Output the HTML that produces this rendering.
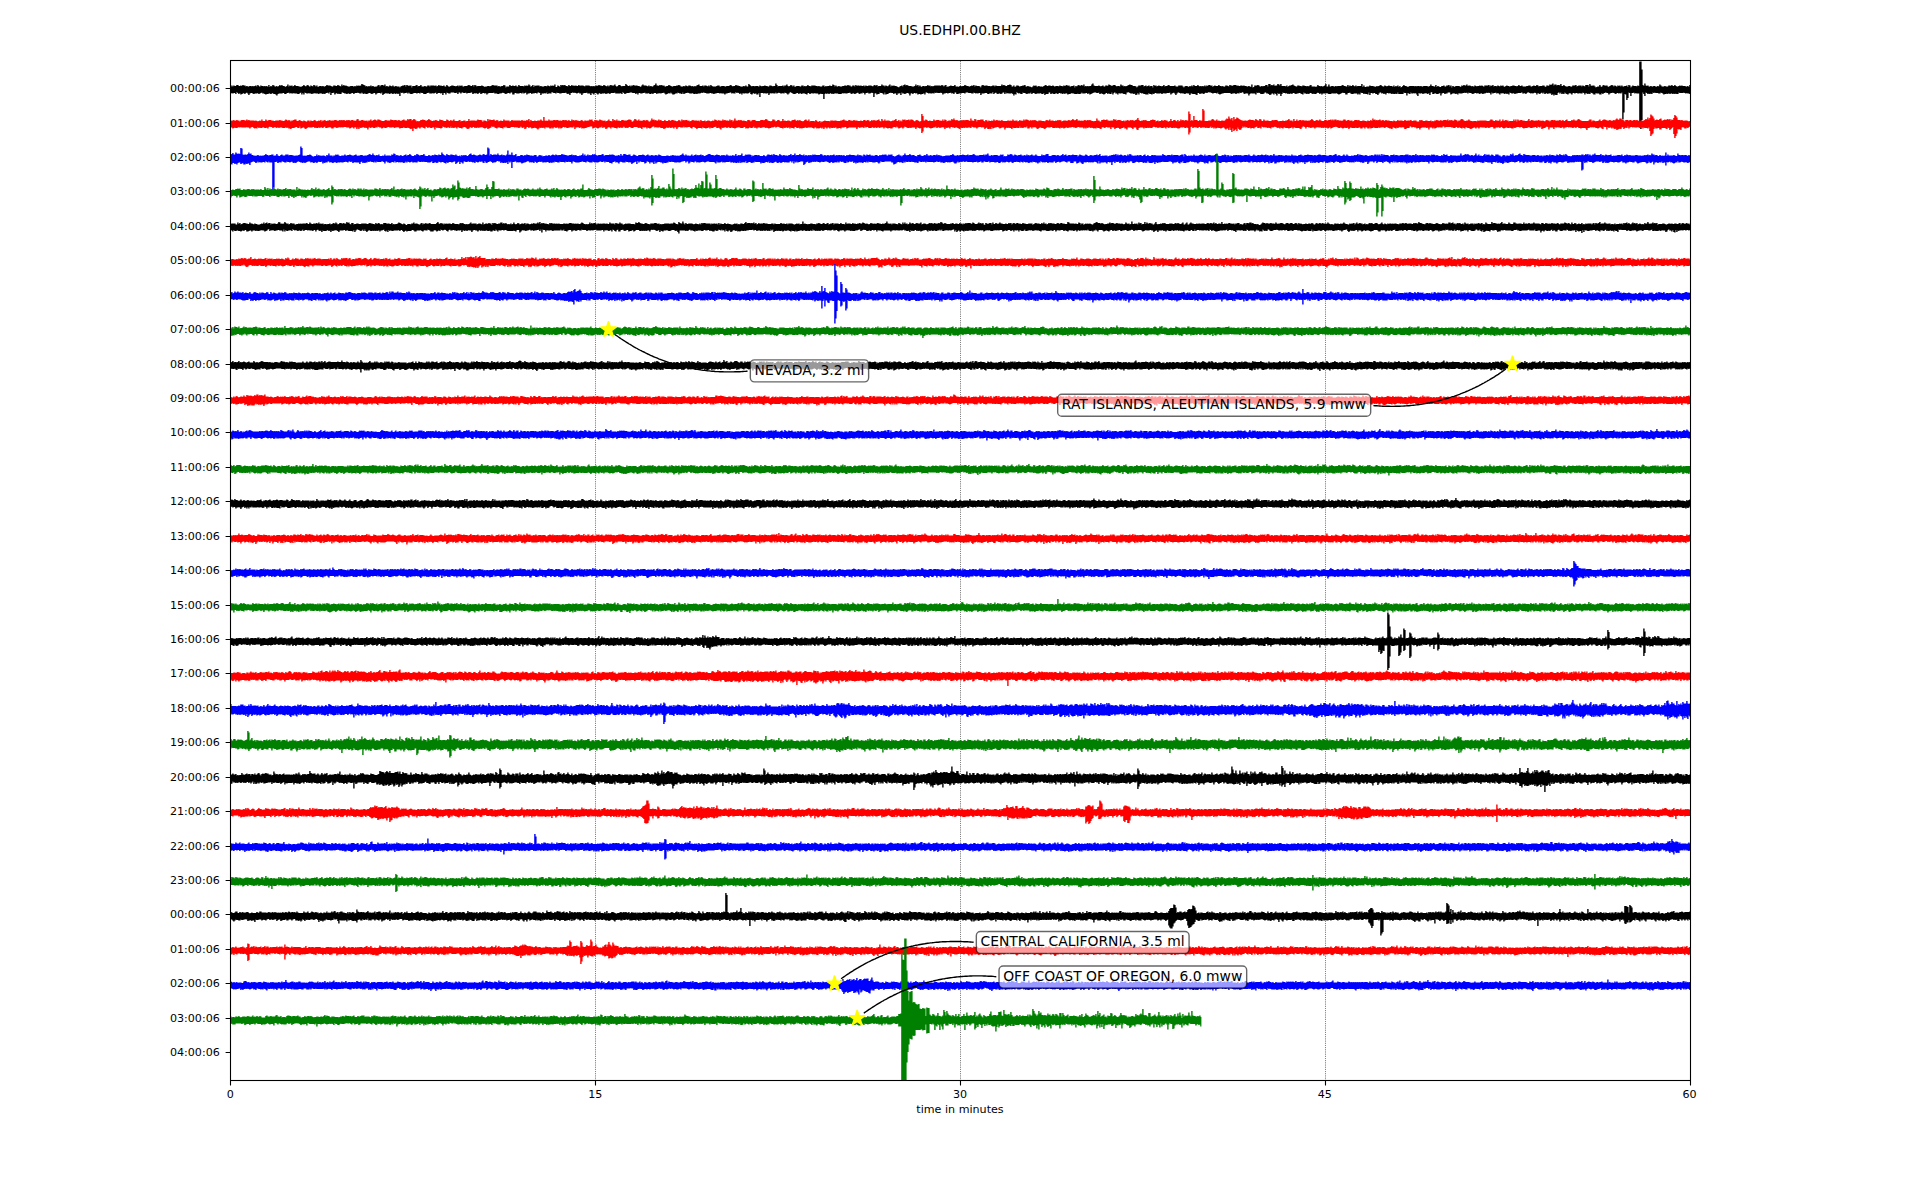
<!DOCTYPE html>
<html><head><meta charset="utf-8"><title>US.EDHPI.00.BHZ</title>
<style>html,body{margin:0;padding:0;background:#fff;width:1920px;height:1200px;overflow:hidden}svg{display:block}</style>
</head><body>
<svg width="1920" height="1200" viewBox="0 0 1920 1200">
<rect width="1920" height="1200" fill="#fff"/>
<line x1="595.5" y1="61" x2="595.5" y2="1080" stroke="#000" stroke-width="0.7" stroke-dasharray="0.7 1.15"/>
<line x1="960.5" y1="61" x2="960.5" y2="1080" stroke="#000" stroke-width="0.7" stroke-dasharray="0.7 1.15"/>
<line x1="1325.5" y1="61" x2="1325.5" y2="1080" stroke="#000" stroke-width="0.7" stroke-dasharray="0.7 1.15"/>
<g transform="scale(0.2 0.5)">
<path fill="#000000" d="M1152 174h4v-3h7v2h3v-2h7v1h8v-2h12v2h8v-1h7v1h3v-2h7v1h10v2h3v-1h7v1h8v-1h12v1h3v-1h7v1h3v-1h5v-1h7v2h3v-3h7v2h5v2h3v-3h7v1h10v1h3v-1h7v1h3v-1h7v2h3v-4h7v4h3v-2h7v1h3v-3h7v1h5v2h8v-1h7v2h3v-2h5v-2h7v2h3v-2h7v2h10v1h5v1h3v-2h5v-3h7v4h3v-2h7v1h3v-1h7v2h3v-1h5v-2h7v2h15v1h10v1h3v-1h5v-1h5v-2h7v2h5v1h3v-2h5v-1h7v2h5v2h3v-3h7v1h5v1h3v-3h7v1h5v2h3v-2h7v3h3v-1h5v-1h12v1h3v-1h7v1h8v-1h5v-2h7v1h15v1h5v1h8v-2h12v1h8v-2h7v1h5v1h5v1h3v-4h7v3h3v-2h7v2h3v-1h7v1h5v1h13v-1h17v2h3v-2h7v1h3v-2h7v1h3v-1h7v1h3v-1h5v-3h7v1h5v1h5v1h5v2h3v-1h7v2h3v-2h7v1h3v-2h7v2h3v-1h7v1h5v1h3v-1h10v-2h5v-1h7v3h3v-2h5v-1h12v2h3v-3h7v4h3v-1h7v1h8v-2h7v1h5v1h3v-2h7v2h8v-1h7v1h15v2h3v-2h5v-1h5v-1h10v-1h7v3h3v-3h7v1h5v1h3v-1h12v4h3v-3h15v-1h5v-1h7v3h3v-1h10v-2h7v3h13v-1h7v1h8v-2h12v2h3v-2h22v1h3v-1h7v2h3v-1h5v-2h7v2h3v-1h7v1h8v-1h7v2h8v-3h7v2h5v2h3v-1h5v-1h5v-1h12v1h10v1h3v-1h5v-1h7v2h3v-2h7v1h3v-1h7v2h8v-1h15v-1h5v-1h7v1h5v1h8v-2h7v3h3v-3h7v1h5v2h3v-1h20v-1h7v1h5v1h5v1h3v-1h10v-1h12v1h3v-1h5v-1h5v-1h7v1h20v2h3v-1h7v1h8v-1h10v-2h7v1h5v4h3v-2h15v-3h7v2h8v-1h7v1h8v-1h7v2h8v-3h7v2h20v1h3v-2h7v1h3v-1h7v1h3v-3h7v2h5v3h3v-2h5v-2h7v4h3v-3h7v1h3v-1h17v2h3v-1h7v1h13v-1h12v1h3v-2h7v1h5v1h3v-2h7v1h3v-1h7v1h3v-3h7v5h8v-3h7v1h5v2h3v-4h7v1h3v-1h7v1h3v-1h7v2h10v1h3v-3h7v2h8v-2h7v2h3v-1h7v1h3v-1h7v1h8v-2h7v2h3v-1h17v1h5v1h3v-2h22v1h5v1h3v-1h7v1h3v-1h7v1h3v-1h5v-1h7v1h3v-2h7v1h10v1h8v-2h7v1h5v1h5v1h3v-2h7v2h3v-2h5v-1h7v1h13v-2h7v3h5v2h3v-2h5v-2h12v2h5v1h3v-1h15v-4h7v2h5v2h8v-1h7v2h3v-2h10v-1h7v2h3v-1h12v1h10v1h5v1h3v-3h5v-2h7v2h15v1h5v1h3v-2h7v2h3v-1h7v1h8v-2h5v-1h5v-3h7v4h10v1h3v-2h7v1h3v-1h7v2h3v-1h7v2h8v-1h10v-2h7v1h5v1h5v1h8v-1h15v-1h10v-1h7v1h5v2h13v-1h7v1h3v-2h7v1h5v1h3v-2h12v1h5v1h3v-1h7v2h3v-2h7v1h3v-2h5v-1h5v-1h7v3h13v-1h7v2h3v-2h12v1h5v1h3v-2h7v2h3v-3h7v2h5v1h18v-1h5v-1h12v2h8v-1h17v1h8v-1h15v-1h5v-1h7v2h5v1h3v-1h10v-2h7v1h10v1h10v2h3v-1h10v-1h7v1h3v-2h7v2h8v-5h7v2h5v2h5v1h3v-1h12v1h3v-1h17v2h3v-3h7v1h5v1h3v-1h10v-1h7v1h10v1h8v-2h12v1h5v1h3v-1h10v-5h7v3h5v3h3v-1h20v-1h7v2h3v-2h10v-2h7v3h5v1h3v-1h5v-2h7v1h5v2h3v-2h7v3h3v-1h5v-1h17v1h8v-2h12v2h3v-1h7v1h3v-1h5v-2h7v2h10v1h3v-2h22v1h10v1h3v-1h7v1h13v-2h12v3h3v-2h7v1h3v-1h10v-1h7v1h8v-3h7v1h5v3h3v-2h7v2h8v-1h7v1h13v-1h10v-1h12v1h3v-2h7v1h10v2h8v-2h12v2h3v-3h7v2h3v-1h12v1h3v-1h7v1h8v-1h7v2h3v-2h7v1h8v-1h17v1h5v1h3v-2h5v-1h7v2h3v-2h7v3h3v-1h15v-3h7v2h10v2h3v-2h7v1h5v1h3v-2h5v-2h7v4h3v-2h7v1h3v-1h7v1h10v1h5v1h5v1h3v-2h5v-1h5v-1h7v2h3v-3h5v-1h7v2h3v-1h7v1h5v1h15v1h13v-1h5v-3h7v3h3v-2h7v3h3v-2h7v2h5v1h3v-2h12v1h3v-1h10v-2h7v2h3v-1h7v2h3v-1h7v1h3v-1h5v-1h32v1h3v-2h7v1h5v2h3v-2h5v-1h7v4h3v-1h10v-1h5v-1h7v1h13v-2h7v3h15v1h3v-2h12v1h3v-1h10v-2h7v1h5v1h10v1h8v-1h5v-1h7v1h3v-2h7v3h3v-2h7v1h15v1h5v2h3v-4h5v-1h7v1h5v1h3v-1h12v1h15v1h3v-1h5v-1h12v2h3v-2h7v1h23v-3h7v2h3v-1h7v1h5v1h8v-2h10v-1h7v1h5v3h8v-2h7v3h3v-1h5v-2h12v1h5v2h3v-2h10v-1h10v-1h7v3h8v-1h7v1h10v1h5v1h3v-2h5v-2h7v1h3v-1h7v2h8v-1h7v1h15v1h3v-2h5v-1h5v-1h7v2h8v-1h12v1h8v-1h7v1h5v2h3v-2h17v1h3v-2h7v1h10v1h3v-2h7v1h3v-1h5v-1h7v2h3v-1h7v2h8v-1h10v-1h7v4h3v-3h7v1h3v-2h5v-1h7v2h3v-1h5v-1h7v2h3v-3h7v4h3v-1h7v1h3v-1h7v1h3v-1h10v-3h5v-2h7v4h5v1h18v-1h7v1h5v1h3v-1h5v-1h7v2h8v-2h12v1h3v-3h7v1h5v1h5v1h3v-1h5v-1h12v2h5v1h3v-1h12v1h3v-4h7v2h10v2h3v-1h7v1h3v-1h5v-1h5v-1h5v-1h7v1h10v2h15v1h5v2h3v-2h5v-2h15v-1h12v3h3v-1h5v-1h7v2h3v-1h5v-1h7v2h3v-1h12v3h3v-5h7v2h3v-1h7v2h3v-1h5v-1h7v1h10v1h3v-1h5v-2h7v3h3v-1h10v-1h5v-1h7v2h23v-1h7v2h13v-2h22v2h5v2h3v-2h5v-1h12v1h5v1h3v-2h7v1h3v-2h7v2h3v-3h7v2h13v-2h7v2h5v1h3v-1h7v1h3v-1h7v1h3v-2h7v2h3v-2h7v1h3v-2h12v2h3v-1h7v3h3v-2h5v-1h7v1h13v-2h7v2h10v1h3v-1h7v2h3v-1h5v-2h12v1h5v1h3v-3h7v1h10v1h3v-2h17v2h3v-1h7v1h8v-1h12v1h3v-1h7v1h10v1h8v-1h7v1h5v1h3v-5h7v6h3v-1h5v-3h15v-1h7v1h5v2h8v-1h7v1h3v-1h10v-2h12v3h3v-5h12v3h3v-1h7v1h3v-2h7v3h3v-1h10v-3h7v1h5v2h3v-3h7v4h20v1h3v-2h7v3h3v-2h5v-1h10v-1h5v-1h7v2h5v1h5v1h8v-2h12v1h10v1h3v-2h12v1h10v1h3v-1h7v1h3v-2h5v-1h7v3h20v1h3v-1h5v-3h7v2h10v1h3v-1h7v2h3v-2h5v-1h5v-3h7v5h8v-4h7v4h8v-1h12v1h8v-1h7v1h3v-1h20v-1h5v-1h7v2h10v1h8v-3h7v3h3v-2h7v1h8v-2h7v2h5v1h3v-2h7v2h3v-1h20v-4h7v6h3v-3h7v3h8v-1h15v-2h7v1h15v1h10v1h3v-2h7v1h3v-1h5v-1h5v-1h7v2h5v1h8v-2h7v1h5v1h3v-1h5v-1h7v1h15v2h3v-3h7v3h3v-2h7v1h3v-2h7v3h3v-2h7v3h3v-1h5v-2h5v-2h7v2h10v1h5v1h3v-1h5v-1h27v1h3v-1h7v1h3v-1h12v1h3v-1h7v1h8v-1h22v1h8v-1h5v-3h7v3h10v1h8v-3h7v4h3v-2h7v1h5v1h8v-2h10v-1h7v2h8v-2h10v-1h7v3h3v-2h7v4h3v-3h7v1h5v1h3v-2h22v1h5v1h3v-3h7v1h3v-2h7v1h8v-2h7v3h3v-1h12v1h5v1h3v-1h7v2h3v-3h7v1h5v1h3v-1h10v-1h7v1h3v-1h7v1h5v2h3v-3h20v-1h7v3h3v-2h7v1h3v-2h7v3h3v-1h12v1h3v-2h7v1h5v1h3v-2h7v1h3v-1h7v2h5v1h3v-2h5v-1h7v1h10v2h3v-2h10v-1h12v1h10v1h3v-1h5v-2h7v2h8v-1h7v2h18v-1h10v-1h12v2h8v-1h5v-1h7v1h8v-2h7v1h5v2h3v-1h15v-1h12v2h5v1h3v-3h12v1h3v-3h7v1h3v-1h5v-2h7v4h3v-2h12v2h3v-1h12v1h3v-3h7v4h8v-2h7v2h5v1h13v-1h12v2h3v-1h5v-2h15v-1h7v3h3v-1h5v-1h17v2h3v-2h7v1h5v1h3v-3h17v3h3v-5h7v3h5v1h3v-1h12v2h5v2h3v-1h5v-1h10v-3h7v3h5v1h3v-3h5v-1h7v2h3v-1h12v2h5v1h3v-2h5v-1h5v-1h7v1h5v2h3v-2h7v1h5v2h3v-3h7v1h3v-1h7v2h3v-2h7v2h8v-1h10v-1h7v3h3v-4h7v1h5v4h3v-2h5v-2h7v1h15v1h3v-2h7v1h3v-49h12v16h5v31h5v2h3v-5h7v4h5v1h3v-1h7v2h8v-1h7v1h8v-1h12v2h3v-1h5v-1h7v1h3v-4h7v2h5v2h13v-1h7v1h13v-2h12v1h3v-2h7v2h8v-2h7v2h5v1h8v-1h5v-1h7v1h3v-1h7v1h15v1h8v-1h7v2h3v-4h6V188h-6v-1h-10v-1h-3v1h-7v-1h-5v-1h-3v1h-22v-1h-3v3h-12v-1h-3v1h-7v-1h-3v1h-7v-1h-8v1h-7v-2h-3v2h-7v-1h-3v1h-10v1h-7v-2h-5v-1h-5v-1h-3v2h-12v-1h-15v-1h-3v1h-7v-1h-3v3h-7v-1h-3v1h-7v-1h-3v1h-7v-2h-5v-1h-3v7h-7v-4h-5v-3h-3v55h-5v18h-7v-6h-5v-65h-15v-1h-3v1h-7v-2h-3v1h-10v6h-7v-6h-5v-1h-3v11h-5v4h-7v-11h-5v-1h-3v37h-5v14h-7v-54h-3v2h-7v-1h-3v1h-7v-1h-8v2h-7v-1h-5v-1h-5v-1h-3v1h-10v1h-5v2h-7v-3h-10v-2h-3v2h-10v2h-7v-2h-3v3h-12v-2h-15v-1h-3v3h-12v-2h-5v-1h-5v-1h-3v3h-7v-1h-3v1h-7v-1h-5v-1h-3v3h-7v-3h-5v-1h-3v2h-12v-1h-3v1h-12v-1h-8v1h-7v-1h-8v3h-7v-2h-5v-1h-3v1h-5v2h-7v-1h-5v-1h-5v-2h-3v3h-7v-1h-3v1h-7v-3h-3v2h-7v-3h-3v2h-5v4h-12v-1h-3v2h-7v-3h-3v2h-7v-3h-10v-1h-3v2h-7v-2h-3v1h-5v1h-7v-3h-3v2h-7v-2h-3v1h-5v2h-7v-1h-5v-1h-3v3h-7v-3h-5v-1h-3v1h-5v1h-7v-1h-3v1h-7v-1h-5v-1h-5v-1h-3v2h-5v2h-7v-2h-3v1h-12v-3h-3v2h-20v1h-10v1h-7v-2h-3v1h-12v-1h-5v-1h-3v4h-7v-2h-3v1h-7v-2h-3v2h-7v-1h-5v-1h-3v1h-7v-1h-3v3h-7v-2h-5v-1h-3v1h-7v-2h-3v1h-10v1h-7v-2h-3v4h-7v-3h-5v-1h-3v1h-7v-1h-3v1h-5v1h-10v1h-7v-1h-5v-1h-3v2h-7v-1h-5v-1h-3v1h-7v-1h-8v1h-5v1h-7v-1h-5v-1h-10v-1h-3v2h-7v-2h-3v1h-7v-1h-3v1h-10v1h-17v-1h-3v3h-7v-2h-3v1h-7v-1h-10v-1h-3v2h-5v1h-7v-4h-13v2h-10v1h-7v-2h-8v1h-5v4h-7v-5h-3v1h-5v1h-12v-1h-5v-1h-3v2h-12v-4h-3v1h-5v5h-7v-4h-3v2h-7v-1h-5v-1h-3v1h-10v1h-7v-2h-3v1h-12v-1h-3v6h-7v-3h-5v-3h-3v1h-7v-1h-3v1h-12v-2h-3v3h-7v-1h-5v-1h-3v5h-7v-5h-10v-1h-3v3h-27v-3h-3v3h-7v-1h-3v1h-12v-1h-3v1h-7v-1h-5v-1h-3v1h-7v-1h-8v3h-7v-2h-3v1h-7v-2h-3v1h-7v-2h-8v2h-5v3h-7v-2h-10v-2h-8v1h-7v-1h-8v4h-7v-5h-3v4h-7v-1h-10v-1h-3v1h-7v-2h-10v-1h-3v4h-7v-2h-3v2h-7v-2h-18v1h-12v-1h-5v-2h-3v1h-10v3h-12v-3h-10v-1h-3v1h-5v1h-5v1h-5v1h-7v-1h-5v-2h-3v1h-22v-1h-3v2h-17v-1h-5v-1h-3v1h-20v2h-7v-3h-3v2h-7v-2h-5v-1h-3v1h-5v2h-12v-1h-3v1h-7v-1h-5v-1h-8v2h-7v-1h-3v1h-7v-1h-10v-2h-3v4h-7v-1h-5v-1h-5v-1h-8v1h-10v1h-7v-1h-5v-1h-8v2h-7v-2h-3v2h-7v-1h-3v1h-7v-2h-3v1h-7v-1h-10v-1h-3v3h-5v4h-7v-5h-3v1h-7v-2h-3v5h-7v-3h-5v-2h-3v3h-7v-2h-8v2h-5v1h-7v-2h-5v-1h-10v-2h-8v2h-5v1h-17v-2h-5v-1h-3v1h-7v-1h-3v4h-7v-2h-20v-1h-3v2h-5v3h-7v-4h-10v-1h-3v2h-7v-1h-5v-3h-3v1h-5v1h-7v-1h-3v2h-7v-1h-3v1h-5v1h-7v-2h-3v1h-7v-1h-3v2h-7v-1h-5v-1h-33v1h-10v1h-5v1h-7v-1h-5v-3h-3v2h-7v-1h-13v1h-7v-1h-5v-1h-10v-1h-3v1h-5v1h-7v-1h-3v1h-5v2h-7v-1h-13v1h-7v-2h-8v4h-7v-1h-5v-1h-15v-1h-8v3h-7v-3h-10v-1h-3v1h-5v1h-7v-1h-10v-1h-3v1h-7v-1h-5v-1h-8v2h-5v3h-7v-3h-5v-2h-3v1h-5v1h-5v2h-7v-4h-3v1h-15v1h-12v-1h-3v1h-5v1h-7v-2h-3v1h-22v-1h-8v2h-7v-1h-3v2h-7v-1h-10v-2h-3v3h-17v-1h-10v-2h-3v1h-7v-1h-5v-1h-3v4h-7v-3h-3v3h-5v1h-7v-3h-3v1h-7v-1h-15v-1h-5v-2h-3v1h-10v4h-7v-1h-10v-1h-5v-1h-3v1h-12v-1h-3v3h-7v-2h-10v-3h-3v2h-5v3h-7v-4h-3v3h-12v-2h-3v2h-7v-2h-8v2h-5v1h-7v-1h-5v-1h-8v1h-7v-3h-3v1h-12v-1h-13v1h-5v1h-5v1h-5v1h-7v-3h-3v2h-7v-2h-8v1h-17v-2h-3v2h-5v1h-12v-1h-3v1h-17v-1h-10v-1h-3v1h-5v1h-10v1h-7v-2h-5v-1h-3v2h-7v-2h-3v2h-7v-1h-10v-1h-8v2h-7v-1h-5v-1h-3v2h-12v-1h-8v1h-7v-3h-8v3h-15v2h-7v-4h-3v2h-12v-2h-3v1h-20v1h-7v-1h-5v-1h-8v2h-7v-3h-3v2h-15v1h-7v-1h-5v-1h-10v-1h-3v3h-12v-2h-3v1h-7v-1h-5v-2h-3v5h-7v-1h-3v3h-7v-3h-5v-2h-3v1h-17v-1h-3v1h-7v-2h-3v3h-7v-3h-8v2h-5v1h-7v-1h-8v1h-7v-1h-5v-2h-3v1h-5v2h-7v-4h-3v3h-12v-1h-3v2h-12v-2h-13v1h-15v3h-7v-4h-8v1h-7v-1h-3v1h-7v-1h-5v-1h-3v2h-12v-1h-15v-1h-13v2h-7v-1h-13v1h-15v1h-12v-3h-8v3h-7v-2h-3v1h-7v-2h-3v1h-10v1h-7v-1h-8v1h-10v2h-7v-3h-5v-1h-3v1h-17v-1h-3v1h-7v-1h-3v2h-7v-1h-3v1h-12v-1h-3v1h-7v-1h-5v-1h-8v4h-7v-3h-3v2h-10v1h-7v-1h-8v1h-7v-3h-3v1h-7v-1h-8v2h-7v-2h-3v1h-5v4h-7v-4h-5v-1h-8v1h-5v1h-7v-1h-10v-2h-3v5h-7v-4h-3v1h-10v3h-7v-3h-5v-1h-3v2h-7v-2h-10v-1h-3v1h-10v2h-10v1h-7v-4h-3v4h-7v-2h-5v-1h-10v-1h-3v3h-10v1h-7v-3h-3v1h-5v7h-7v-8h-5v-1h-3v1h-5v1h-12v-2h-3v1h-10v3h-7v-3h-5v-1h-3v2h-7v-1h-3v2h-7v-1h-5v-2h-3v1h-5v1h-5v1h-7v-1h-5v-1h-3v2h-7v-1h-5v-2h-3v1h-10v1h-12v-1h-3v1h-7v-1h-3v1h-5v1h-17v-1h-15v-1h-3v2h-7v-1h-3v1h-7v-2h-3v1h-5v1h-7v-2h-3v2h-7v-2h-3v2h-5v10h-7v-10h-10v-1h-3v1h-5v1h-7v-2h-15v-1h-3v1h-12v-1h-3v1h-5v1h-7v-2h-8v3h-7v-1h-5v-1h-10v-1h-3v2h-7v-1h-5v-1h-3v2h-7v-2h-8v1h-5v1h-12v-1h-5v-1h-5v-2h-3v1h-5v2h-5v2h-7v-2h-5v-1h-5v-1h-3v2h-7v-1h-3v1h-12v-1h-5v-1h-3v1h-5v1h-7v-2h-3v2h-12v-1h-3v1h-7v-1h-3v1h-5v3h-7v-4h-3v1h-12v-1h-3v1h-7v-1h-13v8h-7v-8h-3v3h-12v-3h-3v2h-7v-2h-3v1h-5v2h-7v-1h-5v-4h-3v2h-5v1h-12v-1h-3v1h-12v-1h-3v3h-7v-3h-3v2h-7v-2h-5v-1h-3v1h-7v-2h-3v3h-12v-1h-3v1h-7v-2h-8v1h-10v1h-10v2h-7v-2h-15v-1h-3v1h-7v-1h-13v1h-10v1h-7v-1h-10v-1h-8v1h-17v-1h-10v-2h-3v2h-7v-1h-3v1h-5v1h-15v1h-7v-1h-3v1h-12v-2h-3v1h-17v-1h-5v-1h-3v1h-10v1h-5v1h-7v-3h-3v3h-7v-1h-10v-1h-5v-1h-3v2h-7v-1h-3v2h-5v1h-12v-2h-5v-2h-3v2h-7v-1h-3v1h-5v1h-5v1h-7v-2h-5v-2h-3v1h-10v1h-7v-1h-3v1h-7v-1h-3v2h-7v-2h-13v2h-7v-2h-3v2h-12v-2h-3v1h-17v-2h-3v1h-10v1h-12v-1h-8v3h-7v-3h-3v2h-7v-2h-15v-1h-13v1h-15v1h-5v1h-7v-2h-5v-2h-3v4h-7v-2h-3v1h-27v-2h-3v1h-20v2h-7v-2h-3v1h-10v1h-7v-2h-3v1h-15v1h-7v-2h-3v1h-5v2h-7v-2h-5v-1h-8v3h-7v-2h-5v-1h-3v4h-7v-3h-15v-2h-3v1h-15v1h-5v3h-7v-3h-10v-2h-3v1h-5v1h-7v-1h-5v-1h-3v1h-7v-2h-3v2h-10v4h-7v-3h-3v1h-7v-1h-5v-2h-3v1h-20v1h-12v-1h-10v-1h-3v2h-7v-1h-10v-1h-5v-1h-3v3h-12v-1h-3v2h-7v-3h-3v2h-7v-1h-3v1h-15v3h-7v-4h-5v-1h-8v2h-7v-1h-8v1h-7v-1h-3v2h-7v-2h-8v1h-10v2h-7v-4h-3v1h-5v1h-7v-2h-3v2h-7v-1h-8v1h-17v-1h-8v3h-12v-4h-8v2h-7v-1h-8v1h-5v1h-7v-1h-5v-1h-5v-1h-3v1h-5v1h-7v-1h-3v2h-12v-1h-15v-2h-3v1h-25v1h-5v2h-7v-3h-3v1h-7v-1h-8v1h-5v1h-7v-3h-3v1h-5v2h-7v-2h-3v1h-7v-1h-3v1h-5v1h-7v-3h-8v1h-15v1h-7v-2h-3v1h-12v-1h-8v2h-7v-2h-8v3h-7v-3h-3v1h-12v-1h-18v2h-12v-1h-5v-1h-3v4h-7v-3h-8v4h-7v-4h-3v1h-7v-1h-13v2h-7v-3h-3v1h-5v1h-7v-1h-3v1h-17v-2h-3v1h-10v2h-17v-2h-10v-1h-3v2h-7v-1h-8v1h-7v-1h-13v1h-5v1h-12v-1h-5v-2h-3v2h-7v-2h-3v1h-10v1h-7v-2h-3v1h-7v-1h-3v7h-7v-5h-3v1h-7v-2h-3v2h-7v-1h-8v1h-7v-1h-5v-1h-3v2h-7v-1h-15v-1h-3v1h-5v1h-5v2h-7v-5h-3v2h-7v-1h-13v1h-5v2h-7v-3h-8v1h-5v1h-7v-1h-5v-1h-8v1h-5v1h-12v-2h-3v2h-7v-1h-5v-2h-3v2h-12v-1h-5v-1h-3v1h-15v2h-7v-2h-8v1h-5v1h-7v-1h-8v1h-7v-1h-10v-1h-5v-1h-8v3h-12v-1h-3v1h-7v-2h-3v1h-5v2h-7v-4h-3v1h-10v4h-7v-6h-3v3h-7v-2h-3v1h-10v2h-7v-1h-3v1h-7v-1h-10v-1h-3v2h-7v-1h-15v-1h-3v1h-10v1h-7v-1h-10v-1h-3v1h-12v-1h-5v-1h-3v4h-7v-3h-3v3h-7v-4h-3v1h-5v2h-12v-1h-15v-1h-3v1h-12v-1h-3v1h-7v-2h-3v1h-10v2h-12v-2h-8v1h-20v1h-5v3h-7v-2h-5v-1h-10v-2h-3v1h-5v1h-7v-1h-8v1h-10v1h-7v-1h-5v-1h-10v-2h-3v1h-5v1h-5v1h-7v-2h-3v1h-15v1h-7v-1h-5v-1h-8v1h-5v3h-7v-3h-5v-2h-3v1h-5v2h-7v-2h-3v1h-5v1h-5v1h-7v-3h-3v2h-7v-2h-5v-2h-3v4h-7v-2h-8v1h-7v-1h-3v1h-6Z"/>
<path fill="#ff0000" d="M1152 242h4v-1h10v-1h7v2h3v-1h5v-1h7v1h10v2h3v-2h5v-1h17v1h8v-2h7v2h3v-1h7v1h25v1h3v-1h7v1h5v1h3v-1h5v-1h7v1h3v-3h7v3h13v-3h7v2h5v1h3v-2h17v2h3v-1h7v1h8v-1h20v-1h7v1h10v1h8v-1h5v-2h7v1h5v2h3v-2h7v1h5v2h3v-2h10v-1h5v-1h12v3h8v-1h5v-1h7v2h10v1h3v-2h7v1h5v1h8v-2h12v2h3v-2h7v1h8v-1h5v-1h7v2h5v1h3v-1h5v-1h7v1h3v-2h7v3h3v-2h10v-1h7v2h8v-1h10v-1h7v2h3v-1h15v-1h12v1h5v1h3v-1h5v-1h7v1h3v-1h7v1h3v-1h7v1h5v1h3v-2h7v1h3v-1h7v1h8v-1h12v2h3v-1h7v1h3v-3h5v-1h7v3h5v1h3v-1h5v-1h12v2h3v-1h7v1h3v-1h7v2h3v-2h10v-2h7v3h3v-1h5v-1h5v-1h7v1h5v2h3v-3h12v1h5v1h5v1h13v-1h5v-1h7v1h18v-2h7v1h10v1h3v-1h12v1h8v-1h7v1h5v1h3v-1h5v-1h5v-1h7v2h13v-3h7v2h3v-2h12v3h3v-1h5v-2h7v1h5v2h5v2h3v-1h7v1h3v-1h5v-2h10v-1h7v1h10v2h3v-1h5v-1h5v-2h7v2h5v1h5v1h8v-1h10v-1h7v1h5v1h8v-3h7v1h10v1h5v1h13v-3h7v1h5v2h8v-2h7v2h3v-1h5v-2h7v3h18v-1h5v-1h7v3h3v-1h10v-1h12v2h3v-1h10v-4h7v4h3v-1h27v1h3v-1h5v-2h7v1h15v1h5v3h3v-3h12v1h5v1h3v-5h7v3h3v-2h7v1h13v-1h7v2h5v1h3v-2h7v1h5v2h3v-1h5v-1h7v1h8v-3h7v2h25v2h3v-1h5v-2h7v1h40v1h3v-2h7v1h5v1h3v-1h7v1h3v-2h7v1h3v-3h7v5h3v-3h7v2h13v-1h7v1h8v-1h15v-2h7v2h5v1h3v-8h7v7h5v1h3v-1h7v1h3v-3h7v2h18v-1h12v1h3v-1h12v2h3v-1h12v1h3v-2h12v1h3v-1h7v1h5v1h3v-2h7v2h8v-3h7v2h3v-1h7v2h3v-2h7v1h10v1h8v-1h5v-1h7v2h5v1h3v-2h12v1h3v-1h10v-2h7v1h3v-1h7v3h5v2h3v-4h7v2h3v-2h7v2h3v-1h5v-2h7v1h5v1h10v1h3v-1h7v2h3v-1h5v-1h5v-2h7v3h10v1h3v-5h7v3h3v-1h7v2h3v-3h7v3h3v-1h7v1h8v-2h12v1h18v-1h5v-1h12v1h5v3h8v-2h5v-3h7v1h5v2h8v-2h7v3h3v-1h7v1h3v-1h5v-1h7v1h8v-1h7v1h5v2h8v-2h5v-4h7v3h3v-1h7v2h3v-1h7v2h3v-1h5v-2h7v2h3v-1h7v2h13v-2h7v2h13v-2h7v1h5v1h3v-2h12v1h10v1h5v1h3v-1h5v-2h7v1h5v2h3v-4h7v2h3v-1h7v1h3v-1h12v2h3v-1h7v2h3v-1h5v-1h5v-1h7v1h20v1h3v-1h7v2h3v-3h7v2h13v-1h7v2h3v-1h5v-1h12v1h5v1h3v-1h5v-1h7v1h3v-3h7v1h5v1h5v1h3v-2h7v2h3v-1h7v1h3v-3h7v2h3v-1h7v1h15v1h3v-3h7v2h3v-1h7v3h3v-2h5v-4h7v4h13v-1h7v1h3v-1h7v1h5v1h3v-1h7v1h10v1h3v-3h12v1h5v2h3v-2h5v-1h17v2h23v-2h17v1h3v-1h5v-2h7v1h5v2h5v1h10v1h3v-1h5v-3h12v2h5v2h3v-1h5v-2h12v2h5v1h3v-1h5v-4h7v4h3v-1h7v1h8v-1h12v1h5v1h3v-2h5v-1h10v-1h7v2h5v1h3v-2h7v2h3v-2h7v2h10v1h3v-1h5v-2h5v-1h7v2h5v1h3v-3h7v4h3v-1h22v1h3v-3h7v2h5v2h3v-1h5v-1h7v3h3v-2h10v-1h5v-1h7v1h20v1h3v-2h17v1h3v-1h12v1h18v-1h10v-1h5v-1h7v2h10v1h8v-2h12v2h3v-1h7v1h3v-2h7v1h15v1h13v-1h7v1h8v-2h12v2h3v-1h5v-1h7v1h5v2h3v-1h5v-2h7v2h3v-2h7v1h13v-1h5v-1h7v3h5v1h3v-5h7v3h5v1h3v-3h7v3h3v-1h17v1h5v1h3v-1h5v-1h10v-1h5v-2h7v4h8v-2h7v3h3v-2h7v2h3v-4h7v1h3v-1h7v2h3v-1h10v-1h7v2h3v-2h12v1h5v2h5v1h3v-2h5v-1h7v1h5v1h5v2h3v-2h5v-14h7v4h5v9h8v-2h7v1h5v2h8v-1h7v1h13v-3h7v2h8v-1h17v2h3v-1h7v1h3v-3h7v3h3v-3h7v1h5v3h3v-1h5v-1h15v-3h7v2h3v-3h7v3h5v1h3v-1h7v1h5v1h3v-1h7v1h3v-2h7v1h3v-1h7v1h3v-1h17v1h5v1h3v-5h7v4h10v1h3v-4h7v1h5v4h3v-3h15v-1h17v3h5v1h3v-3h7v1h5v2h3v-2h7v1h8v-1h7v1h3v-3h7v2h8v-1h7v1h15v1h3v-2h7v2h23v-1h12v1h3v-1h7v1h3v-3h7v2h5v1h3v-1h12v2h3v-1h5v-2h7v2h3v-1h7v1h3v-3h7v2h3v-2h12v1h5v1h5v1h3v-2h7v2h3v-2h7v1h3v-1h7v1h5v1h5v1h3v-2h17v1h15v1h3v-2h5v-1h7v1h8v-2h7v3h3v-1h12v1h8v-1h7v1h3v-2h7v1h3v-1h7v1h5v2h3v-1h5v-1h17v1h3v-1h5v-1h7v1h8v-1h5v-2h7v2h5v1h3v-1h5v-2h7v3h15v1h3v-1h7v1h3v-1h5v-1h7v1h8v-1h7v1h3v-1h7v1h5v1h10v1h3v-1h10v-5h7v4h10v2h8v-3h10v-1h7v1h8v-1h7v2h10v1h3v-1h15v-3h7v2h3v-1h7v3h3v-2h17v1h5v1h8v-1h7v2h3v-2h10v-1h7v2h3v-1h5v-1h7v1h3v-1h7v2h3v-1h5v-1h5v-1h5v-3h7v4h5v2h8v-1h10v-1h7v1h3v-1h7v2h18v-2h10v-1h7v1h10v3h3v-1h5v-1h7v2h3v-1h10v-2h7v2h3v-1h5v-1h7v1h10v2h8v-1h5v-4h7v4h8v-2h12v2h5v1h3v-3h7v3h3v-1h5v-3h7v2h3v-1h7v1h8v-1h7v1h8v-18h7v5h5v14h3v-2h7v2h3v-10h7v8h15v2h8v-2h7v2h3v-1h5v-23h7v3h5v21h18v-1h15v-2h5v-1h7v2h5v2h3v-1h5v-2h7v3h3v-1h7v1h8v-1h12v1h3v-1h5v-2h5v-2h7v1h3v-5h7v4h5v2h3v-3h7v5h3v-7h7v5h3v-1h5v-3h7v1h5v2h5v1h5v1h5v1h10v1h3v-1h12v1h3v-1h5v-1h5v-1h7v1h15v1h8v-3h7v2h5v1h8v-3h7v1h5v3h8v-3h7v2h5v1h3v-1h12v1h13v-1h5v-1h7v1h3v-1h17v2h5v1h3v-1h15v-1h7v1h8v-1h10v-1h5v-2h7v3h15v2h3v-5h7v4h8v-3h7v3h3v-1h5v-1h12v2h3v-2h7v1h20v1h3v-1h10v-1h5v-2h7v2h5v2h8v-1h5v-1h7v1h8v-2h7v2h5v1h13v-2h12v1h8v-1h10v-1h7v2h3v-2h7v2h3v-2h12v2h3v-1h7v1h15v1h3v-1h5v-2h12v2h5v1h3v-2h12v2h3v-1h12v2h3v-1h5v-2h17v1h3v-1h7v2h13v-1h12v1h10v1h3v-2h7v1h8v-2h7v2h3v-5h7v3h3v-1h7v2h3v-1h7v1h3v-1h5v-1h7v2h8v-1h7v1h5v1h3v-2h7v1h15v1h15v1h3v-2h7v1h5v1h3v-1h5v-2h7v2h3v-1h17v1h8v-2h7v1h5v1h3v-1h15v-1h7v2h8v-1h17v2h13v-3h7v1h3v-1h7v2h13v-1h12v1h13v-1h7v2h3v-1h7v1h3v-2h10v-1h7v1h10v1h3v-2h7v2h3v-1h5v-1h17v1h3v-2h7v3h3v-2h7v1h3v-1h7v2h3v-1h5v-2h7v1h5v1h5v2h3v-2h10v-2h5v-1h7v1h5v2h5v1h8v-1h10v-2h7v2h5v1h10v1h3v-1h17v1h3v-2h7v1h3v-1h37v1h13v-1h5v-2h12v2h5v1h8v-2h7v2h3v-1h7v1h3v-3h7v4h3v-1h5v-3h7v3h3v-1h5v-1h7v1h10v2h3v-1h20v-3h7v3h3v-3h7v4h3v-4h7v2h8v-1h12v2h3v-1h7v1h13v-1h5v-3h7v4h3v-1h5v-1h7v1h10v1h3v-1h15v-1h7v2h3v-1h7v1h3v-1h7v1h5v1h3v-2h5v-1h7v1h10v2h3v-2h5v-1h12v1h3v-1h7v2h3v-1h15v-1h7v1h5v1h3v-2h7v2h8v-2h5v-1h7v3h18v-2h7v1h3v-2h7v2h13v-2h5v-1h7v2h5v1h5v1h33v-1h5v-2h12v4h3v-2h12v1h5v1h3v-1h10v-1h5v-2h7v3h8v-2h5v-1h12v1h5v1h13v-1h7v1h5v1h3v-1h5v-1h7v1h3v-2h5v-2h7v2h5v1h3v-3h12v2h5v1h5v1h5v2h3v-3h17v2h3v-2h12v2h3v-1h5v-1h12v1h3v-1h7v1h5v1h5v1h3v-2h12v1h3v-1h5v-1h5v-2h7v1h3v-4h7v4h3v-3h5v-7h7v2h5v2h5v4h5v4h3v-1h5v-1h7v1h8v-2h5v-1h7v4h8v-1h5v-1h7v1h3v-1h5v-1h7v2h3v-2h7v3h3v-2h7v1h3v-4h5v-6h7v2h5v3h5v5h15v1h3v-1h7v1h5v1h3v-1h17v1h5v1h3v-1h6V253h-4v1h-5v2h-7v-1h-3v2h-12v-2h-5v-1h-3v1h-5v5h-7v-2h-3v1h-7v-1h-3v9h-5v5h-5v4h-7v-8h-5v-14h-3v2h-5v2h-5v2h-7v-4h-5v-1h-3v3h-7v-1h-5v-1h-18v3h-12v-3h-8v1h-12v-2h-3v3h-5v9h-5v2h-5v3h-7v-10h-5v-7h-3v2h-7v-1h-15v-1h-3v2h-7v-3h-3v1h-5v1h-7v-1h-5v-1h-3v1h-17v-1h-3v1h-7v-1h-8v1h-5v2h-7v-4h-3v3h-7v-1h-3v1h-5v2h-7v-4h-3v1h-5v3h-7v-1h-3v1h-5v1h-5v1h-7v-3h-3v1h-7v-1h-5v-2h-3v2h-7v-2h-8v1h-7v-2h-3v5h-7v-5h-10v-1h-3v5h-7v-1h-5v-2h-5v-1h-3v2h-5v1h-7v-1h-10v-2h-3v1h-7v-1h-3v1h-7v-1h-3v1h-5v1h-10v4h-7v-3h-5v-1h-18v1h-7v-1h-10v-2h-8v2h-7v-2h-3v1h-5v1h-7v-1h-10v-1h-3v1h-7v-1h-8v1h-10v2h-7v-3h-3v1h-5v1h-7v-1h-10v-1h-3v1h-12v-1h-3v4h-7v-3h-18v4h-7v-5h-5v-1h-3v1h-5v2h-10v1h-5v1h-7v-5h-3v2h-7v-1h-5v-1h-3v3h-7v-2h-8v1h-10v1h-12v-1h-5v-1h-3v1h-5v1h-15v1h-7v-1h-5v-2h-8v1h-7v-1h-13v1h-5v1h-7v-1h-3v2h-12v-1h-5v-1h-3v1h-12v-1h-8v1h-5v1h-7v-1h-5v-2h-8v2h-7v-2h-3v1h-15v2h-12v-3h-13v1h-5v1h-7v-1h-8v1h-7v-1h-20v-1h-3v1h-5v2h-7v-2h-8v2h-7v-2h-8v1h-5v1h-5v1h-7v-1h-5v-1h-10v-1h-5v-1h-3v3h-7v-1h-5v-1h-3v2h-7v-1h-5v-1h-8v1h-7v-2h-8v2h-12v-1h-10v-1h-28v1h-7v-2h-8v2h-12v-1h-3v1h-7v-1h-3v1h-5v1h-5v1h-7v-2h-3v2h-7v-2h-13v4h-7v-4h-3v1h-7v-1h-23v1h-5v3h-7v-3h-8v1h-7v-2h-10v-1h-8v1h-7v-2h-8v3h-15v2h-12v-3h-5v-1h-3v1h-12v-1h-3v1h-5v1h-7v-1h-3v2h-7v-1h-5v-1h-8v3h-7v-1h-10v-1h-5v-1h-5v-1h-8v2h-7v-1h-5v-1h-3v1h-7v-1h-3v2h-7v-2h-3v2h-22v-2h-3v2h-10v1h-7v-2h-3v2h-12v-2h-5v-1h-3v3h-7v-2h-8v2h-12v-2h-8v1h-12v-1h-3v1h-22v-2h-3v2h-5v2h-7v-3h-3v1h-12v-1h-3v1h-5v1h-7v-1h-5v-2h-3v2h-12v-1h-5v-1h-5v-1h-3v1h-10v1h-5v1h-5v1h-7v-3h-3v2h-5v1h-7v-2h-3v1h-7v-2h-3v2h-7v-1h-3v1h-7v-1h-15v-1h-3v1h-10v2h-7v-2h-13v1h-7v-1h-10v-1h-8v3h-7v-3h-5v-1h-8v2h-5v3h-7v-1h-5v-1h-20v-1h-8v2h-7v-3h-3v2h-10v1h-7v-1h-15v-1h-8v2h-7v-1h-5v-1h-3v2h-7v-2h-3v1h-7v-1h-5v-1h-5v-1h-3v1h-5v1h-7v-1h-3v3h-7v-1h-5v-1h-3v1h-7v-1h-10v-1h-3v1h-7v-1h-5v-1h-3v4h-7v-2h-3v1h-12v-3h-3v1h-5v1h-5v2h-7v-1h-8v1h-7v-2h-3v1h-12v-2h-3v1h-7v-2h-3v2h-7v-2h-3v3h-5v3h-5v1h-7v-2h-5v-3h-3v7h-7v-4h-3v2h-5v2h-7v-5h-3v7h-7v-4h-5v-5h-3v5h-7v-3h-8v2h-7v-2h-5v-2h-8v1h-5v1h-7v-1h-10v-1h-3v1h-5v1h-7v-2h-3v2h-7v-3h-3v2h-7v-3h-3v2h-5v1h-12v-1h-3v1h-7v-1h-18v1h-7v-2h-8v2h-7v-1h-10v-1h-3v1h-5v1h-7v-3h-3v1h-5v11h-5v4h-7v-13h-5v-2h-3v2h-12v-2h-3v1h-12v-1h-3v2h-5v1h-12v-1h-5v-1h-3v1h-7v-1h-3v1h-12v-1h-5v-1h-3v2h-7v-1h-5v-1h-3v3h-7v-2h-8v1h-12v-1h-13v1h-7v-2h-3v1h-7v-1h-5v-1h-3v1h-5v2h-12v-1h-3v1h-7v-1h-3v1h-12v-1h-3v2h-7v-2h-18v1h-5v4h-7v-1h-5v-4h-13v3h-7v-2h-5v-1h-18v4h-7v-2h-10v-3h-3v2h-10v1h-5v1h-7v-2h-5v-1h-3v1h-10v2h-7v-3h-10v-1h-3v4h-7v-3h-15v-1h-8v2h-7v-1h-5v-1h-3v1h-5v3h-7v-1h-5v-1h-10v-1h-3v2h-7v-1h-3v1h-7v-1h-5v-1h-3v1h-7v-1h-5v-1h-3v2h-7v-1h-3v2h-7v-2h-3v2h-7v-2h-20v-1h-8v1h-5v1h-7v-1h-10v-1h-8v1h-15v1h-7v-1h-8v1h-5v1h-7v-2h-3v1h-7v-1h-3v2h-7v-1h-5v-1h-3v1h-7v-1h-3v1h-17v-2h-8v1h-12v-1h-3v1h-5v1h-5v2h-7v-1h-5v-1h-10v-1h-8v1h-5v2h-7v-1h-5v-2h-5v-1h-3v1h-7v-1h-3v3h-7v-3h-3v1h-5v2h-12v-4h-3v2h-7v-1h-3v1h-5v1h-7v-1h-3v1h-7v-3h-3v3h-12v-1h-3v1h-17v-1h-3v3h-7v-2h-10v-1h-3v1h-7v-1h-3v1h-5v3h-7v-4h-13v1h-5v1h-7v-2h-5v-1h-8v1h-10v1h-5v1h-7v-3h-3v4h-7v-1h-3v1h-12v-3h-3v1h-5v2h-7v-3h-5v-1h-3v1h-7v-1h-13v1h-5v2h-7v-2h-15v-1h-5v-1h-3v3h-7v-1h-13v1h-7v-2h-3v2h-7v-1h-3v1h-12v-1h-3v3h-7v-1h-5v-1h-5v-1h-5v-1h-3v2h-7v-1h-10v-1h-8v3h-7v-2h-8v1h-7v-1h-3v3h-7v-3h-5v-1h-3v1h-10v1h-7v-2h-3v1h-5v1h-7v-3h-3v2h-7v-1h-3v2h-10v1h-7v-1h-5v-1h-5v-1h-3v2h-7v-2h-3v1h-10v8h-5v3h-7v-10h-3v1h-7v-1h-5v-1h-8v3h-7v-3h-18v1h-7v-1h-3v1h-12v-1h-5v-1h-5v-1h-3v2h-5v2h-7v-2h-8v1h-5v1h-7v-2h-5v-2h-3v2h-7v-1h-8v1h-5v2h-12v-1h-8v1h-7v-1h-5v-1h-8v2h-7v-3h-3v1h-7v-1h-3v2h-7v-1h-5v-1h-3v2h-7v-1h-8v1h-7v-2h-3v1h-5v1h-17v-2h-8v1h-7v-2h-3v3h-7v-2h-3v1h-7v-1h-3v2h-7v-2h-3v1h-5v3h-7v-3h-38v1h-5v1h-7v-3h-8v1h-15v2h-7v-1h-8v1h-12v-3h-3v2h-7v-1h-3v1h-12v-1h-3v2h-7v-2h-8v2h-7v-2h-8v3h-7v-3h-3v2h-7v-2h-3v1h-5v1h-7v-1h-3v1h-7v-2h-8v2h-7v-1h-5v-1h-23v1h-7v-1h-8v1h-10v1h-7v-1h-3v1h-7v-2h-3v1h-12v-2h-8v3h-7v-1h-10v-1h-3v2h-7v-3h-3v2h-7v-1h-8v1h-7v-1h-3v2h-7v-1h-10v-1h-5v-1h-5v-1h-3v1h-5v1h-7v-2h-3v1h-5v1h-7v-1h-3v2h-10v1h-7v-1h-5v-1h-3v1h-7v-1h-5v-1h-3v1h-10v1h-7v-1h-13v2h-7v-2h-3v1h-7v-3h-3v2h-5v1h-12v-2h-3v2h-5v1h-7v-1h-3v1h-7v-3h-8v2h-17v-1h-5v-1h-3v1h-10v1h-5v1h-7v-1h-10v-2h-3v2h-12v-2h-3v1h-5v1h-7v-2h-3v1h-10v1h-7v-1h-3v4h-7v-2h-5v-2h-3v1h-12v-3h-3v1h-10v2h-12v-1h-3v2h-7v-3h-3v2h-10v1h-7v-1h-10v-2h-3v3h-7v-1h-18v2h-7v-2h-5v-1h-5v-1h-8v3h-7v-1h-5v-2h-13v1h-7v-1h-3v1h-7v-2h-3v2h-17v-1h-8v1h-5v3h-7v-3h-5v-1h-3v3h-7v-2h-8v1h-7v-1h-8v1h-7v-2h-3v2h-5v1h-5v1h-7v-2h-15v-2h-3v1h-17v-1h-3v1h-7v-2h-8v1h-5v2h-5v1h-7v-1h-5v-1h-3v2h-7v-3h-3v1h-12v-1h-3v4h-7v-2h-5v-1h-3v1h-7v-1h-5v-1h-18v2h-12v-1h-5v-1h-8v2h-7v-1h-3v1h-7v-1h-5v-2h-3v2h-5v1h-7v-2h-3v2h-7v-1h-8v2h-7v-1h-10v-1h-10v-1h-3v3h-7v-2h-5v-1h-3v1h-5v2h-5v1h-7v-3h-5v-1h-3v2h-7v-3h-3v2h-7v-1h-3v2h-5v1h-7v-1h-5v-2h-3v1h-5v1h-5v1h-7v-4h-13v1h-10v1h-5v1h-10v1h-7v-1h-3v1h-7v-3h-3v2h-7v-1h-5v-1h-3v1h-10v3h-7v-5h-3v2h-12v-1h-3v1h-10v1h-12v-2h-3v1h-7v-1h-8v2h-5v1h-7v-2h-3v2h-7v-2h-8v1h-7v-2h-3v1h-5v2h-7v-2h-3v2h-12v-2h-15v-1h-3v3h-7v-2h-3v1h-7v-1h-3v1h-7v-1h-3v2h-5v2h-7v-2h-5v-1h-5v-1h-3v1h-10v1h-7v-2h-5v-1h-3v2h-7v-2h-8v3h-5v1h-7v-4h-3v2h-7v-1h-5v-2h-3v2h-5v1h-7v-1h-10v-1h-3v1h-7v-1h-18v2h-17v-1h-5v-2h-3v2h-7v-1h-3v3h-7v-1h-10v-1h-13v2h-7v-1h-5v-1h-5v-2h-3v1h-7v-2h-3v3h-5v1h-5v1h-5v1h-7v-3h-3v1h-5v1h-7v-1h-5v-1h-5v-1h-3v1h-7v-1h-3v2h-7v-2h-3v2h-7v-1h-3v1h-7v-2h-8v2h-7v-2h-3v1h-5v2h-5v1h-7v-1h-5v-2h-5v-1h-8v1h-5v2h-7v-1h-10v-1h-5v-1h-3v3h-7v-2h-8v1h-7v-1h-3v1h-7v-3h-3v3h-7v-1h-5v-1h-3v2h-7v-1h-10v-1h-5v-1h-3v3h-5v1h-7v-1h-10v-1h-3v1h-7v-2h-3v5h-7v-4h-5v-1h-3v2h-12v-1h-5v-1h-3v2h-7v-2h-5v-1h-3v4h-7v-1h-5v-1h-5v-1h-3v1h-5v2h-7v-2h-8v2h-5v1h-7v-1h-5v-1h-3v6h-7v-5h-3v1h-7v-1h-5v-1h-5v-1h-3v1h-17v-2h-3v2h-15v1h-7v-2h-5v-1h-3v1h-7v-1h-3v2h-7v-1h-5v-1h-3v1h-17v-1h-8v1h-5v1h-12v-2h-3v2h-5v1h-7v-2h-10v-1h-5v-1h-3v2h-7v-1h-3v2h-12v-1h-5v-1h-3v2h-7v-1h-8v4h-7v-3h-5v-1h-3v1h-7v-2h-3v1h-10v1h-7v-1h-3v3h-7v-3h-3v3h-7v-3h-5v-1h-3v3h-7v-2h-5v-1h-3v2h-5v1h-7v-2h-15v-1h-13v1h-7v-1h-3v1h-7v-1h-3v1h-10v1h-7v-1h-5v-1h-3v1h-5v2h-12v-2h-5v-1h-3v1h-10v1h-12v-3h-3v1h-5v2h-7v-1h-5v-1h-3v2h-7v-2h-3v2h-12v-1h-3v1h-7v-2h-8v1h-17v-1h-3v1h-5v1h-5v2h-7v-1h-5v-2h-8v1h-5v1h-7v-4h-3v3h-12v-2h-8v1h-5v1h-15v2h-7v-1h-10v-2h-3v1h-7v-2h-3v2h-17v-1h-13v1h-7v-2h-3v2h-7v-1h-5v-1h-3v1h-5v1h-7v-2h-10v-1h-3v1h-5v3h-7v-2h-3v1h-12v-1h-5v-1h-3v2h-12v-1h-3v1h-7v-2h-3v3h-7v-1h-3v1h-7v-1h-5v-2h-8v1h-5v2h-7v-2h-10v-1h-3v1h-27v-1h-3v1h-7v-1h-3v1h-5v1h-12v-1h-3v1h-5v1h-7v-2h-9Z"/>
<path fill="#0000ff" d="M1152 309h4v-1h5v-2h7v3h8v-4h7v2h5v1h3v-1h7v1h3v-12h7v1h5v12h5v1h3v-1h12v1h3v-2h5v-3h7v3h3v-1h7v3h10v2h3v-1h7v1h3v-1h5v-1h7v1h5v1h3v-1h7v1h3v-1h10v-1h5v-2h7v2h10v2h3v-2h10v-1h12v3h3v-1h10v-3h7v3h5v1h8v-2h5v-1h7v2h13v-2h17v2h3v-1h17v1h10v1h3v-1h15v-1h5v-1h5v-16h7v3h5v15h5v1h3v-1h7v1h3v-1h5v-1h10v-1h7v1h5v2h5v1h8v-1h10v-3h7v3h3v-2h7v2h3v-1h7v1h3v-1h12v1h5v1h3v-3h7v1h3v-4h7v4h15v2h3v-2h10v-2h7v1h3v-1h7v2h5v1h8v-1h15v-2h7v2h8v-1h10v-1h7v1h5v1h13v-1h5v-1h7v2h5v1h3v-1h10v-1h12v1h5v1h3v-1h15v-1h5v-1h5v-1h7v2h8v-3h7v3h5v1h8v-1h7v1h3v-2h7v3h13v-1h7v1h3v-3h7v3h3v-1h22v1h3v-3h7v1h3v-3h7v1h5v3h3v-1h7v1h10v1h3v-2h7v2h8v-1h5v-1h5v-1h7v3h3v-2h10v-2h7v2h5v2h13v-2h7v1h3v-3h7v1h5v1h5v2h3v-2h15v-2h7v3h5v1h13v-2h7v1h5v1h3v-1h5v-1h7v1h3v-2h7v1h10v1h3v-2h7v1h8v-5h7v3h5v2h5v1h8v-3h7v2h10v1h3v-2h12v1h10v1h3v-2h7v2h5v1h8v-1h7v2h3v-3h7v2h3v-2h7v1h3v-1h7v2h8v-2h5v-2h5v-1h7v3h8v-1h7v1h5v1h13v-1h5v-1h7v1h5v1h3v-2h5v-1h7v2h8v-1h5v-14h7v2h5v14h3v-3h7v2h8v-1h17v1h3v-3h7v3h5v1h3v-1h5v-1h7v2h3v-1h7v1h8v-2h5v-8h7v9h3v-1h7v1h3v-5h7v5h5v1h3v-1h5v-2h7v5h3v-1h15v-2h12v1h5v1h3v-2h7v1h3v-2h7v1h10v1h15v1h3v-1h5v-1h12v3h8v-2h5v-1h7v1h10v2h3v-1h10v-1h12v1h3v-2h7v1h5v1h3v-2h5v-1h7v1h5v1h3v-2h7v1h5v1h3v-1h15v-2h7v1h10v1h10v1h13v-1h10v-1h7v2h3v-1h7v1h3v-1h7v2h13v-1h10v-1h5v-3h7v4h3v-2h7v3h3v-1h5v-2h7v2h3v-1h7v1h3v-1h5v-2h7v2h3v-2h7v2h5v1h8v-1h15v-1h5v-1h7v3h8v-1h20v-1h7v1h3v-1h12v1h5v1h5v1h3v-1h10v-1h7v2h3v-4h7v3h8v-3h12v1h5v1h8v-1h12v3h8v-1h5v-2h7v1h5v1h5v1h8v-2h20v-1h7v1h5v1h5v1h3v-2h5v-1h7v2h13v-1h7v1h13v-1h7v1h8v-2h7v1h5v1h5v1h23v-1h12v1h8v-1h10v-1h7v1h15v1h3v-1h7v1h3v-1h5v-1h5v-1h5v-2h7v3h5v2h3v-3h7v2h15v1h3v-1h5v-2h7v3h3v-1h5v-1h5v-1h7v2h3v-1h7v1h3v-1h5v-1h7v2h3v-1h7v2h8v-1h5v-1h5v-1h5v-1h12v2h15v1h8v-1h5v-1h7v1h10v1h5v1h3v-2h7v1h3v-1h7v1h8v-2h7v2h10v1h3v-1h7v1h3v-2h7v2h3v-1h5v-3h7v4h3v-1h5v-1h7v1h3v-1h5v-3h7v5h8v-1h5v-2h7v1h3v-1h17v1h5v3h3v-2h7v1h3v-2h17v1h3v-1h7v2h18v-2h7v2h5v1h3v-2h5v-2h12v1h8v-1h7v2h3v-3h7v2h15v2h3v-1h5v-3h7v2h5v1h8v-1h7v1h15v1h3v-2h10v-2h7v3h3v-1h10v-3h7v4h3v-1h15v-2h7v2h10v1h3v-2h7v3h3v-2h7v1h8v-1h7v1h3v-1h7v1h3v-2h7v1h3v-1h7v1h23v-2h7v1h5v2h8v-1h7v1h8v-1h7v1h8v-1h7v1h3v-1h5v-1h7v2h8v-1h7v1h3v-1h12v1h3v-1h7v2h3v-2h7v2h8v-2h7v1h3v-1h5v-1h7v1h20v1h13v-2h7v2h3v-1h7v1h10v2h3v-4h7v1h5v2h3v-3h7v1h8v-1h7v2h15v1h3v-1h5v-1h12v2h8v-2h7v1h3v-1h5v-1h7v1h3v-1h12v2h8v-2h7v1h3v-1h12v3h10v2h3v-2h5v-1h5v-1h5v-1h7v2h10v2h3v-2h5v-1h5v-3h7v3h5v1h3v-1h10v-2h7v2h5v1h3v-1h12v2h10v1h3v-3h10v-1h7v2h5v1h8v-1h5v-1h7v1h3v-3h7v3h13v-1h7v2h3v-1h5v-1h12v1h3v-2h7v2h3v-1h7v1h10v1h5v1h3v-1h10v-1h25v-1h10v-2h7v2h5v2h3v-1h10v-1h7v2h3v-2h15v-1h7v1h10v1h3v-1h5v-1h7v2h3v-1h15v-1h5v-1h7v2h5v1h18v-1h20v-1h7v2h3v-2h10v-2h7v4h5v1h3v-1h5v-1h7v2h3v-2h22v1h5v1h3v-1h5v-2h7v1h3v-1h7v4h3v-1h7v1h3v-1h5v-3h7v1h3v-1h5v-1h7v1h5v2h8v-2h7v1h5v1h8v-1h10v-1h7v2h13v-1h7v2h3v-3h7v2h3v-1h7v2h3v-2h5v-1h7v2h13v-2h7v2h5v1h18v-3h7v2h3v-1h7v1h3v-2h5v-1h12v4h13v-1h5v-1h17v1h8v-1h7v1h5v1h3v-1h5v-1h5v-2h7v3h3v-1h5v-1h7v3h3v-1h5v-1h12v1h3v-1h5v-1h7v1h20v3h3v-2h5v-2h7v1h5v1h10v1h3v-1h5v-2h7v1h5v2h8v-1h5v-1h7v1h13v-1h10v-1h7v2h3v-1h5v-2h7v4h8v-1h7v1h3v-1h17v2h3v-1h5v-1h10v-1h10v-1h7v1h3v-2h7v3h3v-2h7v2h3v-1h5v-1h7v1h5v2h3v-1h5v-1h7v1h5v1h3v-3h7v2h3v-3h7v1h5v2h10v1h3v-1h15v-1h7v2h3v-2h12v2h8v-2h5v-1h7v3h8v-2h7v2h13v-2h12v1h3v-1h7v1h33v-3h7v2h10v2h3v-1h5v-1h17v1h3v-2h7v2h3v-1h27v2h3v-1h5v-1h5v-1h12v4h3v-5h7v2h5v2h8v-1h7v1h3v-1h12v1h3v-3h7v2h5v1h3v-1h7v1h3v-1h5v-1h5v-1h7v1h5v1h5v1h3v-3h7v3h3v-1h10v-1h12v1h18v-1h5v-2h12v3h5v1h13v-1h5v-1h7v1h3v-2h7v1h5v3h3v-3h7v1h5v2h3v-2h7v1h8v-2h7v1h3v-1h12v1h3v-1h7v1h3v-1h7v2h3v-1h10v-1h17v1h3v-2h7v2h5v1h8v-1h5v-2h7v2h10v1h3v-2h12v1h3v-1h5v-1h7v1h5v1h3v-1h5v-1h7v2h3v-1h7v2h3v-1h5v-1h7v1h8v-3h7v3h18v-1h12v1h3v-1h7v2h3v-1h7v1h3v-2h7v1h20v1h3v-3h7v2h20v1h8v-2h10v-1h7v2h10v1h3v-2h15v-1h7v1h20v1h8v-1h7v1h8v-1h5v-1h12v1h5v1h3v-1h17v1h10v1h3v-1h5v-1h12v1h8v-1h5v-1h5v-1h7v3h5v1h3v-2h7v1h5v1h8v-1h5v-2h7v2h5v1h3v-3h7v2h5v1h13v-1h7v1h3v-1h5v-1h7v1h3v-1h5v-2h7v3h3v-2h7v1h10v1h13v-1h7v1h5v1h8v-1h10v-1h7v1h8v-2h12v2h3v-2h7v2h3v-2h7v3h3v-4h7v3h3v-2h7v1h20v2h5v1h3v-3h15v-1h7v2h3v-1h12v1h13v-1h17v1h3v-1h5v-1h17v2h3v-1h7v1h8v-1h12v1h3v-3h7v3h3v-1h7v2h3v-2h12v1h3v-1h7v1h13v-1h7v1h3v-1h7v1h8v-2h7v1h3v-1h7v1h5v2h3v-2h7v1h5v1h13v-2h7v2h3v-4h7v2h8v-1h7v3h13v-2h7v1h25v1h3v-1h15v-4h7v4h8v-1h5v-1h5v-1h7v2h3v-2h7v2h5v1h8v-1h7v1h5v1h3v-2h5v-3h7v4h8v-2h7v3h3v-1h7v1h8v-2h5v-2h7v3h3v-2h7v1h3v-1h7v2h8v-2h7v1h5v2h8v-3h17v2h10v2h8v-2h5v-1h7v1h5v2h3v-2h12v1h3v-1h5v-3h7v2h3v-3h7v4h5v1h3v-2h7v1h3v-1h5v-2h5v-1h7v3h10v2h3v-4h7v1h5v1h20v1h13v-1h17v2h3v-1h5v-1h7v1h5v1h3v-1h12v2h3v-2h15v-1h7v1h8v-2h7v2h3v-1h12v1h10v1h3v-3h7v1h5v1h3v-3h7v2h10v1h3v-2h7v2h3v-3h7v2h5v2h15v1h3v-1h5v-2h7v1h3v-1h7v1h3v-1h12v1h3v-1h7v1h3v-2h12v2h3v-1h5v-2h7v2h3v-2h7v3h3v-2h7v2h8v-2h10v-2h7v3h23v-2h7v3h3v-1h7v1h8v-2h7v1h5v1h3v-1h10v-1h7v3h8v-1h7v1h3v-1h10v-1h17v1h3v-2h7v3h8v-2h7v1h3v-2h7v1h5v1h3v-1h7v1h23v-1h12v1h20v1h3v-1h10v-1h7v1h3v-1h5v-1h7v2h3v-1h7v1h3v-4h7v2h10v2h3v-1h12v2h8v-2h7v1h5v1h3v-1h7v1h3v-1h5v-6h7v7h3v-3h7v2h23v-1h7v1h5v1h8v-5h7v3h10v1h3v-1h12v1h3v-1h12v1h5v1h3v-2h7v1h4V324h-4v1h-5v1h-7v-1h-5v-1h-3v1h-12v-1h-5v-1h-3v1h-5v1h-12v-3h-3v3h-7v-1h-3v2h-5v1h-7v-1h-5v-2h-3v1h-7v-2h-3v1h-5v1h-7v-1h-3v7h-7v-6h-8v1h-7v-3h-3v2h-7v-1h-3v1h-5v1h-7v-2h-3v1h-10v4h-7v-6h-3v1h-5v2h-7v-1h-5v-2h-3v3h-5v1h-7v-2h-5v-1h-18v1h-10v1h-5v1h-7v-2h-5v-2h-8v2h-12v-1h-10v-1h-3v1h-5v1h-10v2h-7v-2h-15v-3h-3v1h-5v1h-5v1h-12v-1h-13v1h-7v-1h-10v-1h-3v1h-5v1h-5v1h-7v-1h-3v1h-7v-3h-3v2h-5v1h-7v-3h-8v1h-7v-1h-18v1h-5v1h-5v1h-7v-2h-15v-1h-5v-1h-3v3h-7v-1h-3v2h-7v-3h-3v16h-5v2h-7v-17h-5v-1h-3v1h-7v-1h-3v1h-7v-1h-3v1h-5v1h-7v-1h-3v1h-7v-1h-3v1h-10v1h-7v-3h-13v1h-5v1h-12v-1h-13v1h-5v2h-7v-2h-15v-2h-3v1h-5v3h-7v-2h-3v1h-7v-3h-3v1h-5v2h-12v-3h-8v2h-17v-2h-3v1h-17v-1h-3v1h-12v-1h-3v2h-7v-1h-5v-1h-3v2h-12v-2h-3v1h-5v2h-7v-1h-5v-2h-3v1h-5v1h-7v-3h-8v2h-10v1h-7v-1h-10v-1h-3v1h-10v1h-5v1h-7v-1h-10v-2h-3v3h-5v2h-7v-2h-10v-1h-8v1h-7v-3h-3v2h-7v-1h-13v4h-7v-3h-20v-1h-10v-1h-3v2h-5v1h-7v-1h-10v-1h-15v-1h-3v2h-7v-1h-3v2h-7v-2h-5v-1h-13v1h-7v-3h-3v2h-5v1h-12v-1h-3v1h-7v-1h-8v1h-15v1h-7v-1h-5v-2h-3v2h-10v2h-7v-1h-8v1h-7v-3h-8v2h-7v-1h-3v1h-22v-1h-5v-1h-3v1h-12v-1h-3v1h-10v1h-7v-1h-5v-1h-8v4h-7v-3h-10v-1h-3v1h-17v-1h-3v1h-10v1h-7v-1h-8v1h-12v-2h-3v1h-5v2h-7v-1h-5v-1h-3v2h-7v-2h-3v3h-7v-2h-10v-2h-3v2h-7v-1h-3v1h-7v-1h-8v1h-12v-2h-3v2h-7v-3h-3v3h-7v-1h-8v3h-7v-2h-5v-1h-5v-1h-5v-1h-3v2h-7v-1h-3v3h-7v-2h-15v-1h-3v1h-5v2h-7v-4h-3v1h-5v2h-7v-2h-18v2h-5v3h-7v-5h-3v1h-7v-1h-3v2h-5v1h-7v-2h-3v1h-7v-1h-5v-1h-3v1h-7v-2h-3v2h-7v-1h-3v2h-7v-1h-3v1h-7v-1h-3v1h-7v-1h-10v-1h-8v1h-15v1h-10v1h-7v-2h-10v-1h-8v1h-5v2h-7v-2h-10v-1h-3v2h-7v-1h-3v2h-7v-1h-3v1h-7v-3h-8v2h-7v-1h-13v2h-7v-1h-5v-1h-3v1h-5v1h-7v-2h-3v2h-7v-3h-3v3h-7v-3h-8v1h-5v1h-7v-1h-3v4h-7v-4h-3v1h-7v-1h-8v1h-7v-2h-3v4h-7v-2h-13v3h-7v-2h-5v-3h-3v2h-7v-1h-3v1h-7v-2h-3v2h-7v-1h-3v2h-7v-3h-8v1h-7v-1h-3v1h-5v1h-7v-1h-3v1h-5v2h-12v-4h-3v1h-5v2h-12v-3h-3v4h-7v-3h-13v2h-7v-2h-5v-1h-3v1h-10v1h-7v-1h-8v1h-7v-1h-13v1h-7v-2h-8v2h-12v-1h-5v-1h-3v1h-12v-1h-3v1h-10v1h-7v-1h-5v-1h-8v2h-7v-1h-3v1h-5v1h-7v-1h-5v-2h-3v1h-20v1h-12v-1h-18v2h-12v-2h-8v1h-12v-2h-8v1h-5v1h-12v-3h-3v1h-5v4h-7v-1h-5v-1h-3v2h-7v-2h-5v-1h-10v-1h-3v1h-5v1h-5v2h-7v-2h-5v-1h-3v1h-7v-1h-5v-1h-3v1h-7v-2h-3v1h-5v1h-5v1h-7v-1h-3v2h-17v-4h-3v3h-7v-1h-3v3h-7v-1h-5v-3h-3v1h-5v1h-15v2h-7v-3h-5v-1h-13v1h-27v-1h-3v1h-10v1h-7v-1h-3v2h-7v-1h-5v-1h-3v4h-7v-4h-3v1h-5v1h-17v-1h-5v-3h-3v3h-5v1h-7v-2h-3v2h-7v-1h-5v-1h-13v1h-7v-1h-5v-1h-3v1h-5v1h-5v1h-12v-3h-5v-1h-3v1h-5v2h-7v-2h-3v1h-5v2h-7v-1h-5v-1h-3v2h-7v-3h-3v2h-5v1h-7v-3h-3v1h-12v-1h-3v3h-7v-3h-3v1h-5v6h-7v-6h-3v1h-7v-1h-8v3h-7v-2h-5v-1h-3v1h-20v2h-7v-5h-3v5h-7v-2h-5v-1h-5v-1h-3v1h-5v1h-7v-1h-3v1h-7v-1h-3v1h-7v-1h-8v1h-7v-1h-3v1h-5v3h-7v-1h-5v-2h-5v-2h-3v2h-5v1h-5v1h-7v-4h-13v3h-17v-3h-13v2h-7v-1h-5v-1h-5v-1h-3v1h-10v1h-5v1h-7v-2h-3v1h-10v2h-7v-3h-8v2h-17v-1h-3v1h-5v1h-7v-2h-8v1h-7v-1h-3v1h-7v-1h-5v-2h-3v3h-10v2h-7v-2h-10v-1h-10v-1h-3v2h-7v-1h-3v1h-5v1h-7v-1h-5v-1h-3v1h-7v-1h-5v-1h-3v2h-7v-1h-5v-1h-3v2h-7v-1h-10v-1h-3v1h-15v2h-7v-1h-5v-2h-3v1h-5v1h-7v-1h-5v-1h-3v1h-5v1h-7v-1h-3v1h-7v-2h-3v1h-5v2h-12v-2h-8v1h-12v-1h-18v1h-7v-3h-3v2h-17v-1h-8v2h-12v-3h-3v2h-10v1h-7v-2h-3v1h-15v1h-7v-1h-25v-1h-8v1h-7v-1h-8v1h-7v-1h-3v1h-5v1h-7v-2h-3v2h-5v2h-12v-2h-5v-2h-3v1h-10v1h-7v-1h-3v1h-7v-1h-8v1h-5v1h-7v-1h-15v-2h-3v1h-12v-2h-3v2h-10v1h-7v-1h-30v-1h-3v2h-7v-2h-3v1h-7v-1h-3v1h-12v-1h-8v3h-7v-1h-15v-1h-10v-1h-3v1h-12v-1h-3v1h-12v-1h-3v2h-7v-2h-3v3h-7v-1h-5v-1h-3v1h-7v-1h-8v1h-5v2h-5v1h-5v1h-7v-4h-10v-2h-33v1h-17v-2h-3v3h-5v2h-7v-2h-5v-1h-8v1h-17v-1h-15v-1h-3v2h-7v-2h-3v2h-7v-1h-8v2h-7v-1h-15v-1h-3v2h-7v-1h-3v2h-7v-3h-3v2h-7v-3h-8v1h-7v-2h-3v2h-5v1h-7v-2h-3v3h-12v-1h-5v-2h-3v1h-7v-1h-8v2h-7v-2h-3v2h-7v-1h-3v1h-10v1h-7v-2h-8v2h-7v-1h-5v-1h-5v-1h-13v1h-12v-1h-3v1h-5v1h-7v-1h-10v-2h-3v2h-7v-1h-3v1h-7v-1h-3v1h-5v1h-10v1h-7v-3h-3v1h-5v1h-5v3h-5v2h-7v-7h-10v-1h-3v2h-10v1h-7v-2h-3v2h-7v-2h-3v4h-7v-5h-3v3h-7v-3h-3v1h-5v2h-17v-1h-3v1h-7v-1h-8v1h-5v1h-7v-2h-3v1h-5v1h-7v-1h-5v-2h-3v1h-5v1h-5v1h-12v-2h-3v2h-7v-3h-3v2h-7v-1h-8v1h-5v1h-12v-1h-3v2h-7v-3h-25v-1h-3v2h-10v1h-7v-1h-5v-1h-8v1h-5v1h-7v-4h-3v3h-7v-1h-3v1h-7v-1h-3v2h-7v-3h-3v3h-7v-2h-3v2h-12v-2h-3v2h-7v-2h-3v1h-12v-2h-3v1h-20v1h-7v-1h-3v1h-7v-2h-3v1h-5v1h-17v-2h-3v4h-7v-2h-5v-1h-25v-1h-13v1h-5v1h-7v-1h-5v-1h-3v1h-10v1h-12v-1h-3v1h-7v-2h-8v2h-7v-1h-10v-1h-3v2h-5v2h-7v-4h-8v2h-7v-3h-8v1h-10v1h-5v1h-12v-1h-3v1h-17v-1h-10v-1h-3v1h-12v-1h-3v2h-10v1h-12v-1h-3v2h-7v-2h-10v-1h-13v1h-5v2h-7v-4h-3v5h-7v-3h-10v-1h-3v3h-7v-3h-5v-1h-8v3h-5v1h-7v-3h-15v-1h-8v2h-7v-3h-3v6h-7v-5h-3v1h-5v1h-5v1h-5v2h-7v-3h-5v-1h-3v1h-7v-1h-10v-1h-3v2h-17v-1h-5v-1h-3v1h-5v3h-7v-2h-5v-1h-3v1h-7v-3h-3v2h-10v3h-7v-1h-10v-2h-15v-1h-3v2h-7v-3h-3v2h-12v-1h-8v1h-5v1h-12v-1h-3v1h-7v-1h-5v-1h-3v2h-17v-1h-5v-1h-8v2h-7v-1h-10v-1h-8v1h-10v1h-22v-1h-5v-1h-8v4h-7v-3h-10v-1h-3v1h-12v-1h-3v2h-7v-1h-20v-1h-3v2h-12v-1h-10v-1h-3v2h-7v-1h-3v2h-7v-2h-3v2h-7v-1h-5v-1h-8v1h-7v-1h-3v1h-12v-2h-3v1h-7v-1h-3v1h-10v2h-7v-2h-5v-1h-3v3h-7v-2h-3v1h-7v-1h-3v1h-7v-2h-5v-1h-3v1h-5v1h-5v1h-10v1h-5v1h-7v-2h-5v-1h-3v1h-7v-1h-3v1h-7v-2h-8v1h-10v12h-7v-13h-3v2h-7v-2h-3v5h-7v-4h-3v2h-7v-1h-3v1h-12v-2h-3v2h-7v-3h-10v-1h-8v2h-5v1h-7v-1h-3v2h-7v-2h-5v-1h-5v-1h-3v2h-10v2h-7v-1h-5v-3h-3v4h-7v-1h-5v-3h-3v2h-7v-2h-3v2h-5v1h-7v-1h-5v-1h-3v3h-7v-2h-3v1h-7v-1h-5v-1h-3v1h-7v-1h-8v1h-12v-1h-8v4h-7v-2h-5v-1h-3v4h-7v-5h-3v1h-5v2h-5v2h-7v-5h-8v1h-5v1h-7v-1h-13v2h-7v-2h-3v3h-7v-1h-5v-1h-5v-1h-8v1h-7v-1h-5v-1h-3v2h-5v1h-7v-1h-5v-1h-3v2h-12v-4h-3v2h-5v1h-17v-1h-15v-1h-3v1h-7v-1h-3v1h-12v-1h-8v2h-12v-1h-3v1h-12v-2h-3v1h-5v1h-7v-1h-5v-1h-3v2h-7v-2h-3v2h-5v1h-7v-1h-5v-1h-3v1h-7v-1h-3v1h-7v-1h-8v1h-7v-3h-3v3h-7v-1h-8v1h-5v1h-7v-1h-10v-2h-8v4h-7v-3h-5v-1h-5v-1h-3v2h-22v-1h-3v2h-7v-2h-3v2h-7v-1h-10v-1h-8v1h-7v-1h-3v2h-10v1h-7v-1h-3v1h-7v-3h-3v1h-5v4h-7v-3h-20v-1h-3v1h-5v1h-7v-3h-3v1h-7v-1h-8v2h-7v-1h-5v-1h-3v1h-10v1h-12v-1h-3v1h-12v-1h-3v2h-7v-1h-5v-1h-3v1h-5v1h-7v-1h-5v-1h-3v1h-7v-2h-8v2h-7v-1h-3v2h-7v-1h-3v2h-7v-4h-3v1h-12v-1h-3v1h-5v2h-7v-2h-3v1h-5v1h-7v-1h-5v-1h-3v1h-7v-2h-13v1h-5v1h-5v1h-7v-2h-3v2h-7v-1h-10v-1h-5v-1h-8v1h-5v2h-7v-1h-3v1h-7v-1h-5v-2h-3v1h-5v1h-7v-1h-10v-1h-3v2h-12v-1h-5v-1h-8v2h-7v-1h-3v1h-5v1h-7v-3h-3v1h-10v50h-5v5h-7v-54h-15v-2h-3v2h-7v-1h-5v-2h-3v3h-7v-1h-8v1h-12v-1h-3v1h-7v-2h-3v2h-5v1h-7v-2h-5v-1h-8v1h-5v1h-5v5h-7v-3h-8v1h-7v-1h-3v2h-12v-3h-3v1h-5v1h-7v-3h-8v1h-5v3h-7v-2h-3v1h-7v-2h-8v3h-7v-1h-4Z"/>
<path fill="#008000" d="M1152 380h9v-1h7v1h8v-2h10v-1h7v1h3v-1h7v3h13v-2h7v2h3v-1h10v-1h12v1h5v1h3v-2h7v1h3v-1h7v2h3v-1h22v1h3v-2h7v2h13v-6h7v3h5v3h3v-4h7v4h3v-3h7v2h3v-1h10v-4h7v4h5v1h8v-2h7v2h3v-1h7v1h13v-1h10v-2h7v4h3v-2h7v1h3v-1h12v2h3v-1h17v2h3v-7h7v6h3v-3h7v1h5v1h15v1h3v-1h7v1h8v-1h7v1h8v-1h5v-3h7v3h3v-1h7v1h3v-4h7v5h3v-2h5v-1h7v2h10v1h3v-1h5v-1h7v2h8v-1h5v-1h5v-2h7v4h8v-9h7v3h5v5h3v-1h7v1h5v1h3v-1h5v-1h7v1h3v-1h12v1h8v-1h7v2h13v-2h5v-1h7v1h5v2h3v-3h7v2h3v-1h7v1h5v1h3v-3h12v2h3v-2h7v2h5v1h3v-3h7v3h3v-2h7v1h10v1h3v-1h22v1h3v-3h12v1h5v1h8v-3h7v3h8v-1h7v1h3v-1h12v1h3v-1h7v1h8v-1h5v-2h7v3h3v-6h7v7h3v-1h10v-1h7v1h8v-1h5v-1h7v2h3v-1h12v2h3v-1h20v-1h7v1h5v1h3v-2h5v-1h7v2h5v1h5v1h3v-3h5v-5h7v2h5v4h3v-2h7v2h3v-3h7v4h3v-2h5v-2h7v4h8v-1h7v2h8v-2h5v-1h7v1h8v-1h10v-3h7v1h5v3h3v-2h5v-1h5v-1h7v2h5v1h3v-2h7v1h5v2h3v-2h5v-1h5v-7h7v4h3v-2h7v9h3v-2h5v-17h7v4h5v10h5v1h5v2h3v-2h7v2h3v-1h7v1h3v-3h7v4h3v-3h5v-2h7v4h15v1h8v-7h7v6h5v2h3v-1h10v-1h12v1h5v1h3v-1h5v-3h5v-7h7v5h5v5h3v-1h7v1h3v-5h5v-12h7v1h5v15h18v-1h7v2h15v1h3v-2h7v1h5v1h3v-1h10v-2h7v4h3v-3h7v2h3v-2h7v1h10v2h3v-4h12v2h15v2h3v-1h5v-2h5v-1h7v1h8v-1h7v1h5v2h3v-1h10v-2h7v2h18v-2h7v2h3v-4h7v3h5v1h10v1h3v-2h10v-1h7v2h5v1h3v-1h10v-2h7v2h3v-3h7v4h3v-1h5v-3h7v2h5v2h3v-1h7v1h3v-1h7v1h3v-1h5v-1h7v2h8v-2h12v1h5v1h8v-2h5v-1h7v2h5v1h8v-2h7v1h8v-2h10v-8h7v11h18v-1h5v-3h7v2h5v1h10v1h8v-2h20v-1h12v1h5v1h3v-2h7v1h5v1h10v2h3v-2h7v1h8v-1h12v1h3v-1h7v2h3v-1h10v-2h7v1h5v1h8v-2h7v1h5v1h3v-1h5v-1h7v1h8v-1h12v1h3v-1h7v3h3v-3h7v1h3v-1h7v2h3v-3h5v-2h5v-2h7v4h5v1h3v-2h7v1h5v3h3v-1h5v-1h7v2h3v-3h7v2h3v-5h5v-24h7v7h5v21h3v-1h12v1h3v-2h5v-4h7v6h3v-1h10v-2h12v3h5v1h3v-2h7v2h3v-11h7v5h5v4h5v2h3v-42h7v11h5v30h5v1h3v-1h10v-2h7v1h5v2h3v-4h7v3h3v-1h10v-1h7v3h3v-1h7v1h8v-1h5v-1h7v1h8v-2h5v-6h7v5h5v1h3v-9h7v10h3v-7h5v-8h7v1h5v14h3v-1h5v-33h7v6h5v28h8v-12h7v4h5v8h13v-1h5v-26h7v8h5v20h3v-1h5v-1h12v2h15v2h3v-1h5v-2h7v2h13v-1h7v1h10v1h3v-2h5v-3h7v4h5v1h3v-1h5v-2h7v1h5v2h5v1h3v-4h12v3h3v-1h5v-1h17v1h5v1h3v-19h7v2h5v16h3v-2h7v2h3v-1h7v1h8v-1h7v2h3v-14h7v11h5v1h3v-1h7v2h8v-2h5v-1h7v2h8v-1h7v2h5v1h3v-1h7v1h3v-1h15v-1h7v2h3v-1h5v-4h7v3h5v1h3v-1h12v1h3v-3h7v2h10v1h15v1h10v1h3v-11h7v7h5v2h3v-1h7v1h5v1h3v-1h15v-3h7v2h18v-3h7v5h3v-1h5v-1h7v2h3v-2h7v1h5v1h3v-2h7v1h13v-1h7v1h3v-2h5v-2h7v4h8v-2h7v2h10v1h3v-3h7v1h5v2h8v-2h12v2h3v-1h5v-1h7v1h3v-2h7v1h10v1h3v-1h7v3h3v-1h5v-5h7v6h3v-3h5v-2h7v3h8v-3h7v3h5v1h5v1h3v-1h5v-3h7v2h3v-1h7v1h5v1h3v-2h5v-1h7v1h8v-2h7v2h18v-1h7v1h10v2h3v-1h10v-3h7v3h13v-1h7v3h3v-5h7v5h3v-3h7v2h3v-2h7v1h25v1h3v-1h5v-1h7v2h3v-2h5v-2h7v3h10v1h3v-2h12v1h5v2h3v-2h7v1h3v-2h12v2h3v-3h7v2h3v-1h7v1h3v-5h7v3h5v2h13v-3h7v3h3v-1h5v-3h7v5h3v-2h5v-1h7v2h3v-1h5v-1h7v1h5v1h3v-1h12v1h8v-2h7v3h3v-2h7v2h3v-1h5v-8h7v7h10v1h8v-1h7v1h8v-2h7v2h5v1h3v-1h7v1h13v-1h7v2h3v-1h5v-1h15v-1h7v2h3v-1h10v-1h10v-3h7v2h10v1h3v-1h7v2h5v1h3v-3h7v1h10v1h8v-1h7v3h3v-1h5v-1h10v-2h7v2h5v1h8v-1h5v-1h7v3h3v-1h10v-1h5v-4h7v4h5v1h3v-1h10v-2h7v1h8v-1h7v3h3v-1h5v-2h7v2h3v-1h7v1h13v-1h7v1h8v-1h17v1h5v1h5v1h3v-2h7v1h8v-1h12v1h3v-1h7v1h8v-3h7v1h10v2h3v-1h20v-2h7v1h5v2h3v-5h7v1h5v1h5v3h15v1h3v-2h5v-1h12v1h3v-2h7v1h5v1h5v1h3v-1h5v-3h7v3h8v-1h12v1h3v-1h10v-1h12v4h3v-3h7v1h5v1h3v-1h10v-1h7v1h3v-1h12v2h3v-2h7v1h3v-2h7v2h3v-1h7v1h8v-1h7v2h3v-1h5v-27h7v8h5v18h5v1h13v-6h7v5h5v2h3v-1h7v1h8v-1h10v-1h7v1h5v1h13v-2h7v1h8v-1h5v-1h7v1h10v1h8v-4h7v3h3v-2h12v4h3v-3h7v1h8v-1h7v1h3v-4h7v5h3v-2h5v-1h7v1h5v3h8v-3h7v2h5v1h3v-1h10v-5h7v5h3v-1h7v1h8v-2h5v-1h7v3h3v-1h12v1h3v-1h5v-2h12v2h10v1h3v-2h7v3h3v-1h5v-3h7v1h5v2h8v-1h7v1h5v2h3v-2h17v1h3v-2h7v1h3v-1h7v1h3v-1h22v1h3v-2h7v2h3v-3h7v3h3v-1h7v1h5v1h3v-1h12v1h3v-1h5v-2h12v2h3v-41h7v4h5v33h5v3h8v-1h7v2h8v-2h10v-1h7v4h3v-3h7v2h3v-2h7v1h5v1h3v-1h7v2h3v-73h7v17h5v55h8v-2h5v-12h7v3h5v11h5v1h5v1h3v-2h15v-1h7v1h3v-1h5v-32h7v2h5v29h3v-2h7v3h5v2h3v-2h7v2h3v-1h12v1h3v-1h5v-2h17v1h5v1h5v1h3v-3h7v1h8v-5h7v6h10v1h8v-6h7v5h3v-2h7v1h5v1h3v-1h10v-1h5v-1h7v2h3v-4h7v6h3v-3h12v2h3v-1h12v2h18v-3h12v1h3v-1h5v-1h7v2h5v2h3v-1h5v-5h7v4h5v2h3v-1h7v1h3v-2h12v1h3v-2h15v-1h7v1h5v3h3v-2h5v-5h7v6h3v-6h7v7h13v-6h7v2h3v-2h5v-4h7v9h5v2h3v-3h7v2h3v-1h7v2h3v-1h10v-2h7v1h3v-2h7v3h3v-2h7v1h10v2h3v-2h5v-1h7v1h5v1h8v-3h7v1h10v1h3v-7h7v5h5v1h10v1h3v-4h7v2h3v-15h7v4h5v10h5v2h3v-2h5v-13h7v3h5v11h10v1h8v-2h7v2h3v-1h7v1h8v-5h7v5h3v-1h7v2h3v-1h5v-2h7v2h3v-3h7v2h5v1h3v-2h7v2h3v-3h7v1h10v2h3v-12h7v4h5v10h3v-2h5v-4h5v-5h7v4h5v3h3v-1h7v2h3v-1h7v2h8v-3h7v1h5v1h3v-2h12v3h3v-2h22v1h5v1h5v1h5v1h3v-1h5v-1h5v-1h7v4h3v-4h7v1h5v1h13v-5h7v4h3v-2h7v3h8v-1h7v3h3v-3h7v2h3v-1h10v-1h7v2h8v-2h15v-1h17v2h5v1h13v-2h5v-1h7v4h3v-2h7v1h3v-3h12v2h3v-1h7v1h5v1h3v-2h7v1h3v-1h7v2h13v-2h12v2h3v-2h7v1h3v-1h7v1h3v-3h7v3h23v-1h7v2h3v-1h12v2h3v-1h5v-2h5v-1h7v1h3v-1h7v3h13v-3h7v3h3v-3h7v3h10v1h3v-3h10v-1h7v3h3v-3h7v1h5v2h3v-1h5v-1h7v1h3v-3h7v3h5v1h8v-1h7v1h3v-5h7v3h10v1h13v-2h7v1h5v1h5v1h3v-2h7v1h3v-2h7v2h3v-2h7v2h3v-1h12v1h5v1h3v-1h5v-4h7v3h10v2h3v-2h12v1h13v-3h7v1h10v2h5v1h3v-1h17v1h3v-1h5v-1h17v2h3v-2h7v1h3v-3h7v2h5v2h3v-1h5v-5h7v6h3v-3h7v2h8v-4h7v4h25v1h5v2h3v-2h15v-3h7v4h3v-3h7v2h3v-1h27v1h3v-1h7v1h13v-1h5v-2h7v1h3v-1h12v3h3v-2h12v1h3v-1h7v2h3v-3h17v2h20v1h3v-4h7v3h3v-1h7v1h5v2h3v-1h10v-2h7v1h13v-1h7v1h3v-1h7v1h3v-1h10v-2h7v4h3v-1h7v1h3v-2h7v1h3v-1h12v2h3v-1h20v-1h5v-2h7v3h5v1h3v-1h20v-1h7v2h3v-4h7v1h5v1h10v2h13v-1h7v1h3v-1h7v1h3v-1h5v-1h7v1h15v1h3v-2h12v1h5v1h3v-2h7v2h8v-3h7v2h3v-1h17v1h5v1h8v-2h22v2h8v-2h15v-3h7v3h5v1h5v1h3v-1h5v-1h7v2h8v-3h6V391h-4v2h-7v-1h-3v1h-10v1h-7v-1h-5v-1h-8v1h-7v-2h-3v1h-10v1h-7v-1h-5v-1h-3v1h-20v1h-12v-1h-18v1h-7v-1h-5v-1h-8v4h-5v2h-7v-3h-3v6h-7v-8h-3v2h-7v-2h-5v-1h-3v1h-10v1h-12v-1h-3v2h-7v-2h-3v1h-7v-1h-3v2h-7v-3h-3v4h-7v-2h-10v-1h-3v2h-7v-3h-3v2h-7v-1h-10v-1h-3v2h-7v-1h-5v-1h-3v2h-7v-1h-15v-1h-13v3h-7v-1h-5v-2h-3v3h-7v-1h-5v-2h-3v2h-7v-1h-3v1h-12v-1h-3v1h-7v-2h-3v2h-10v2h-7v-3h-3v3h-7v-3h-3v2h-7v-2h-3v1h-7v-1h-3v1h-7v-1h-3v1h-12v-1h-3v1h-7v-1h-3v1h-12v-1h-18v1h-7v-2h-3v1h-10v1h-5v3h-7v-2h-5v-2h-8v1h-5v1h-7v-1h-5v-2h-3v1h-12v-2h-3v2h-5v2h-15v5h-7v-6h-3v3h-7v-1h-5v-2h-5v-1h-8v2h-7v-3h-3v1h-12v-1h-3v3h-7v-2h-13v2h-7v-1h-5v-2h-3v7h-7v-5h-10v-1h-5v-1h-3v3h-7v-2h-3v2h-12v-2h-5v-1h-8v3h-7v-1h-3v1h-7v-2h-8v2h-7v-3h-3v1h-17v-2h-3v1h-5v2h-7v-2h-8v4h-7v-1h-5v-3h-3v3h-7v-2h-3v1h-7v-1h-3v2h-7v-2h-3v1h-7v-1h-5v-1h-3v2h-10v2h-5v1h-7v-5h-3v2h-7v-1h-3v1h-7v-1h-18v2h-7v-2h-3v1h-5v2h-7v-4h-8v2h-7v-1h-3v2h-7v-1h-3v1h-7v-1h-3v1h-7v-1h-3v3h-7v-1h-5v-4h-3v1h-5v2h-7v-3h-3v2h-7v-2h-8v2h-7v-1h-13v2h-7v-2h-3v1h-7v-1h-3v2h-7v-2h-10v-1h-3v5h-7v-3h-5v-1h-5v-1h-3v3h-7v-1h-10v-1h-3v2h-7v-1h-5v-1h-10v-1h-3v2h-5v1h-7v-2h-5v-1h-8v3h-7v-1h-5v-1h-3v1h-7v-1h-3v1h-10v1h-7v-2h-3v1h-7v-1h-10v-1h-3v1h-10v1h-10v1h-7v-2h-3v1h-22v-1h-3v1h-5v1h-7v-2h-3v1h-7v-2h-3v1h-15v1h-7v-2h-3v1h-5v5h-7v-3h-5v-4h-3v2h-5v1h-7v-1h-3v1h-5v1h-15v2h-7v-3h-3v1h-5v10h-7v-11h-3v2h-7v-1h-10v-1h-13v2h-7v-1h-5v-1h-3v29h-5v11h-7v-38h-3v1h-10v29h-5v8h-7v-37h-5v-2h-3v1h-12v-1h-15v-2h-3v2h-7v-1h-8v1h-5v13h-7v-10h-5v-3h-3v2h-12v-2h-5v-1h-5v-1h-8v2h-5v1h-15v5h-5v2h-7v-5h-3v2h-7v-5h-3v11h-5v4h-7v-15h-5v-1h-3v2h-7v-3h-3v3h-12v-3h-5v-1h-13v2h-5v2h-7v-1h-5v-1h-5v-1h-3v2h-5v1h-7v-3h-8v1h-7v-1h-10v-2h-8v2h-5v4h-7v-1h-10v-4h-8v1h-5v3h-7v-3h-3v2h-7v-1h-3v1h-7v-2h-3v1h-10v1h-7v-1h-5v-1h-15v-1h-3v1h-12v-2h-3v3h-7v-1h-3v1h-5v3h-7v-4h-3v2h-7v-1h-10v-1h-3v1h-5v3h-7v-2h-5v-4h-8v1h-10v1h-5v1h-5v1h-7v-2h-18v2h-7v-2h-5v-1h-3v1h-7v-1h-3v2h-10v1h-12v-2h-5v-1h-3v1h-5v6h-7v-5h-15v-1h-3v2h-7v-2h-18v1h-12v-1h-5v-1h-3v13h-7v-14h-3v1h-5v1h-5v1h-12v-1h-3v1h-7v-1h-3v1h-7v-1h-5v-1h-8v14h-5v1h-7v-13h-3v1h-12v-1h-5v-1h-8v2h-7v-1h-10v-1h-5v-1h-8v4h-7v-4h-3v4h-7v-2h-5v-2h-18v1h-5v2h-7v-1h-5v-1h-3v2h-7v-3h-3v1h-7v-1h-3v1h-5v13h-5v1h-7v-13h-15v-1h-3v2h-5v3h-7v-5h-8v1h-5v1h-7v-1h-10v-1h-5v-1h-8v1h-5v1h-7v-1h-3v1h-5v1h-7v-3h-8v2h-12v-2h-3v3h-12v-2h-3v1h-10v3h-7v-3h-8v4h-7v-5h-23v3h-7v-1h-3v4h-7v-5h-5v-1h-10v-2h-3v2h-7v-1h-3v1h-17v-1h-8v2h-5v1h-7v-2h-3v1h-12v-2h-3v13h-5v2h-7v-7h-5v-5h-5v-2h-3v1h-7v-2h-3v1h-5v4h-7v-3h-3v2h-7v-4h-5v-1h-3v2h-5v2h-7v-1h-3v1h-7v-3h-5v-1h-3v1h-5v1h-5v3h-7v-3h-3v1h-7v-1h-8v2h-7v-2h-5v-1h-8v2h-17v-1h-5v-1h-3v1h-15v1h-7v-1h-13v1h-12v-1h-3v1h-10v8h-5v5h-7v-12h-5v-4h-3v2h-5v1h-5v2h-7v-2h-5v-1h-5v-1h-5v-1h-3v3h-7v-1h-8v4h-7v-3h-5v-1h-3v2h-7v-1h-13v1h-7v-1h-5v-1h-5v-2h-3v4h-7v-1h-5v-1h-3v1h-17v-2h-3v1h-20v1h-7v-1h-8v1h-10v1h-12v-1h-5v-1h-3v1h-7v-1h-3v4h-7v-3h-3v2h-7v-4h-3v1h-7v-1h-3v2h-7v-2h-8v3h-5v1h-7v-2h-5v-1h-3v1h-5v1h-7v-1h-5v-1h-3v1h-17v-1h-3v1h-5v1h-7v-1h-3v3h-7v-2h-5v-2h-5v-1h-5v-1h-3v2h-7v-1h-3v1h-7v-1h-3v1h-5v1h-7v-1h-5v-1h-3v1h-20v1h-5v1h-7v-1h-15v-2h-3v2h-17v-1h-3v1h-12v-1h-3v4h-5v1h-7v-5h-5v-1h-8v3h-5v3h-7v-4h-3v6h-7v-5h-5v-3h-3v3h-7v-2h-3v2h-7v-1h-5v-1h-5v-1h-3v1h-12v-1h-3v1h-10v3h-7v-2h-3v2h-7v-2h-23v1h-5v2h-7v-2h-15v-2h-18v2h-7v-3h-3v3h-7v-2h-3v6h-7v-6h-10v-1h-3v1h-5v1h-5v2h-7v-3h-5v-1h-3v2h-7v-1h-3v2h-7v-3h-3v2h-12v-1h-8v1h-7v-2h-3v3h-7v-3h-8v1h-10v3h-7v-3h-3v1h-7v-2h-3v1h-5v1h-7v-1h-3v1h-7v-2h-3v3h-10v1h-7v-3h-3v1h-7v-1h-3v1h-7v-1h-3v1h-7v-3h-3v2h-12v-2h-3v2h-15v14h-5v5h-7v-19h-13v2h-7v-2h-3v1h-7v-1h-3v2h-7v-2h-3v2h-7v-1h-5v-2h-3v1h-5v1h-7v-2h-3v2h-12v-1h-8v3h-7v-2h-10v-2h-8v1h-5v1h-17v-2h-3v1h-10v3h-7v-2h-5v-2h-3v2h-7v-2h-3v2h-7v-2h-3v4h-12v-2h-5v-1h-5v-1h-3v2h-7v-1h-8v2h-12v-1h-10v-1h-3v1h-7v-1h-3v4h-7v-4h-8v2h-5v1h-7v-2h-10v-1h-3v1h-5v1h-5v1h-7v-3h-8v1h-12v-1h-10v-1h-3v2h-7v-1h-5v-1h-3v2h-7v-2h-3v1h-20v1h-5v1h-5v5h-7v-7h-8v4h-7v-3h-3v4h-7v-5h-5v-1h-8v1h-15v1h-5v1h-7v-2h-8v1h-7v-1h-13v4h-7v-4h-8v3h-7v-3h-3v1h-7v-1h-3v1h-7v-2h-3v1h-5v1h-12v-1h-5v-1h-3v2h-7v-1h-13v1h-12v-1h-13v9h-7v-8h-10v-1h-8v1h-7v-2h-3v1h-7v-1h-8v7h-7v-6h-8v1h-5v1h-7v-1h-10v-1h-18v10h-5v2h-7v-11h-5v-3h-3v2h-7v-1h-3v1h-5v1h-7v-2h-8v1h-5v2h-5v1h-7v-3h-3v1h-12v-1h-5v-1h-3v3h-7v-1h-5v-1h-3v2h-7v-1h-13v1h-7v-3h-18v3h-7v-3h-3v1h-5v1h-5v1h-7v-1h-5v-1h-3v2h-5v2h-7v-3h-3v2h-7v-1h-5v-1h-23v1h-7v-1h-3v1h-7v-1h-3v2h-7v-2h-5v-1h-3v1h-12v-1h-5v-1h-3v5h-7v-1h-3v1h-7v-3h-8v2h-10v1h-7v-1h-3v1h-7v-3h-3v1h-5v10h-5v2h-7v-14h-8v1h-5v4h-7v-3h-3v4h-7v-6h-3v1h-7v-1h-3v3h-7v-1h-5v-2h-3v2h-12v-1h-3v1h-5v1h-7v-2h-3v2h-7v-3h-3v1h-7v-1h-3v3h-5v1h-7v-1h-8v1h-7v-2h-8v12h-5v5h-7v-17h-3v3h-7v-2h-10v-1h-3v1h-7v-1h-3v3h-7v-4h-10v-1h-8v1h-5v1h-7v-1h-5v-1h-3v1h-5v1h-7v-1h-5v-1h-3v2h-7v-4h-3v2h-7v-1h-3v2h-17v-2h-3v2h-7v-1h-3v1h-12v-1h-3v3h-7v-2h-8v1h-7v-1h-3v2h-7v-1h-3v1h-7v-2h-3v1h-7v-1h-5v-1h-3v1h-10v2h-7v-4h-3v2h-5v4h-7v-6h-8v1h-12v-2h-3v5h-7v-1h-3v2h-7v-3h-5v-1h-3v5h-7v-5h-3v1h-12v-1h-3v2h-5v1h-7v-2h-3v1h-7v-2h-3v2h-5v1h-7v-3h-5v-1h-3v3h-7v-1h-5v-1h-3v1h-5v1h-5v3h-7v-5h-8v1h-7v-1h-3v3h-7v-1h-5v-2h-8v2h-5v6h-7v-7h-3v1h-12v-1h-8v2h-7v-2h-3v1h-7v-2h-3v3h-7v-2h-5v-1h-10v-1h-3v1h-5v3h-7v-3h-18v2h-7v-1h-5v-2h-3v1h-5v1h-7v-1h-3v1h-7v-1h-13v1h-7v-1h-5v-1h-5v-1h-3v4h-7v-2h-5v-1h-3v5h-7v-1h-5v-4h-3v1h-5v9h-7v-10h-3v2h-22v-1h-8v1h-10v1h-7v-3h-3v3h-7v-1h-5v-1h-3v2h-7v-1h-5v-1h-3v2h-5v2h-7v-3h-5v-1h-13v1h-10v2h-7v-3h-3v6h-7v-6h-13v6h-7v-6h-8v1h-5v2h-7v-2h-10v-1h-3v2h-12v-2h-3v1h-7v-1h-23v3h-5v1h-12v-1h-13v1h-7v-1h-5v-2h-13v5h-5v3h-7v-7h-8v1h-10v4h-7v-5h-8v2h-5v3h-7v-6h-5v-1h-3v3h-7v-3h-3v1h-5v1h-5v1h-7v-2h-10v-2h-8v1h-10v1h-5v3h-7v-4h-3v11h-7v-10h-15v-2h-3v1h-5v2h-7v-1h-5v-1h-5v-1h-3v2h-5v20h-5v5h-7v-23h-5v-1h-5v-1h-10v-1h-3v4h-7v-5h-3v2h-12v-1h-3v1h-15v6h-7v-7h-3v3h-7v-2h-3v1h-7v-2h-8v3h-7v-3h-3v2h-7v-1h-10v-1h-10v-1h-3v2h-5v1h-7v-1h-5v-3h-3v3h-7v-1h-3v1h-7v-2h-8v1h-7v-1h-3v4h-7v-3h-8v1h-7v-1h-5v-1h-8v1h-5v1h-7v-1h-3v2h-5v7h-7v-9h-8v1h-10v1h-7v-1h-10v-1h-3v1h-12v-1h-10v-1h-8v2h-7v-3h-3v6h-7v-4h-3v1h-7v-1h-8v2h-7v-1h-5v-1h-3v1h-7v-1h-3v1h-12v-2h-3v2h-7v-1h-3v1h-7v-1h-10v-2h-3v15h-5v4h-7v-16h-10v-1h-3v1h-5v2h-7v-2h-3v3h-7v-5h-3v2h-17v-1h-3v2h-7v-2h-3v1h-7v-1h-3v2h-5v1h-7v-4h-8v1h-7v-1h-8v1h-5v1h-5v3h-7v-2h-3v1h-7v-3h-3v3h-7v-3h-5v-1h-3v1h-15v2h-7v-1h-3v3h-7v-3h-3v1h-7v-2h-5v-1h-3v5h-7v-4h-13v1h-12v-2h-3v2h-7v-1h-8v2h-12v-1h-5v-2h-3v1h-12v-1h-3v1h-7v-1h-3v3h-7v-2h-20v-2h-3v3h-5v1h-7v-2h-23v1h-17v-2h-3v2h-7v-1h-20v-1h-3v2h-5v1h-12v-2h-3v1h-10v1h-5v1h-7v-4h-8v4h-7v-3h-10v-2h-3v2h-10v3h-6Z"/>
<path fill="#000000" d="M1152 448h4v-1h22v2h8v-4h7v3h3v-2h7v3h3v-1h5v-1h5v-1h12v1h10v1h8v-3h7v2h10v1h5v1h3v-2h7v1h10v2h3v-1h10v-1h5v-1h7v1h3v-3h7v3h3v-2h5v-1h7v3h3v-2h12v3h3v-2h7v1h3v-1h12v1h8v-1h5v-3h7v1h5v3h3v-1h7v1h3v-1h5v-3h7v2h5v2h3v-1h7v2h3v-1h5v-2h7v1h15v2h8v-1h10v-1h7v1h3v-1h7v1h3v-1h20v-1h7v2h8v-3h7v2h5v1h8v-1h15v-1h7v2h3v-3h7v3h3v-1h7v1h3v-1h7v2h3v-1h12v1h3v-1h10v-1h7v2h3v-1h5v-1h5v-1h7v2h3v-3h7v2h5v2h3v-1h5v-2h12v1h8v-1h7v2h3v-1h5v-3h7v2h3v-1h7v3h5v1h3v-3h12v3h3v-1h10v-1h12v1h13v-1h27v1h8v-1h5v-1h7v1h10v1h10v1h3v-3h7v2h3v-1h5v-1h7v2h5v1h3v-1h7v1h3v-3h17v2h3v-1h12v1h8v-2h7v3h3v-1h7v1h3v-1h10v-1h5v-2h7v1h5v1h5v1h5v1h3v-2h7v1h5v2h8v-2h17v1h3v-2h10v-2h7v3h3v-1h12v1h5v1h8v-2h5v-1h7v3h3v-2h7v1h3v-2h7v2h3v-1h10v-1h7v2h28v-2h5v-2h7v3h5v1h3v-2h7v1h10v2h3v-2h7v1h3v-1h7v1h3v-1h12v1h8v-2h7v1h5v1h20v1h3v-2h5v-1h7v1h3v-1h7v2h10v1h3v-1h7v1h3v-1h5v-1h5v-2h7v3h3v-1h22v2h3v-1h5v-1h12v1h5v1h3v-4h7v4h3v-1h5v-1h12v1h3v-2h7v1h10v3h3v-4h7v1h3v-1h7v1h5v1h8v-1h10v-2h12v3h3v-2h7v2h3v-2h7v2h5v1h3v-1h7v1h3v-2h7v2h3v-1h5v-3h7v3h5v1h3v-1h5v-2h7v1h5v2h3v-1h5v-1h12v1h3v-2h7v3h3v-2h12v1h5v1h3v-1h5v-1h7v1h3v-2h7v2h3v-1h10v-2h7v2h3v-3h7v4h3v-2h7v1h3v-1h7v2h3v-1h7v1h10v1h3v-3h7v1h3v-1h7v2h3v-1h12v1h3v-1h7v1h3v-1h7v1h18v-1h12v1h3v-1h7v1h3v-1h5v-1h12v1h15v1h3v-1h7v1h3v-1h7v1h8v-1h5v-2h7v1h5v2h10v1h3v-1h7v1h3v-1h5v-3h7v3h3v-2h7v2h3v-2h12v1h5v2h3v-2h12v1h3v-1h7v1h3v-1h17v1h3v-1h7v1h8v-3h7v2h20v2h3v-3h7v1h10v1h3v-3h7v2h10v2h8v-1h5v-1h7v1h3v-1h17v1h20v1h3v-4h7v1h8v-2h7v2h5v1h10v1h8v-1h5v-1h7v1h5v1h10v1h3v-2h20v-1h12v1h5v1h3v-1h7v2h3v-1h7v1h3v-1h10v-1h27v1h3v-1h15v-2h7v1h5v2h10v1h3v-5h7v2h5v1h8v-4h7v4h5v2h3v-3h7v2h8v-1h22v1h5v1h3v-1h5v-1h7v1h10v1h3v-2h7v2h3v-3h7v1h3v-1h12v1h25v2h3v-2h7v1h3v-1h12v1h3v-1h7v2h3v-3h7v3h3v-2h7v1h13v-2h7v2h8v-1h7v1h10v1h13v-1h5v-1h7v1h3v-1h7v2h3v-1h7v1h3v-2h12v1h8v-2h5v-2h7v3h3v-1h17v1h3v-1h7v1h3v-2h7v3h3v-2h7v3h3v-1h5v-2h7v2h3v-1h15v-1h7v1h15v1h18v-1h12v2h3v-2h7v1h23v-2h7v1h5v1h3v-1h7v1h8v-1h7v2h3v-2h22v1h5v1h8v-1h5v-1h7v1h3v-1h7v2h3v-1h10v-5h7v5h3v-1h7v1h10v1h3v-1h10v-1h12v1h15v1h3v-2h10v-1h7v1h5v1h8v-1h5v-1h7v2h8v-1h5v-1h7v3h3v-1h5v-1h10v-1h7v3h3v-2h22v1h8v-2h7v2h15v1h3v-4h7v3h3v-1h17v1h8v-2h7v2h3v-1h7v1h8v-1h10v-1h7v2h3v-1h5v-2h7v1h5v1h5v1h3v-1h7v1h5v1h3v-1h5v-2h7v1h10v1h3v-1h7v1h3v-1h5v-1h7v1h10v1h8v-1h7v1h3v-1h5v-1h5v-3h7v4h10v1h3v-1h7v2h3v-2h17v1h10v1h3v-3h7v1h5v1h5v1h3v-4h7v3h3v-3h7v3h3v-1h7v2h3v-1h5v-3h7v2h8v-1h7v2h8v-1h5v-1h7v1h13v-2h7v4h3v-1h5v-1h12v1h5v1h3v-1h5v-1h5v-1h7v1h3v-1h7v2h3v-1h5v-1h7v2h3v-1h10v-1h7v1h3v-3h7v1h5v2h5v1h3v-2h7v1h5v1h18v-1h10v-1h7v2h8v-1h12v1h8v-2h7v2h3v-1h7v2h3v-2h7v1h3v-2h7v1h3v-1h17v1h5v1h3v-3h7v1h5v2h13v-1h5v-2h7v2h3v-1h7v2h3v-2h7v3h5v1h3v-4h7v1h5v1h3v-1h5v-1h12v3h3v-4h7v3h8v-2h7v1h5v1h3v-1h5v-2h7v2h10v1h13v-1h7v1h8v-2h7v1h3v-1h7v3h3v-2h5v-1h7v1h5v1h3v-2h12v2h3v-1h7v1h8v-2h7v1h10v1h13v-1h22v3h3v-2h5v-1h5v-1h7v1h15v1h8v-2h7v2h3v-3h7v3h3v-1h7v2h3v-1h5v-2h7v1h3v-1h7v1h15v1h8v-1h5v-1h7v1h5v1h3v-2h12v2h3v-1h7v1h13v-4h7v1h5v2h25v1h3v-1h7v1h8v-3h7v1h5v3h3v-2h12v3h3v-2h5v-1h7v1h3v-1h7v1h3v-1h7v1h5v1h8v-2h5v-1h5v-1h5v-1h7v2h15v2h3v-2h7v1h5v1h5v1h3v-1h10v-1h10v-2h7v2h3v-1h12v1h5v1h3v-1h5v-1h7v1h15v1h3v-1h7v1h5v1h3v-1h5v-3h7v2h5v1h3v-1h7v2h3v-1h5v-5h7v5h8v-1h7v1h3v-1h7v2h3v-4h7v2h3v-1h7v3h3v-1h10v-4h7v4h3v-3h7v2h8v-1h7v1h10v2h8v-2h5v-3h7v4h5v1h3v-1h10v-1h7v1h3v-2h7v1h3v-1h7v2h18v-1h17v1h8v-1h5v-1h7v2h3v-2h7v1h5v1h8v-1h5v-2h7v4h8v-2h5v-2h7v4h8v-2h5v-2h7v2h10v1h13v-1h7v1h3v-1h12v1h3v-1h17v1h8v-1h5v-1h7v1h8v-1h7v1h8v-2h7v3h3v-2h7v2h8v-1h12v1h3v-4h7v4h8v-1h7v1h3v-1h7v1h3v-2h12v2h3v-1h7v1h3v-1h7v2h3v-2h10v-1h12v3h3v-1h7v1h8v-2h5v-1h7v3h3v-3h12v1h3v-2h12v2h3v-1h7v2h15v1h3v-1h7v2h8v-1h5v-2h5v-2h7v1h10v2h3v-2h7v1h13v-1h7v1h15v1h3v-3h7v2h5v1h3v-1h10v-1h12v1h5v1h5v1h3v-2h5v-1h12v2h3v-1h5v-1h12v2h8v-1h5v-1h7v1h5v2h3v-3h7v2h3v-1h7v1h5v1h3v-1h10v-1h7v1h8v-1h12v1h3v-2h7v1h5v2h8v-2h5v-1h7v2h3v-1h5v-1h7v1h8v-1h7v2h3v-1h12v1h3v-3h7v2h5v1h5v1h3v-1h7v1h8v-2h12v1h3v-1h7v1h8v-1h7v1h3v-1h5v-2h7v2h5v1h10v1h8v-2h7v1h3v-1h10v-1h7v3h3v-2h5v-2h7v3h3v-1h5v-1h7v1h10v2h3v-1h5v-1h7v2h3v-1h7v1h3v-2h5v-1h7v1h3v-1h7v2h8v-1h5v-1h12v2h5v1h3v-1h5v-1h5v-2h7v3h5v1h3v-2h7v1h5v1h3v-2h7v1h3v-1h12v1h3v-1h7v1h3v-1h12v1h10v1h3v-2h15v-1h7v1h8v-1h7v1h5v1h3v-1h17v1h8v-2h7v1h3v-1h7v1h8v-3h7v2h10v1h5v1h10v1h3v-2h5v-1h12v2h3v-2h7v1h10v1h13v-1h5v-1h7v1h5v1h10v1h3v-1h5v-2h7v1h10v1h3v-1h7v1h3v-3h12v2h3v-1h5v-1h7v3h3v-1h7v2h3v-2h5v-1h7v1h3v-1h7v2h8v-1h7v2h3v-4h7v2h5v1h3v-1h7v2h3v-1h5v-1h17v2h3v-2h7v1h3v-1h10v-1h7v2h3v-1h5v-1h7v3h3v-1h7v1h3v-4h7v2h5v1h18v-4h7v3h3v-1h12v1h10v1h3v-1h7v1h3v-2h5v-2h7v4h3v-1h12v1h13v-3h7v2h5v1h13v-3h12v2h10v1h3v-1h17v1h8v-3h7v3h3v-1h12v1h3v-2h7v1h5v1h3v-1h10v-2h7v2h25v1h5v1h3v-3h12v2h8v-2h7v1h10v1h3v-1h7v1h3v-2h7v1h15v1h3v-1h5v-1h7v2h5v1h3v-2h20v-2h7v1h5v1h8v-1h7v2h5v1h3v-4h7v3h8v-2h7v1h5v2h3v-1h5v-1h7v1h8v-2h7v3h3v-1h7v1h3v-2h7v1h3v-1h22v2h3v-2h5v-1h7v3h3v-3h7v1h8v-1h5v-2h7v4h3v-1h15v-2h7v2h10v1h3v-1h12v2h3v-1h12v1h3v-2h7v2h3v-1h15v-1h7v1h3v-1h7v2h3v-3h7v1h3v-1h5v-1h7v3h3v-2h7v2h5v1h3v-2h5v-2h7v2h3v-1h7v2h3v-2h7v3h3v-1h5v-1h7v1h5v1h3v-1h7v1h3v-3h7v2h3v-1h5v-3h7v3h5v1h3v-1h10v-2h7v2h3v-1h7v1h3v-1h7v4h3v-2h20v-1h12v1h5v1h8v-1h5v-1h12v1h3v-1h7v1h8v-1h12v1h8v-1h5v-1h7v3h3v-2h5v-1h7v1h5v1h3v-1h5v-1h7v2h3v-1h7v2h4V460h-4v1h-7v-1h-8v1h-7v-1h-8v1h-7v-1h-3v1h-7v-1h-3v2h-7v-1h-3v3h-7v-4h-3v5h-7v-1h-5v-4h-3v3h-7v-2h-10v-3h-3v2h-5v3h-5v1h-7v-3h-15v-1h-3v2h-7v-1h-8v1h-17v-1h-3v1h-12v-3h-3v1h-5v1h-12v-1h-23v2h-7v-1h-5v-1h-3v1h-10v1h-5v1h-7v-2h-5v-1h-3v1h-15v1h-12v-2h-3v1h-5v1h-7v-2h-25v-1h-3v1h-7v-1h-3v5h-7v-2h-10v-2h-3v3h-7v-2h-3v1h-7v-1h-8v1h-7v-1h-3v1h-7v-3h-3v1h-5v2h-7v-1h-10v-1h-3v3h-7v-1h-5v-1h-5v-1h-3v2h-7v-2h-13v1h-15v1h-12v-1h-10v-1h-3v4h-7v-4h-3v6h-7v-4h-8v1h-7v-1h-5v-2h-3v4h-7v-4h-3v1h-15v1h-7v-1h-3v1h-7v-2h-5v-1h-3v2h-12v-1h-3v1h-5v1h-12v-1h-5v-2h-3v1h-5v3h-12v-2h-5v-1h-3v2h-7v-3h-3v1h-5v2h-7v-1h-3v1h-12v-2h-3v1h-5v2h-7v-2h-3v1h-5v3h-7v-4h-13v1h-12v-3h-3v2h-27v-2h-3v1h-5v1h-30v1h-12v-1h-10v-2h-3v1h-15v2h-12v-1h-30v-1h-8v1h-7v-1h-3v1h-5v2h-7v-1h-3v2h-7v-3h-5v-1h-8v1h-12v-1h-8v3h-7v-1h-10v-1h-3v1h-5v1h-5v1h-7v-4h-3v3h-7v-1h-5v-3h-3v2h-12v-2h-8v2h-5v1h-17v-1h-5v-1h-8v3h-7v-3h-3v1h-7v-1h-3v1h-5v1h-10v1h-7v-3h-3v1h-7v-1h-8v2h-7v-3h-3v2h-5v1h-7v-2h-3v1h-17v-2h-3v1h-7v-1h-3v2h-7v-1h-3v1h-10v1h-7v-1h-3v2h-7v-2h-10v-1h-3v1h-5v1h-5v1h-7v-2h-5v-1h-8v2h-7v-1h-15v-1h-3v2h-12v-2h-3v1h-12v-1h-3v2h-5v1h-7v-3h-3v2h-12v-1h-10v-1h-18v2h-7v-2h-13v2h-7v-2h-3v1h-15v1h-17v-3h-3v1h-10v2h-7v-1h-8v1h-7v-2h-3v2h-5v1h-7v-2h-5v-1h-3v1h-7v-1h-3v1h-5v2h-12v-2h-5v-1h-18v2h-10v1h-7v-1h-5v-1h-10v-1h-3v2h-7v-1h-5v-1h-3v2h-5v1h-7v-2h-10v-1h-3v3h-7v-3h-8v1h-5v1h-7v-1h-3v1h-7v-2h-3v2h-5v2h-7v-2h-5v-3h-8v1h-10v1h-5v2h-7v-2h-10v-1h-8v1h-15v1h-12v-2h-3v1h-7v-1h-3v1h-12v-1h-3v2h-12v-2h-8v1h-5v1h-7v-1h-13v1h-17v-1h-3v2h-7v-4h-3v3h-17v-1h-8v1h-12v-1h-3v1h-5v1h-7v-1h-5v-1h-15v-1h-18v2h-7v-1h-13v1h-12v-2h-8v1h-7v-1h-8v1h-7v-1h-3v1h-12v-1h-5v-1h-3v1h-15v1h-5v1h-12v-1h-5v-2h-8v3h-7v-1h-3v1h-7v-1h-5v-2h-3v4h-7v-1h-3v1h-7v-2h-10v-2h-3v2h-5v2h-7v-2h-23v1h-7v-2h-5v-1h-3v3h-7v-1h-3v1h-7v-1h-5v-1h-3v1h-12v-1h-3v1h-7v-1h-3v4h-7v-2h-10v-2h-3v1h-7v-1h-13v2h-7v-3h-3v1h-5v1h-7v-1h-3v1h-20v1h-10v1h-12v-1h-5v-1h-5v-1h-3v2h-7v-2h-5v-1h-3v3h-7v-2h-3v1h-12v-1h-3v1h-17v-1h-3v1h-7v-1h-13v2h-7v-3h-3v3h-12v-2h-8v2h-12v-2h-3v1h-15v2h-7v-1h-5v-1h-3v1h-7v-2h-3v2h-7v-2h-3v1h-12v-1h-3v2h-7v-1h-5v-1h-3v2h-17v-2h-3v1h-5v2h-7v-2h-3v1h-7v-2h-3v1h-20v3h-7v-3h-8v1h-5v2h-7v-3h-10v-1h-8v1h-17v-1h-3v1h-5v1h-5v1h-7v-2h-5v-1h-18v1h-7v-1h-3v1h-5v1h-7v-2h-5v-1h-3v1h-5v1h-10v1h-7v-1h-5v-1h-8v1h-7v-1h-3v2h-12v-2h-8v1h-10v1h-7v-1h-8v1h-7v-2h-8v1h-5v2h-7v-1h-5v-1h-8v1h-5v1h-7v-2h-5v-1h-18v3h-7v-2h-5v-2h-3v2h-10v2h-7v-2h-3v1h-12v-1h-5v-2h-3v2h-7v-1h-3v1h-7v-1h-3v1h-12v-1h-3v2h-7v-2h-3v1h-5v2h-7v-3h-3v1h-5v1h-7v-1h-15v-1h-3v1h-5v2h-7v-1h-5v-1h-8v1h-7v-2h-13v1h-12v-1h-3v1h-5v2h-7v-3h-8v2h-7v-1h-13v1h-17v-1h-5v-1h-3v1h-7v-1h-3v1h-5v2h-7v-1h-5v-1h-15v-1h-3v1h-10v1h-7v-2h-3v1h-7v-1h-3v1h-10v1h-12v-3h-3v2h-5v1h-12v-1h-5v-1h-3v3h-7v-3h-3v1h-12v-1h-3v3h-7v-3h-3v1h-5v1h-7v-2h-13v2h-7v-1h-8v1h-5v1h-7v-3h-13v1h-7v-1h-3v1h-7v-1h-3v1h-7v-1h-3v2h-17v-2h-3v1h-7v-1h-3v1h-7v-1h-3v2h-5v1h-7v-3h-3v1h-7v-1h-3v1h-12v-1h-8v1h-5v1h-7v-1h-3v1h-7v-1h-18v1h-7v-1h-3v1h-7v-1h-3v2h-7v-1h-5v-2h-3v2h-5v1h-7v-3h-3v2h-5v2h-7v-4h-3v3h-7v-4h-8v1h-5v1h-7v-1h-3v1h-12v-1h-3v1h-7v-1h-3v2h-12v-3h-3v2h-7v-2h-3v2h-7v-1h-3v2h-12v-1h-8v1h-7v-1h-8v1h-7v-2h-3v3h-7v-2h-5v-1h-8v1h-10v1h-5v1h-7v-2h-3v1h-7v-1h-3v1h-7v-2h-8v2h-7v-1h-3v1h-7v-2h-3v4h-7v-3h-3v1h-12v-1h-10v-2h-3v1h-5v1h-7v-1h-3v1h-17v-1h-3v1h-12v-1h-3v1h-10v2h-7v-2h-33v2h-7v-1h-5v-1h-15v-1h-3v3h-7v-3h-8v1h-7v-1h-8v2h-7v-1h-8v1h-12v-2h-10v-1h-3v1h-5v1h-5v1h-7v-3h-8v1h-5v1h-7v-1h-3v2h-17v-1h-3v1h-7v-1h-10v-1h-3v1h-10v2h-7v-2h-5v-1h-3v1h-15v2h-7v-1h-5v-2h-8v1h-12v-2h-3v1h-5v1h-12v-1h-3v1h-7v-1h-13v1h-5v1h-7v-2h-3v1h-5v1h-7v-1h-3v1h-7v-1h-3v1h-7v-1h-10v-2h-3v3h-7v-2h-3v2h-12v-1h-3v1h-12v-1h-5v-1h-3v2h-7v-1h-13v1h-10v1h-7v-2h-3v2h-7v-1h-10v-1h-3v2h-7v-1h-5v-1h-13v1h-7v-2h-3v2h-5v1h-7v-2h-3v1h-12v-1h-3v1h-7v-1h-3v1h-10v2h-7v-5h-3v2h-7v-2h-3v3h-7v-1h-3v1h-7v-1h-8v1h-7v-2h-3v2h-7v-1h-3v1h-7v-1h-13v1h-7v-2h-8v1h-7v-2h-3v1h-20v1h-7v-1h-3v2h-7v-1h-3v1h-12v-1h-3v1h-5v1h-7v-1h-3v1h-7v-2h-3v1h-7v-1h-5v-1h-3v1h-5v2h-5v1h-7v-3h-8v2h-7v-1h-5v-3h-3v4h-7v-3h-3v1h-7v-2h-3v2h-7v-1h-5v-1h-3v2h-5v1h-7v-1h-8v2h-12v-1h-5v-1h-3v1h-7v-2h-8v1h-12v-1h-8v2h-12v-1h-18v1h-7v-1h-3v2h-7v-1h-5v-1h-15v-2h-3v1h-5v2h-7v-1h-3v1h-7v-1h-28v6h-7v-3h-5v-3h-3v1h-7v-1h-5v-1h-13v1h-5v1h-12v-1h-5v-1h-3v1h-15v2h-7v-1h-5v-1h-3v3h-7v-4h-3v1h-5v1h-7v-1h-5v-1h-5v-1h-3v1h-7v-1h-3v1h-5v3h-7v-2h-5v-1h-3v2h-7v-1h-3v1h-7v-1h-3v1h-7v-1h-3v1h-12v-2h-18v2h-5v1h-7v-3h-3v1h-5v1h-10v1h-7v-3h-8v1h-5v1h-7v-1h-5v-2h-3v1h-10v3h-12v-4h-3v1h-5v3h-7v-1h-5v-2h-5v-1h-3v4h-7v-3h-3v1h-5v1h-7v-1h-5v-1h-3v1h-7v-1h-3v3h-7v-3h-8v1h-27v-2h-3v1h-10v1h-7v-1h-3v1h-12v-1h-3v1h-5v1h-7v-2h-20v-1h-3v2h-12v-1h-8v1h-5v1h-7v-2h-3v1h-10v2h-7v-3h-13v1h-5v2h-7v-1h-10v-3h-3v2h-12v-2h-3v2h-35v1h-7v-1h-5v-1h-3v1h-17v-1h-3v3h-7v-3h-10v-1h-3v6h-7v-6h-3v3h-7v-3h-3v1h-10v1h-7v-1h-3v2h-7v-2h-3v1h-12v-2h-3v1h-5v1h-10v1h-7v-1h-10v-1h-3v1h-5v2h-5v2h-7v-5h-13v3h-7v-1h-5v-1h-3v1h-32v-1h-5v-1h-8v1h-7v-1h-8v1h-12v-1h-3v3h-7v-2h-5v-2h-3v3h-7v-1h-8v2h-12v-2h-3v1h-12v-1h-8v1h-7v-1h-3v1h-7v-2h-3v2h-7v-2h-3v1h-5v2h-7v-2h-10v-1h-8v1h-5v3h-7v-3h-10v-1h-3v1h-5v1h-7v-2h-3v2h-7v-1h-8v3h-7v-4h-3v1h-12v-1h-3v2h-7v-1h-10v-1h-8v1h-12v-2h-3v1h-5v3h-7v-1h-5v-2h-5v-1h-3v1h-5v1h-7v-1h-5v-1h-3v3h-7v-2h-3v2h-5v1h-7v-2h-5v-1h-3v1h-5v2h-17v-2h-5v-1h-5v-1h-3v2h-12v-1h-3v1h-5v2h-7v-1h-5v-2h-3v1h-20v2h-12v-2h-5v-1h-8v2h-20v1h-7v-2h-3v1h-5v2h-7v-2h-5v-2h-8v2h-7v-2h-3v1h-25v1h-12v-2h-3v2h-7v-2h-3v4h-7v-3h-3v2h-7v-1h-5v-3h-3v1h-5v1h-10v2h-7v-3h-3v2h-7v-1h-3v1h-7v-1h-3v1h-7v-1h-3v1h-12v-1h-5v-1h-3v2h-5v2h-7v-2h-5v-3h-3v3h-7v-3h-3v2h-5v1h-7v-1h-5v-1h-5v-1h-8v2h-5v3h-7v-4h-3v3h-7v-1h-20v-1h-5v-1h-3v2h-7v-2h-8v1h-20v3h-7v-2h-5v-1h-5v-1h-3v1h-10v1h-7v-1h-3v3h-7v-3h-3v1h-7v-2h-3v1h-5v1h-17v-1h-3v3h-7v-3h-3v1h-7v-1h-5v-2h-3v1h-5v3h-7v-3h-8v2h-7v-1h-15v-1h-3v1h-7v-1h-13v2h-7v-3h-3v2h-5v1h-7v-1h-8v1h-7v-1h-5v-1h-3v1h-7v-1h-5v-2h-3v4h-7v-2h-3v1h-7v-1h-3v2h-12v-2h-3v3h-7v-4h-3v4h-7v-2h-15v-1h-8v1h-10v1h-7v-1h-5v-1h-3v1h-7v-1h-3v2h-7v-4h-3v1h-5v2h-5v1h-5v1h-7v-2h-10v-1h-3v1h-10v1h-12v-1h-3v1h-7v-1h-13v2h-7v-2h-8v1h-5v1h-12v-3h-8v2h-7v-2h-3v2h-5v1h-7v-1h-10v-1h-8v1h-12v-2h-3v3h-7v-2h-5v-1h-4Z"/>
<path fill="#ff0000" d="M1152 520h4v-2h12v1h13v-1h7v1h3v-2h7v1h3v-1h5v-1h7v1h8v-1h7v1h5v2h3v-1h5v-1h10v-3h7v5h3v-1h10v-1h7v1h5v1h3v-1h5v-1h7v1h3v-1h7v1h13v-1h5v-1h7v4h3v-3h7v1h3v-1h7v1h3v-1h7v2h3v-1h15v-1h7v1h3v-1h7v1h8v-1h7v1h5v1h8v-3h7v2h3v-3h7v2h5v3h8v-1h5v-2h7v2h3v-1h5v-2h7v2h3v-1h7v2h8v-2h12v1h5v1h3v-1h5v-2h7v2h3v-2h7v2h3v-1h12v2h3v-2h10v-1h7v2h8v-1h17v1h5v1h3v-1h30v-1h7v2h3v-3h7v3h8v-2h12v2h3v-3h7v2h5v1h13v-3h7v2h3v-2h7v1h3v-1h12v3h3v-2h5v-1h7v3h5v1h3v-2h12v1h3v-2h15v-1h12v1h5v2h3v-1h5v-1h5v-1h12v2h5v1h8v-1h5v-2h7v3h8v-2h5v-1h7v1h10v1h3v-1h7v2h3v-1h15v-1h7v2h3v-3h7v1h5v2h3v-1h5v-1h7v3h3v-1h15v-2h7v1h8v-1h5v-1h7v1h5v2h3v-1h25v-1h10v-1h12v3h3v-2h7v2h3v-2h12v1h3v-1h7v1h3v-1h12v1h5v1h8v-2h7v1h3v-1h7v3h13v-2h5v-1h7v2h8v-1h12v1h3v-2h7v1h8v-1h7v1h10v1h3v-1h10v-2h5v-1h7v4h3v-1h10v-1h7v1h10v1h3v-2h7v3h3v-1h10v-1h7v1h3v-1h5v-4h7v4h3v-2h7v1h3v-3h7v5h3v-5h7v1h3v-1h5v-1h7v1h5v2h3v-2h7v3h3v-5h7v5h3v-2h5v-1h5v-2h7v4h25v3h3v-1h22v1h3v-2h12v1h8v-2h7v1h5v1h3v-1h7v1h3v-1h10v-1h7v2h3v-1h7v1h15v2h3v-2h10v-1h7v1h3v-1h7v1h15v1h3v-2h27v2h3v-1h10v-2h7v1h18v-2h7v1h5v1h5v1h3v-3h7v4h13v-2h7v1h3v-1h10v-1h7v2h13v-1h12v1h8v-2h7v1h8v-1h7v1h8v-1h7v3h3v-1h7v1h3v-1h7v1h3v-2h7v1h3v-1h7v1h3v-2h7v2h10v1h8v-2h10v-1h7v2h3v-1h12v1h3v-1h12v2h3v-3h7v2h3v-1h12v1h8v-1h17v3h8v-2h7v1h5v1h5v1h3v-4h5v-1h7v3h3v-1h5v-1h12v1h5v1h3v-3h7v1h5v1h5v1h3v-1h7v1h5v1h3v-4h7v2h5v1h3v-3h7v1h5v2h13v-2h7v1h5v1h3v-2h12v1h8v-2h7v2h3v-1h12v1h3v-2h7v1h5v1h5v1h3v-1h10v-1h7v1h3v-1h7v1h13v-2h7v2h3v-3h7v1h5v2h3v-1h12v1h3v-1h5v-1h7v1h5v1h5v1h3v-2h22v1h15v1h3v-1h5v-1h27v2h3v-2h7v1h5v1h13v-2h10v-1h7v1h5v1h3v-1h12v2h3v-1h7v1h3v-1h7v1h8v-1h30v-2h7v3h13v-2h7v2h3v-2h7v1h8v-1h7v1h8v-2h5v-1h7v2h5v2h3v-2h7v1h3v-1h7v1h3v-3h7v4h3v-1h7v2h3v-3h7v2h10v1h3v-3h5v-1h7v1h5v2h5v1h3v-2h10v-2h17v1h3v-1h12v2h5v1h3v-1h7v1h3v-1h5v-1h22v1h5v1h3v-2h7v1h8v-1h7v2h3v-2h10v-1h7v2h5v1h3v-1h17v1h3v-2h5v-1h7v3h8v-1h5v-1h22v2h3v-2h7v2h3v-2h7v2h3v-1h5v-1h7v1h5v1h3v-1h5v-2h7v2h3v-1h7v2h3v-2h12v2h8v-2h12v3h3v-2h12v1h3v-2h12v1h3v-1h7v1h8v-2h7v3h3v-1h15v-1h7v1h20v1h8v-1h5v-1h7v2h8v-1h5v-2h7v2h5v2h3v-3h7v2h3v-1h5v-1h7v1h3v-1h7v2h3v-2h22v2h8v-2h12v1h3v-1h7v1h5v1h8v-1h10v-2h7v1h5v2h3v-2h12v1h3v-1h17v1h13v-1h7v1h3v-1h7v1h3v-1h5v-1h7v2h10v1h3v-4h7v3h5v1h3v-1h5v-1h7v2h3v-2h5v-1h25v-1h7v2h5v1h5v2h8v-2h7v1h8v-2h12v2h3v-1h5v-3h7v2h5v2h3v-1h5v-1h5v-1h7v2h3v-3h7v2h5v1h10v1h13v-2h5v-1h7v2h3v-1h7v1h3v-1h7v2h8v-1h10v-1h7v2h3v-3h7v1h8v-1h7v3h18v-1h5v-1h7v1h3v-1h15v-1h12v2h10v1h8v-2h5v-1h7v2h3v-2h7v3h3v-3h7v2h18v-1h5v-1h7v1h5v1h3v-1h7v1h8v-1h7v1h3v-1h7v1h8v-1h7v1h13v-1h5v-1h7v2h8v-1h7v2h5v1h3v-2h10v-2h7v2h5v1h3v-1h7v1h8v-1h12v1h3v-2h7v1h5v2h3v-2h7v1h3v-1h5v-1h12v2h8v-1h10v-1h7v1h13v-1h7v1h23v-1h7v1h3v-1h10v-1h7v2h8v-1h7v1h3v-1h7v2h3v-2h7v1h43v-1h7v1h5v1h3v-2h7v2h3v-1h5v-1h32v2h3v-2h7v1h10v1h3v-1h7v1h8v-1h7v1h3v-2h12v3h3v-2h10v-1h7v1h3v-1h5v-1h7v2h10v1h3v-1h7v2h3v-2h25v-2h7v2h20v1h18v-2h7v1h3v-1h7v1h8v-3h7v4h5v1h3v-1h5v-2h12v1h10v1h3v-1h5v-1h17v1h10v2h3v-2h5v-1h17v1h13v-1h12v3h3v-3h7v2h8v-2h7v3h3v-3h5v-1h7v2h13v-1h5v-1h7v2h5v1h3v-3h12v1h20v1h3v-1h7v1h5v1h3v-2h5v-1h7v1h10v2h3v-1h7v2h8v-2h15v-2h7v3h3v-1h5v-2h17v2h5v1h3v-4h7v3h3v-1h7v2h3v-1h7v1h5v1h3v-1h5v-5h7v3h5v3h3v-3h7v1h3v-1h7v2h3v-2h10v-1h7v2h8v-1h7v2h5v1h3v-2h12v1h3v-1h7v2h3v-1h5v-2h5v-2h7v3h8v-1h7v2h8v-1h5v-2h7v2h3v-1h7v1h8v-2h7v2h3v-1h5v-1h12v1h10v1h5v2h3v-2h5v-1h7v1h8v-2h7v2h5v1h3v-1h10v-2h7v2h8v-2h7v2h5v1h3v-1h5v-1h7v1h5v1h3v-1h17v1h3v-2h12v1h18v-2h12v3h3v-2h7v2h3v-2h5v-2h7v4h3v-1h5v-1h7v2h3v-1h12v1h3v-1h7v1h3v-2h12v1h8v-2h7v3h3v-3h7v1h15v1h3v-1h12v2h3v-2h7v2h13v-1h10v-1h7v1h3v-1h7v2h3v-2h7v1h15v1h3v-1h5v-3h7v3h5v1h3v-1h10v-1h10v-1h7v1h5v2h13v-4h7v3h5v1h3v-1h5v-1h7v2h3v-1h5v-1h7v1h3v-2h7v2h3v-1h12v2h3v-1h25v-1h7v2h8v-1h7v1h3v-1h10v-1h7v2h3v-2h7v1h13v-1h7v2h5v1h3v-1h5v-1h5v-1h7v1h3v-2h7v1h5v3h8v-1h10v-2h7v2h3v-3h7v1h3v-2h7v3h5v1h3v-3h7v2h35v1h3v-2h7v2h3v-2h7v1h8v-1h12v1h3v-1h7v2h3v-4h7v4h3v-4h7v1h5v2h5v2h3v-2h10v-1h12v2h3v-2h5v-2h7v1h5v1h10v1h3v-1h7v1h3v-1h7v1h13v-2h12v3h3v-3h7v2h5v1h3v-3h7v2h3v-1h7v1h20v1h5v1h3v-2h10v-1h5v-1h7v1h3v-1h7v1h5v2h3v-2h7v2h3v-1h10v-1h7v1h8v-2h7v1h5v1h3v-1h10v-1h12v1h15v1h8v-1h7v1h18v-1h5v-2h12v2h5v1h8v-1h7v1h10v1h18v-3h7v1h15v1h3v-1h12v2h3v-2h7v1h3v-1h5v-1h5v-1h7v3h3v-4h7v6h3v-2h12v1h8v-2h7v1h10v1h3v-2h5v-2h7v1h3v-2h7v4h3v-2h7v2h8v-1h7v1h5v1h3v-3h7v2h10v1h3v-1h12v1h3v-1h5v-2h7v1h10v1h3v-1h5v-1h7v1h5v1h13v-1h12v2h3v-2h5v-1h7v2h3v-1h7v2h3v-1h5v-2h5v-1h7v4h3v-1h5v-2h7v3h3v-1h5v-1h17v1h5v1h10v1h3v-3h12v1h3v-1h17v1h3v-2h7v1h5v2h3v-1h22v1h3v-2h7v1h3v-1h7v1h3v-1h7v1h15v1h3v-2h7v2h5v1h3v-3h7v2h13v-1h5v-1h7v2h3v-1h7v1h3v-1h10v-2h7v1h5v2h3v-1h5v-1h5v-2h7v2h8v-1h7v1h8v-1h7v2h18v-1h15v-1h7v1h15v1h10v1h3v-1h7v1h5v1h8v-4h7v1h10v2h8v-1h20v-1h7v1h5v1h3v-1h7v1h3v-3h7v2h3v-2h7v2h5v1h3v-1h10v-1h5v-2h7v2h10v3h3v-2h7v1h3v-1h10v-1h7v1h3v-1h7v2h3v-4h7v2h5v1h3v-1h15v-1h7v2h10v1h8v-1h5v-2h17v1h5v3h3v-3h7v1h5v1h10v1h3v-3h7v2h5v2h3v-3h15v-1h7v2h3v-1h10v-1h5v-2h7v3h3v-1h5v-2h7v1h5v3h3v-1h7v2h3v-3h12v1h13v-1h7v2h3v-2h12v3h3v-3h7v2h8v-1h5v-1h12v1h3v-1h7v1h10v1h8v-3h7v3h3v-1h5v-1h7v1h3v-2h12v2h3v-1h17v2h4V531h-4v1h-17v-1h-3v1h-5v1h-7v-3h-3v1h-7v-1h-3v2h-12v-2h-3v3h-7v-2h-13v1h-7v-2h-8v1h-10v1h-7v-1h-5v-1h-3v1h-5v1h-17v-1h-5v-1h-3v1h-12v-2h-3v2h-5v1h-7v-1h-3v1h-12v-1h-8v1h-7v-1h-13v2h-7v-2h-18v1h-7v-2h-3v1h-5v1h-17v-1h-3v2h-7v-1h-5v-2h-8v1h-22v-1h-3v2h-7v-2h-3v2h-7v-1h-33v1h-15v1h-7v-2h-18v1h-7v-1h-8v2h-7v-3h-3v2h-12v-2h-3v2h-5v1h-7v-3h-3v2h-5v1h-7v-2h-3v2h-12v-1h-5v-2h-8v2h-10v1h-7v-1h-10v-1h-3v1h-32v-2h-3v2h-7v-2h-8v2h-7v-1h-8v2h-7v-2h-3v3h-7v-3h-8v3h-7v-3h-10v-1h-3v3h-7v-3h-3v2h-7v-1h-8v1h-7v-1h-8v2h-7v-1h-25v-1h-3v1h-25v1h-7v-1h-5v-1h-8v3h-7v-4h-13v2h-5v1h-7v-1h-3v1h-12v-2h-3v1h-12v-1h-3v1h-7v-1h-3v2h-12v-3h-3v3h-7v-1h-5v-2h-3v1h-10v3h-7v-1h-5v-1h-5v-1h-10v-1h-3v1h-5v1h-7v-1h-3v2h-7v-2h-5v-2h-3v1h-5v2h-7v-1h-10v-1h-3v1h-5v3h-7v-3h-10v-1h-5v-1h-3v2h-17v-1h-3v1h-7v-1h-3v2h-7v-2h-3v2h-10v3h-7v-4h-8v2h-7v-1h-5v-1h-13v1h-5v2h-7v-3h-3v1h-12v-1h-15v-1h-3v1h-5v2h-12v-1h-5v-3h-3v4h-12v-1h-13v1h-7v-1h-5v-2h-3v2h-5v1h-7v-2h-3v3h-7v-1h-5v-2h-18v1h-7v-1h-3v1h-5v2h-7v-1h-5v-2h-3v1h-10v1h-7v-2h-5v-1h-3v2h-7v-3h-3v1h-5v1h-5v1h-7v-1h-8v1h-5v1h-7v-2h-5v-2h-3v3h-17v-2h-3v3h-7v-3h-3v2h-12v-1h-15v-1h-3v1h-15v1h-7v-2h-3v1h-5v1h-5v1h-7v-2h-5v-1h-3v3h-7v-2h-13v1h-12v-2h-8v4h-7v-4h-3v1h-7v-2h-3v3h-12v-1h-5v-1h-3v3h-7v-2h-5v-1h-8v2h-17v-1h-3v2h-7v-1h-10v-1h-5v-2h-8v2h-7v-1h-3v3h-7v-3h-8v2h-12v-1h-15v-1h-3v2h-7v-1h-5v-1h-13v1h-5v1h-7v-2h-8v2h-7v-1h-3v1h-7v-1h-8v1h-7v-2h-3v1h-5v2h-7v-2h-3v1h-7v-1h-10v-1h-10v-1h-3v1h-5v1h-5v1h-5v3h-7v-2h-5v-1h-15v-3h-3v3h-7v-1h-3v2h-7v-1h-5v-1h-18v1h-10v1h-7v-1h-5v-2h-3v1h-5v1h-7v-1h-8v1h-5v1h-12v-3h-3v1h-7v-1h-3v4h-7v-3h-3v1h-7v-1h-8v1h-7v-1h-3v2h-7v-1h-5v-3h-3v2h-10v1h-7v-1h-3v1h-7v-1h-3v3h-7v-1h-3v2h-7v-3h-8v1h-7v-2h-8v2h-7v-1h-5v-1h-3v2h-7v-2h-8v1h-7v-2h-3v2h-7v-1h-3v1h-7v-1h-5v-1h-8v1h-10v2h-7v-1h-5v-3h-3v3h-7v-1h-3v1h-12v-2h-3v3h-7v-2h-3v1h-5v1h-7v-2h-8v2h-7v-1h-5v-2h-3v1h-10v1h-12v-2h-3v2h-7v-1h-18v2h-7v-1h-5v-1h-5v-1h-3v2h-7v-3h-3v1h-5v4h-7v-3h-3v1h-7v-3h-3v2h-10v2h-7v-1h-5v-1h-3v1h-7v-2h-3v1h-5v1h-7v-1h-5v-1h-8v3h-7v-1h-5v-2h-3v1h-7v-1h-3v1h-5v1h-7v-1h-13v1h-7v-1h-3v1h-7v-1h-8v1h-12v-2h-8v1h-7v-1h-3v1h-20v3h-7v-1h-5v-2h-5v-1h-3v2h-12v-2h-8v1h-5v2h-7v-1h-3v1h-7v-1h-15v-1h-15v-1h-3v2h-5v1h-7v-4h-3v1h-5v2h-7v-1h-3v2h-7v-2h-5v-1h-3v1h-12v-1h-3v2h-12v-2h-3v1h-15v2h-7v-2h-8v2h-7v-1h-13v1h-7v-3h-5v-1h-3v5h-7v-1h-5v-1h-8v2h-7v-2h-10v-1h-3v1h-12v-1h-3v2h-7v-2h-5v-1h-5v-1h-5v-1h-3v2h-7v-1h-3v1h-5v2h-5v1h-7v-1h-5v-2h-8v1h-5v2h-7v-2h-18v2h-7v-1h-3v2h-7v-3h-23v1h-12v-1h-3v1h-7v-1h-8v2h-7v-1h-8v1h-7v-1h-10v-1h-8v1h-12v-2h-3v2h-7v-1h-3v2h-7v-2h-8v2h-7v-3h-3v2h-7v-1h-3v1h-7v-1h-3v2h-7v-1h-15v-1h-13v2h-7v-3h-8v1h-10v2h-7v-1h-3v1h-10v1h-7v-3h-5v-1h-3v1h-10v3h-7v-3h-8v3h-7v-1h-5v-1h-5v-1h-18v1h-22v-1h-3v1h-5v2h-7v-2h-5v-1h-5v-1h-3v2h-7v-2h-13v1h-5v1h-7v-2h-8v1h-5v1h-5v2h-7v-3h-8v2h-12v-1h-3v1h-7v-1h-10v-2h-3v1h-5v1h-7v-1h-3v1h-7v-1h-13v1h-12v-1h-18v1h-7v-1h-5v-1h-3v1h-5v1h-7v-2h-3v2h-7v-2h-3v2h-12v-1h-13v1h-7v-1h-3v1h-17v-1h-3v1h-7v-1h-3v1h-12v-1h-5v-1h-3v7h-7v-6h-3v1h-7v-1h-3v2h-5v1h-7v-3h-5v-1h-3v2h-5v1h-7v-2h-3v1h-7v-1h-18v2h-7v-2h-3v1h-10v1h-7v-1h-8v2h-7v-3h-8v1h-12v-1h-10v-2h-3v1h-5v2h-7v-2h-3v1h-7v-1h-8v1h-5v2h-7v-1h-5v-1h-3v1h-7v-1h-8v2h-7v-1h-10v-1h-5v-1h-3v5h-7v-3h-10v-1h-15v-1h-3v1h-30v1h-7v-1h-35v-1h-3v4h-7v-1h-5v-3h-3v4h-7v-3h-5v-1h-3v1h-5v2h-5v1h-7v-3h-10v-2h-3v1h-10v1h-5v1h-7v-1h-5v-1h-3v5h-7v-2h-3v1h-5v1h-7v-4h-5v-1h-8v1h-17v-1h-3v1h-5v2h-7v-1h-5v-1h-5v-1h-3v2h-7v-2h-3v1h-5v2h-7v-2h-15v-1h-8v2h-7v-1h-3v2h-12v-1h-5v-1h-8v3h-7v-3h-15v-1h-3v4h-7v-3h-8v1h-10v3h-7v-4h-3v2h-7v-1h-5v-1h-5v-1h-8v2h-7v-1h-10v-1h-3v1h-5v1h-12v-1h-8v2h-7v-3h-3v1h-5v1h-7v-2h-3v1h-7v-1h-3v1h-5v1h-5v1h-5v1h-7v-3h-13v2h-7v-2h-5v-1h-3v2h-7v-1h-3v1h-22v-2h-3v2h-12v-2h-3v2h-15v1h-7v-1h-3v2h-7v-2h-5v-1h-3v1h-7v-1h-3v1h-5v2h-7v-1h-5v-2h-3v1h-7v-1h-8v2h-7v-2h-13v1h-7v-1h-3v1h-12v-1h-13v2h-7v-3h-3v1h-5v2h-7v-2h-3v1h-5v1h-7v-2h-8v2h-7v-2h-3v1h-7v-1h-3v1h-5v2h-7v-4h-3v2h-5v1h-7v-1h-3v3h-7v-3h-15v-2h-3v1h-7v-1h-8v1h-5v1h-17v-1h-3v1h-7v-1h-8v2h-7v-3h-3v1h-5v1h-7v-1h-3v2h-5v1h-7v-3h-3v1h-5v1h-17v-1h-5v-1h-3v1h-10v2h-7v-3h-3v2h-7v-3h-3v2h-7v-1h-3v1h-7v-1h-3v1h-7v-1h-3v2h-7v-3h-3v3h-12v-1h-5v-1h-3v1h-12v-2h-3v2h-7v-1h-3v1h-12v-2h-8v3h-7v-1h-5v-1h-3v1h-5v1h-7v-3h-3v2h-7v-1h-3v1h-7v-1h-5v-1h-3v1h-7v-1h-8v1h-10v1h-7v-1h-3v2h-7v-1h-8v2h-5v1h-7v-4h-3v2h-7v-1h-5v-2h-3v1h-7v-1h-3v2h-12v-1h-3v1h-7v-2h-3v2h-12v-1h-3v1h-12v-1h-3v1h-5v1h-7v-1h-5v-1h-8v1h-7v-1h-3v1h-7v-1h-10v-1h-8v2h-7v-1h-3v2h-12v-1h-10v-2h-3v2h-7v-1h-3v1h-5v1h-7v-3h-3v1h-20v1h-7v-1h-3v1h-5v1h-7v-2h-8v1h-10v1h-7v-1h-15v-1h-5v-1h-3v2h-7v-2h-8v2h-17v-1h-3v1h-12v-1h-5v-1h-3v2h-12v-1h-3v2h-5v1h-7v-3h-8v2h-7v-1h-5v-1h-3v1h-10v2h-7v-2h-5v-1h-3v2h-7v-2h-8v1h-7v-2h-8v2h-12v-1h-3v1h-5v1h-7v-2h-8v1h-7v-2h-3v1h-10v2h-7v-1h-5v-1h-3v1h-7v-2h-3v2h-5v1h-5v1h-7v-4h-3v3h-7v-2h-5v-1h-10v-1h-3v1h-5v1h-10v1h-5v1h-7v-2h-5v-1h-3v2h-10v2h-7v-3h-3v1h-7v-2h-3v1h-10v1h-5v1h-12v-3h-3v3h-7v-1h-5v-2h-3v2h-5v2h-7v-2h-3v2h-7v-3h-18v3h-7v-2h-15v-1h-5v-1h-3v3h-7v-2h-3v1h-5v1h-7v-2h-5v-1h-8v3h-12v-2h-3v3h-7v-4h-3v1h-5v2h-7v-1h-5v-1h-5v-1h-8v2h-7v-2h-3v1h-7v-1h-8v2h-27v-1h-8v3h-7v-3h-3v3h-7v-3h-3v2h-10v2h-7v-5h-3v1h-5v2h-5v3h-7v-3h-3v3h-7v-2h-3v1h-7v-1h-10v-2h-3v2h-7v-1h-3v1h-7v-3h-5v-1h-8v1h-7v-1h-8v2h-5v1h-12v-2h-8v1h-22v-1h-3v2h-7v-1h-5v-1h-15v-1h-3v2h-12v-1h-3v1h-5v1h-7v-4h-3v3h-17v-1h-3v1h-5v1h-7v-1h-5v-2h-8v2h-10v1h-5v1h-7v-2h-5v-1h-3v1h-22v-1h-8v2h-12v-2h-10v-1h-3v3h-7v-2h-3v1h-7v-1h-8v1h-7v-1h-3v1h-12v-1h-8v1h-7v-2h-8v1h-5v1h-12v-1h-8v1h-5v1h-12v-1h-10v-2h-3v3h-12v-2h-3v1h-5v1h-7v-2h-3v1h-7v-1h-3v1h-7v-1h-10v-1h-3v1h-5v1h-7v-1h-13v2h-7v-3h-3v2h-10v1h-7v-4h-3v2h-7v-1h-8v1h-12v-1h-8v1h-15v1h-15v1h-7v-1h-5v-1h-3v2h-7v-2h-3v2h-7v-1h-10v-2h-8v2h-7v-1h-8v1h-7v-2h-3v3h-7v-1h-5v-2h-3v1h-5v1h-5v2h-7v-3h-5v-1h-3v1h-10v1h-12v-1h-5v-1h-3v2h-12v-1h-25v-1h-3v1h-10v2h-7v-2h-10v-1h-3v3h-12v-1h-8v2h-7v-1h-5v-1h-5v-1h-3v1h-7v-1h-3v1h-17v-1h-8v3h-7v-3h-8v1h-12v-1h-10v-1h-8v2h-10v1h-7v-1h-5v-1h-8v1h-7v-1h-8v2h-7v-1h-15v-2h-3v2h-7v-1h-10v-1h-3v2h-5v2h-7v-3h-3v1h-22v-2h-3v1h-5v1h-12v-1h-3v1h-7v-1h-3v1h-7v-1h-5v-1h-8v1h-5v2h-5v1h-7v-1h-5v-2h-5v-2h-3v2h-7v-1h-3v2h-12v-1h-3v1h-7v-1h-3v1h-7v-1h-8v1h-7v-1h-3v1h-6Z"/>
<path fill="#0000ff" d="M1152 586h4v-2h7v3h3v-1h5v-3h7v2h8v-2h7v2h15v1h3v-2h7v3h3v-1h5v-1h7v1h10v1h3v-3h7v3h5v1h3v-1h5v-2h5v-1h7v1h5v1h10v2h3v-3h7v2h3v-2h12v1h5v1h3v-1h5v-2h7v1h5v3h8v-4h7v3h8v-2h7v1h5v1h13v-2h12v2h3v-2h7v1h8v-2h7v1h5v2h13v-1h7v1h3v-1h7v1h3v-2h7v1h15v1h3v-2h7v1h5v1h8v-1h7v1h3v-1h7v1h3v-1h5v-1h7v1h5v1h5v1h3v-2h12v1h3v-1h22v2h3v-2h7v2h8v-1h10v-1h7v1h3v-1h5v-1h7v2h8v-2h7v2h8v-1h5v-1h7v3h3v-1h10v-2h7v1h10v1h3v-1h7v1h8v-2h12v1h3v-2h12v1h5v1h10v1h3v-1h7v2h3v-1h5v-1h17v1h3v-2h7v1h3v-1h12v1h5v1h8v-2h22v1h5v1h3v-2h12v2h3v-1h10v-1h7v2h8v-2h7v1h8v-1h5v-1h7v1h5v3h3v-5h7v3h3v-3h12v2h5v1h3v-1h10v-2h7v3h3v-1h12v1h20v1h3v-3h7v2h3v-3h7v2h5v2h3v-1h7v1h3v-1h7v1h8v-1h12v1h3v-1h22v1h3v-1h7v1h20v1h3v-2h12v1h3v-1h5v-2h7v3h8v-2h12v2h3v-1h5v-1h7v1h15v1h15v1h3v-2h7v1h8v-3h7v2h3v-2h7v3h3v-2h7v1h5v1h8v-1h7v1h3v-1h5v-2h7v3h3v-1h5v-2h7v4h3v-3h7v3h3v-4h7v1h5v1h3v-1h7v2h3v-1h15v-1h7v1h8v-1h5v-3h7v2h5v1h15v1h5v1h3v-1h5v-2h7v1h3v-1h7v1h5v1h18v-1h5v-1h7v2h5v1h3v-3h7v1h10v2h8v-3h7v1h5v1h20v1h5v1h3v-2h5v-1h7v1h8v-1h17v1h5v1h3v-2h7v1h8v-1h7v1h8v-1h5v-1h7v3h3v-1h5v-3h7v4h3v-3h7v1h5v1h5v1h3v-1h5v-1h12v1h5v1h3v-1h22v1h3v-1h12v1h3v-3h7v3h5v1h8v-2h5v-1h7v1h5v1h5v1h3v-1h5v-1h12v1h3v-1h5v-2h5v-1h7v1h3v-1h5v-1h7v3h3v-5h5v-2h7v6h3v-1h5v-1h5v-1h5v-2h7v3h5v4h5v1h8v-1h10v-1h7v2h3v-1h7v1h3v-3h7v1h10v2h3v-3h7v2h3v-1h7v1h13v-2h7v1h5v1h3v-3h7v2h8v-2h7v3h8v-1h7v2h8v-1h5v-1h7v1h3v-1h7v2h3v-1h7v1h3v-2h7v2h8v-1h7v1h3v-2h7v2h8v-3h7v2h5v1h13v-2h12v1h3v-2h7v3h8v-1h5v-1h12v2h13v-1h5v-1h12v2h3v-2h7v2h3v-2h7v1h5v1h13v-2h7v1h5v2h3v-3h7v2h3v-2h12v2h5v1h3v-1h15v-1h20v-1h7v1h10v2h3v-1h5v-1h7v1h3v-2h17v1h5v1h3v-1h15v-1h5v-1h7v2h5v1h5v1h3v-1h5v-3h7v1h5v1h15v2h8v-2h7v1h3v-2h7v2h3v-2h7v2h3v-2h22v1h8v-2h12v4h3v-4h7v2h8v-1h7v1h3v-1h7v1h3v-1h10v-1h7v1h10v1h15v1h3v-1h5v-1h7v1h5v1h3v-2h7v1h10v2h3v-1h12v1h3v-1h15v-2h7v2h3v-1h5v-1h5v-1h7v4h3v-3h7v2h3v-2h7v1h3v-1h7v1h3v-5h7v6h3v-1h10v-2h7v2h13v-2h5v-1h7v4h3v-2h12v3h3v-3h7v2h3v-1h5v-1h5v-1h7v3h8v-1h5v-1h7v1h10v1h3v-1h7v1h3v-2h7v1h3v-1h7v1h8v-1h7v2h3v-2h7v3h3v-2h10v-2h7v3h3v-1h5v-2h7v2h3v-2h7v1h5v1h3v-1h7v1h3v-3h7v3h5v1h3v-2h7v2h3v-2h10v-2h7v1h3v-2h7v1h5v1h5v2h3v-1h5v-3h7v3h3v-13h7v11h3v-1h5v-6h7v8h5v1h5v1h5v1h3v-4h7v2h3v-3h7v2h3v-1h5v-55h7v13h5v10h5v33h5v2h5v1h3v-23h7v4h5v17h10v1h3v-10h7v3h5v6h10v1h5v1h5v1h3v-1h5v-1h7v1h3v-1h12v3h3v-2h7v1h3v-3h5v-2h7v2h5v1h3v-1h7v1h15v2h3v-2h5v-2h7v2h3v-1h7v2h8v-1h12v1h3v-3h12v3h3v-1h7v1h8v-1h7v1h3v-2h7v1h3v-1h7v2h3v-2h12v2h3v-1h5v-1h7v1h5v1h3v-3h7v3h3v-1h7v1h5v2h3v-3h17v1h3v-1h7v1h3v-1h7v1h3v-1h5v-1h7v1h3v-1h7v1h10v1h8v-1h5v-1h12v2h3v-2h5v-1h7v1h5v2h3v-1h5v-1h12v1h3v-2h7v2h3v-1h5v-1h7v3h3v-2h7v1h15v3h3v-2h5v-2h12v3h3v-1h15v-2h12v1h5v3h3v-3h10v-1h12v1h23v-2h7v1h5v1h5v2h3v-1h10v-1h5v-2h7v3h3v-6h7v6h3v-2h7v1h20v1h5v1h3v-1h10v-2h12v3h3v-1h10v-1h5v-1h7v1h18v-1h7v1h10v1h3v-1h10v-1h7v1h5v2h3v-2h5v-1h7v1h10v1h3v-1h5v-1h7v1h10v1h3v-1h7v1h3v-1h10v-1h5v-1h7v3h3v-1h7v1h3v-1h12v1h3v-2h7v1h5v1h3v-1h7v1h3v-2h10v-2h7v2h3v-2h7v4h13v-1h12v1h3v-2h12v1h5v2h3v-2h10v-1h7v3h3v-3h7v1h18v-1h7v2h3v-1h10v-4h7v3h5v1h10v1h3v-1h12v1h3v-1h7v1h8v-2h7v1h3v-1h7v1h3v-1h7v1h5v1h3v-1h7v1h3v-2h7v1h5v1h8v-2h7v2h3v-2h7v2h3v-1h5v-1h7v2h3v-1h5v-1h17v1h5v1h3v-1h15v-1h7v1h10v2h3v-1h5v-2h7v1h5v1h5v1h3v-1h5v-1h12v1h3v-1h10v-1h7v2h8v-1h5v-1h7v2h3v-1h5v-2h7v1h13v-1h7v1h5v1h8v-1h12v2h18v-2h12v2h3v-1h7v1h13v-2h12v1h5v1h3v-1h5v-1h7v1h8v-1h7v1h10v1h8v-1h7v2h3v-2h7v2h8v-2h10v-2h7v2h10v1h5v1h3v-3h12v1h3v-1h5v-1h7v2h3v-1h7v1h3v-1h7v2h8v-1h12v1h3v-1h20v-1h10v-1h7v2h5v3h3v-3h5v-1h7v2h3v-2h7v2h8v-1h10v-1h7v1h5v1h8v-1h7v1h3v-1h12v1h3v-2h7v1h5v2h3v-1h5v-1h12v1h3v-2h7v1h10v1h8v-1h5v-1h7v1h3v-1h7v2h3v-3h7v3h3v-1h5v-2h7v2h3v-1h7v1h5v1h5v1h3v-1h5v-1h12v1h13v-2h5v-1h7v3h3v-2h12v1h20v1h3v-2h7v2h8v-1h7v1h3v-1h7v1h8v-1h15v-2h12v2h8v-1h7v1h5v1h8v-1h7v1h13v-2h7v1h15v1h3v-1h7v1h8v-1h10v-2h12v3h3v-1h10v-1h7v2h3v-2h7v1h3v-1h5v-1h7v2h8v-1h5v-1h7v2h3v-1h7v1h5v1h3v-2h5v-2h7v2h5v2h8v-9h7v8h10v1h3v-2h5v-1h7v1h5v3h3v-1h5v-2h7v1h5v1h3v-2h12v1h8v-1h7v1h10v1h8v-3h17v3h3v-1h10v-1h5v-2h7v2h10v2h3v-1h5v-1h7v2h3v-3h7v1h5v3h3v-1h5v-2h7v2h3v-1h5v-1h12v1h10v1h8v-1h17v1h3v-1h12v1h3v-1h7v1h3v-1h25v-1h7v2h3v-1h7v1h3v-1h12v1h3v-2h10v-1h7v2h5v1h3v-1h30v-1h12v2h25v1h3v-1h5v-4h7v3h3v-1h12v3h3v-4h7v4h3v-2h27v1h3v-2h7v1h3v-1h7v2h3v-2h5v-1h7v1h5v1h10v1h3v-3h7v2h5v1h3v-3h7v1h5v1h3v-1h7v1h3v-1h7v3h3v-1h10v-1h12v1h3v-1h7v2h3v-3h7v3h3v-3h5v-1h7v2h5v1h3v-2h12v1h3v-1h7v1h8v-1h7v1h18v-3h7v2h5v1h3v-1h7v2h3v-1h5v-1h7v1h5v1h13v-2h7v2h3v-2h7v2h3v-2h12v2h3v-1h5v-1h12v2h3v-2h7v1h8v-1h7v2h13v-2h12v2h3v-1h5v-1h7v1h5v1h3v-3h7v2h8v-1h7v1h3v-1h7v1h35v1h3v-1h7v1h3v-1h5v-1h7v2h3v-1h7v1h3v-2h7v3h8v-2h12v1h8v-2h5v-3h7v2h5v1h3v-1h7v2h8v-2h7v4h3v-2h12v1h8v-1h22v1h13v-1h10v-2h7v2h3v-1h22v2h5v1h3v-2h5v-1h20v-2h7v4h3v-1h5v-1h7v2h3v-3h7v1h5v1h5v2h3v-1h15v-2h7v3h3v-2h17v1h8v-2h7v1h5v1h10v1h3v-1h5v-2h7v1h5v1h3v-2h7v2h8v-1h15v-1h7v2h8v-1h12v1h8v-4h7v3h5v1h8v-2h7v3h3v-2h7v1h3v-2h17v1h5v1h5v1h3v-3h7v2h3v-2h7v1h10v1h8v-1h5v-1h5v-1h7v1h3v-1h7v1h3v-2h5v-1h7v3h3v-3h7v4h3v-1h7v2h3v-1h5v-1h7v1h10v1h3v-1h5v-1h7v1h5v1h10v1h3v-1h10v-1h7v2h8v-2h5v-1h7v1h5v1h3v-2h7v2h5v1h3v-1h7v1h3v-1h10v-2h7v1h3v-1h7v2h5v1h8v-2h5v-1h7v2h3v-3h7v1h10v1h8v-2h7v3h8v-1h12v1h3v-1h10v-1h7v1h5v1h8v-2h5v-1h7v2h3v-1h7v1h5v1h8v-1h10v-1h5v-1h12v2h3v-1h7v1h4V598h-4v1h-5v1h-7v-1h-10v-1h-3v1h-5v3h-7v-2h-10v-1h-23v1h-7v-1h-10v-1h-3v1h-5v1h-5v1h-5v1h-7v-2h-5v-1h-3v1h-7v-1h-3v1h-7v-1h-5v-1h-3v1h-5v1h-7v-2h-3v3h-7v-1h-8v1h-5v2h-7v-2h-5v-2h-13v3h-7v-2h-5v-1h-3v1h-5v2h-7v-2h-8v3h-7v-2h-15v-2h-8v2h-7v-1h-3v1h-7v-2h-3v7h-7v-8h-3v3h-7v-2h-8v2h-7v-2h-3v2h-10v1h-7v-2h-10v-1h-10v-1h-3v2h-7v-1h-13v2h-7v-3h-3v3h-7v-2h-3v2h-7v-1h-5v-1h-3v2h-7v-2h-8v3h-7v-1h-5v-1h-5v-1h-8v1h-15v1h-12v-1h-3v1h-7v-2h-8v2h-5v1h-7v-4h-3v2h-7v-1h-23v1h-17v-1h-8v1h-7v-1h-3v4h-7v-3h-3v3h-7v-3h-5v-1h-8v1h-5v2h-7v-2h-3v2h-7v-1h-3v1h-7v-3h-3v1h-15v1h-7v-2h-3v1h-5v2h-7v-4h-8v2h-12v-2h-8v1h-7v-1h-8v3h-12v-2h-8v3h-7v-3h-3v1h-7v-1h-10v-1h-3v4h-7v-3h-3v1h-5v1h-7v-2h-10v-1h-3v3h-7v-2h-3v1h-7v-1h-5v-1h-3v4h-7v-1h-5v-2h-3v1h-12v-1h-3v2h-7v-2h-3v2h-7v-1h-8v1h-7v-2h-3v2h-12v-3h-3v2h-7v-2h-3v2h-7v-1h-8v1h-17v-1h-3v1h-7v-1h-8v1h-7v-2h-8v1h-5v1h-7v-2h-3v2h-5v1h-7v-1h-5v-1h-3v1h-7v-1h-8v1h-7v-1h-8v1h-5v1h-5v1h-7v-2h-25v-2h-3v1h-10v1h-5v2h-7v-3h-3v2h-7v-3h-3v2h-7v-2h-3v1h-10v1h-7v-1h-13v1h-10v2h-7v-3h-8v2h-7v-1h-3v1h-12v-2h-3v3h-7v-1h-5v-1h-8v3h-7v-3h-3v2h-7v-3h-3v1h-17v-1h-3v2h-12v-1h-10v-1h-13v3h-7v-2h-5v-1h-3v1h-7v-1h-8v2h-12v-1h-5v-1h-5v-1h-3v4h-7v-3h-3v2h-7v-1h-3v1h-5v1h-7v-5h-3v4h-7v-2h-3v1h-7v-1h-8v1h-7v-1h-5v-1h-3v3h-7v-2h-8v1h-7v-2h-3v2h-22v-1h-8v2h-27v-2h-3v1h-10v2h-7v-3h-3v1h-5v1h-12v-1h-5v-1h-3v1h-7v-1h-8v1h-5v1h-7v-1h-5v-1h-3v1h-7v-1h-3v1h-7v-1h-8v1h-7v-1h-15v-1h-3v2h-7v-3h-3v2h-5v1h-7v-1h-3v2h-7v-1h-10v-1h-8v1h-7v-1h-8v2h-7v-1h-5v-1h-5v-1h-3v1h-5v1h-5v1h-7v-1h-10v-1h-5v-1h-3v1h-5v1h-7v-1h-8v1h-12v-1h-5v-1h-8v2h-12v-1h-3v3h-7v-1h-5v-3h-3v1h-5v1h-7v-1h-3v1h-7v-1h-8v3h-7v-3h-3v2h-7v-3h-3v1h-5v1h-7v-1h-3v10h-7v-9h-5v-1h-3v1h-7v-1h-8v2h-7v-1h-5v-2h-10v-1h-3v2h-5v3h-7v-4h-5v-1h-3v2h-5v2h-12v-2h-13v2h-7v-1h-8v1h-12v-1h-3v2h-7v-2h-8v1h-7v-2h-8v1h-7v-1h-3v2h-7v-2h-3v1h-5v1h-7v-1h-3v1h-7v-1h-3v1h-7v-1h-5v-3h-3v2h-12v-1h-3v3h-22v-2h-5v-1h-3v1h-5v2h-5v1h-7v-1h-5v-3h-3v5h-7v-4h-8v1h-12v-1h-15v-1h-3v4h-7v-3h-3v3h-7v-2h-18v1h-12v-2h-5v-1h-3v1h-10v4h-7v-4h-28v1h-17v-1h-3v1h-12v-1h-3v1h-10v1h-7v-1h-3v1h-5v1h-7v-2h-10v-1h-8v3h-7v-2h-8v1h-7v-3h-3v2h-22v-1h-3v1h-17v-1h-3v1h-7v-2h-5v-1h-3v3h-10v1h-10v2h-7v-3h-3v1h-7v-1h-8v1h-7v-1h-15v-2h-3v1h-12v-1h-3v2h-5v1h-7v-2h-10v-1h-3v1h-5v2h-7v-1h-3v1h-7v-2h-3v1h-5v1h-12v-2h-13v1h-5v2h-7v-4h-3v3h-7v-1h-5v-2h-8v3h-7v-2h-3v1h-10v1h-12v-2h-3v2h-7v-1h-5v-1h-3v1h-5v1h-5v4h-7v-6h-8v3h-7v-3h-3v2h-7v-4h-3v2h-5v2h-12v-2h-8v2h-7v-1h-5v-1h-3v2h-7v-1h-10v-1h-5v-1h-3v2h-17v-1h-3v1h-5v1h-7v-1h-10v-1h-3v2h-12v-1h-5v-1h-3v2h-7v-1h-3v1h-5v4h-7v-5h-5v-1h-3v2h-7v-1h-3v1h-7v-1h-10v-1h-13v3h-7v-2h-3v1h-7v-2h-23v3h-12v-2h-5v-2h-5v-1h-3v3h-7v-2h-8v2h-7v-1h-3v1h-7v-1h-3v1h-20v3h-7v-2h-5v-2h-3v1h-5v1h-7v-1h-5v-1h-13v1h-12v-1h-3v1h-12v-2h-3v1h-5v1h-12v-1h-8v3h-7v-3h-3v3h-7v-1h-10v-3h-3v2h-12v-1h-3v2h-7v-1h-5v-1h-3v2h-7v-1h-5v-1h-18v1h-7v-1h-3v1h-7v-1h-3v1h-12v-1h-3v1h-10v2h-7v-2h-3v3h-7v-4h-3v1h-7v-2h-8v1h-7v-1h-8v1h-5v1h-5v2h-7v-1h-5v-4h-3v1h-5v2h-7v-1h-3v1h-7v-1h-5v-1h-3v1h-10v1h-7v-1h-13v2h-7v-1h-8v1h-7v-1h-3v1h-12v-1h-3v2h-7v-2h-5v-1h-5v-1h-3v2h-12v-1h-3v1h-15v1h-17v-1h-5v-2h-3v2h-7v-2h-3v1h-7v-1h-8v1h-10v1h-10v1h-7v-1h-10v-3h-3v2h-10v1h-12v-1h-8v4h-7v-3h-3v3h-7v-3h-18v1h-7v-2h-8v2h-7v-2h-3v1h-7v-1h-3v1h-22v-1h-3v2h-12v-1h-3v1h-5v1h-7v-1h-3v1h-12v-2h-5v-1h-3v1h-15v2h-12v-3h-3v2h-12v-1h-5v-2h-8v2h-7v-1h-13v2h-7v-2h-8v1h-5v1h-7v-1h-5v-1h-3v1h-7v-1h-13v2h-7v-2h-5v-1h-8v3h-7v-2h-13v1h-5v1h-7v-2h-3v2h-7v-1h-3v1h-12v-2h-5v-1h-3v1h-10v1h-12v-3h-3v3h-7v-1h-10v-1h-3v2h-5v1h-10v1h-7v-3h-3v3h-7v-1h-3v1h-7v-2h-8v2h-17v-2h-3v17h-5v4h-7v-19h-3v2h-7v-2h-3v9h-5v2h-7v-11h-5v-2h-3v1h-5v21h-5v15h-5v10h-7v-45h-10v-1h-13v5h-7v-1h-5v-4h-8v12h-7v-14h-3v3h-5v15h-7v-16h-13v1h-7v-2h-3v1h-5v2h-7v-4h-3v2h-7v-1h-10v-1h-3v1h-7v-1h-3v1h-7v-1h-3v1h-12v-1h-10v-2h-3v3h-5v2h-7v-2h-5v-1h-3v2h-7v-1h-10v-1h-3v2h-12v-1h-5v-2h-3v2h-5v1h-7v-3h-3v2h-7v-1h-3v1h-12v-1h-3v2h-7v-2h-8v1h-7v-1h-3v1h-12v-1h-3v1h-10v1h-7v-1h-8v1h-7v-1h-5v-2h-3v1h-5v1h-7v-1h-3v1h-10v1h-7v-1h-5v-1h-3v1h-7v-1h-8v2h-7v-1h-5v-2h-3v4h-7v-2h-13v1h-7v-2h-3v1h-7v-1h-8v1h-5v1h-7v-2h-3v1h-17v-1h-3v1h-12v-2h-3v2h-5v2h-7v-2h-10v-1h-20v-1h-3v2h-7v-2h-8v1h-7v-2h-3v3h-7v-1h-3v3h-7v-2h-10v-2h-3v2h-12v-2h-3v3h-7v-1h-5v-1h-3v2h-7v-1h-3v1h-7v-1h-3v1h-7v-2h-8v1h-17v-1h-8v1h-5v2h-7v-1h-10v-1h-10v-2h-3v1h-5v1h-7v-1h-3v1h-7v-1h-10v-1h-3v4h-7v-1h-10v-2h-3v1h-5v1h-7v-2h-10v-1h-3v1h-10v1h-5v1h-7v-1h-3v1h-7v-1h-8v2h-7v-1h-5v-2h-8v2h-7v-2h-3v1h-27v-1h-5v-1h-3v3h-5v1h-7v-4h-8v2h-20v1h-7v-3h-3v2h-7v-1h-3v1h-7v-2h-3v1h-10v2h-5v2h-7v-3h-5v-1h-5v-1h-3v2h-20v2h-7v-2h-3v3h-7v-5h-3v3h-7v-2h-3v1h-5v1h-7v-2h-3v3h-7v-3h-3v1h-5v1h-7v-1h-8v2h-7v-4h-3v2h-7v-2h-3v1h-15v1h-12v-2h-8v2h-7v-2h-3v2h-17v-1h-5v-1h-8v3h-12v-3h-3v3h-7v-1h-23v3h-7v-3h-3v4h-7v-2h-3v1h-7v-2h-5v-1h-3v9h-7v-5h-5v-1h-10v-1h-3v2h-7v-3h-3v1h-7v-1h-3v1h-7v-1h-10v-1h-3v1h-7v-2h-3v1h-5v1h-12v-1h-10v-1h-10v-1h-3v1h-5v1h-12v-1h-5v-1h-3v3h-7v-1h-3v1h-7v-2h-8v1h-15v1h-7v-2h-3v1h-7v-1h-25v-1h-3v2h-7v-1h-3v1h-12v-1h-5v-1h-5v-1h-3v3h-7v-1h-3v1h-7v-1h-5v-1h-8v1h-10v1h-7v-1h-15v-1h-3v1h-10v2h-7v-2h-5v-1h-3v1h-5v2h-7v-1h-5v-1h-3v3h-7v-2h-8v1h-7v-1h-10v-1h-5v-1h-3v1h-7v-1h-3v1h-7v-1h-3v1h-12v-2h-3v1h-5v1h-12v-1h-8v4h-12v-2h-13v1h-7v-1h-5v-1h-13v1h-5v1h-7v-1h-5v-1h-15v-1h-3v3h-7v-2h-3v1h-15v1h-7v-1h-5v-1h-5v-1h-8v1h-5v1h-7v-1h-3v1h-7v-1h-18v1h-10v1h-12v-2h-3v2h-7v-1h-5v-1h-8v2h-7v-2h-5v-1h-3v1h-5v1h-7v-1h-3v2h-7v-1h-3v2h-7v-1h-8v1h-7v-2h-10v-1h-23v1h-5v2h-7v-2h-5v-1h-3v3h-7v-3h-3v2h-7v-1h-5v-2h-3v2h-7v-1h-3v1h-5v1h-5v1h-7v-2h-5v-1h-5v-1h-3v2h-5v1h-7v-2h-15v-1h-3v2h-7v-1h-5v-1h-3v2h-7v-2h-3v2h-17v-1h-3v1h-7v-1h-3v1h-12v-1h-3v1h-7v-1h-8v1h-12v-2h-3v2h-5v1h-12v-2h-3v1h-7v-1h-18v1h-7v-1h-5v-1h-3v1h-7v-1h-3v2h-10v1h-7v-2h-3v2h-12v-2h-3v1h-12v-2h-13v2h-10v2h-7v-1h-10v-1h-8v1h-7v-1h-3v1h-7v-3h-3v1h-5v1h-10v1h-7v-1h-5v-1h-8v1h-5v1h-7v-1h-3v3h-7v-2h-5v-2h-3v1h-5v1h-7v-1h-3v1h-7v-2h-3v2h-7v-2h-5v-1h-3v3h-7v-1h-10v-1h-3v3h-7v-1h-5v-1h-3v1h-7v-2h-10v-1h-3v1h-5v1h-5v1h-7v-2h-3v1h-7v-1h-3v2h-7v-1h-5v-1h-3v1h-7v-3h-3v4h-17v-1h-5v-1h-3v2h-7v-1h-15v-1h-3v2h-12v-2h-3v3h-7v-3h-8v1h-5v1h-7v-1h-3v2h-7v-3h-8v1h-5v1h-12v-1h-3v1h-7v-3h-3v1h-5v1h-7v-1h-10v-1h-3v2h-10v1h-7v-1h-8v2h-7v-2h-8v2h-7v-2h-3v2h-7v-4h-5v-1h-3v3h-15v1h-17v-1h-5v-1h-10v-1h-3v1h-5v1h-7v-1h-5v-1h-3v2h-7v-1h-5v-1h-3v1h-6Z"/>
<path fill="#008000" d="M1152 655h6v2h3v-3h7v3h3v-4h7v1h10v2h3v-3h7v4h3v-1h10v-1h5v-2h7v2h3v-1h7v1h5v1h3v-1h17v1h3v-1h5v-1h10v-1h7v1h5v3h3v-2h12v1h13v-1h5v-1h7v3h8v-1h12v1h3v-2h12v1h8v-1h7v1h3v-2h7v2h8v-1h7v1h3v-1h12v2h3v-5h7v4h18v-1h5v-1h7v1h10v2h3v-1h5v-1h7v1h3v-1h5v-1h7v2h3v-2h7v1h3v-3h7v3h13v-1h12v1h3v-2h7v1h5v2h3v-1h7v1h3v-1h20v-1h7v3h3v-4h7v2h8v-1h7v2h5v1h3v-1h5v-1h12v1h5v1h3v-2h7v1h3v-2h7v1h10v1h5v1h3v-1h10v-1h7v1h8v-1h12v1h3v-2h27v2h8v-1h5v-2h7v4h3v-2h5v-1h7v1h3v-1h7v1h5v1h8v-2h7v2h3v-1h5v-2h7v2h3v-2h7v2h10v1h3v-1h12v1h5v1h5v1h3v-1h5v-1h5v-1h5v-1h12v1h10v2h3v-2h7v1h5v1h3v-2h5v-1h7v3h3v-3h7v2h23v-1h7v1h3v-1h7v1h5v1h3v-2h17v1h3v-1h7v1h3v-3h7v2h3v-1h7v1h5v1h3v-1h7v2h3v-2h5v-1h5v-1h7v2h5v1h3v-1h12v1h3v-1h5v-1h17v1h5v1h3v-1h12v1h3v-1h12v1h8v-1h12v1h3v-1h12v1h8v-1h7v1h3v-1h5v-1h7v3h3v-4h7v2h5v1h5v1h3v-1h5v-2h7v2h13v-1h5v-1h7v2h8v-3h7v1h5v1h5v1h3v-1h5v-1h12v2h3v-2h7v1h5v1h3v-1h15v-1h7v1h5v1h10v1h3v-3h17v1h10v1h23v-1h12v1h3v-4h7v4h5v1h3v-1h5v-2h7v1h15v1h3v-1h7v2h3v-3h12v1h5v1h8v-2h7v1h8v-2h7v2h13v-1h5v-1h7v2h8v-1h7v1h5v1h3v-2h7v2h15v1h13v-6h7v6h3v-2h7v1h3v-1h7v2h3v-2h7v1h8v-1h7v1h13v-1h5v-1h7v1h10v1h3v-2h7v1h5v1h13v-1h12v1h3v-2h7v1h10v1h3v-1h10v-1h5v-1h7v2h5v2h8v-2h7v1h3v-1h7v1h5v1h8v-1h17v2h3v-2h12v1h3v-2h22v1h3v-1h17v1h3v-1h5v-2h7v3h10v1h3v-1h5v-1h7v1h13v-1h7v1h5v1h8v-3h7v1h8v-3h7v5h8v-2h5v-1h7v1h10v1h5v1h3v-3h7v2h3v-2h7v2h3v-1h7v2h8v-1h5v-2h5v-1h7v1h5v1h5v1h3v-2h7v1h10v2h3v-1h15v-3h7v3h5v1h3v-3h17v2h3v-1h5v-1h7v3h3v-1h5v-1h12v2h3v-1h7v1h3v-1h5v-1h5v-1h10v-2h7v2h5v1h15v1h8v-2h7v3h3v-2h7v1h13v-2h7v1h10v1h8v-1h27v2h3v-4h7v3h10v1h3v-1h7v1h3v-1h5v-1h7v1h5v1h3v-3h7v1h15v1h8v-4h7v3h5v1h5v1h3v-1h5v-2h7v2h3v-2h7v2h3v-1h7v2h8v-3h7v4h3v-2h5v-1h7v2h8v-1h5v-1h12v2h3v-2h7v1h3v-1h7v1h8v-1h7v3h8v-1h5v-2h7v1h10v1h3v-3h7v1h5v1h5v1h3v-4h7v2h5v1h18v-1h7v1h8v-1h5v-1h7v1h10v2h3v-2h5v-2h7v1h10v1h5v1h18v-2h12v2h18v-1h10v-3h7v2h5v1h8v-1h7v1h15v1h15v1h13v-2h27v1h23v-1h7v1h8v-1h7v3h3v-4h7v2h3v-2h7v1h3v-3h7v3h8v-1h7v1h5v1h5v1h3v-2h12v1h3v-1h12v1h5v1h8v-1h15v-1h7v2h3v-1h15v-1h10v-1h7v2h3v-1h5v-3h7v1h5v2h5v1h5v1h3v-2h7v1h3v-1h5v-1h12v1h15v2h3v-4h7v2h13v-1h7v1h8v-1h7v1h3v-1h7v2h5v1h3v-1h5v-1h12v1h3v-1h12v2h3v-2h12v1h5v1h3v-1h5v-2h7v1h5v3h3v-3h12v2h8v-1h5v-1h7v2h3v-1h5v-2h7v2h3v-3h7v3h3v-1h12v1h8v-1h17v1h3v-3h7v4h3v-1h5v-1h10v-1h12v1h5v1h3v-2h7v1h5v2h3v-1h5v-1h10v-2h7v2h3v-2h7v3h8v-1h5v-1h7v2h8v-1h17v2h8v-1h5v-1h22v2h5v1h3v-2h5v-1h17v1h5v1h3v-1h5v-2h7v2h15v1h3v-2h12v1h3v-1h7v3h3v-3h27v1h5v1h3v-1h10v-1h10v-1h5v-1h7v3h5v1h3v-3h7v3h8v-2h10v-1h7v2h3v-1h7v2h3v-2h7v1h3v-1h5v-2h7v1h5v3h3v-2h7v1h3v-1h7v2h3v-1h5v-2h7v1h5v3h3v-3h5v-1h12v3h8v-1h15v-1h7v1h3v-1h12v1h8v-4h7v3h5v1h3v-2h5v-1h7v2h5v1h13v-1h17v2h3v-1h12v1h3v-2h15v-2h7v3h3v-1h10v-1h7v1h10v2h3v-1h10v-1h5v-1h7v1h3v-3h7v4h5v1h3v-2h12v2h3v-2h7v1h13v-1h7v1h23v-2h10v-1h7v1h5v3h3v-1h7v1h10v1h3v-2h7v1h3v-2h7v2h8v-1h15v-1h7v1h5v1h3v-2h5v-1h7v3h3v-1h5v-2h7v2h10v1h3v-3h7v2h3v-2h7v1h8v-1h7v1h5v1h3v-2h7v2h5v1h3v-1h10v-3h7v2h10v1h8v-1h7v1h15v1h3v-1h5v-1h27v1h3v-2h7v2h10v1h3v-3h7v3h5v1h3v-3h7v1h5v1h8v-1h5v-2h12v2h3v-2h7v2h3v-1h5v-4h7v3h5v3h3v-2h5v-1h7v1h3v-1h7v1h5v1h3v-1h12v1h5v1h3v-2h7v1h18v-1h12v1h3v-1h7v2h3v-2h7v2h3v-1h10v-1h7v1h8v-1h17v2h3v-1h12v1h3v-3h5v-1h7v1h5v2h5v1h3v-1h5v-3h7v1h3v-2h7v5h3v-2h17v1h5v2h3v-1h5v-1h5v-1h7v1h18v-3h7v1h5v1h10v1h5v1h3v-2h22v1h8v-3h12v3h3v-1h10v-1h12v1h10v1h3v-1h17v1h8v-1h7v1h5v1h3v-2h7v1h3v-2h7v2h3v-1h7v1h3v-1h22v1h3v-1h5v-1h12v1h10v1h3v-1h15v-1h15v-1h7v3h3v-1h12v1h3v-1h7v1h13v-1h12v2h3v-1h5v-1h7v2h3v-2h10v-1h12v3h3v-3h7v3h3v-1h7v1h3v-3h7v1h5v1h3v-1h17v1h3v-1h5v-1h7v2h13v-2h7v2h13v-1h12v2h3v-1h25v-1h12v1h5v1h8v-2h7v1h3v-2h7v2h3v-2h7v2h3v-1h7v2h3v-2h12v1h13v-1h12v1h3v-2h7v2h13v-1h7v1h18v-1h7v2h3v-2h5v-1h7v1h5v1h5v1h3v-2h5v-1h7v2h10v1h3v-2h5v-1h7v3h3v-1h5v-1h10v-1h5v-2h7v2h10v1h10v2h3v-1h15v-2h7v1h10v2h3v-3h7v1h15v1h3v-1h22v2h8v-2h12v2h3v-2h7v1h13v-1h7v1h3v-1h7v1h8v-1h12v3h3v-3h7v1h3v-2h7v1h5v1h3v-3h7v3h18v-1h5v-2h12v3h5v1h8v-1h5v-1h12v1h3v-1h5v-1h7v1h5v1h13v-2h7v2h3v-1h7v2h8v-1h12v2h3v-2h5v-1h7v1h5v1h3v-1h5v-1h7v1h3v-1h7v1h8v-2h5v-1h7v3h3v-2h7v3h3v-2h20v-2h12v4h3v-1h5v-1h7v1h3v-1h10v-1h7v1h3v-1h7v2h5v1h3v-2h7v2h8v-3h7v2h3v-2h12v1h5v1h13v-1h7v1h13v-1h7v1h8v-1h7v1h3v-1h17v1h5v1h3v-2h7v1h3v-2h7v3h3v-1h10v-3h7v1h5v1h5v2h3v-1h5v-2h7v2h8v-1h5v-1h7v1h5v2h3v-3h7v2h3v-2h7v1h10v1h5v1h13v-2h5v-2h7v1h5v1h5v1h15v1h3v-3h5v-1h7v1h5v1h10v1h3v-2h7v1h5v2h5v1h3v-1h5v-1h5v-1h5v-1h7v1h10v1h3v-1h12v2h3v-1h7v1h3v-2h7v3h3v-5h7v3h5v1h3v-1h15v-1h7v2h3v-1h12v1h8v-2h5v-1h7v1h5v2h3v-1h5v-2h12v2h5v1h8v-1h17v1h3v-1h7v1h3v-2h7v2h8v-1h5v-2h7v1h8v-1h7v1h3v-2h7v3h10v1h3v-1h30v-1h5v-1h7v1h10v1h3v-1h5v-1h12v2h3v-2h12v1h10v2h3v-1h7v1h3v-2h7v1h3v-2h7v2h3v-1h7v1h10v1h3v-2h7v1h13v-1h12v2h5v1h3v-3h7v2h3v-2h7v2h3v-1h12v1h3v-1h15v-4h7v3h15v1h15v2h3v-3h12v1h3v-2h7v1h3v-1h7v1h10v1h3v-2h12v2h10v1h8v-2h7v1h3v-1h5v-1h7v2h3v-2h7v3h3v-1h10v-1h5v-2h7v2h8v-1h7v2h3v-2h7v1h3v-1h12v1h5v2h3v-2h7v1h5v2h3v-6h7v4h3v-1h7v2h3v-1h10v-1h7v1h3v-1h17v1h23v-1h12v1h8v-2h7v2h5v1h3v-1h7v1h3v-1h7v1h3v-1h7v1h3v-2h7v1h5v1h3v-1h5v-1h10v-4h7v4h3v-1h7v2h9V669h-4v2h-7v-2h-5v-1h-3v1h-7v-1h-3v1h-7v-1h-3v2h-7v-1h-15v-1h-8v3h-7v-2h-3v1h-5v2h-7v-2h-5v-1h-3v1h-7v-2h-3v2h-12v-1h-8v2h-7v-2h-5v-1h-3v1h-12v-2h-3v2h-5v1h-7v-1h-8v3h-7v-3h-3v2h-7v-1h-15v-1h-3v2h-7v-2h-3v1h-7v-3h-3v2h-5v1h-7v-1h-3v1h-7v-1h-5v-1h-3v2h-12v-1h-3v1h-7v-1h-15v-1h-18v1h-10v1h-7v-1h-3v1h-7v-1h-15v-1h-13v1h-5v3h-7v-1h-5v-1h-13v1h-7v-2h-15v-1h-5v-1h-3v2h-5v2h-7v-2h-3v2h-7v-1h-10v-1h-8v1h-7v-1h-8v3h-7v-2h-5v-2h-3v2h-12v-1h-5v-1h-3v1h-10v1h-12v-2h-3v1h-15v1h-5v1h-12v-3h-3v1h-7v-1h-3v1h-7v-1h-13v3h-7v-3h-3v1h-7v-1h-8v1h-12v-1h-3v1h-7v-1h-3v2h-17v-2h-3v1h-10v1h-7v-1h-5v-2h-3v2h-7v-1h-8v2h-7v-1h-3v3h-7v-3h-8v1h-7v-1h-3v1h-7v-1h-3v4h-7v-3h-5v-2h-5v-1h-3v2h-5v1h-7v-1h-5v-2h-3v2h-12v-1h-3v1h-5v2h-7v-1h-10v-1h-5v-1h-3v3h-7v-1h-5v-1h-3v1h-7v-1h-5v-1h-3v3h-7v-3h-3v1h-5v1h-22v-1h-5v-2h-3v2h-5v2h-7v-1h-5v-1h-3v2h-7v-1h-5v-1h-3v2h-7v-2h-3v3h-7v-1h-5v-1h-5v-1h-3v2h-7v-2h-3v1h-7v-1h-8v1h-12v-3h-3v1h-5v1h-5v1h-7v-1h-3v4h-7v-5h-3v3h-7v-3h-3v1h-5v1h-7v-1h-23v1h-10v2h-7v-3h-15v-1h-3v2h-5v1h-7v-2h-3v2h-7v-3h-3v2h-7v-1h-8v1h-7v-1h-5v-1h-3v1h-5v2h-7v-2h-5v-1h-8v3h-12v-2h-5v-1h-3v1h-10v1h-7v-2h-5v-1h-3v2h-5v1h-7v-3h-3v3h-7v-2h-3v2h-7v-1h-8v2h-7v-4h-3v2h-5v1h-7v-2h-5v-1h-3v1h-5v1h-27v-2h-3v1h-5v1h-12v-1h-3v1h-5v2h-12v-1h-10v-2h-3v2h-27v-1h-10v-1h-3v2h-22v-1h-5v-1h-8v2h-5v1h-12v-2h-3v1h-7v-1h-3v1h-7v-1h-10v-1h-8v2h-7v-1h-8v1h-7v-2h-3v1h-5v1h-17v-1h-5v-1h-3v1h-5v2h-7v-1h-3v1h-7v-2h-15v-1h-3v1h-7v-1h-3v2h-7v-2h-15v-1h-3v1h-5v1h-5v2h-5v1h-7v-3h-10v-1h-3v1h-15v2h-7v-1h-5v-1h-8v1h-7v-2h-3v2h-12v-1h-8v1h-7v-1h-3v1h-7v-1h-8v1h-7v-2h-3v2h-7v-1h-5v-1h-3v1h-7v-1h-13v2h-12v-1h-10v-1h-3v1h-5v1h-17v-2h-3v2h-12v-2h-3v1h-5v1h-12v-1h-3v3h-7v-2h-20v-2h-3v1h-5v3h-7v-1h-5v-2h-10v-1h-3v1h-10v1h-12v-1h-10v-1h-3v2h-7v-1h-3v2h-7v-2h-3v3h-7v-2h-5v-1h-8v1h-5v1h-7v-1h-10v-1h-5v-1h-3v2h-12v-1h-3v1h-7v-2h-3v1h-10v1h-7v-2h-3v1h-5v1h-7v-1h-5v-1h-3v1h-5v1h-7v-2h-8v2h-17v-1h-5v-1h-3v1h-5v1h-7v-3h-3v2h-7v-1h-5v-1h-3v2h-5v1h-7v-1h-30v-1h-3v1h-7v-1h-8v1h-32v-2h-3v2h-5v1h-12v-2h-3v1h-10v2h-7v-1h-5v-3h-3v5h-7v-4h-3v1h-5v1h-7v-1h-5v-1h-3v1h-5v1h-17v-3h-3v2h-10v1h-7v-2h-8v2h-7v-1h-8v1h-12v-1h-3v2h-7v-3h-3v1h-7v-1h-3v2h-7v-1h-5v-1h-8v1h-5v3h-7v-2h-3v1h-7v-1h-5v-3h-3v2h-5v1h-7v-1h-8v1h-12v-1h-3v1h-22v-1h-10v-1h-15v-1h-3v2h-10v2h-7v-1h-5v-1h-15v-1h-3v1h-17v-1h-3v2h-5v1h-12v-1h-5v-2h-13v2h-7v-2h-3v1h-5v1h-7v-2h-3v1h-10v1h-7v-1h-3v2h-7v-2h-20v-1h-8v2h-7v-2h-5v-1h-8v2h-12v-1h-3v2h-7v-2h-23v1h-7v-2h-3v2h-7v-1h-3v3h-7v-1h-5v-1h-3v1h-7v-2h-3v1h-12v-1h-3v1h-17v-1h-3v1h-7v-1h-13v2h-7v-1h-8v1h-7v-2h-3v1h-10v3h-7v-1h-5v-2h-5v-1h-3v4h-7v-3h-10v-1h-8v2h-5v1h-7v-2h-8v1h-7v-2h-3v2h-7v-1h-3v3h-7v-3h-3v1h-15v1h-7v-1h-5v-1h-3v1h-7v-2h-8v1h-5v2h-7v-3h-3v2h-5v1h-7v-2h-13v2h-7v-1h-5v-1h-5v-2h-3v2h-7v-1h-13v1h-5v2h-7v-1h-5v-1h-15v-1h-3v1h-10v1h-12v-1h-10v-1h-3v1h-5v2h-7v-3h-5v-1h-5v-1h-3v1h-5v3h-7v-2h-3v1h-20v1h-12v-1h-5v-1h-15v-1h-3v3h-7v-1h-10v-1h-3v1h-7v-1h-8v2h-7v-1h-15v-2h-3v2h-5v1h-7v-1h-10v-1h-3v1h-5v1h-7v-1h-3v1h-7v-1h-8v1h-7v-1h-8v3h-7v-4h-3v2h-7v-1h-3v1h-7v-1h-5v-2h-3v1h-5v1h-12v-1h-3v1h-5v1h-7v-2h-13v1h-7v-1h-3v1h-5v1h-7v-1h-13v1h-5v2h-7v-2h-3v1h-17v-1h-5v-3h-3v4h-5v1h-7v-3h-3v1h-7v-1h-5v-1h-3v1h-5v1h-7v-1h-8v2h-7v-2h-3v1h-7v-1h-38v1h-7v-1h-8v1h-7v-1h-3v2h-5v1h-5v4h-7v-6h-3v1h-7v-2h-5v-1h-3v2h-22v-1h-5v-1h-3v3h-12v-1h-10v-2h-5v-1h-3v2h-12v-1h-5v-1h-3v4h-7v-1h-5v-2h-3v4h-7v-3h-10v-1h-10v-1h-3v2h-5v1h-7v-1h-5v-1h-3v2h-12v-1h-10v-1h-8v1h-7v-1h-3v1h-10v2h-7v-2h-15v-1h-3v1h-12v-1h-23v2h-17v-1h-3v2h-7v-3h-5v-1h-3v1h-10v2h-12v-1h-3v2h-7v-1h-5v-2h-3v3h-7v-3h-3v1h-7v-2h-3v2h-12v-1h-3v1h-5v1h-7v-2h-5v-1h-3v1h-5v2h-7v-1h-10v-1h-3v1h-5v3h-7v-4h-3v1h-5v1h-7v-1h-3v1h-12v-2h-8v1h-12v-1h-13v1h-5v2h-7v-3h-3v1h-7v-1h-3v1h-5v1h-5v2h-7v-4h-3v1h-7v-1h-3v1h-5v1h-7v-1h-5v-1h-3v3h-5v2h-7v-3h-10v-1h-15v-1h-3v2h-12v-1h-3v1h-17v-1h-18v1h-10v1h-7v-2h-3v1h-7v-1h-5v-1h-18v2h-5v2h-7v-2h-3v1h-7v-1h-5v-1h-8v1h-7v-1h-25v-1h-8v1h-32v-1h-3v2h-12v-1h-5v-1h-8v2h-17v-1h-3v2h-7v-2h-5v-1h-5v-1h-3v2h-5v1h-7v-2h-3v1h-5v1h-5v2h-7v-4h-13v1h-7v-1h-8v3h-7v-1h-5v-1h-3v1h-15v1h-7v-1h-5v-2h-18v2h-7v-2h-3v1h-7v-1h-3v1h-5v1h-7v-1h-3v2h-7v-2h-3v1h-7v-1h-5v-1h-3v1h-7v-1h-3v1h-12v-1h-5v-1h-3v1h-5v2h-7v-1h-10v-1h-8v2h-7v-1h-5v-1h-3v2h-5v1h-7v-1h-5v-1h-8v1h-5v1h-7v-3h-3v2h-7v-1h-3v1h-7v-3h-3v3h-7v-1h-3v1h-7v-2h-3v1h-5v1h-7v-1h-3v2h-7v-1h-5v-2h-18v1h-10v2h-7v-2h-5v-1h-8v2h-17v-2h-10v-1h-8v3h-5v1h-12v-1h-5v-1h-3v3h-7v-2h-5v-1h-8v2h-7v-4h-3v2h-12v-1h-3v1h-5v1h-12v-2h-3v4h-7v-1h-10v-1h-5v-1h-5v-1h-3v2h-7v-2h-3v2h-7v-2h-8v1h-7v-2h-3v2h-10v1h-5v1h-7v-2h-5v-1h-13v2h-17v-3h-3v1h-7v-1h-3v4h-7v-2h-15v-1h-3v2h-12v-1h-8v1h-7v-1h-3v1h-7v-1h-13v1h-5v1h-17v-2h-3v2h-7v-1h-10v-2h-3v1h-7v-1h-8v1h-15v1h-5v1h-7v-1h-5v-1h-8v2h-7v-1h-3v1h-7v-1h-5v-1h-5v-1h-5v-1h-3v1h-5v2h-7v-1h-5v-3h-3v1h-5v3h-7v-2h-8v1h-10v1h-17v-2h-3v1h-5v1h-7v-2h-3v2h-7v-1h-10v-1h-3v1h-5v1h-12v-1h-15v-1h-3v1h-5v1h-7v-2h-8v1h-10v1h-7v-1h-3v2h-7v-2h-3v2h-7v-2h-3v1h-12v-2h-3v1h-7v-1h-8v2h-12v-1h-10v-2h-3v1h-5v1h-27v-1h-3v2h-12v-1h-5v-1h-8v2h-7v-1h-3v1h-7v-2h-3v1h-7v-1h-8v1h-5v1h-7v-1h-3v1h-7v-2h-3v1h-5v3h-7v-4h-3v2h-7v-2h-8v1h-7v-1h-3v1h-7v-1h-10v-1h-3v5h-7v-4h-13v1h-17v-1h-3v1h-5v2h-7v-1h-10v-1h-15v-1h-10v-1h-3v1h-5v1h-17v-1h-3v2h-5v1h-7v-3h-8v2h-7v-1h-5v-1h-3v2h-7v-1h-3v1h-7v-1h-3v1h-5v1h-7v-1h-3v1h-7v-1h-5v-2h-3v2h-12v-2h-3v1h-5v1h-7v-2h-8v3h-7v-3h-8v3h-7v-2h-10v-1h-8v1h-10v1h-7v-1h-3v2h-7v-2h-10v-1h-3v1h-10v1h-7v-2h-3v1h-7v-1h-3v2h-7v-1h-15v-1h-13v1h-5v1h-12v-1h-10v-1h-3v1h-7v-1h-3v1h-12v-1h-8v3h-7v-1h-10v-1h-3v1h-7v-1h-5v-1h-3v1h-5v1h-5v2h-7v-4h-3v2h-5v1h-7v-3h-3v1h-10v1h-12v-3h-3v1h-5v2h-7v-1h-3v3h-7v-3h-3v2h-7v-3h-3v1h-5v1h-7v-2h-3v1h-12v-1h-3v1h-7v-2h-3v4h-12v-2h-8v2h-7v-1h-15v-1h-10v-1h-3v1h-25v2h-7v-3h-3v3h-7v-1h-5v-1h-10v-1h-3v1h-10v1h-12v-1h-5v-1h-8v5h-7v-3h-5v-1h-5v-2h-8v2h-7v-1h-3v1h-5v1h-7v-2h-8v1h-5v2h-7v-2h-15v-1h-15v-1h-3v2h-7v-2h-3v1h-5v2h-7v-1h-10v-1h-3v1h-5v2h-7v-3h-13v1h-5v1h-7v-2h-3v1h-7v-2h-3v2h-22v-2h-3v4h-7v-2h-5v-1h-3v2h-17v-1h-3v1h-7v-1h-8v1h-17v-1h-18v1h-12v-1h-5v-1h-3v1h-5v2h-7v-1h-10v-1h-5v-1h-13v3h-7v-3h-8v3h-7v-1h-5v-2h-13v1h-7v-1h-3v3h-7v-2h-5v-2h-3v2h-10v2h-7v-2h-3v1h-7v-2h-13v2h-7v-1h-3v2h-7v-1h-3v2h-7v-2h-4Z"/>
<path fill="#000000" d="M1152 725h4v-1h5v-2h7v3h3v-1h12v1h3v-1h5v-2h7v3h3v-1h7v1h3v-1h5v-1h7v1h5v1h8v-1h5v-1h7v2h18v-3h7v2h5v2h3v-2h7v1h8v-1h5v-1h5v-1h7v1h5v1h25v1h3v-1h7v1h15v1h3v-2h17v1h13v-2h5v-1h7v2h3v-1h7v1h5v1h3v-1h7v1h8v-2h7v1h3v-1h7v1h15v1h5v1h3v-1h25v-2h7v2h5v1h3v-1h5v-2h7v2h8v-2h12v1h5v1h3v-1h5v-1h7v2h3v-1h7v1h3v-2h12v2h3v-3h7v3h3v-1h5v-2h7v3h8v-1h5v-1h12v1h33v-1h7v1h13v-3h7v3h15v1h3v-2h7v1h5v1h5v1h3v-2h7v1h8v-1h7v1h13v-2h7v2h8v-5h7v3h5v2h5v1h3v-1h7v1h3v-1h7v1h3v-2h5v-2h7v3h18v-2h7v2h3v-2h7v2h10v1h3v-2h7v1h10v1h3v-3h7v2h3v-2h7v1h3v-1h7v2h8v-2h7v1h5v3h3v-2h12v1h3v-1h5v-1h7v1h35v2h3v-1h5v-1h15v-1h5v-1h7v3h8v-3h7v3h8v-3h7v1h5v1h3v-1h7v2h3v-1h7v1h3v-1h5v-2h7v2h3v-2h7v2h8v-2h12v1h5v1h3v-1h5v-1h7v3h8v-1h5v-1h5v-1h7v2h3v-2h7v1h5v1h8v-1h10v-2h7v2h10v2h3v-2h7v2h3v-2h17v1h5v1h3v-1h5v-2h7v2h8v-2h7v1h5v1h15v2h3v-2h5v-2h7v2h3v-2h7v1h8v-2h7v2h15v1h3v-2h7v1h15v1h3v-1h12v1h5v1h3v-1h5v-3h7v3h3v-1h12v2h3v-2h5v-1h7v3h3v-1h5v-1h5v-1h7v2h3v-1h7v1h8v-1h15v-2h7v3h3v-1h12v1h13v-1h10v-2h5v-1h7v1h5v3h3v-1h7v1h3v-3h7v2h10v1h13v-1h7v1h3v-2h7v1h10v1h5v1h8v-1h20v-1h7v1h5v1h3v-2h7v1h13v-1h7v1h8v-1h7v1h3v-1h7v1h18v-2h5v-1h7v2h8v-1h7v2h13v-2h5v-1h7v1h5v2h8v-2h7v2h3v-1h7v1h5v1h8v-1h7v2h3v-2h5v-1h7v2h3v-2h5v-1h12v2h3v-1h7v1h3v-1h5v-2h7v2h3v-1h7v1h15v1h13v-1h5v-1h5v-1h7v3h3v-1h7v2h3v-1h10v-3h7v3h3v-2h7v2h3v-1h12v1h3v-1h7v1h3v-1h7v2h3v-2h5v-1h7v1h3v-3h7v3h5v1h3v-1h12v1h3v-1h12v1h25v1h3v-1h12v1h3v-1h5v-1h7v1h5v1h13v-3h7v1h20v2h5v1h3v-1h5v-2h7v1h3v-2h7v2h3v-3h7v1h5v1h5v2h8v-1h15v-2h7v2h8v-1h12v1h3v-1h7v1h5v1h3v-2h7v1h8v-1h12v2h8v-3h7v1h5v1h3v-1h7v1h3v-2h7v1h5v1h3v-3h7v2h5v1h3v-2h7v1h10v1h5v1h3v-1h5v-3h7v3h3v-1h7v1h5v1h3v-1h22v1h8v-2h5v-1h12v1h10v1h8v-2h7v2h8v-1h5v-1h7v3h3v-1h5v-1h5v-4h7v3h5v1h3v-2h7v4h3v-1h10v-2h7v1h5v2h3v-2h5v-2h17v2h5v1h8v-2h12v2h5v1h3v-3h7v2h3v-1h5v-1h7v1h3v-1h7v2h5v1h3v-3h7v1h10v2h8v-1h10v-2h7v1h3v-1h7v2h3v-2h7v2h8v-2h7v2h3v-1h7v1h3v-1h7v1h3v-1h7v3h3v-1h10v-2h5v-1h12v2h3v-2h7v2h13v-1h10v-1h7v2h3v-1h22v2h8v-2h17v1h3v-2h7v1h28v-2h7v3h8v-1h12v1h3v-1h5v-2h7v2h5v1h3v-2h7v3h8v-2h5v-1h7v2h3v-1h7v1h10v1h3v-1h5v-2h7v1h5v1h5v1h8v-1h5v-1h7v2h3v-1h12v1h3v-1h12v1h3v-1h5v-1h20v-1h17v2h5v1h8v-1h10v-1h7v1h18v-3h7v2h10v1h3v-1h12v2h8v-1h5v-1h10v-1h7v1h5v1h3v-1h10v-1h7v1h5v3h3v-2h7v1h3v-2h7v1h3v-1h12v1h3v-2h17v1h5v1h3v-2h7v3h3v-2h7v1h3v-2h12v1h5v1h3v-1h5v-1h12v1h5v2h13v-2h7v2h8v-1h10v-1h10v-1h5v-1h7v3h3v-1h5v-1h7v2h3v-1h7v1h10v1h8v-2h7v1h13v-2h5v-1h7v4h3v-1h7v1h3v-1h7v1h8v-2h15v-1h7v1h3v-1h7v1h3v-2h7v4h3v-1h10v-1h12v2h3v-2h12v1h3v-1h5v-1h7v2h15v1h3v-2h12v1h25v1h3v-2h5v-1h7v2h8v-1h5v-1h7v2h3v-3h7v4h3v-3h5v-1h7v1h5v2h3v-1h10v-1h7v1h15v1h5v1h8v-3h7v1h5v1h3v-2h7v1h5v2h3v-1h7v1h3v-1h12v1h3v-2h10v-1h7v2h8v-3h7v3h18v-1h7v1h3v-2h7v1h3v-1h7v2h3v-2h7v2h3v-1h10v-1h7v1h10v1h3v-1h7v1h3v-1h15v-1h12v1h10v2h3v-3h7v1h3v-1h7v1h5v2h3v-3h7v2h10v1h3v-4h7v4h3v-1h7v1h3v-1h10v-1h10v-1h5v-1h7v2h8v-1h7v1h30v1h15v1h3v-1h7v3h3v-4h5v-1h7v1h5v1h5v1h8v-1h7v1h3v-3h7v2h3v-1h5v-1h7v1h5v1h3v-3h7v3h23v-2h7v1h10v2h8v-2h7v2h3v-1h5v-2h12v2h3v-1h5v-2h7v3h5v2h3v-2h10v-1h12v1h3v-1h22v1h3v-1h7v1h8v-1h7v2h3v-1h5v-2h7v1h15v2h3v-1h5v-1h7v1h3v-1h7v1h5v1h3v-2h7v1h23v-2h5v-2h7v4h8v-1h7v1h8v-1h20v-1h7v1h10v2h3v-2h5v-1h7v3h3v-3h7v1h5v2h3v-1h5v-1h10v-1h7v1h5v2h8v-1h12v2h3v-1h5v-2h7v1h8v-1h7v1h8v-1h12v2h3v-1h5v-1h12v1h10v1h3v-2h7v1h8v-1h10v-1h7v2h3v-1h17v1h13v-3h7v1h5v2h5v1h3v-2h7v2h3v-1h5v-1h5v-2h7v1h5v1h5v1h5v1h3v-1h5v-2h12v2h3v-3h7v2h5v2h3v-1h5v-1h7v2h8v-1h17v1h3v-1h5v-1h5v-1h7v1h10v1h8v-1h7v1h5v1h8v-2h5v-1h7v1h5v1h8v-1h12v1h3v-2h7v2h3v-1h5v-1h12v1h5v1h15v1h3v-1h5v-3h7v2h3v-1h7v1h23v-2h7v2h10v1h10v1h3v-1h7v2h3v-4h7v2h18v-1h7v1h18v-1h5v-2h7v2h5v1h3v-1h5v-1h7v1h5v1h3v-2h7v2h3v-1h5v-2h7v4h3v-2h17v1h18v-1h5v-1h7v1h3v-1h17v1h10v2h13v-2h7v2h3v-1h7v1h3v-2h7v1h3v-3h7v3h10v2h3v-2h5v-1h10v-1h7v2h10v1h3v-4h7v2h5v2h8v-1h10v-1h10v-2h7v2h10v1h5v1h3v-2h7v1h3v-2h7v1h5v2h3v-1h10v-1h12v2h3v-4h7v4h3v-1h7v1h13v-1h10v-1h7v1h3v-2h7v1h10v2h3v-2h10v-1h7v1h3v-1h7v1h20v1h3v-3h12v2h5v1h3v-1h7v1h3v-2h12v1h5v1h8v-1h12v1h8v-2h7v3h3v-2h7v1h13v-2h7v1h13v-2h7v2h5v1h3v-1h7v1h3v-1h17v2h3v-4h7v2h5v1h8v-1h10v-1h7v1h3v-1h7v1h5v1h5v1h8v-1h5v-1h5v-1h7v1h5v1h5v2h3v-3h5v-2h7v3h15v1h3v-1h7v1h8v-2h12v1h18v-1h5v-1h5v-2h7v4h8v-2h7v1h5v2h3v-2h7v1h3v-1h5v-1h7v1h30v1h5v1h3v-1h7v1h3v-2h5v-1h7v1h10v1h8v-1h7v2h5v1h3v-3h12v2h5v1h3v-2h5v-1h12v1h5v1h3v-2h7v2h3v-1h12v1h3v-1h7v1h3v-1h5v-1h7v2h8v-2h12v1h3v-2h7v1h3v-1h7v1h5v2h3v-3h5v-1h7v3h3v-1h7v2h3v-2h7v2h3v-1h10v-1h7v2h3v-1h5v-2h7v2h18v-1h12v2h3v-1h5v-1h7v1h5v1h3v-4h7v3h3v-1h7v3h3v-1h5v-1h7v1h3v-2h5v-1h7v1h3v-1h7v3h3v-1h10v-1h5v-2h7v3h8v-2h5v-1h7v3h5v1h3v-2h7v1h3v-1h12v1h3v-1h7v1h8v-1h17v1h3v-1h7v1h3v-2h7v1h3v-1h7v1h10v1h3v-2h7v1h15v1h10v1h3v-1h7v2h3v-2h5v-1h7v1h5v1h3v-3h5v-1h7v3h3v-1h20v-1h7v2h23v-1h7v1h5v1h13v-2h12v1h3v-1h7v2h3v-1h5v-4h7v3h5v1h3v-2h7v1h10v1h3v-2h12v1h8v-2h7v2h5v1h33v-1h10v-1h7v1h5v1h5v1h8v-1h7v1h3v-2h12v1h3v-1h12v1h3v-1h12v1h3v-1h7v3h3v-2h10v-2h22v1h5v1h18v-1h7v2h3v-1h5v-1h7v1h10v1h3v-3h7v3h3v-1h5v-1h7v1h3v-2h7v2h5v1h3v-1h5v-1h10v-1h7v2h8v-2h7v1h5v1h23v-1h7v1h3v-1h7v1h8v-1h7v1h3v-1h6V737h-4v1h-7v-1h-3v2h-7v-1h-5v-1h-8v1h-5v1h-7v-2h-3v2h-7v-1h-3v1h-7v-1h-3v1h-7v-2h-5v-1h-3v1h-10v2h-7v-2h-8v2h-7v-2h-3v1h-5v1h-7v-1h-3v1h-7v-2h-3v3h-7v-2h-15v-1h-8v2h-7v-2h-8v1h-5v1h-7v-1h-8v1h-7v-1h-3v2h-7v-2h-8v1h-7v-2h-13v1h-25v2h-5v1h-7v-2h-8v2h-7v-4h-3v3h-7v-2h-8v1h-7v-2h-3v1h-5v3h-12v-2h-3v2h-7v-2h-5v-1h-3v1h-7v-2h-3v1h-5v1h-7v-3h-3v3h-7v-2h-3v1h-7v-1h-3v2h-7v-2h-3v3h-7v-3h-3v1h-17v-1h-3v1h-10v2h-7v-1h-3v1h-7v-1h-5v-1h-5v-1h-3v1h-5v1h-5v2h-7v-3h-3v1h-7v-1h-3v1h-7v-1h-3v1h-12v-1h-3v1h-7v-2h-3v1h-15v1h-7v-2h-5v-1h-3v2h-7v-1h-3v1h-7v-1h-3v1h-17v-2h-3v1h-5v1h-10v1h-17v-1h-10v-1h-8v3h-7v-2h-3v1h-5v1h-7v-2h-8v1h-12v-1h-3v1h-7v-2h-5v-1h-3v1h-5v1h-7v-1h-3v1h-7v-1h-3v1h-12v-1h-8v1h-5v2h-7v-1h-10v-1h-3v3h-7v-5h-3v2h-7v-1h-3v2h-7v-1h-10v-1h-3v2h-7v-3h-3v1h-5v2h-17v-1h-3v1h-7v-2h-3v2h-12v-1h-5v-1h-13v1h-5v2h-7v-2h-3v3h-7v-1h-5v-1h-5v-1h-10v-2h-3v1h-5v3h-7v-1h-5v-2h-3v3h-5v1h-7v-4h-3v1h-10v1h-7v-1h-3v1h-12v-1h-3v1h-12v-2h-3v1h-7v-1h-3v2h-7v-1h-3v2h-7v-1h-5v-1h-3v1h-7v-2h-8v2h-7v-1h-10v-1h-3v1h-15v1h-7v-2h-3v1h-12v-1h-5v-1h-3v1h-5v1h-27v-1h-3v2h-7v-1h-15v-1h-18v1h-7v-1h-8v1h-5v1h-7v-1h-3v1h-5v1h-7v-1h-5v-1h-8v1h-7v-2h-8v1h-17v-1h-8v2h-15v2h-7v-3h-3v1h-7v-1h-3v2h-7v-2h-5v-1h-3v1h-5v1h-10v1h-7v-1h-5v-1h-8v2h-12v-1h-10v-2h-15v-1h-3v3h-7v-1h-8v2h-7v-1h-5v-1h-15v-1h-8v2h-7v-1h-10v-1h-3v1h-5v1h-7v-2h-8v1h-7v-2h-3v2h-10v1h-5v1h-7v-2h-15v-1h-8v1h-5v1h-7v-2h-3v1h-15v1h-12v-1h-8v1h-10v2h-7v-1h-5v-3h-3v2h-5v1h-7v-1h-5v-1h-18v2h-7v-1h-10v-1h-3v2h-7v-2h-13v1h-7v-1h-18v1h-7v-1h-8v3h-7v-2h-5v-1h-3v1h-7v-2h-3v1h-5v2h-7v-1h-5v-1h-5v-1h-3v5h-7v-3h-10v-2h-5v-1h-3v2h-7v-1h-3v1h-5v2h-12v-1h-5v-1h-3v2h-7v-2h-3v1h-7v-1h-5v-1h-3v2h-7v-3h-3v3h-7v-3h-3v3h-7v-1h-8v1h-7v-1h-5v-1h-3v1h-7v-1h-8v2h-7v-1h-3v1h-7v-2h-3v2h-7v-2h-3v1h-5v1h-7v-2h-3v1h-5v1h-22v-1h-8v1h-7v-2h-3v2h-7v-1h-3v1h-7v-2h-8v1h-5v1h-7v-1h-3v2h-12v-1h-5v-2h-13v2h-7v-2h-8v3h-7v-3h-3v2h-5v2h-7v-1h-10v-3h-8v1h-7v-1h-3v1h-17v-1h-3v1h-12v-1h-3v1h-7v-1h-3v3h-7v-2h-3v3h-7v-2h-10v-1h-5v-1h-3v1h-5v1h-7v-1h-5v-1h-13v3h-7v-1h-5v-1h-3v1h-10v2h-7v-3h-18v1h-7v-1h-5v-2h-3v2h-7v-1h-8v4h-7v-3h-3v1h-12v-2h-8v1h-5v2h-7v-2h-5v-1h-3v1h-5v1h-7v-3h-3v2h-5v1h-12v-1h-10v-1h-3v2h-10v1h-7v-2h-25v-1h-3v1h-7v-1h-13v1h-10v1h-7v-1h-5v-1h-3v2h-12v-1h-8v1h-7v-1h-3v1h-22v-1h-5v-1h-3v1h-7v-1h-3v2h-7v-1h-5v-1h-5v-1h-3v2h-15v2h-7v-2h-5v-1h-3v1h-20v1h-17v-2h-3v1h-10v1h-7v-1h-8v1h-12v-1h-3v1h-17v-1h-13v3h-7v-3h-3v1h-12v-1h-5v-1h-5v-1h-3v2h-5v2h-7v-3h-3v1h-10v2h-7v-2h-5v-2h-3v3h-7v-3h-3v1h-5v3h-7v-3h-3v2h-17v-1h-13v1h-7v-2h-3v1h-5v1h-7v-1h-3v1h-10v1h-7v-2h-3v1h-27v-1h-5v-1h-10v-1h-3v3h-7v-3h-3v1h-10v3h-7v-1h-5v-1h-30v-2h-3v2h-5v1h-10v2h-7v-3h-8v2h-7v-3h-3v1h-5v1h-7v-1h-5v-1h-8v1h-12v-1h-3v1h-17v-1h-8v1h-7v-1h-3v3h-5v1h-7v-3h-8v1h-12v-2h-3v2h-7v-1h-15v-1h-3v1h-12v-1h-3v1h-7v-2h-3v2h-15v1h-7v-1h-3v1h-7v-2h-13v1h-5v3h-7v-3h-3v1h-7v-1h-5v-1h-8v2h-10v1h-7v-3h-3v2h-5v1h-5v1h-7v-3h-5v-1h-3v1h-10v1h-10v1h-7v-1h-10v-2h-3v1h-10v1h-7v-1h-20v-1h-3v4h-7v-1h-5v-2h-8v1h-12v-3h-8v2h-12v-2h-3v3h-12v-3h-3v3h-5v1h-7v-2h-10v-1h-5v-1h-3v1h-5v1h-17v-1h-3v1h-5v2h-7v-3h-3v1h-5v1h-5v1h-7v-2h-3v2h-7v-3h-3v1h-12v-1h-3v2h-5v1h-7v-2h-3v1h-10v1h-5v1h-7v-3h-3v1h-12v-3h-3v2h-7v-2h-3v1h-5v3h-7v-2h-3v1h-12v-1h-3v2h-7v-2h-5v-1h-3v1h-7v-2h-3v2h-7v-1h-3v1h-10v1h-12v-2h-3v1h-5v2h-12v-2h-15v-1h-3v1h-7v-1h-3v2h-5v1h-7v-2h-10v-1h-8v1h-12v-1h-3v1h-5v1h-7v-2h-3v1h-5v1h-5v1h-5v1h-7v-4h-3v2h-7v-1h-3v1h-5v1h-7v-1h-5v-2h-13v1h-12v-1h-3v3h-7v-3h-3v3h-12v-2h-8v1h-7v-1h-15v-1h-3v1h-7v-1h-3v2h-7v-1h-5v-1h-3v1h-7v-1h-3v1h-5v2h-7v-1h-5v-2h-8v1h-12v-1h-3v1h-10v1h-7v-1h-8v1h-7v-2h-10v-1h-8v1h-10v3h-7v-2h-10v-1h-3v2h-10v1h-12v-2h-3v1h-7v-1h-10v-1h-3v1h-5v2h-7v-3h-3v1h-10v1h-7v-1h-5v-1h-3v3h-7v-2h-3v1h-7v-2h-3v1h-5v2h-7v-2h-5v-1h-8v1h-5v1h-17v-2h-3v3h-7v-2h-5v-2h-3v4h-7v-1h-5v-2h-3v2h-7v-1h-5v-1h-8v1h-10v1h-5v1h-7v-1h-10v-2h-3v1h-7v-1h-3v1h-7v-1h-8v1h-12v-1h-8v2h-7v-1h-10v-1h-8v1h-5v1h-5v1h-7v-2h-5v-1h-3v1h-5v1h-7v-1h-5v-2h-3v1h-10v1h-5v1h-7v-4h-3v3h-7v-1h-3v2h-7v-1h-13v1h-12v-1h-5v-1h-3v4h-7v-4h-8v1h-5v1h-7v-1h-5v-1h-13v2h-7v-1h-5v-1h-13v2h-7v-1h-3v2h-7v-3h-8v1h-20v2h-7v-2h-3v1h-7v-1h-5v-1h-8v1h-7v-1h-3v1h-5v2h-7v-2h-8v1h-7v-1h-8v1h-12v-1h-3v2h-7v-3h-3v1h-5v1h-5v1h-12v-2h-3v2h-7v-3h-3v1h-20v1h-7v-1h-5v-1h-3v3h-7v-1h-5v-1h-10v-1h-3v2h-7v-1h-3v1h-12v-2h-8v1h-5v2h-7v-1h-3v1h-7v-2h-13v1h-12v-1h-13v1h-12v-1h-30v-1h-8v3h-7v-2h-3v2h-7v-1h-10v-2h-3v3h-7v-2h-3v1h-7v-1h-5v-1h-3v2h-5v1h-7v-2h-3v1h-7v-1h-5v-1h-3v2h-7v-2h-5v-1h-3v3h-7v-1h-8v1h-7v-1h-3v1h-10v2h-7v-2h-10v-1h-3v2h-7v-1h-10v-2h-5v-1h-3v1h-5v1h-5v1h-7v-2h-3v2h-7v-1h-5v-1h-8v1h-12v-1h-3v1h-7v-1h-3v1h-5v1h-17v-2h-8v2h-7v-1h-20v-1h-3v2h-7v-1h-8v1h-7v-1h-5v-1h-8v2h-7v-2h-3v3h-7v-2h-5v-1h-8v2h-7v-1h-10v-1h-13v2h-7v-1h-3v1h-20v1h-12v-2h-8v1h-12v-1h-15v-1h-8v1h-5v1h-7v-2h-8v1h-7v-1h-3v2h-12v-1h-13v1h-7v-1h-3v2h-7v-1h-3v1h-7v-2h-28v2h-7v-1h-10v-1h-10v-1h-3v2h-5v3h-7v-2h-5v-2h-8v2h-7v-2h-13v1h-7v-2h-3v2h-7v-1h-10v-1h-8v1h-5v1h-7v-2h-8v2h-7v-1h-15v-2h-8v3h-7v-1h-5v-1h-3v1h-17v-1h-5v-1h-3v2h-10v1h-12v-1h-18v3h-7v-3h-8v1h-7v-1h-3v2h-7v-1h-5v-1h-5v-2h-3v2h-15v3h-7v-3h-5v-1h-3v1h-5v1h-7v-2h-3v1h-5v1h-7v-3h-3v1h-5v2h-7v-1h-18v1h-5v2h-12v-2h-5v-1h-3v1h-7v-2h-8v1h-5v2h-7v-1h-5v-1h-5v-1h-8v5h-7v-4h-13v1h-7v-1h-8v1h-12v-1h-3v1h-10v1h-7v-3h-13v1h-5v1h-12v-2h-3v1h-7v-1h-3v1h-5v2h-7v-3h-3v2h-7v-2h-3v1h-10v1h-7v-1h-10v-1h-3v1h-5v1h-7v-2h-8v3h-7v-1h-5v-1h-3v1h-5v2h-7v-3h-15v-1h-8v1h-5v1h-5v1h-12v-2h-13v1h-5v1h-7v-3h-3v1h-20v3h-7v-1h-5v-2h-10v-1h-3v1h-7v-1h-8v2h-5v1h-12v-2h-15v-1h-18v2h-7v-1h-8v2h-7v-1h-5v-2h-3v2h-5v2h-7v-2h-3v2h-7v-2h-3v2h-7v-2h-5v-1h-8v7h-7v-6h-5v-1h-8v1h-12v-1h-13v2h-7v-1h-10v-1h-5v-1h-3v1h-5v1h-7v-2h-3v1h-5v1h-7v-1h-20v-3h-3v3h-5v1h-7v-2h-8v1h-15v1h-7v-3h-3v2h-17v-1h-5v-1h-3v3h-12v-1h-3v1h-7v-1h-3v2h-22v-2h-3v1h-7v-1h-5v-1h-3v2h-7v-1h-3v1h-12v-1h-3v1h-7v-2h-8v1h-10v1h-7v-1h-8v2h-7v-2h-15v-1h-3v1h-5v1h-7v-2h-3v1h-7v-1h-3v1h-7v-1h-3v2h-7v-1h-15v-1h-28v1h-10v1h-7v-1h-5v-1h-3v1h-5v1h-7v-1h-3v2h-7v-2h-5v-1h-8v1h-7v-1h-5v-1h-3v3h-7v-1h-3v1h-7v-1h-3v2h-7v-1h-5v-1h-10v-1h-8v1h-12v-2h-3v2h-5v1h-7v-2h-8v3h-7v-2h-10v-1h-3v1h-7v-1h-3v3h-7v-1h-5v-2h-3v1h-12v-1h-3v1h-6Z"/>
<path fill="#ff0000" d="M1152 794h6v1h8v-2h7v2h3v-2h5v-1h7v2h5v1h3v-1h5v-1h12v1h3v-3h7v2h5v1h3v-4h7v1h10v1h3v-1h7v1h5v1h3v-1h5v-2h7v2h3v-3h12v3h3v-2h7v1h3v-1h7v2h3v-1h5v-2h7v4h15v1h8v-1h7v1h5v1h8v-1h10v-1h5v-1h7v2h8v-1h7v1h3v-1h7v1h3v-2h7v2h18v-1h10v-1h7v1h5v1h5v1h3v-2h7v1h3v-1h5v-1h7v3h5v1h3v-1h5v-2h7v1h8v-1h5v-2h7v3h3v-2h17v2h3v-1h7v1h5v1h3v-1h7v2h3v-1h10v-1h7v1h3v-3h7v2h3v-1h7v1h5v1h3v-2h10v-2h7v3h15v1h3v-1h5v-1h7v1h5v1h3v-1h12v1h3v-3h7v2h3v-2h7v2h13v-2h7v3h3v-2h17v1h13v-1h7v1h5v1h8v-1h15v-1h7v1h5v1h18v-1h22v1h13v-2h5v-1h7v2h5v1h3v-1h5v-1h7v2h3v-2h7v1h15v1h3v-1h5v-1h17v1h15v1h3v-1h7v1h3v-1h5v-1h7v1h13v-1h7v1h5v1h3v-2h7v1h3v-1h5v-1h7v1h15v1h5v1h3v-2h5v-1h7v2h5v1h3v-1h7v1h8v-1h5v-2h7v1h5v1h3v-1h17v2h8v-1h7v1h3v-1h12v1h3v-3h7v1h5v2h3v-1h22v1h8v-2h12v1h5v2h3v-1h5v-2h7v1h10v2h3v-2h7v1h3v-2h7v1h8v-3h7v3h13v-1h15v-2h7v4h3v-2h7v1h3v-1h7v1h8v-1h7v1h3v-1h5v-2h7v5h3v-2h5v-1h7v1h8v-1h7v1h13v-1h12v1h13v-3h7v2h5v1h5v1h8v-1h12v1h8v-1h5v-2h7v2h3v-2h7v2h3v-2h7v2h3v-1h12v1h13v-2h7v2h3v-2h12v1h20v2h8v-3h12v1h10v1h10v1h3v-1h7v1h8v-3h7v2h5v1h3v-3h12v2h13v-2h12v3h3v-1h7v1h3v-1h17v1h3v-1h25v-2h7v1h5v1h3v-2h7v3h8v-1h10v-1h7v1h8v-1h7v1h8v-1h7v1h23v-3h7v2h10v1h3v-1h7v1h5v1h3v-2h7v1h3v-2h5v-1h7v2h5v1h8v-1h7v1h3v-1h25v-1h7v2h8v-2h12v2h3v-1h22v2h8v-1h22v1h3v-2h5v-1h7v3h3v-2h12v2h3v-2h10v-2h7v2h5v1h3v-1h12v1h3v-2h12v3h3v-1h7v1h3v-1h10v-2h7v2h3v-1h5v-1h7v1h3v-1h7v1h5v1h3v-1h12v1h3v-1h7v1h8v-2h7v3h3v-2h7v1h3v-1h7v2h5v1h3v-2h15v-1h7v1h3v-1h5v-1h7v1h5v2h3v-2h17v1h10v2h3v-3h27v1h10v1h3v-2h7v1h23v-1h10v-1h7v1h5v2h8v-1h5v-1h12v1h5v1h3v-2h12v1h5v2h3v-3h5v-1h7v3h13v-1h7v2h3v-4h7v1h5v1h3v-1h7v2h3v-1h7v1h3v-1h25v-3h12v2h3v-1h10v-1h7v1h10v1h10v1h13v-1h12v1h5v1h3v-2h5v-1h7v2h3v-1h7v1h15v1h3v-1h5v-1h25v-1h7v2h20v1h3v-1h5v-1h7v1h5v2h3v-3h10v-1h7v1h15v1h3v-2h5v-1h7v3h3v-1h7v1h3v-1h7v4h3v-1h5v-2h5v-1h7v2h3v-1h5v-1h7v2h3v-1h7v1h3v-2h7v1h3v-1h7v1h23v-1h7v1h20v1h18v-1h7v1h8v-1h10v-2h7v2h18v-1h12v2h3v-1h27v1h3v-1h22v1h8v-2h7v1h5v2h3v-2h10v-1h12v2h3v-1h25v-1h7v1h5v1h3v-2h7v1h5v1h3v-3h5v-1h7v4h3v-3h7v2h3v-1h5v-1h7v3h23v-2h12v1h8v-2h7v2h5v1h3v-1h5v-1h10v-2h7v2h5v1h5v1h3v-1h12v1h3v-3h12v3h3v-2h5v-1h7v1h5v2h3v-2h27v1h8v-1h5v-1h7v3h3v-1h5v-1h7v1h5v1h3v-1h5v-1h7v1h10v1h3v-3h7v1h10v1h5v1h3v-1h10v-1h7v1h5v1h8v-2h12v3h3v-2h7v1h3v-1h10v-1h15v-1h7v1h5v1h8v-2h7v1h3v-1h7v1h3v-1h7v3h3v-1h5v-1h7v1h10v1h8v-4h7v3h8v-1h7v1h8v-2h7v1h13v-1h7v1h3v-1h7v2h5v1h3v-1h7v2h3v-2h5v-2h7v2h3v-1h5v-4h7v1h5v2h5v2h3v-1h7v1h8v-1h12v1h8v-1h12v2h8v-3h7v3h8v-1h10v-1h7v1h3v-1h7v1h5v1h3v-1h5v-3h7v2h8v-2h7v3h8v-1h7v1h8v-1h7v2h3v-3h7v3h5v2h3v-4h7v1h3v-2h12v3h3v-3h7v3h3v-1h10v-1h17v2h3v-1h5v-1h12v1h8v-1h7v2h3v-2h7v2h8v-2h5v-1h7v4h3v-2h17v1h3v-3h12v2h5v1h8v-2h7v1h8v-1h5v-1h7v1h10v1h3v-1h12v1h8v-1h5v-1h7v1h5v1h3v-1h17v1h5v1h3v-3h7v1h5v1h5v1h18v-2h20v-1h7v2h3v-1h12v3h3v-3h12v2h3v-4h7v1h5v2h13v-1h5v-2h7v3h8v-2h7v1h5v1h3v-1h7v1h8v-1h7v1h3v-1h7v2h8v-1h10v-1h7v2h3v-1h10v-2h7v2h3v-1h7v1h8v-1h5v-1h7v2h5v1h3v-2h12v1h8v-1h12v2h3v-2h7v1h23v-2h7v1h5v1h3v-1h5v-1h12v1h5v1h3v-2h12v1h15v1h10v1h3v-2h12v2h8v-1h15v-1h7v2h3v-1h7v1h8v-1h5v-1h7v1h3v-1h5v-1h7v2h8v-2h7v1h5v2h3v-2h12v2h3v-1h5v-1h5v-1h7v1h5v2h3v-2h7v3h3v-2h7v1h3v-4h7v2h5v1h13v-1h12v1h20v1h3v-1h5v-1h5v-1h7v2h3v-1h7v1h3v-1h10v-2h7v3h8v-1h7v2h3v-4h7v2h3v-1h7v2h10v1h3v-1h7v1h3v-2h7v2h3v-1h5v-1h12v1h3v-2h7v1h3v-1h5v-2h7v5h3v-1h7v1h3v-1h7v1h3v-2h7v3h3v-2h5v-1h5v-2h7v2h5v1h3v-1h7v2h3v-1h10v-1h7v1h3v-3h7v2h5v1h3v-1h7v1h3v-1h7v1h3v-1h7v2h3v-3h7v1h10v1h8v-2h17v2h5v1h3v-1h15v-1h12v1h15v1h3v-1h5v-2h12v3h3v-2h7v1h3v-1h17v2h8v-2h7v1h3v-1h7v1h5v1h3v-2h5v-2h7v3h3v-1h12v2h3v-1h7v2h3v-3h7v1h13v-2h7v2h3v-1h7v1h3v-2h7v3h3v-1h5v-1h7v1h5v1h8v-1h15v-1h5v-3h7v2h5v2h3v-2h7v3h8v-1h7v1h13v-1h5v-1h7v1h10v1h3v-2h12v1h13v-1h7v2h3v-1h5v-1h7v1h3v-2h7v2h5v1h3v-1h5v-1h5v-1h7v1h15v2h18v-1h5v-1h12v1h5v1h3v-2h7v1h10v1h3v-2h7v1h5v1h5v1h3v-3h12v1h5v1h3v-4h7v1h5v1h10v2h3v-2h7v1h5v1h3v-1h5v-3h7v2h5v2h3v-3h7v1h5v1h3v-1h12v3h3v-2h7v1h18v-3h7v3h3v-1h12v1h3v-2h7v1h5v1h3v-1h10v-1h5v-1h7v1h10v1h8v-2h7v2h8v-1h7v1h3v-1h12v1h3v-1h7v1h5v1h8v-1h12v1h8v-2h7v1h3v-3h7v2h5v1h3v-1h7v1h15v1h5v1h3v-2h5v-1h7v2h3v-4h7v3h3v-1h7v2h3v-2h17v2h3v-1h7v1h8v-1h7v1h8v-1h7v1h3v-1h5v-1h5v-1h7v3h8v-2h7v1h13v-1h7v1h15v2h3v-2h5v-2h7v2h3v-2h7v1h5v2h3v-2h7v1h20v1h3v-1h5v-2h7v1h10v1h5v1h3v-3h12v2h3v-1h12v1h8v-1h7v1h3v-1h7v1h5v1h3v-1h17v1h3v-1h5v-1h7v1h3v-1h7v1h3v-1h7v1h5v1h8v-1h12v2h3v-2h10v-1h7v1h8v-1h7v1h3v-1h7v2h8v-3h10v-2h7v5h3v-1h20v-1h7v1h5v1h3v-2h7v2h3v-2h7v2h3v-1h12v1h3v-2h5v-1h7v1h5v2h3v-1h7v1h3v-2h7v2h3v-2h7v2h5v1h3v-2h5v-2h7v2h3v-2h7v3h3v-2h10v-1h7v2h3v-1h7v2h3v-2h7v1h13v-3h7v2h15v2h3v-3h5v-1h7v3h10v1h8v-4h7v1h5v1h5v1h8v-1h10v-1h7v2h5v2h3v-2h15v-1h5v-1h7v1h8v-1h7v1h5v2h3v-4h12v4h3v-2h7v1h3v-2h7v2h3v-1h10v-1h7v2h5v1h3v-1h20v-1h10v-1h7v1h3v-2h7v3h18v-1h20v-1h7v2h10v1h3v-1h20v-1h5v-2h7v3h5v1h3v-2h7v2h3v-1h5v-1h7v1h3v-1h7v2h3v-1h10v-1h17v1h3v-1h5v-1h7v2h3v-2h7v1h3v-1h7v3h3v-2h7v1h23v-1h12v1h3v-1h12v1h5v1h3v-1h5v-1h17v1h5v1h3v-3h7v2h3v-1h7v1h20v2h3v-3h7v1h3v-1h7v2h3v-2h5v-1h7v3h3v-1h5v-2h7v1h5v1h5v1h3v-3h7v2h3v-1h5v-1h10v-1h7v2h4V808h-9v1h-7v-2h-15v-1h-3v1h-5v3h-7v-3h-8v1h-7v-1h-8v2h-7v-1h-5v-2h-3v2h-37v-1h-8v1h-7v-1h-5v-1h-3v1h-15v1h-7v-1h-3v1h-17v-2h-3v1h-5v1h-12v-1h-3v1h-12v-1h-3v1h-7v-1h-3v2h-7v-3h-8v3h-7v-2h-8v1h-12v-1h-5v-1h-3v1h-5v1h-12v-1h-3v1h-15v1h-7v-1h-5v-2h-3v1h-5v2h-7v-2h-5v-1h-8v1h-5v3h-7v-1h-10v-3h-3v1h-5v1h-7v-2h-3v1h-5v2h-12v-1h-5v-2h-3v4h-7v-4h-3v1h-7v-1h-3v4h-7v-1h-5v-2h-10v-1h-23v2h-7v-1h-10v-1h-3v1h-10v1h-7v-2h-3v1h-5v2h-7v-1h-20v-1h-8v1h-12v-1h-10v-1h-5v-1h-3v1h-5v2h-7v-1h-3v2h-7v-1h-5v-1h-5v-1h-3v2h-5v1h-7v-2h-3v2h-10v1h-7v-1h-3v1h-7v-3h-5v-1h-3v1h-5v1h-12v-2h-3v2h-7v-2h-3v2h-5v3h-7v-4h-5v-1h-3v3h-7v-1h-10v-1h-5v-1h-3v3h-12v-1h-3v1h-12v-2h-8v1h-12v-1h-3v2h-7v-1h-3v1h-7v-3h-8v1h-5v1h-12v-2h-3v2h-7v-2h-3v3h-7v-2h-10v-1h-3v1h-12v-1h-8v1h-5v3h-7v-3h-8v2h-7v-1h-15v-2h-8v3h-7v-1h-15v-1h-5v-2h-3v1h-5v1h-5v1h-7v-2h-3v2h-7v-1h-8v1h-12v-1h-3v1h-12v-1h-23v2h-7v-3h-3v1h-7v-1h-3v1h-7v-1h-3v2h-5v1h-7v-2h-5v-1h-3v1h-10v1h-15v1h-7v-2h-10v-1h-3v1h-12v-1h-3v2h-7v-1h-8v2h-7v-2h-5v-1h-3v1h-5v1h-5v1h-7v-1h-5v-1h-3v1h-12v-1h-5v-1h-3v2h-27v-1h-8v1h-7v-1h-3v1h-7v-1h-10v-1h-3v1h-10v1h-7v-1h-15v-1h-3v4h-7v-2h-15v-2h-8v1h-10v1h-7v-1h-8v1h-5v1h-7v-1h-10v-1h-3v1h-7v-2h-3v2h-7v-1h-10v-1h-3v1h-5v1h-5v1h-7v-1h-5v-1h-3v2h-7v-1h-15v-1h-3v1h-5v1h-5v1h-12v-1h-5v-2h-8v2h-12v-3h-3v2h-7v-1h-3v1h-7v-1h-8v2h-12v-2h-5v-1h-3v4h-7v-2h-10v-1h-3v1h-7v-2h-8v3h-7v-1h-5v-1h-3v1h-12v-1h-5v-1h-3v1h-5v3h-7v-4h-3v1h-5v1h-5v2h-12v-1h-5v-1h-5v-2h-3v4h-7v-3h-8v1h-7v-2h-3v2h-7v-1h-3v1h-7v-1h-8v1h-17v-1h-3v3h-7v-1h-20v-1h-10v-2h-3v1h-10v1h-22v-1h-8v1h-7v-2h-8v3h-7v-1h-5v-1h-3v4h-7v-1h-5v-1h-15v-3h-3v2h-7v-2h-3v2h-7v-2h-3v1h-10v1h-15v1h-7v-1h-10v-1h-3v1h-7v-1h-5v-1h-3v2h-7v-1h-10v-1h-3v3h-7v-2h-3v2h-7v-2h-3v1h-7v-1h-20v-1h-8v2h-10v1h-7v-2h-8v1h-7v-2h-3v1h-17v-2h-3v1h-15v3h-7v-2h-3v3h-7v-4h-3v2h-12v-1h-10v-1h-3v1h-10v1h-12v-1h-5v-1h-3v1h-5v2h-7v-2h-5v-1h-13v4h-7v-3h-20v-1h-3v2h-7v-2h-3v1h-7v-1h-8v2h-12v-1h-3v1h-5v2h-7v-2h-18v1h-7v-1h-5v-1h-3v2h-7v-2h-10v-1h-3v2h-7v-1h-5v-2h-3v1h-5v1h-5v1h-7v-2h-3v1h-5v5h-7v-4h-3v1h-7v-2h-8v1h-5v1h-7v-1h-5v-2h-3v1h-12v-2h-3v2h-5v1h-12v-3h-3v2h-5v2h-7v-2h-18v3h-7v-2h-25v-2h-3v2h-7v-1h-15v-1h-3v1h-10v1h-5v1h-7v-1h-10v-1h-3v1h-12v-2h-3v5h-7v-3h-3v2h-7v-2h-5v-1h-5v-1h-3v1h-7v-1h-3v1h-5v1h-7v-1h-13v1h-7v-2h-3v3h-7v-1h-5v-1h-13v1h-5v2h-7v-3h-5v-1h-3v1h-12v-1h-3v1h-5v1h-5v1h-7v-2h-3v1h-7v-1h-3v1h-7v-2h-8v1h-10v1h-5v2h-7v-2h-5v-1h-3v1h-5v2h-7v-3h-3v1h-7v-1h-8v1h-12v-1h-13v1h-12v-2h-8v1h-7v-1h-3v1h-10v1h-5v1h-12v-2h-3v1h-7v-2h-3v1h-15v1h-12v-2h-8v1h-7v-1h-8v2h-5v1h-7v-1h-3v1h-7v-2h-5v-1h-3v1h-5v2h-7v-2h-15v-1h-3v4h-7v-2h-10v-1h-3v1h-7v-1h-5v-1h-3v1h-5v3h-7v-3h-5v-1h-13v2h-12v-1h-10v-2h-3v1h-10v2h-12v-1h-3v1h-12v-1h-5v-1h-3v1h-10v1h-7v-1h-13v1h-7v-1h-3v1h-10v1h-12v-2h-8v1h-7v-1h-3v2h-7v-2h-20v-1h-3v1h-12v-1h-3v2h-17v-1h-3v1h-7v-1h-10v-1h-3v3h-7v-2h-15v-2h-3v1h-5v1h-5v2h-7v-1h-15v-1h-3v1h-12v-1h-3v1h-7v-1h-20v-1h-3v2h-5v1h-7v-1h-10v-2h-8v2h-7v-1h-5v-2h-3v2h-5v2h-7v-1h-3v1h-7v-1h-5v-1h-23v3h-7v-3h-5v-1h-3v1h-5v2h-7v-2h-5v-1h-3v2h-12v-2h-3v3h-7v-3h-23v1h-5v1h-5v1h-7v-1h-5v-1h-15v-2h-3v2h-17v-1h-3v2h-12v-2h-3v1h-5v3h-7v-1h-5v-2h-3v1h-10v1h-7v-2h-5v-1h-3v2h-12v-1h-5v-1h-8v2h-7v-2h-3v3h-7v-3h-3v1h-5v3h-7v-2h-10v-2h-3v1h-20v1h-5v1h-7v-1h-3v1h-7v-1h-20v-1h-10v-1h-3v1h-7v-1h-3v3h-7v-2h-3v2h-7v-3h-3v3h-7v-3h-3v3h-7v-1h-5v-1h-5v-1h-3v2h-7v-1h-3v4h-7v-3h-5v-1h-28v1h-22v-1h-5v-1h-3v1h-5v2h-7v-1h-5v-1h-10v-1h-3v1h-12v-1h-8v3h-7v-1h-3v1h-7v-2h-8v2h-7v-1h-5v-3h-3v1h-5v2h-17v-1h-15v-1h-3v1h-10v2h-7v-1h-5v-2h-3v2h-12v-1h-13v2h-7v-3h-3v2h-7v-1h-10v-1h-3v1h-7v-1h-3v1h-5v2h-5v1h-7v-3h-23v3h-7v-2h-3v3h-7v-3h-15v-2h-3v1h-15v2h-7v-2h-3v2h-7v-1h-5v-1h-3v1h-7v-3h-3v2h-10v1h-7v-2h-3v3h-7v-1h-5v-1h-8v1h-12v-2h-3v2h-7v-1h-13v1h-5v2h-7v-1h-5v-1h-3v1h-7v-2h-5v-1h-3v2h-32v-1h-3v1h-10v2h-7v-2h-5v-1h-5v-1h-8v1h-10v3h-7v-1h-5v-1h-5v-1h-3v1h-7v-2h-3v1h-5v1h-7v-1h-3v1h-7v-3h-3v3h-7v-1h-8v2h-7v-2h-10v-1h-8v1h-7v-2h-3v2h-10v2h-7v-3h-8v1h-5v3h-7v-1h-5v-3h-3v2h-12v-1h-3v1h-7v-1h-5v-1h-3v3h-7v-1h-5v-1h-3v2h-7v-2h-5v-1h-3v2h-7v-2h-13v1h-7v-1h-3v2h-7v-2h-3v3h-12v-2h-3v2h-7v-2h-5v-1h-3v1h-5v1h-7v-1h-5v-1h-8v2h-12v-2h-3v1h-12v-1h-3v1h-5v1h-12v-2h-3v1h-5v1h-5v1h-7v-1h-5v-1h-15v-1h-3v1h-15v1h-12v-1h-3v1h-7v-1h-3v2h-7v-2h-3v1h-17v-1h-3v1h-7v-2h-3v2h-7v-1h-3v1h-27v-1h-3v1h-12v-1h-8v2h-7v-2h-3v1h-5v1h-7v-3h-3v3h-7v-1h-5v-1h-13v1h-12v-1h-3v1h-7v-1h-13v1h-22v-1h-20v-1h-8v1h-5v2h-12v-1h-5v-1h-30v-1h-5v-1h-3v1h-7v-1h-3v3h-7v-2h-3v1h-5v1h-5v1h-7v-3h-3v1h-12v-2h-3v2h-5v3h-7v-3h-8v1h-12v-1h-8v1h-7v-3h-3v3h-12v-2h-3v1h-5v1h-7v-1h-5v-1h-3v1h-5v1h-12v-1h-5v-1h-3v1h-10v1h-7v-1h-3v3h-7v-2h-3v1h-7v-2h-20v-1h-8v2h-7v-2h-8v1h-5v2h-7v-1h-5v-3h-3v1h-5v2h-7v-1h-3v3h-7v-3h-3v2h-7v-1h-3v1h-7v-1h-5v-2h-8v1h-7v-1h-3v1h-5v1h-7v-1h-8v3h-7v-2h-5v-2h-13v2h-12v-2h-3v2h-7v-2h-3v2h-7v-2h-3v2h-12v-1h-3v1h-10v1h-7v-3h-3v1h-5v2h-7v-1h-15v-1h-5v-1h-5v-1h-3v1h-5v1h-5v3h-7v-3h-5v-1h-3v3h-7v-2h-3v2h-7v-1h-5v-1h-8v1h-5v1h-7v-2h-8v1h-7v-1h-3v1h-5v1h-7v-3h-3v1h-15v1h-7v-1h-3v1h-12v-1h-8v1h-7v-1h-5v-1h-3v1h-5v1h-7v-2h-3v1h-5v2h-7v-2h-5v-1h-3v3h-12v-2h-3v2h-7v-2h-3v1h-20v1h-7v-3h-13v2h-7v-1h-3v2h-7v-2h-10v-1h-3v1h-15v1h-7v-2h-3v3h-7v-3h-3v2h-7v-1h-18v1h-12v-1h-5v-1h-3v2h-5v2h-7v-3h-5v-1h-3v1h-5v2h-7v-1h-13v3h-7v-5h-3v2h-7v-1h-5v-1h-3v2h-12v-1h-3v1h-17v-1h-13v1h-5v1h-17v-1h-3v2h-7v-2h-15v-2h-10v-1h-3v5h-7v-3h-5v-1h-3v1h-12v-1h-8v1h-17v-1h-3v2h-7v-1h-5v-1h-3v1h-7v-1h-3v2h-7v-1h-13v1h-7v-1h-13v1h-22v-1h-15v-1h-3v1h-7v-1h-3v4h-7v-2h-5v-1h-18v2h-7v-3h-3v2h-7v-2h-3v2h-5v1h-12v-1h-3v1h-7v-2h-15v-1h-3v1h-5v1h-5v2h-7v-2h-5v-1h-33v2h-12v-1h-10v-1h-8v1h-7v-2h-3v2h-5v1h-7v-2h-3v1h-7v-1h-13v2h-7v-1h-5v-2h-3v1h-5v1h-7v-1h-3v1h-10v1h-7v-2h-3v1h-7v-1h-8v1h-7v-1h-13v2h-7v-2h-5v-2h-3v2h-5v1h-17v-2h-3v3h-7v-1h-3v1h-7v-1h-5v-1h-8v1h-5v1h-7v-1h-5v-1h-5v-1h-13v2h-17v-1h-8v1h-5v1h-7v-2h-3v1h-7v-1h-13v1h-5v1h-7v-3h-3v1h-37v-1h-3v2h-12v-1h-8v1h-5v1h-7v-2h-3v2h-5v3h-7v-3h-5v-1h-3v2h-7v-2h-3v2h-7v-2h-3v1h-7v-2h-3v2h-5v2h-17v-2h-3v2h-7v-1h-3v2h-7v-3h-5v-1h-3v2h-7v-4h-3v1h-10v1h-7v-2h-3v2h-10v1h-12v-2h-3v1h-7v-1h-8v1h-6Z"/>
<path fill="#0000ff" d="M1152 864h4v-1h5v-2h7v1h5v1h3v-1h7v1h3v-3h7v3h5v1h3v-2h7v1h5v2h3v-2h7v1h3v-2h5v-1h7v2h3v-2h5v-1h7v1h5v1h5v1h33v-1h7v1h3v-1h12v1h3v-1h5v-1h12v1h5v1h3v-1h5v-2h7v2h10v1h3v-1h7v1h3v-1h7v1h3v-1h7v2h3v-4h7v1h5v1h5v1h18v-2h5v-1h7v3h3v-2h7v2h3v-4h7v4h5v2h8v-2h5v-3h7v2h5v2h3v-2h7v1h3v-1h7v1h3v-2h7v2h3v-2h7v2h3v-2h7v1h10v1h5v1h8v-2h7v2h5v1h3v-1h5v-1h5v-1h5v-2h7v4h3v-1h5v-1h5v-1h7v3h3v-1h12v1h3v-1h10v-1h7v1h10v2h3v-2h5v-1h7v1h3v-1h10v-1h7v3h3v-1h10v-1h22v1h5v1h3v-3h7v1h5v2h3v-1h5v-1h7v1h5v1h8v-1h5v-2h7v1h3v-1h7v1h3v-1h7v2h13v-1h7v1h13v-1h7v2h3v-1h7v1h3v-1h7v1h18v-2h5v-2h7v1h5v1h10v1h3v-1h7v1h10v1h3v-1h5v-2h7v3h8v-1h5v-2h7v3h3v-1h10v-1h7v1h15v1h3v-1h5v-1h7v1h13v-2h7v1h3v-1h7v2h5v1h3v-1h20v-2h22v2h3v-1h7v2h8v-2h7v1h3v-1h7v1h3v-1h7v1h3v-1h7v1h8v-2h7v2h5v1h3v-2h7v1h5v1h3v-1h7v1h8v-1h7v1h3v-3h7v3h3v-2h7v2h3v-2h10v-1h7v1h8v-1h12v1h3v-1h5v-1h7v3h5v1h8v-2h15v-2h7v2h3v-2h7v3h5v1h3v-2h7v1h13v-3h7v1h5v2h3v-1h7v1h3v-1h12v1h3v-1h7v1h8v-1h7v3h3v-1h5v-2h7v2h3v-2h12v1h5v1h3v-1h10v-3h7v2h5v1h3v-2h7v2h5v1h3v-3h7v2h5v1h3v-1h10v-1h5v-2h7v2h5v1h8v-3h7v3h8v-2h12v4h3v-1h5v-3h7v1h5v2h3v-2h12v1h8v-1h7v1h8v-1h22v1h3v-1h7v2h3v-1h10v-1h7v1h3v-2h7v1h5v1h3v-2h12v2h3v-2h7v1h5v1h3v-1h17v1h8v-1h5v-1h5v-1h7v4h3v-1h5v-2h7v1h3v-1h7v1h10v1h3v-1h5v-2h7v2h3v-1h7v1h5v1h3v-2h12v2h8v-2h7v3h3v-1h5v-1h5v-1h7v1h10v1h3v-3h7v1h5v2h5v1h3v-3h7v1h5v1h5v1h3v-1h7v1h3v-3h7v2h18v-1h7v1h23v-5h7v2h5v2h13v-2h7v3h25v1h3v-2h7v1h3v-2h7v1h3v-1h7v1h3v-1h7v1h15v2h3v-1h7v1h3v-1h5v-1h5v-1h7v2h3v-1h7v1h10v1h3v-2h7v2h3v-5h7v3h10v1h3v-1h5v-3h7v4h13v-2h7v1h5v2h3v-1h5v-1h12v1h13v-1h7v2h3v-1h5v-1h7v1h8v-1h5v-1h7v2h5v1h3v-1h5v-1h7v1h8v-2h7v1h5v3h3v-3h7v1h5v1h3v-1h5v-2h7v2h3v-1h7v1h3v-1h7v1h3v-2h12v2h3v-1h10v-1h5v-1h7v1h5v2h3v-3h7v3h5v2h3v-2h15v-1h12v1h20v1h3v-1h5v-1h12v1h3v-1h10v-1h7v3h3v-2h5v-1h7v2h8v-1h22v1h10v1h3v-1h5v-1h7v1h3v-1h7v3h3v-2h7v1h13v-1h22v1h3v-1h5v-1h17v1h8v-1h12v1h5v1h3v-2h5v-1h7v2h8v-2h7v2h8v-2h12v1h3v-1h7v2h3v-1h12v1h5v1h3v-2h7v1h3v-2h7v1h3v-1h12v2h3v-2h7v1h3v-2h7v3h15v1h3v-2h5v-1h7v2h5v1h3v-4h7v2h5v1h8v-2h7v1h8v-1h7v2h5v1h3v-1h12v2h3v-3h7v1h8v-1h7v1h15v2h8v-3h12v1h8v-1h10v-1h7v1h5v1h8v-3h7v3h3v-1h7v2h3v-2h7v1h3v-3h7v3h3v-1h12v2h3v-1h7v1h8v-1h7v1h10v1h3v-2h7v1h3v-1h5v-1h12v1h15v1h5v1h3v-2h17v2h3v-2h5v-1h7v1h3v-1h7v2h3v-1h7v1h3v-1h5v-1h5v-1h12v1h13v-1h7v2h5v1h3v-2h7v1h8v-1h7v1h8v-3h7v2h5v1h5v1h8v-1h5v-1h7v1h5v1h3v-1h5v-1h7v1h3v-1h5v-1h12v3h3v-4h12v5h3v-4h7v3h13v-1h5v-1h12v1h8v-1h5v-3h7v4h10v1h3v-2h12v1h10v1h3v-2h12v1h3v-3h7v1h5v2h8v-1h7v1h13v-1h7v1h3v-1h7v1h18v-1h7v2h3v-2h17v2h3v-5h7v5h3v-1h20v-1h7v1h3v-1h7v1h5v1h3v-2h7v1h3v-1h5v-1h7v1h10v2h3v-2h12v2h3v-1h10v-1h7v1h5v1h8v-2h12v1h3v-1h12v1h10v1h3v-1h12v1h3v-1h7v1h3v-1h5v-1h12v1h3v-2h7v2h3v-1h7v1h13v-3h7v1h5v1h5v1h3v-1h12v2h3v-1h12v1h3v-3h7v1h10v1h5v1h3v-1h5v-1h7v1h8v-1h5v-1h7v2h8v-1h5v-3h7v3h5v2h3v-3h12v3h8v-2h17v1h10v1h8v-2h12v1h3v-2h7v2h3v-1h10v-2h12v2h5v1h10v2h3v-1h5v-1h5v-1h7v1h3v-1h7v1h5v1h3v-1h7v1h3v-2h7v1h13v-1h12v1h8v-1h12v1h3v-1h12v1h3v-2h10v-1h7v1h5v1h3v-1h7v2h3v-1h7v1h3v-1h7v1h10v1h3v-2h5v-1h7v4h3v-2h5v-1h7v2h3v-2h7v1h3v-3h7v3h3v-1h15v-1h12v2h8v-1h12v1h10v1h3v-1h5v-1h7v1h3v-1h5v-1h12v1h13v-1h7v3h3v-3h7v2h8v-1h5v-2h7v4h3v-3h7v2h8v-1h7v1h3v-1h12v1h5v1h3v-1h5v-1h17v1h8v-1h5v-1h12v1h3v-1h7v1h3v-2h7v3h10v1h3v-2h12v1h18v-2h7v1h5v3h3v-3h22v3h3v-2h5v-1h12v1h5v1h3v-1h15v-1h5v-1h7v1h5v1h5v1h3v-2h12v1h3v-1h7v1h5v1h3v-3h7v2h8v-1h7v1h5v1h23v-1h10v-1h12v2h3v-2h7v1h5v1h3v-1h10v-2h12v2h3v-3h7v1h5v1h5v1h3v-1h7v2h3v-2h10v-1h7v1h10v2h3v-1h5v-2h7v1h5v2h3v-1h10v-3h7v2h5v1h3v-1h7v1h3v-2h7v2h13v-1h7v1h5v1h3v-1h10v-1h7v2h3v-1h5v-1h7v2h3v-1h20v-1h7v1h5v1h3v-2h12v1h3v-2h12v1h3v-1h7v1h5v1h3v-1h5v-1h7v2h5v1h5v1h3v-2h5v-3h7v3h8v-2h7v1h3v-1h7v2h8v-1h7v2h3v-2h7v2h3v-1h10v-1h12v2h3v-1h5v-1h7v1h13v-1h7v2h3v-2h7v1h10v1h8v-3h12v1h5v2h3v-2h7v1h10v1h3v-1h7v1h3v-1h5v-2h7v2h3v-2h7v3h3v-1h15v-1h10v-1h7v1h10v2h8v-1h5v-1h7v1h8v-1h7v3h3v-3h7v1h18v-1h5v-1h7v1h5v1h3v-1h7v1h10v1h3v-3h12v2h3v-1h5v-2h7v2h5v1h3v-2h5v-1h7v3h3v-1h12v1h5v1h8v-2h7v2h3v-2h7v1h3v-2h12v1h8v-1h7v2h5v2h3v-3h7v1h8v-1h5v-1h7v1h5v1h5v1h3v-2h7v2h3v-1h7v1h3v-1h10v-1h5v-3h7v4h5v1h3v-1h7v1h3v-2h7v2h3v-1h5v-2h7v1h8v-1h7v3h8v-1h5v-2h5v-3h7v5h3v-1h12v1h5v1h3v-1h5v-2h7v2h3v-2h7v2h8v-2h7v1h5v1h20v1h3v-3h5v-2h7v2h5v2h3v-1h7v1h13v-1h7v1h3v-1h5v-1h7v2h3v-1h7v1h15v1h3v-1h7v1h3v-1h15v-1h10v-1h7v3h3v-3h7v3h3v-1h5v-1h7v1h3v-1h7v1h3v-1h7v1h10v1h3v-2h17v1h8v-1h7v1h5v1h3v-2h7v1h3v-1h17v1h3v-2h7v1h8v-1h7v1h20v1h3v-1h7v1h3v-1h7v1h3v-1h7v1h13v-1h10v-1h7v3h8v-1h5v-1h7v2h3v-1h5v-3h7v1h5v2h5v1h3v-1h12v1h3v-2h7v1h3v-1h7v1h5v1h3v-2h7v2h3v-3h7v1h5v1h8v-1h7v2h3v-1h5v-1h7v2h3v-5h7v3h18v-1h7v1h5v1h13v-2h12v1h3v-1h7v2h5v1h3v-1h5v-2h7v1h10v1h3v-2h10v-1h7v3h3v-1h7v1h3v-1h7v1h8v-3h7v3h10v1h3v-1h5v-1h7v1h3v-1h7v1h3v-1h5v-1h7v3h3v-1h7v1h5v1h3v-3h7v1h3v-3h7v3h10v1h8v-2h20v-3h7v4h13v-2h7v1h15v1h5v1h3v-2h17v1h13v-1h7v1h5v1h8v-2h7v2h3v-2h7v2h3v-1h5v-2h7v2h3v-1h7v2h3v-1h5v-1h7v1h5v1h5v1h3v-1h5v-2h7v2h3v-1h7v1h3v-1h10v-1h5v-2h7v3h8v-3h7v2h5v1h3v-1h7v2h3v-2h17v1h3v-1h20v-2h7v3h20v1h3v-1h7v2h3v-2h5v-1h7v1h3v-1h7v2h8v-1h25v-1h7v2h8v-2h7v1h5v1h3v-2h10v-1h7v2h3v-2h7v1h5v1h8v-1h7v1h5v1h8v-4h7v2h5v1h13v-1h5v-4h7v4h5v1h13v-1h7v1h3v-1h7v2h3v-1h5v-2h17v1h5v2h3v-2h17v1h8v-3h7v3h8v-1h7v1h8v-1h5v-2h7v1h5v1h3v-3h7v2h5v2h5v1h4V877h-11v-1h-5v-1h-3v1h-25v1h-7v-2h-8v3h-7v-2h-5v-1h-3v2h-12v-2h-3v3h-7v-1h-5v-2h-8v3h-7v-3h-5v-1h-3v1h-5v2h-5v1h-7v-1h-5v-2h-3v1h-17v-1h-8v2h-5v2h-7v-1h-5v-1h-5v-1h-3v2h-12v-2h-3v3h-7v-3h-3v1h-10v1h-7v-1h-5v-3h-3v1h-10v1h-7v-1h-3v1h-10v1h-7v-1h-3v1h-12v-1h-5v-1h-3v1h-10v1h-7v-1h-8v1h-12v-2h-3v1h-5v1h-7v-2h-3v2h-7v-1h-5v-1h-3v1h-5v1h-7v-1h-5v-1h-3v1h-10v1h-10v2h-7v-2h-5v-1h-8v1h-12v-1h-5v-1h-3v2h-7v-1h-3v1h-7v-2h-3v3h-12v-1h-5v-1h-3v3h-7v-4h-3v2h-15v1h-7v-1h-10v-2h-3v3h-7v-3h-3v4h-7v-3h-13v1h-17v-1h-3v1h-7v-1h-8v1h-7v-1h-13v2h-5v1h-7v-4h-3v1h-7v-1h-3v1h-10v1h-7v-1h-5v-1h-8v2h-7v-1h-3v1h-12v-1h-3v1h-7v-1h-10v-1h-3v3h-7v-1h-5v-1h-3v3h-7v-1h-5v-2h-3v1h-12v-1h-8v1h-7v-2h-3v4h-7v-2h-5v-1h-15v-1h-3v1h-10v1h-7v-1h-5v-1h-3v1h-7v-1h-3v2h-12v-2h-8v4h-7v-2h-5v-2h-3v1h-7v-1h-3v1h-25v1h-7v-1h-3v1h-7v-1h-5v-1h-8v2h-12v-1h-8v1h-7v-1h-10v-1h-8v1h-17v-1h-3v1h-10v1h-17v-1h-3v1h-7v-1h-10v-1h-3v1h-7v-1h-3v1h-15v1h-5v1h-7v-1h-10v-1h-3v1h-5v2h-7v-2h-5v-2h-3v1h-7v-1h-3v1h-7v-1h-3v1h-12v-1h-5v-1h-8v2h-10v2h-7v-2h-3v2h-7v-1h-5v-1h-8v2h-7v-1h-5v-2h-3v2h-12v-2h-3v1h-10v1h-7v-1h-8v1h-7v-1h-15v-1h-3v1h-7v-1h-3v1h-10v3h-7v-5h-8v1h-5v1h-7v-1h-3v1h-5v1h-7v-1h-5v-2h-3v3h-17v-2h-5v-1h-3v3h-7v-1h-13v1h-5v2h-7v-3h-3v2h-7v-1h-8v1h-7v-1h-3v1h-7v-2h-3v1h-7v-1h-3v1h-12v-1h-3v2h-7v-1h-5v-1h-5v-1h-3v1h-12v-1h-3v1h-12v-2h-3v1h-10v1h-5v2h-5v1h-7v-3h-3v1h-7v-2h-13v1h-7v-1h-3v2h-5v1h-7v-3h-3v2h-5v1h-12v-2h-3v2h-7v-2h-3v2h-10v1h-7v-1h-5v-1h-10v-1h-3v1h-7v-2h-3v2h-22v-1h-13v1h-7v-2h-13v1h-5v1h-12v-1h-3v2h-7v-2h-5v-1h-3v1h-17v-1h-8v1h-22v-1h-3v2h-7v-2h-8v1h-5v1h-7v-1h-5v-1h-3v2h-17v-1h-3v1h-7v-1h-8v1h-12v-1h-18v1h-12v-1h-5v-1h-3v1h-5v1h-7v-1h-13v1h-7v-1h-3v1h-12v-1h-8v1h-7v-2h-3v2h-7v-2h-3v1h-5v1h-5v1h-7v-2h-5v-1h-10v-1h-3v2h-5v2h-7v-2h-13v1h-12v-1h-10v-1h-8v2h-7v-1h-5v-1h-3v1h-5v1h-12v-1h-3v2h-12v-1h-5v-1h-5v-1h-3v1h-10v1h-7v-1h-5v-1h-5v-1h-3v4h-7v-3h-3v1h-10v2h-7v-2h-5v-1h-3v3h-7v-2h-5v-1h-3v3h-7v-1h-5v-2h-3v1h-10v1h-12v-1h-10v-1h-3v1h-10v1h-12v-1h-5v-1h-8v1h-15v1h-15v1h-7v-3h-8v1h-5v1h-5v1h-7v-3h-3v1h-17v-1h-8v2h-5v1h-7v-2h-5v-1h-8v2h-7v-1h-3v2h-12v-3h-8v2h-7v-2h-3v2h-7v-1h-5v-1h-3v2h-7v-1h-3v1h-7v-1h-3v2h-7v-3h-3v4h-7v-2h-3v1h-7v-1h-5v-1h-3v1h-5v1h-7v-3h-13v1h-10v1h-7v-1h-3v1h-7v-1h-10v-2h-3v3h-7v-1h-3v1h-12v-1h-15v-1h-3v1h-5v1h-7v-1h-18v1h-7v-1h-3v2h-7v-2h-3v1h-12v-2h-3v1h-7v-1h-3v1h-5v1h-12v-1h-5v-1h-3v1h-12v-1h-8v2h-7v-1h-8v1h-17v-1h-5v-1h-13v2h-7v-1h-5v-1h-3v2h-12v-2h-3v2h-5v1h-7v-1h-3v1h-7v-2h-3v1h-7v-1h-8v1h-5v1h-12v-1h-3v1h-7v-2h-15v-1h-3v6h-7v-5h-5v-1h-3v1h-7v-1h-3v2h-7v-1h-5v-1h-8v1h-7v-1h-3v1h-12v-1h-3v1h-17v-1h-3v1h-20v1h-7v-2h-3v1h-5v1h-7v-1h-3v1h-12v-1h-13v3h-7v-4h-10v-1h-3v1h-20v2h-5v1h-7v-3h-3v2h-5v2h-7v-3h-5v-1h-8v1h-12v-1h-3v1h-5v1h-12v-1h-8v1h-12v-1h-3v2h-5v2h-7v-5h-5v-1h-3v5h-7v-1h-5v-2h-15v-2h-3v1h-5v5h-7v-5h-3v2h-7v-1h-5v-1h-3v1h-5v1h-10v4h-7v-4h-5v-2h-3v1h-17v-1h-3v1h-7v-1h-3v2h-12v-3h-3v1h-10v3h-7v-3h-3v1h-5v1h-12v-1h-3v1h-5v3h-7v-2h-5v-1h-15v-1h-3v1h-5v1h-7v-1h-10v-1h-8v5h-7v-6h-3v1h-10v1h-7v-1h-3v1h-12v-4h-3v2h-10v1h-12v-1h-3v2h-7v-1h-3v1h-7v-1h-5v-1h-3v1h-5v1h-7v-1h-3v1h-10v1h-12v-3h-3v2h-5v1h-7v-1h-5v-1h-3v1h-12v-2h-3v1h-5v2h-7v-3h-8v1h-5v2h-7v-1h-3v1h-12v-2h-3v3h-7v-2h-5v-2h-8v1h-15v2h-7v-2h-8v1h-7v-1h-5v-1h-3v1h-5v1h-15v1h-7v-1h-5v-2h-18v2h-7v-1h-8v2h-7v-1h-5v-2h-3v1h-10v1h-7v-1h-5v-1h-3v2h-7v-1h-3v1h-10v1h-7v-1h-5v-2h-3v2h-12v-2h-3v1h-7v-1h-13v2h-7v-2h-3v1h-5v1h-5v1h-7v-2h-18v2h-7v-1h-5v-1h-20v-1h-3v3h-7v-1h-5v-2h-3v2h-7v-1h-3v1h-12v-2h-3v2h-12v-1h-8v1h-7v-2h-3v2h-7v-1h-3v1h-12v-2h-3v1h-5v1h-7v-2h-3v1h-7v-1h-3v2h-17v-1h-8v1h-20v2h-7v-1h-10v-1h-3v1h-7v-1h-5v-1h-5v-1h-8v2h-17v-1h-3v3h-7v-1h-5v-2h-3v2h-7v-1h-3v1h-12v-1h-10v-2h-8v1h-5v1h-10v1h-7v-1h-5v-1h-3v3h-7v-3h-5v-2h-3v2h-7v-1h-3v1h-5v1h-5v2h-7v-3h-8v1h-12v-2h-8v1h-5v1h-5v1h-7v-2h-8v1h-12v-1h-3v1h-12v-1h-5v-2h-3v3h-7v-1h-8v2h-7v-2h-15v-2h-3v4h-7v-2h-3v1h-7v-2h-3v1h-12v-1h-3v1h-5v3h-7v-2h-5v-1h-13v2h-7v-3h-3v2h-7v-2h-8v1h-12v-1h-3v3h-7v-2h-23v1h-7v-1h-8v1h-17v-1h-8v1h-7v-1h-10v-1h-13v1h-5v1h-7v-1h-3v1h-7v-2h-3v4h-7v-2h-3v1h-7v-1h-15v-1h-5v-1h-3v1h-15v1h-7v-1h-8v1h-5v1h-7v-3h-8v2h-7v-2h-3v1h-5v1h-7v-1h-5v-1h-3v1h-20v1h-22v-1h-5v-1h-3v1h-5v1h-7v-1h-13v1h-12v-1h-3v1h-7v-3h-3v2h-15v1h-12v-2h-3v1h-10v1h-12v-1h-13v4h-7v-4h-5v-1h-3v1h-5v2h-7v-2h-5v-1h-3v1h-5v1h-7v-1h-3v1h-17v-2h-3v2h-7v-1h-5v-1h-3v1h-20v1h-5v1h-7v-2h-3v1h-7v-2h-3v3h-7v-1h-5v-1h-8v1h-7v-2h-8v1h-12v-1h-3v1h-10v1h-12v-2h-3v1h-5v1h-7v-1h-8v1h-7v-2h-5v-1h-3v1h-10v2h-7v-2h-5v-1h-3v3h-7v-1h-3v1h-7v-1h-10v-1h-3v1h-15v2h-7v-3h-8v1h-5v1h-7v-1h-10v-2h-3v3h-7v-2h-3v2h-7v-3h-3v3h-7v-1h-13v1h-7v-1h-3v3h-7v-1h-5v-3h-10v-1h-3v2h-5v1h-12v-1h-3v1h-7v-1h-10v-1h-5v-1h-3v2h-10v1h-7v-3h-3v3h-5v1h-7v-1h-13v1h-7v-2h-5v-1h-3v1h-10v1h-7v-2h-3v1h-7v-2h-3v3h-5v1h-7v-2h-5v-2h-3v5h-7v-3h-3v1h-5v2h-12v-2h-3v1h-7v-1h-10v-2h-3v1h-10v1h-7v-2h-3v1h-7v-1h-3v1h-7v-1h-3v1h-7v-1h-8v1h-5v1h-7v-1h-5v-1h-3v1h-5v1h-7v-2h-8v1h-7v-1h-18v3h-7v-2h-8v1h-7v-1h-3v1h-7v-1h-10v-1h-3v3h-7v-1h-23v1h-7v-1h-5v-1h-10v-1h-3v1h-7v-1h-3v2h-7v-1h-5v-2h-3v3h-7v-1h-5v-1h-3v2h-5v1h-7v-2h-8v1h-7v-1h-3v1h-7v-1h-15v-2h-3v2h-10v1h-5v3h-7v-3h-5v-1h-5v-1h-3v1h-10v1h-12v-1h-5v-1h-3v1h-5v1h-7v-3h-3v1h-5v3h-12v-2h-5v-1h-8v1h-7v-1h-5v-1h-3v1h-5v2h-22v-1h-5v-1h-3v1h-7v-1h-8v1h-5v1h-7v-1h-3v3h-7v-3h-5v-1h-3v2h-7v-2h-3v2h-7v-1h-3v3h-7v-2h-5v-1h-5v-1h-3v1h-10v1h-7v-1h-10v-1h-3v1h-12v-1h-8v2h-7v-1h-5v-1h-8v1h-5v2h-7v-1h-8v1h-7v-2h-3v1h-7v-2h-3v1h-5v2h-7v-3h-5v-1h-3v2h-5v2h-7v-2h-15v-1h-3v2h-7v-1h-3v1h-5v1h-7v-2h-8v1h-7v-1h-3v1h-12v-1h-10v-1h-8v3h-7v-1h-10v-2h-3v2h-7v-1h-8v1h-7v-2h-3v2h-10v1h-7v-3h-3v1h-5v2h-12v-1h-10v-2h-3v1h-17v-1h-8v2h-12v-1h-5v-2h-3v1h-5v2h-7v-2h-8v4h-7v-4h-3v1h-10v2h-7v-2h-3v1h-7v-1h-3v1h-7v-2h-8v1h-7v-1h-3v1h-5v1h-7v-2h-3v1h-7v-1h-8v2h-7v-2h-3v2h-7v-1h-10v-1h-3v1h-12v-1h-3v1h-5v1h-7v-1h-18v2h-12v-2h-8v1h-7v-2h-3v2h-7v-2h-3v1h-5v1h-5v1h-7v-2h-3v1h-7v-2h-3v1h-10v1h-7v-1h-13v1h-12v-1h-5v-1h-3v1h-12v-1h-3v2h-5v1h-7v-1h-5v-1h-13v1h-5v1h-7v-1h-5v-1h-8v3h-7v-2h-5v-2h-18v1h-5v1h-12v-1h-3v1h-7v-1h-3v1h-17v-2h-3v2h-5v1h-7v-2h-8v1h-7v-1h-8v1h-7v-1h-5v-1h-8v1h-10v2h-7v-1h-5v-1h-13v1h-17v-1h-5v-1h-8v3h-7v-3h-13v2h-12v-2h-3v1h-5v1h-7v-1h-3v1h-7v-1h-3v2h-7v-1h-20v-2h-3v3h-5v1h-7v-3h-4Z"/>
<path fill="#008000" d="M1152 930h6v2h8v-2h7v3h3v-1h5v-2h22v1h5v2h8v-1h5v-1h7v1h15v1h3v-1h7v1h3v-1h5v-2h7v2h3v-1h7v2h5v1h3v-2h12v1h3v-1h5v-1h20v-1h7v1h10v1h8v-1h7v2h8v-3h7v2h5v1h5v1h3v-2h17v2h3v-3h7v1h18v-1h7v1h3v-2h7v4h3v-1h5v-1h7v2h3v-2h7v2h3v-3h5v-1h7v3h8v-2h7v1h5v2h3v-2h5v-2h7v3h8v-1h7v1h8v-1h7v1h3v-1h5v-4h7v5h8v-3h7v3h3v-1h10v-1h7v1h3v-1h7v1h8v-1h12v1h5v1h3v-1h7v1h5v1h3v-2h17v1h3v-1h7v2h3v-2h32v1h18v-2h7v2h3v-2h12v1h13v-1h7v1h3v-1h5v-1h7v3h3v-1h7v1h3v-1h10v-1h7v1h23v-1h7v1h3v-1h5v-1h7v1h15v1h5v1h3v-1h5v-1h7v2h3v-1h7v1h3v-2h7v2h5v1h3v-4h7v2h8v-1h12v2h3v-2h12v1h5v1h3v-1h7v1h10v1h3v-3h7v1h13v-2h7v2h5v1h3v-2h10v-1h7v1h10v1h5v1h3v-3h5v-1h7v3h3v-3h7v3h8v-2h7v3h3v-1h15v-1h7v2h5v1h3v-1h5v-1h5v-2h7v3h8v-2h12v3h3v-1h5v-1h20v-1h7v2h5v1h3v-6h7v3h10v1h8v-2h12v3h8v-1h5v-2h7v2h3v-1h7v1h3v-1h5v-2h7v4h13v-3h7v3h8v-1h17v1h3v-1h5v-1h5v-2h7v2h10v2h3v-1h7v1h3v-1h10v-1h5v-3h7v3h5v1h3v-1h15v-1h7v3h3v-1h7v1h3v-1h5v-1h12v3h3v-3h5v-1h7v1h5v1h5v1h3v-2h5v-1h7v2h10v1h8v-1h5v-1h7v2h13v-1h7v1h3v-3h7v2h3v-2h7v2h15v1h5v1h3v-1h5v-1h12v2h3v-2h5v-1h7v1h5v1h3v-1h10v-1h7v1h8v-1h7v1h5v1h3v-1h5v-1h7v1h3v-2h7v1h5v1h8v-2h7v1h5v1h8v-1h7v2h3v-4h7v2h5v1h10v1h3v-1h5v-2h7v3h5v1h3v-1h15v-3h7v3h8v-1h7v1h3v-2h22v2h3v-2h7v1h3v-2h7v1h5v2h3v-3h7v3h13v-1h7v1h3v-1h7v1h10v1h3v-3h5v-2h7v3h5v2h3v-2h7v1h3v-1h10v-1h7v2h8v-1h5v-1h7v2h8v-1h7v1h3v-2h7v1h5v1h3v-2h7v2h3v-1h7v1h3v-3h7v3h13v-2h12v1h3v-2h7v1h5v1h5v1h10v1h13v-3h7v2h3v-1h17v1h3v-1h22v2h8v-1h5v-1h5v-2h7v1h5v2h3v-2h7v1h13v-1h22v1h3v-2h7v3h3v-1h7v1h5v1h3v-2h5v-1h7v1h5v1h3v-1h7v1h3v-1h5v-1h12v2h13v-2h7v2h3v-3h7v2h10v1h3v-2h7v1h8v-1h7v2h8v-3h7v2h3v-1h7v1h3v-1h7v1h8v-1h7v1h3v-2h7v1h20v3h3v-2h7v1h5v1h3v-2h5v-1h7v1h5v1h8v-1h12v2h3v-2h5v-1h7v1h5v1h13v-1h5v-2h7v1h10v2h8v-1h5v-1h5v-1h7v1h5v1h8v-1h7v1h8v-1h7v1h5v1h3v-3h7v3h8v-2h7v1h3v-1h7v3h3v-3h10v-1h7v1h3v-1h12v1h5v1h10v2h3v-1h5v-1h7v2h3v-3h7v2h3v-1h5v-2h7v1h10v1h5v1h8v-3h7v3h3v-1h7v1h3v-3h7v1h5v1h20v1h3v-3h7v3h13v-1h12v1h3v-1h17v2h3v-2h5v-2h7v1h3v-1h7v2h5v1h3v-2h12v1h15v1h3v-1h12v1h13v-1h7v1h8v-2h12v2h3v-1h5v-1h12v2h3v-1h5v-1h5v-1h7v1h10v1h3v-1h12v1h3v-1h5v-1h7v1h5v1h5v1h3v-1h10v-1h7v1h3v-2h12v2h10v2h3v-1h5v-2h5v-1h7v2h5v1h15v1h3v-3h10v-2h7v4h3v-3h7v3h8v-1h7v1h3v-1h12v2h8v-2h5v-1h7v1h5v1h3v-1h5v-1h12v1h3v-2h7v1h8v-1h7v2h5v1h3v-1h5v-1h7v1h3v-1h7v1h3v-1h5v-1h7v1h5v2h3v-1h7v1h13v-1h5v-1h7v1h3v-1h7v1h3v-1h12v1h5v1h3v-3h7v2h3v-1h7v2h8v-2h5v-2h7v3h5v1h3v-1h7v2h3v-2h7v1h15v1h3v-2h20v-1h7v1h5v1h8v-1h27v1h3v-2h12v1h15v1h10v1h3v-1h5v-1h7v2h3v-1h5v-1h5v-1h7v1h8v-1h7v1h10v1h3v-2h17v1h3v-1h7v1h15v2h3v-1h5v-2h7v2h13v-1h5v-1h22v1h3v-1h25v-1h12v2h8v-2h7v4h3v-2h15v-1h7v1h3v-1h7v3h8v-2h10v-2h7v2h5v1h3v-2h7v1h3v-1h12v2h3v-2h12v1h3v-1h7v1h8v-1h7v1h3v-1h7v2h3v-2h7v2h13v-2h5v-1h7v1h5v1h5v2h3v-3h7v2h3v-1h5v-1h5v-2h7v3h5v1h5v1h3v-2h5v-1h7v2h3v-4h7v3h3v-1h7v1h3v-2h7v3h3v-1h7v1h3v-3h7v1h3v-3h7v4h5v1h13v-3h7v1h5v3h3v-2h10v-1h5v-1h7v3h3v-1h5v-1h7v1h5v2h3v-2h5v-1h5v-1h12v1h5v1h3v-2h7v3h3v-2h7v2h3v-1h10v-1h7v2h3v-2h7v2h3v-1h12v2h3v-1h5v-1h7v2h3v-3h7v1h3v-1h7v1h3v-1h12v1h5v1h5v1h3v-3h12v1h8v-1h5v-1h7v1h8v-2h7v3h5v1h3v-1h5v-1h5v-1h7v3h8v-2h7v1h5v1h3v-1h7v1h3v-1h7v2h3v-2h7v1h3v-1h5v-2h7v2h5v1h3v-1h10v-1h7v3h3v-1h10v-1h5v-1h12v1h5v1h3v-1h5v-2h12v2h5v1h3v-1h7v1h3v-3h7v1h3v-2h7v3h5v2h3v-1h5v-1h17v1h8v-1h10v-2h7v2h13v-1h12v1h5v1h3v-3h7v3h8v-1h12v1h3v-1h7v1h5v1h3v-1h5v-1h17v2h3v-3h12v3h3v-2h10v-2h7v3h8v-2h7v1h3v-3h7v3h5v1h3v-1h7v2h3v-1h5v-1h5v-1h12v1h15v1h3v-1h5v-2h7v4h3v-1h5v-3h7v3h3v-1h7v2h3v-1h10v-2h7v2h8v-1h10v-2h7v2h5v1h13v-1h12v1h3v-1h7v2h8v-2h10v-1h7v1h5v1h8v-1h5v-1h12v1h20v2h8v-3h7v1h5v1h13v-2h7v2h3v-2h7v2h8v-1h10v-1h12v3h3v-1h5v-1h12v1h3v-3h7v2h3v-1h12v1h3v-1h7v2h3v-1h5v-1h7v1h3v-1h17v1h5v1h3v-3h17v2h5v1h3v-1h10v-1h7v1h8v-4h7v4h3v-1h7v1h5v1h5v1h3v-1h5v-2h7v2h3v-1h5v-1h5v-1h7v2h3v-1h7v1h10v1h8v-2h12v2h8v-1h5v-1h5v-1h7v2h8v-1h5v-2h7v1h10v1h5v1h8v-2h7v2h15v1h3v-2h7v3h3v-1h5v-1h5v-1h7v1h3v-1h7v3h3v-2h10v-1h7v2h3v-5h7v5h3v-1h12v1h3v-4h7v1h3v-1h7v2h5v2h5v1h3v-1h5v-2h7v1h3v-2h7v2h10v1h3v-1h15v-2h7v1h5v1h3v-1h7v1h3v-3h7v1h5v2h3v-1h5v-1h7v1h3v-1h7v2h8v-3h7v1h5v1h5v2h13v-1h5v-2h7v2h8v-1h7v3h3v-2h7v1h3v-1h5v-2h7v1h3v-1h7v3h3v-1h7v2h3v-1h10v-2h5v-1h7v2h10v1h8v-2h7v1h10v2h3v-2h17v1h8v-1h7v2h3v-2h20v-1h12v1h3v-2h7v1h5v2h3v-1h10v-1h10v-1h7v2h3v-2h7v2h13v-1h10v-1h7v3h15v1h3v-1h5v-1h7v1h3v-1h5v-1h15v-1h12v1h5v1h3v-1h12v1h10v1h3v-3h7v2h25v1h3v-1h7v1h3v-1h5v-1h7v3h8v-3h7v1h5v1h8v-2h7v3h3v-2h7v1h3v-2h5v-1h7v1h5v2h3v-1h5v-1h5v-1h7v2h3v-1h7v1h15v2h3v-1h5v-3h7v2h10v1h3v-1h5v-1h12v1h5v1h13v-1h7v1h8v-2h12v2h3v-1h7v1h3v-4h7v3h5v1h8v-2h7v2h8v-1h15v-1h7v1h5v1h8v-2h12v2h3v-3h7v1h3v-1h7v2h5v1h3v-1h7v1h3v-1h5v-1h7v1h5v1h8v-2h7v1h5v1h10v1h3v-2h10v-1h5v-1h7v3h5v1h3v-4h7v3h3v-2h12v1h3v-1h7v2h3v-1h5v-2h7v2h5v1h3v-4h7v3h3v-1h12v2h5v1h3v-2h7v1h13v-1h15v-1h5v-1h7v2h3v-1h7v1h20v1h8v-2h12v3h8v-2h5v-1h7v1h13v-1h7v1h13v-1h7v1h3v-1h12v1h13v-1h7v2h3v-2h5v-1h7v1h5v3h3v-2h22v1h5v1h3v-2h12v1h3v-2h7v1h5v1h3v-1h7v1h3v-1h12v1h8v-1h5v-1h7v1h3v-1h7v2h5v1h3v-2h22v1h3v-1h7v1h3v-1h12v1h8v-1h5v-1h7v1h5v1h3v-1h7v1h3v-1h7v1h3v-1h7v2h3v-2h7v1h3v-1h7v1h3v-1h7v1h5v1h3v-3h5v-2h7v1h5v3h3v-1h7v1h18v-1h10v-1h7v1h3v-1h12v2h3v-2h7v2h8v-1h7v2h3v-3h7v2h3v-2h12v3h3v-5h7v4h3v-1h7v1h3v-1h5v-1h12v2h8v-1h7v1h3v-1h10v-1h7v2h8v-1h7v1h3v-1h26V945h-4v3h-7v-2h-3v1h-7v-1h-5v-1h-3v2h-5v1h-7v-3h-5v-1h-3v2h-12v-2h-3v3h-7v-2h-3v1h-10v2h-7v-2h-28v2h-7v-3h-3v1h-17v-1h-3v1h-5v1h-7v-1h-3v1h-7v-2h-3v2h-7v-1h-5v-2h-3v1h-5v1h-5v1h-12v-1h-8v2h-7v-2h-5v-2h-3v1h-5v1h-5v2h-12v-2h-8v1h-7v-2h-3v1h-5v1h-7v-1h-5v-2h-3v4h-7v-1h-5v-1h-5v-1h-3v1h-5v1h-7v-2h-3v2h-7v-2h-13v1h-17v-1h-3v2h-7v-2h-3v2h-7v-1h-3v2h-7v-2h-5v-1h-3v1h-7v-2h-3v2h-7v-1h-13v1h-10v1h-5v2h-7v-2h-5v-1h-3v1h-7v-1h-5v-1h-3v1h-7v-2h-3v2h-7v-1h-3v2h-5v2h-7v-3h-5v-1h-3v2h-7v-2h-3v1h-7v-2h-3v2h-7v-1h-3v1h-7v-1h-8v1h-7v-1h-3v1h-7v-2h-3v1h-10v2h-7v-1h-5v-1h-5v-1h-3v3h-7v-1h-5v-1h-3v1h-12v-1h-3v1h-7v-1h-3v1h-7v-2h-3v5h-7v-1h-5v-3h-15v-1h-3v3h-5v1h-7v-2h-5v-1h-3v1h-5v1h-7v-2h-5v-1h-8v1h-7v-1h-3v1h-7v-1h-3v1h-20v1h-7v-1h-13v2h-7v-2h-3v1h-7v-1h-5v-2h-3v2h-5v1h-7v-1h-8v2h-7v-2h-3v1h-5v1h-7v-2h-3v1h-7v-1h-3v2h-7v-1h-10v-1h-3v2h-7v-1h-10v-1h-3v2h-7v-1h-8v2h-7v-3h-3v2h-7v-2h-8v1h-12v-1h-8v2h-12v-1h-5v-1h-3v1h-7v-1h-8v1h-7v-2h-3v1h-5v1h-7v-1h-3v1h-15v2h-7v-2h-3v1h-7v-2h-8v1h-7v-2h-3v1h-7v-1h-3v3h-12v-1h-5v-1h-10v-1h-3v1h-12v-1h-3v1h-17v-1h-3v3h-7v-1h-5v-1h-3v2h-12v-1h-5v-1h-5v-1h-3v2h-12v-1h-3v1h-5v1h-7v-1h-5v-1h-3v1h-5v1h-7v-2h-8v1h-12v-1h-10v-1h-13v2h-15v1h-7v-2h-5v-1h-3v1h-5v1h-12v-1h-3v1h-5v1h-7v-1h-8v1h-7v-2h-3v1h-12v-1h-5v-1h-3v3h-7v-3h-3v1h-7v-1h-3v1h-10v1h-22v-2h-3v3h-12v-1h-3v1h-7v-1h-15v-1h-3v1h-15v5h-7v-5h-5v-1h-8v2h-7v-1h-3v1h-7v-2h-3v3h-7v-3h-3v2h-5v2h-7v-5h-3v2h-5v1h-7v-1h-5v-1h-3v1h-7v-1h-3v2h-7v-1h-5v-1h-3v1h-5v1h-5v1h-7v-2h-10v-2h-3v3h-7v-3h-8v1h-5v2h-17v-1h-5v-2h-8v1h-7v-1h-13v2h-7v-1h-10v-1h-3v1h-10v2h-7v-2h-3v1h-7v-1h-3v1h-7v-1h-3v2h-17v-1h-5v-1h-3v1h-7v-1h-3v2h-7v-1h-5v-1h-5v-2h-3v3h-7v-1h-8v1h-7v-1h-3v1h-5v3h-7v-4h-3v1h-5v1h-7v-1h-5v-1h-3v1h-10v1h-7v-1h-3v1h-7v-1h-13v1h-7v-1h-5v-2h-3v3h-10v2h-7v-1h-5v-2h-5v-2h-3v1h-5v1h-7v-2h-3v1h-5v1h-7v-1h-8v2h-12v-3h-3v3h-17v-3h-3v2h-12v-1h-3v1h-7v-1h-18v2h-7v-2h-13v3h-7v-4h-3v2h-5v1h-7v-2h-3v1h-7v-1h-8v1h-5v1h-7v-3h-3v1h-7v-1h-3v1h-10v1h-10v1h-7v-3h-8v1h-5v1h-12v-1h-8v1h-7v-1h-8v2h-7v-1h-3v1h-7v-1h-10v-1h-5v-1h-3v1h-7v-1h-3v2h-5v1h-7v-1h-8v2h-7v-3h-3v1h-12v-2h-3v3h-17v-2h-3v2h-7v-2h-3v2h-12v-1h-5v-2h-3v1h-12v-1h-3v3h-7v-1h-25v-1h-8v2h-17v-1h-8v1h-7v-3h-3v1h-7v-1h-3v1h-30v2h-12v-1h-3v1h-7v-1h-3v2h-12v-1h-5v-2h-20v-1h-3v1h-5v1h-17v-1h-3v1h-7v-2h-3v2h-17v-2h-8v3h-7v-2h-13v3h-7v-4h-8v3h-12v-1h-5v-2h-3v3h-7v-1h-10v-1h-3v1h-7v-1h-5v-1h-8v3h-7v-2h-5v-1h-3v1h-7v-1h-3v3h-7v-3h-3v2h-10v1h-7v-2h-8v2h-7v-2h-3v2h-5v1h-7v-2h-5v-1h-5v-1h-8v4h-7v-4h-3v1h-5v1h-12v-2h-3v1h-7v-1h-5v-1h-8v2h-10v1h-5v2h-7v-2h-3v1h-7v-1h-5v-1h-3v1h-7v-2h-3v2h-10v3h-7v-1h-5v-2h-3v1h-7v-2h-3v1h-12v-1h-3v1h-12v-1h-8v2h-12v-2h-3v2h-7v-3h-3v1h-5v1h-10v2h-7v-2h-5v-1h-8v2h-7v-1h-5v-1h-20v-1h-13v2h-20v2h-12v-1h-5v-1h-5v-1h-5v-1h-3v1h-7v-1h-3v1h-5v2h-7v-2h-3v4h-7v-4h-10v-1h-10v-1h-3v2h-5v3h-7v-3h-8v2h-7v-2h-8v1h-5v1h-17v-1h-5v-1h-3v1h-7v-1h-20v-1h-8v1h-5v1h-12v-1h-5v-1h-3v1h-5v1h-7v-1h-3v1h-5v1h-7v-3h-8v1h-22v-1h-3v1h-10v2h-7v-1h-3v1h-7v-2h-8v1h-12v-1h-3v1h-5v1h-7v-1h-10v-2h-3v1h-7v-1h-3v1h-5v2h-7v-2h-15v-1h-3v2h-27v-2h-3v2h-5v2h-7v-3h-3v5h-7v-3h-5v-1h-5v-1h-3v1h-5v1h-7v-2h-3v3h-7v-1h-3v1h-7v-3h-3v1h-7v-1h-5v-1h-3v1h-7v-2h-3v1h-10v2h-7v-1h-3v1h-7v-1h-10v-1h-3v1h-5v1h-5v1h-17v-1h-5v-1h-3v1h-7v-1h-10v-1h-3v1h-12v-1h-8v2h-7v-1h-3v1h-7v-1h-35v-1h-3v3h-7v-1h-23v1h-7v-3h-3v1h-7v-1h-8v1h-7v-1h-3v2h-7v-1h-3v1h-7v-2h-3v1h-5v2h-7v-1h-5v-1h-3v1h-5v1h-7v-2h-8v2h-12v-1h-3v1h-7v-1h-3v1h-12v-2h-3v1h-22v-2h-3v1h-5v1h-17v-1h-3v2h-7v-2h-3v2h-7v-2h-3v1h-5v1h-7v-3h-3v3h-7v-2h-3v1h-7v-1h-8v1h-7v-2h-3v2h-7v-2h-3v2h-22v-2h-3v4h-7v-4h-3v1h-10v1h-17v-2h-3v2h-12v-1h-3v1h-5v1h-7v-2h-3v1h-12v-1h-3v3h-12v-2h-5v-1h-3v1h-12v-2h-3v2h-5v1h-5v1h-7v-2h-5v-1h-8v1h-12v-1h-8v1h-7v-2h-3v2h-7v-1h-3v2h-7v-2h-3v3h-7v-2h-20v-1h-3v1h-7v-1h-8v2h-7v-2h-5v-1h-3v3h-7v-3h-3v2h-5v2h-7v-2h-5v-1h-13v1h-7v-2h-3v2h-5v1h-7v-2h-3v1h-7v-1h-8v2h-7v-2h-13v1h-5v1h-7v-3h-8v2h-12v-1h-3v1h-5v1h-7v-1h-8v1h-7v-1h-3v1h-7v-2h-8v3h-12v-1h-5v-1h-3v2h-7v-4h-3v2h-7v-1h-5v-1h-3v1h-10v1h-20v1h-12v-1h-5v-1h-10v-1h-3v1h-5v1h-7v-1h-3v2h-12v-1h-3v1h-7v-1h-5v-1h-18v1h-7v-2h-13v4h-7v-3h-3v1h-5v2h-7v-3h-5v-1h-3v2h-7v-1h-3v1h-10v2h-12v-2h-5v-1h-13v2h-7v-2h-5v-1h-3v2h-17v-1h-8v2h-10v1h-7v-3h-3v1h-17v-1h-3v1h-17v-2h-3v2h-12v-1h-3v1h-10v1h-7v-1h-3v1h-7v-1h-10v-1h-8v1h-7v-2h-5v-1h-3v1h-5v2h-7v-1h-8v1h-7v-1h-3v1h-5v1h-7v-1h-3v3h-7v-5h-3v2h-10v1h-5v2h-7v-3h-5v-1h-18v2h-7v-1h-5v-1h-8v1h-7v-2h-3v2h-7v-1h-18v2h-7v-1h-5v-1h-10v-1h-3v3h-7v-3h-3v3h-7v-2h-3v2h-7v-2h-18v1h-7v-1h-8v2h-7v-1h-3v2h-7v-1h-5v-2h-8v2h-7v-1h-5v-1h-13v1h-10v1h-5v1h-7v-1h-3v1h-7v-1h-10v-1h-10v-2h-8v1h-7v-1h-3v1h-5v1h-5v1h-7v-1h-8v1h-7v-1h-5v-1h-18v2h-7v-2h-3v1h-7v-1h-8v2h-7v-1h-5v-2h-3v3h-7v-1h-10v-1h-3v1h-5v2h-7v-2h-5v-1h-8v1h-22v-1h-3v1h-12v-2h-3v2h-20v1h-12v-2h-3v1h-7v-2h-3v1h-5v1h-7v-2h-3v1h-5v1h-15v2h-7v-2h-5v-1h-3v4h-7v-5h-3v1h-15v1h-12v-1h-5v-1h-3v1h-5v1h-7v-1h-18v1h-12v-1h-3v4h-7v-5h-3v2h-17v-1h-5v-1h-3v2h-7v-1h-3v1h-12v-1h-8v1h-7v-1h-3v1h-7v-1h-3v3h-7v-1h-5v-2h-3v2h-12v-1h-18v1h-7v-3h-8v2h-22v-1h-3v1h-12v-1h-3v3h-7v-3h-3v2h-7v-2h-5v-1h-3v1h-5v2h-5v1h-7v-1h-5v-1h-3v1h-7v-1h-20v-2h-3v3h-5v1h-7v-3h-3v1h-7v-1h-3v1h-7v-1h-8v2h-7v-1h-5v-2h-3v1h-10v2h-7v-1h-5v-1h-10v-1h-3v2h-5v1h-7v-1h-5v-1h-8v1h-25v1h-7v-1h-15v-1h-5v-2h-3v2h-5v1h-10v1h-7v-1h-5v-2h-8v1h-5v1h-7v-1h-3v1h-7v-1h-20v-1h-3v2h-7v-1h-15v-1h-3v2h-22v-1h-3v2h-12v-1h-5v-1h-3v2h-7v-2h-3v1h-7v-1h-8v1h-7v-1h-3v1h-7v-2h-3v1h-5v2h-7v-3h-5v-1h-3v4h-7v-1h-10v-1h-15v-1h-8v1h-5v2h-7v-1h-8v1h-7v-1h-10v-1h-3v1h-7v-1h-3v2h-7v-1h-3v1h-5v1h-7v-4h-3v3h-7v-2h-8v1h-20v1h-7v-3h-3v1h-5v1h-7v-2h-3v2h-5v1h-7v-2h-3v1h-5v1h-7v-1h-10v-1h-8v2h-7v-2h-20v-1h-3v1h-5v1h-5v2h-7v-2h-10v-1h-3v2h-7v-1h-13v1h-7v-2h-3v1h-12v-1h-13v1h-5v2h-7v-3h-3v1h-12v-2h-3v1h-5v1h-5v2h-7v-2h-10v-1h-5v-1h-3v2h-7v-1h-3v2h-12v-2h-3v2h-7v-2h-8v2h-7v-1h-5v-1h-8v2h-7v-3h-3v2h-7v-2h-3v1h-10v1h-7v-1h-3v1h-12v-1h-3v2h-5v1h-7v-1h-8v2h-7v-3h-3v1h-12v-2h-3v2h-7v-1h-5v-1h-3v2h-10v1h-7v-1h-5v-1h-3v2h-7v-3h-3v1h-12v-1h-8v3h-7v-1h-5v-1h-5v-1h-8v2h-7v-1h-15v-1h-30v-1h-3v3h-7v-2h-3v3h-7v-2h-5v-1h-5v-1h-3v1h-7v-1h-3v2h-5v1h-12v-1h-3v1h-7v-2h-3v1h-5v1h-7v-1h-5v-2h-3v1h-7v-2h-3v4h-7v-3h-3v2h-7v-1h-3v1h-12v-1h-3v1h-12v-1h-3v1h-7v-2h-8v1h-5v2h-5v1h-7v-4h-3v2h-12v-2h-4Z"/>
<path fill="#000000" d="M1152 1000h4v-1h7v1h5v1h3v-3h7v2h10v1h5v1h3v-1h5v-2h7v2h5v1h3v-2h7v1h5v1h3v-1h5v-1h7v1h5v1h3v-1h12v1h3v-1h7v1h8v-1h5v-1h7v1h3v-1h5v-1h7v3h5v1h3v-2h10v-1h7v1h8v-1h5v-1h7v2h5v1h3v-1h5v-1h7v1h3v-1h5v-1h7v1h5v2h3v-2h17v1h18v-2h7v1h5v3h3v-1h5v-1h5v-3h7v2h10v1h8v-1h7v1h3v-1h7v1h5v2h3v-1h5v-2h7v2h3v-1h27v2h3v-2h7v1h3v-1h12v2h3v-1h5v-4h7v3h10v2h3v-2h22v1h3v-1h10v-2h7v1h8v-1h7v3h3v-1h10v-1h7v1h3v-1h7v3h3v-2h5v-2h7v1h5v2h3v-1h10v-2h7v2h5v1h8v-1h5v-2h7v3h10v1h3v-2h5v-1h12v3h8v-1h5v-1h5v-1h12v2h5v1h3v-1h5v-1h5v-2h5v-1h7v2h5v2h3v-1h10v-2h7v1h5v1h3v-1h7v2h3v-1h5v-1h12v1h20v1h3v-2h12v1h3v-1h17v2h5v1h8v-2h7v1h8v-2h7v1h3v-1h7v1h5v1h5v1h3v-3h7v2h3v-1h15v-1h7v2h3v-3h12v3h3v-1h5v-1h5v-1h7v3h3v-2h7v3h8v-1h5v-1h15v-1h7v2h3v-1h7v1h3v-1h7v1h13v-1h7v1h8v-2h5v-1h7v1h8v-1h7v3h3v-2h7v2h3v-1h10v-1h7v1h3v-3h7v3h8v-1h7v1h15v1h8v-1h7v1h3v-1h5v-1h7v1h3v-1h12v1h3v-3h7v4h3v-4h7v5h3v-1h5v-1h17v1h3v-2h7v1h5v1h3v-2h7v1h5v1h3v-1h7v1h3v-2h7v1h5v1h3v-1h5v-1h7v1h5v1h3v-1h7v1h8v-1h5v-3h7v4h3v-3h7v3h3v-1h7v1h3v-1h12v2h3v-2h20v-1h7v1h8v-1h7v1h3v-1h17v1h10v1h3v-1h7v1h3v-1h5v-1h7v2h3v-1h5v-1h17v2h3v-4h7v1h5v2h5v1h3v-2h12v2h8v-1h17v1h3v-2h7v2h3v-1h5v-1h7v1h10v1h3v-1h7v1h3v-1h5v-1h10v-1h7v2h3v-1h12v1h5v1h3v-1h7v1h3v-1h7v1h3v-1h7v1h8v-2h7v1h3v-1h7v1h8v-1h7v2h8v-1h5v-1h7v1h5v1h13v-1h20v-3h12v2h5v1h5v1h3v-1h7v1h3v-2h10v-1h7v3h3v-2h7v2h13v-1h12v2h3v-1h5v-3h7v2h5v2h3v-1h7v1h3v-2h7v1h8v-1h10v-1h7v2h3v-2h7v2h13v-2h7v2h3v-2h7v1h3v-1h7v1h3v-1h7v2h5v1h3v-1h5v-1h7v1h3v-1h10v-2h7v1h5v1h8v-1h7v2h8v-1h7v1h8v-2h7v2h3v-1h5v-2h7v1h5v2h3v-2h5v-1h7v2h8v-1h7v1h15v1h3v-2h7v2h13v-1h17v2h3v-1h5v-2h7v1h10v1h8v-1h10v-2h7v1h10v1h13v-1h7v1h5v2h3v-1h5v-1h10v-1h5v-1h7v2h5v1h20v1h3v-3h7v1h18v-3h7v4h3v-1h5v-1h17v1h20v1h3v-1h7v1h3v-1h5v-1h7v2h8v-1h7v1h8v-1h7v1h13v-2h7v2h5v1h8v-2h5v-2h7v2h3v-2h7v1h10v1h10v1h3v-1h7v1h3v-1h5v-2h7v2h3v-1h7v2h3v-4h7v2h10v1h3v-1h5v-1h17v2h8v-1h7v2h5v1h3v-1h5v-1h10v-1h22v1h8v-2h12v3h5v1h3v-3h7v1h20v1h3v-2h5v-1h7v3h3v-2h5v-1h7v2h5v1h3v-2h7v1h3v-1h7v1h5v1h3v-1h7v2h3v-1h5v-1h7v2h3v-1h7v1h3v-2h7v1h3v-1h17v1h3v-3h7v3h3v-1h7v1h8v-3h7v3h3v-1h7v1h3v-1h7v1h3v-1h10v-1h7v1h8v-1h12v2h8v-1h7v1h3v-1h15v-2h7v2h3v-1h7v1h8v-3h7v4h13v-1h12v2h3v-1h10v-1h7v2h3v-3h7v1h8v-1h5v-1h7v4h3v-2h7v1h8v-1h5v-1h5v-2h7v4h8v-2h12v1h5v1h8v-2h7v2h3v-2h7v1h3v-1h5v-1h7v1h10v1h5v1h13v-2h7v2h3v-1h7v1h3v-2h7v2h3v-2h7v1h3v-1h7v1h5v1h5v1h3v-1h5v-1h5v-1h7v2h3v-3h7v1h5v1h13v-2h7v3h3v-1h12v1h18v-1h7v1h3v-1h12v1h3v-2h7v1h5v1h8v-3h7v2h8v-1h7v2h3v-2h7v1h3v-1h7v2h3v-2h7v1h13v-3h7v3h3v-1h7v1h3v-1h7v2h8v-2h7v1h8v-2h7v4h3v-2h7v1h3v-4h7v4h3v-2h7v2h3v-2h7v1h3v-2h7v1h5v1h10v1h3v-2h7v1h5v1h5v1h3v-2h12v2h3v-2h7v1h3v-2h5v-2h7v4h13v-2h7v1h5v1h8v-1h27v1h3v-4h7v3h25v1h8v-2h12v2h3v-1h5v-1h7v1h3v-1h7v2h3v-1h17v1h3v-3h7v3h3v-2h5v-1h7v1h5v1h5v1h3v-2h12v1h5v3h3v-4h7v2h3v-2h12v2h3v-2h7v1h5v2h3v-4h7v2h8v-1h7v1h5v1h3v-2h7v2h3v-3h7v1h10v2h5v1h3v-1h5v-1h10v-1h7v2h3v-2h7v3h3v-3h7v1h10v1h13v-1h17v1h3v-1h10v-1h7v2h3v-3h7v2h3v-1h5v-1h7v2h3v-1h10v-1h7v3h3v-1h10v-1h7v1h8v-2h7v2h5v1h3v-1h7v1h8v-1h5v-1h12v2h8v-1h5v-1h7v1h33v-1h7v2h3v-1h5v-1h12v1h8v-1h7v1h30v1h3v-2h10v-3h7v3h5v1h5v1h8v-3h7v2h5v1h8v-1h5v-1h7v1h5v1h13v-1h12v1h8v-1h7v1h13v-1h5v-2h7v1h5v2h3v-5h7v3h5v1h5v1h3v-2h12v1h5v1h10v1h3v-3h7v2h15v1h3v-1h5v-1h7v1h3v-2h12v1h8v-1h7v2h3v-2h7v2h3v-2h7v1h10v1h3v-2h17v2h3v-1h7v2h3v-1h5v-1h12v1h3v-1h12v1h8v-2h12v3h3v-1h5v-1h5v-1h17v1h5v1h3v-4h7v2h20v3h3v-2h7v2h3v-2h5v-1h7v1h10v1h3v-2h7v1h3v-3h7v2h10v2h3v-1h7v1h8v-1h7v2h3v-2h10v-1h7v1h5v1h8v-1h5v-1h7v1h5v1h8v-3h7v2h10v1h3v-1h7v1h3v-2h5v-1h7v1h5v1h5v2h3v-2h5v-1h15v-2h7v3h13v-1h5v-1h7v2h5v1h3v-2h7v2h3v-3h7v4h3v-3h7v3h3v-1h10v-1h12v1h8v-1h5v-1h7v2h3v-4h7v2h3v-1h7v3h13v-3h7v2h3v-2h5v-2h7v4h3v-2h7v3h8v-2h7v1h3v-1h22v3h3v-3h7v3h3v-1h5v-1h5v-1h7v3h3v-2h5v-1h7v1h5v1h3v-1h5v-1h7v1h3v-2h7v2h5v1h23v-3h7v1h8v-3h7v2h15v1h5v1h13v-1h12v2h13v-1h7v1h3v-1h10v-2h7v3h8v-3h7v1h5v2h8v-1h10v-1h12v2h3v-1h10v-1h5v-1h7v1h5v2h10v1h3v-4h7v3h8v-2h7v1h5v1h8v-1h7v1h3v-3h7v1h5v1h5v1h3v-3h7v1h5v1h3v-2h7v2h5v1h8v-2h12v2h13v-1h15v-2h7v5h3v-3h7v1h10v1h3v-1h7v1h3v-2h27v1h23v-2h7v1h5v1h8v-1h7v1h3v-1h7v1h8v-2h12v1h15v1h8v-2h12v1h15v1h3v-1h7v2h3v-3h7v1h3v-1h7v1h3v-1h7v1h3v-2h7v2h5v1h5v1h3v-3h7v1h5v1h8v-2h5v-1h7v2h3v-1h7v2h8v-2h7v1h10v2h3v-2h12v1h3v-1h12v2h8v-2h12v2h3v-1h5v-2h7v2h5v2h3v-1h5v-3h7v1h8v-1h5v-1h7v1h8v-2h7v3h3v-3h7v2h5v3h8v-2h5v-1h7v1h8v-1h5v-4h7v4h5v1h5v1h5v2h3v-2h5v-1h15v-1h7v2h3v-2h7v1h5v1h3v-1h7v2h3v-2h10v-2h7v2h5v1h3v-1h17v1h3v-2h7v1h10v1h3v-3h7v3h3v-1h12v2h3v-3h7v2h5v1h3v-1h5v-2h12v1h3v-2h5v-1h7v1h5v1h5v2h3v-1h7v2h3v-4h7v1h5v2h3v-1h7v1h3v-2h7v1h8v-1h7v1h3v-1h7v1h3v-2h7v3h3v-1h5v-1h7v1h8v-2h7v1h5v1h15v1h3v-2h12v3h3v-1h5v-3h7v3h8v-2h7v1h10v1h3v-2h12v2h5v1h8v-1h10v-1h5v-1h7v2h8v-2h7v1h3v-2h7v3h3v-2h7v1h3v-1h12v3h3v-4h7v2h8v-1h7v1h3v-3h7v2h3v-2h7v2h5v1h8v-2h7v1h5v2h3v-1h17v1h3v-1h7v1h3v-1h5v-1h7v1h8v-1h7v1h10v1h5v1h3v-2h10v-1h7v2h8v-1h5v-1h12v1h18v-1h7v1h5v2h3v-2h5v-1h7v1h15v2h3v-2h22v1h3v-2h12v1h10v1h3v-3h7v2h3v-1h7v2h3v-1h10v-1h10v-1h7v1h10v1h3v-1h7v1h5v2h8v-2h12v1h3v-1h7v1h13v-1h5v-1h7v2h3v-2h5v-1h7v1h5v2h3v-3h7v2h15v2h3v-2h7v1h3v-1h7v1h15v1h3v-1h5v-1h12v1h8v-1h12v1h13v-2h7v1h10v1h3v-1h15v-2h7v1h5v1h10v1h3v-1h7v1h10v1h3v-3h7v2h3v-2h5v-1h6V1013h-4v2h-5v1h-7v-1h-3v2h-7v-2h-3v1h-12v-1h-5v-1h-3v1h-7v-1h-3v1h-7v-1h-3v2h-7v-1h-15v-2h-3v4h-7v-2h-5v-2h-3v1h-10v1h-7v-1h-10v-1h-3v2h-15v1h-7v-1h-3v1h-7v-2h-8v1h-5v1h-7v-1h-3v2h-7v-2h-20v-1h-3v1h-7v-1h-3v1h-20v1h-7v-1h-5v-1h-3v1h-15v2h-7v-2h-5v-1h-3v1h-7v-2h-3v1h-7v-1h-3v1h-10v2h-7v-1h-10v-1h-3v2h-7v-2h-3v2h-7v-2h-10v-1h-3v2h-12v-2h-3v1h-7v-1h-3v2h-7v-1h-3v1h-7v-1h-10v-2h-3v3h-12v-1h-8v2h-7v-2h-3v1h-12v-3h-3v4h-12v-1h-15v-1h-28v1h-7v-1h-3v1h-7v-2h-3v2h-7v-1h-8v2h-7v-2h-3v1h-5v2h-7v-4h-3v2h-12v-2h-8v2h-7v-4h-3v2h-5v1h-5v1h-7v-1h-8v1h-7v-1h-3v2h-7v-2h-3v2h-7v-2h-8v1h-7v-1h-8v2h-7v-1h-3v1h-5v1h-7v-1h-20v-1h-3v2h-12v-2h-5v-3h-3v4h-7v-1h-5v-2h-3v1h-5v2h-7v-2h-3v1h-17v-2h-3v2h-7v-1h-3v1h-7v-1h-13v1h-7v-2h-3v1h-5v2h-7v-2h-3v3h-7v-5h-3v3h-7v-1h-3v1h-7v-1h-3v1h-10v1h-7v-2h-33v1h-7v-2h-3v2h-7v-1h-8v2h-7v-1h-3v1h-12v-2h-3v1h-7v-1h-28v1h-10v1h-7v-1h-3v3h-7v-4h-3v1h-10v1h-7v-2h-5v-2h-3v3h-7v-1h-13v1h-7v-1h-3v1h-7v-2h-8v1h-10v3h-12v-1h-5v-1h-10v-2h-3v2h-10v1h-7v-1h-3v2h-7v-2h-15v-1h-5v-1h-3v1h-7v-1h-3v3h-7v-2h-8v1h-5v1h-7v-2h-3v2h-7v-2h-3v1h-10v2h-7v-2h-5v-1h-3v2h-20v1h-7v-3h-8v3h-12v-2h-5v-1h-23v1h-7v-1h-8v1h-7v-1h-3v1h-5v2h-7v-1h-5v-2h-3v1h-7v-1h-8v1h-10v1h-12v-1h-3v1h-7v-1h-3v1h-5v1h-7v-3h-3v1h-7v-2h-3v3h-7v-1h-5v-1h-13v1h-7v-1h-8v3h-7v-2h-3v1h-5v2h-7v-3h-3v2h-7v-2h-5v-1h-8v2h-7v-3h-3v2h-12v-2h-3v2h-5v2h-7v-4h-3v1h-5v2h-17v-3h-3v3h-7v-1h-8v3h-7v-3h-5v-2h-8v1h-7v-1h-3v4h-7v-1h-5v-2h-5v-1h-3v3h-12v-2h-3v1h-7v-1h-8v1h-17v-2h-3v1h-10v2h-7v-1h-3v2h-7v-3h-8v1h-12v-1h-13v1h-7v-1h-3v2h-10v1h-7v-3h-3v2h-7v-2h-13v1h-15v3h-7v-5h-3v1h-5v1h-7v-1h-5v-1h-3v3h-7v-1h-15v-1h-3v2h-7v-2h-5v-2h-3v3h-7v-1h-3v1h-7v-1h-5v-1h-5v-1h-3v2h-5v1h-7v-1h-5v-2h-3v2h-5v2h-7v-1h-5v-2h-3v3h-7v-2h-8v1h-5v1h-7v-1h-10v-1h-3v1h-7v-1h-3v1h-17v-1h-20v-1h-3v2h-7v-1h-18v2h-7v-1h-5v-1h-23v1h-10v3h-7v-2h-5v-1h-3v1h-7v-1h-3v1h-7v-1h-20v-1h-3v3h-7v-2h-13v1h-7v-1h-3v1h-7v-2h-13v2h-7v-2h-8v1h-7v-1h-3v1h-7v-1h-3v2h-7v-1h-5v-3h-3v2h-22v-1h-3v2h-5v1h-7v-1h-5v-1h-8v1h-5v1h-12v-1h-5v-1h-8v2h-7v-1h-3v1h-7v-2h-3v2h-7v-2h-3v1h-12v-1h-3v1h-5v1h-7v-2h-3v1h-7v-2h-3v1h-10v1h-7v-1h-3v1h-12v-1h-3v1h-5v1h-7v-3h-3v1h-5v1h-5v1h-12v-1h-5v-1h-3v1h-10v1h-17v-2h-5v-1h-3v1h-15v1h-22v-2h-3v3h-7v-1h-5v-1h-3v1h-5v1h-12v-2h-3v1h-7v-1h-3v1h-7v-1h-5v-1h-3v1h-5v1h-10v1h-7v-2h-13v2h-7v-3h-3v1h-5v1h-10v1h-5v1h-7v-1h-3v3h-7v-4h-5v-1h-3v1h-20v1h-7v-2h-5v-1h-3v1h-5v1h-7v-1h-13v1h-7v-1h-3v2h-10v2h-7v-3h-5v-1h-18v1h-5v1h-5v1h-7v-2h-10v-1h-13v1h-25v1h-10v1h-7v-4h-3v1h-5v1h-5v2h-7v-2h-15v-1h-3v2h-7v-3h-3v1h-15v2h-7v-2h-3v2h-7v-2h-8v1h-7v-1h-3v2h-7v-2h-3v1h-5v2h-7v-3h-3v1h-7v-1h-3v1h-12v-2h-3v2h-17v-1h-10v-1h-3v1h-10v1h-7v-2h-3v2h-7v-1h-8v1h-5v2h-7v-4h-3v1h-12v-1h-3v1h-10v1h-27v-2h-3v1h-5v2h-12v-2h-3v1h-7v-1h-3v1h-15v1h-7v-1h-5v-1h-3v2h-7v-2h-3v2h-12v-2h-3v1h-7v-1h-8v2h-7v-1h-18v1h-7v-2h-3v1h-12v-1h-3v3h-7v-3h-8v2h-7v-2h-3v2h-7v-1h-8v1h-7v-1h-5v-2h-3v3h-7v-2h-5v-1h-18v2h-15v1h-7v-2h-5v-2h-3v2h-22v-1h-3v1h-7v-1h-3v2h-7v-1h-8v1h-7v-1h-10v-2h-3v3h-5v1h-7v-3h-3v1h-10v1h-10v1h-7v-3h-3v2h-5v1h-7v-1h-13v1h-7v-1h-3v1h-12v-2h-3v1h-10v1h-7v-2h-13v1h-12v-1h-10v-1h-3v3h-7v-1h-3v3h-7v-4h-3v2h-7v-1h-8v1h-7v-1h-5v-1h-8v1h-12v-1h-5v-1h-3v1h-5v1h-7v-1h-3v1h-17v-1h-5v-1h-3v1h-10v1h-12v-1h-3v2h-7v-2h-8v2h-7v-3h-3v2h-7v-1h-3v4h-7v-3h-3v1h-7v-1h-15v-1h-3v2h-7v-2h-10v-1h-3v1h-5v2h-7v-2h-8v1h-7v-1h-3v1h-12v-1h-3v2h-7v-2h-3v4h-7v-2h-5v-2h-3v3h-7v-4h-8v1h-5v3h-7v-2h-3v2h-7v-3h-13v1h-5v1h-7v-1h-8v1h-7v-3h-8v3h-7v-1h-10v-1h-8v2h-7v-1h-10v-1h-3v3h-7v-2h-5v-1h-3v2h-7v-2h-8v2h-7v-2h-3v1h-12v-1h-8v1h-12v-1h-3v1h-7v-1h-8v1h-5v2h-7v-2h-5v-1h-3v1h-12v-1h-10v-1h-3v2h-22v-1h-3v1h-10v2h-7v-3h-8v2h-7v-1h-5v-2h-3v1h-5v1h-22v-2h-3v1h-7v-1h-8v1h-5v1h-12v-1h-8v2h-7v-2h-3v2h-7v-1h-5v-1h-3v1h-10v3h-7v-4h-3v1h-7v-2h-3v1h-5v2h-7v-1h-13v1h-7v-1h-5v-1h-3v1h-7v-1h-5v-1h-8v2h-7v-1h-3v1h-7v-1h-5v-1h-3v2h-7v-1h-3v1h-7v-2h-3v1h-5v1h-25v1h-5v1h-7v-4h-5v-1h-3v1h-5v2h-7v-1h-3v2h-7v-2h-3v2h-7v-3h-3v1h-5v1h-7v-2h-3v1h-15v3h-7v-1h-5v-1h-23v1h-7v-1h-8v2h-7v-2h-5v-2h-3v2h-5v1h-7v-3h-3v1h-10v2h-7v-2h-3v2h-7v-1h-8v2h-7v-2h-3v2h-7v-2h-13v1h-7v-2h-3v4h-7v-4h-3v1h-42v-1h-5v-1h-3v1h-10v3h-7v-3h-8v1h-7v-1h-8v1h-5v1h-7v-1h-5v-1h-3v1h-7v-1h-8v2h-7v-1h-8v1h-10v1h-7v-2h-3v1h-7v-2h-3v2h-7v-1h-5v-2h-3v1h-5v1h-7v-1h-8v1h-27v-1h-3v3h-12v-2h-5v-1h-3v1h-5v1h-7v-2h-3v1h-12v-2h-3v3h-7v-1h-10v-1h-8v4h-7v-4h-3v2h-12v-2h-8v2h-7v-3h-3v1h-5v1h-7v-1h-13v4h-7v-4h-8v1h-7v-2h-8v1h-10v1h-12v-1h-3v2h-12v-1h-10v-1h-5v-1h-3v1h-10v1h-5v1h-7v-1h-13v2h-7v-2h-5v-1h-3v2h-7v-1h-5v-1h-3v4h-7v-3h-3v1h-12v-1h-5v-1h-8v1h-7v-1h-3v2h-7v-2h-8v2h-12v-2h-3v1h-7v-1h-8v3h-7v-1h-5v-2h-3v3h-7v-2h-5v-2h-3v2h-5v1h-7v-1h-3v1h-12v-1h-10v-1h-8v2h-5v1h-5v1h-7v-4h-3v1h-12v-1h-18v2h-5v1h-7v-1h-5v-1h-3v1h-17v-3h-3v1h-5v1h-7v-2h-5v-1h-8v1h-5v2h-5v1h-7v-1h-3v2h-7v-3h-8v2h-12v-3h-3v2h-7v-1h-3v1h-12v-1h-3v1h-10v1h-7v-1h-10v-1h-3v1h-7v-1h-8v1h-5v1h-7v-2h-5v-1h-3v4h-7v-2h-3v1h-7v-1h-5v-1h-3v1h-7v-1h-3v1h-12v-2h-3v1h-7v-1h-3v1h-7v-1h-3v2h-12v-2h-8v1h-5v4h-7v-2h-10v-1h-5v-1h-8v1h-12v-1h-13v1h-5v2h-7v-2h-5v-1h-3v2h-7v-2h-3v1h-10v2h-7v-1h-5v-2h-3v1h-17v-1h-3v1h-10v1h-12v-1h-5v-1h-3v2h-12v-3h-3v4h-7v-2h-13v1h-12v-2h-5v-1h-3v1h-5v3h-12v-3h-3v1h-5v1h-7v-3h-5v-1h-3v2h-5v1h-5v1h-7v-2h-13v1h-7v-2h-3v1h-10v1h-17v-1h-5v-1h-8v1h-12v-1h-3v1h-5v3h-7v-3h-5v-1h-3v1h-5v2h-7v-3h-8v2h-5v2h-7v-2h-5v-2h-3v2h-22v-1h-10v-1h-3v2h-12v-1h-3v2h-7v-1h-5v-2h-3v2h-7v-1h-5v-1h-3v3h-5v1h-7v-3h-3v1h-12v-1h-5v-1h-3v1h-7v-1h-3v2h-7v-1h-3v2h-7v-2h-3v2h-7v-3h-3v2h-5v1h-12v-1h-5v-1h-3v1h-17v-1h-3v1h-7v-1h-3v1h-5v1h-7v-1h-3v1h-7v-1h-5v-1h-13v1h-12v-1h-3v1h-5v1h-7v-2h-3v2h-5v1h-7v-2h-3v1h-7v-3h-3v4h-7v-2h-8v1h-7v-2h-3v1h-7v-1h-3v2h-5v1h-7v-1h-5v-2h-3v2h-7v-1h-8v1h-7v-2h-5v-1h-3v1h-5v1h-7v-1h-5v-1h-3v2h-12v-1h-3v1h-7v-1h-3v2h-7v-1h-3v3h-7v-3h-3v2h-7v-1h-5v-2h-3v1h-5v1h-7v-2h-10v-1h-3v1h-5v1h-5v1h-7v-1h-5v-1h-3v2h-5v1h-7v-2h-3v1h-12v-1h-3v2h-7v-4h-3v5h-7v-2h-5v-2h-8v2h-7v-2h-3v1h-17v-1h-3v1h-7v-1h-8v2h-7v-1h-5v-1h-8v1h-10v1h-17v-2h-5v-1h-3v1h-5v1h-7v-1h-3v1h-7v-3h-3v5h-7v-1h-15v-2h-3v2h-7v-2h-3v2h-12v-2h-5v-1h-3v2h-7v-1h-3v3h-7v-3h-5v-1h-3v2h-5v1h-7v-1h-5v-1h-3v1h-12v-1h-3v1h-27v-2h-3v2h-7v-1h-3v3h-7v-3h-3v3h-7v-3h-3v2h-7v-3h-3v1h-5v1h-5v3h-7v-3h-5v-1h-3v1h-10v2h-7v-3h-8v1h-7v-2h-3v1h-6Z"/>
<path fill="#ff0000" d="M1152 1071h14v-1h7v1h3v-1h7v1h3v-1h5v-3h7v3h8v-1h7v1h5v1h3v-1h20v-2h7v1h5v1h5v1h8v-1h7v2h13v-3h12v1h15v1h3v-2h7v1h15v2h3v-2h7v1h5v2h3v-2h7v1h3v-2h7v1h5v1h3v-2h22v2h3v-2h10v-1h7v1h5v1h5v1h3v-2h7v1h5v1h3v-2h7v1h8v-2h12v1h5v1h3v-2h7v1h8v-2h7v3h3v-1h7v1h8v-3h7v1h13v-1h7v2h3v-1h7v1h5v1h10v1h3v-3h7v2h8v-1h5v-1h7v2h8v-2h7v1h5v1h3v-2h5v-1h7v2h5v1h8v-1h12v1h8v-1h10v-1h7v2h8v-1h7v1h5v1h3v-2h12v1h10v1h3v-1h10v-1h7v2h3v-2h12v1h3v-2h7v3h3v-1h5v-1h7v2h8v-2h12v1h3v-1h10v-2h7v3h3v-2h7v2h5v1h13v-3h7v1h10v2h3v-1h25v-2h7v1h18v-2h7v1h5v1h5v1h3v-1h5v-1h7v1h5v1h10v1h3v-2h5v-1h12v2h10v1h3v-1h5v-1h7v1h5v1h3v-1h15v-1h7v1h3v-3h7v3h8v-1h10v-1h7v3h3v-2h22v1h10v1h3v-1h7v1h8v-1h5v-2h7v2h5v1h8v-1h25v-1h5v-1h7v1h5v1h8v-4h7v4h3v-1h10v-1h7v1h3v-1h7v1h5v1h3v-1h7v1h3v-2h7v2h3v-3h12v1h10v1h8v-1h7v1h15v1h8v-1h5v-2h7v3h3v-1h17v1h3v-1h5v-1h7v2h13v-1h7v1h3v-1h7v1h5v1h3v-2h22v2h3v-3h7v2h5v1h5v1h3v-2h5v-1h10v-1h7v3h3v-2h5v-1h7v1h3v-1h7v3h8v-3h7v2h3v-1h5v-1h7v2h5v1h8v-2h10v-1h7v2h8v-3h7v3h3v-2h7v2h8v-2h7v1h5v1h3v-4h7v2h5v1h3v-1h7v2h13v-1h7v1h3v-2h7v2h8v-1h17v1h3v-1h17v2h5v1h3v-2h5v-1h5v-1h7v1h5v1h3v-2h7v2h3v-1h7v1h3v-1h12v1h3v-1h7v1h3v-1h5v-1h12v1h3v-1h7v2h3v-1h12v3h3v-2h5v-1h7v1h13v-1h5v-1h7v1h3v-2h7v2h5v1h3v-1h7v1h3v-3h7v4h3v-2h7v2h3v-3h12v3h3v-1h5v-1h5v-1h7v3h3v-1h7v1h3v-3h7v1h3v-1h7v2h3v-1h5v-1h7v2h13v-2h12v1h3v-1h7v1h3v-1h7v1h5v1h3v-1h7v1h8v-1h10v-1h20v-1h7v1h5v1h10v1h3v-1h7v1h13v-1h10v-1h7v1h20v1h10v1h3v-1h5v-1h12v1h3v-2h12v1h10v2h3v-1h5v-1h12v2h3v-3h7v1h5v1h3v-1h5v-1h7v1h3v-1h5v-1h7v1h5v1h8v-2h7v1h5v3h3v-2h22v3h3v-1h5v-1h15v-2h7v2h5v1h3v-3h7v2h3v-1h5v-2h7v1h5v1h10v1h3v-2h7v1h5v1h15v1h3v-1h10v-1h7v1h10v1h8v-2h17v1h3v-1h12v1h8v-1h5v-2h7v3h5v1h3v-1h20v-1h10v-1h7v2h8v-1h5v-1h17v1h15v1h8v-1h12v1h3v-1h7v1h3v-2h5v-1h12v3h3v-2h17v3h3v-2h20v-2h7v2h5v1h3v-1h22v1h18v-2h7v2h3v-1h12v1h3v-2h7v1h10v1h3v-1h7v1h3v-1h5v-1h22v1h3v-2h7v4h3v-6h7v5h3v-2h7v1h15v1h3v-1h12v1h13v-2h5v-1h7v3h8v-2h5v-2h7v5h3v-2h7v1h3v-1h7v1h5v1h3v-4h7v2h5v1h3v-2h5v-1h7v2h5v1h3v-1h7v1h8v-2h12v1h13v-1h7v1h3v-1h7v2h3v-1h7v1h3v-1h7v1h3v-2h7v2h8v-1h5v-1h7v1h5v1h3v-1h17v1h8v-2h7v1h10v2h3v-4h7v2h5v2h3v-3h7v2h3v-1h7v1h3v-1h5v-2h7v1h5v2h3v-1h12v1h10v1h8v-2h7v1h3v-2h7v1h5v1h10v1h3v-2h7v1h3v-1h7v1h8v-2h7v2h8v-3h7v3h3v-1h5v-2h7v1h3v-1h7v2h10v1h3v-1h5v-1h7v1h3v-1h7v2h5v1h3v-2h22v1h3v-1h12v1h8v-2h7v1h18v-1h12v1h10v1h3v-2h10v-1h7v1h15v3h3v-1h5v-2h7v3h3v-2h20v-1h12v1h3v-3h7v2h5v1h5v2h3v-1h7v1h3v-1h5v-2h7v2h5v1h3v-2h7v1h3v-1h7v2h3v-1h5v-1h7v1h3v-2h7v2h3v-1h7v1h3v-2h7v2h3v-2h7v2h23v-3h12v2h20v1h5v1h3v-1h7v1h3v-1h10v-3h7v2h3v-1h12v1h10v1h23v-1h10v-4h7v4h5v1h8v-1h12v1h8v-1h7v1h3v-1h12v1h8v-1h7v1h3v-1h7v1h3v-1h5v-1h7v2h3v-1h7v1h3v-4h7v4h3v-1h5v-2h12v2h5v1h3v-1h5v-1h7v2h5v1h3v-3h12v3h8v-2h12v1h3v-1h12v1h3v-1h7v1h3v-2h7v2h33v-2h7v1h5v1h13v-3h7v2h3v-2h7v2h10v1h3v-3h7v3h3v-1h7v1h18v-1h12v1h13v-2h12v2h5v1h3v-2h7v2h3v-1h5v-1h7v1h3v-1h7v1h3v-1h7v1h5v1h3v-2h10v-2h7v2h8v-1h7v3h3v-2h7v1h5v1h3v-2h7v1h5v1h8v-1h5v-1h5v-1h7v1h5v1h3v-1h10v-3h7v2h5v1h18v-1h7v2h3v-2h7v2h5v1h3v-1h5v-1h7v3h3v-1h5v-1h25v-2h7v2h3v-2h12v2h5v2h3v-2h20v-2h7v1h3v-1h7v2h3v-1h17v1h3v-1h5v-1h7v2h3v-1h5v-2h7v3h3v-2h7v1h5v1h3v-1h7v1h3v-1h15v-1h7v1h5v1h18v-1h7v1h3v-1h5v-1h7v2h18v-1h5v-1h7v1h5v1h13v-2h7v2h8v-2h12v2h3v-2h5v-1h7v2h13v-1h7v1h3v-1h7v2h5v1h8v-2h7v1h15v1h3v-2h7v2h3v-1h5v-1h5v-2h7v3h3v-1h7v2h3v-2h5v-1h7v2h3v-1h5v-1h7v2h18v-2h7v1h5v1h3v-1h7v1h3v-2h5v-1h12v1h15v1h10v1h3v-1h7v2h3v-1h5v-1h7v1h3v-2h7v3h3v-2h17v1h8v-2h7v1h13v-1h7v1h5v1h8v-1h7v2h3v-3h7v2h3v-1h7v1h3v-2h7v2h3v-2h7v1h3v-2h12v2h5v1h3v-2h7v1h10v1h8v-1h7v2h3v-1h7v1h3v-2h7v1h3v-2h7v1h3v-1h7v1h3v-1h7v3h3v-3h5v-1h7v1h5v2h8v-1h7v1h5v1h3v-2h7v1h3v-1h7v1h13v-2h7v1h5v2h3v-2h12v1h3v-1h7v2h3v-2h7v1h5v1h8v-1h5v-2h7v1h5v1h3v-3h7v3h8v-1h27v1h5v1h3v-2h7v1h3v-1h27v1h5v1h3v-2h17v1h10v1h3v-2h12v1h13v-4h7v4h5v1h13v-2h7v2h3v-1h10v-2h7v1h5v1h10v1h8v-1h5v-2h5v-1h7v2h15v1h8v-2h7v1h5v2h3v-1h10v-1h12v1h3v-2h7v2h3v-1h22v2h3v-1h5v-2h7v1h5v1h18v-1h12v2h3v-2h7v1h18v-2h7v2h15v1h3v-2h7v1h5v1h3v-3h7v3h3v-3h7v1h3v-1h7v1h5v1h3v-1h10v-1h7v3h3v-4h7v2h5v2h3v-2h32v1h3v-2h12v2h13v-2h5v-1h7v1h8v-2h7v3h5v2h3v-1h5v-2h12v2h3v-1h5v-1h7v1h5v1h8v-1h7v1h3v-1h5v-1h7v1h5v2h3v-3h7v3h3v-4h7v2h3v-1h7v1h3v-1h7v1h8v-1h7v1h5v2h8v-1h7v1h3v-1h5v-1h7v1h3v-1h17v1h18v-1h7v1h13v-2h10v-2h7v3h3v-1h7v1h5v2h3v-2h22v1h3v-3h7v1h5v1h5v1h3v-1h7v1h13v-1h7v1h3v-1h12v1h8v-2h7v3h3v-2h12v2h3v-1h10v-2h12v1h5v1h3v-1h17v1h5v1h3v-3h7v3h3v-1h7v1h3v-2h7v2h3v-2h5v-1h7v1h10v1h3v-2h7v2h3v-3h7v3h3v-1h12v1h8v-5h7v3h5v2h3v-1h7v2h3v-2h7v1h5v1h3v-2h7v1h3v-5h7v5h13v-1h10v-1h12v2h3v-1h7v2h3v-1h5v-2h7v1h5v1h8v-1h5v-3h7v3h3v-1h12v2h8v-2h7v1h10v1h8v-2h7v2h3v-3h7v3h3v-1h7v2h3v-1h7v1h3v-3h5v-1h5v-1h7v4h8v-1h10v-1h7v2h3v-1h12v1h3v-2h7v1h5v1h3v-1h5v-1h7v2h3v-2h7v3h13v-1h10v-2h7v1h3v-2h7v4h8v-2h5v-1h7v1h3v-1h7v1h20v1h3v-1h5v-1h7v2h13v-1h7v1h8v-1h12v1h5v1h3v-1h5v-2h7v1h10v1h3v-2h7v2h5v1h3v-1h5v-2h5v-2h7v2h5v2h3v-1h5v-1h7v2h3v-2h5v-1h7v1h20v3h3v-2h12v1h8v-1h7v1h3v-2h7v3h3v-1h5v-3h7v3h13v-1h10v-1h12v1h5v1h3v-1h7v1h3v-1h7v1h3v-1h5v-2h7v2h10v1h13v-1h7v1h8v-1h7v2h3v-2h17v1h5v1h13v-3h7v2h3v-1h5v-1h6V1083h-9v1h-7v-1h-3v3h-7v-2h-3v1h-7v-1h-5v-1h-3v2h-17v-1h-13v1h-7v-1h-3v2h-7v-1h-5v-2h-3v1h-7v-1h-8v1h-12v-2h-3v2h-5v1h-7v-1h-5v-1h-5v-1h-3v1h-5v1h-5v3h-7v-2h-5v-1h-5v-1h-3v1h-5v1h-5v2h-7v-3h-3v2h-7v-2h-3v1h-7v-2h-3v2h-7v-1h-3v1h-7v-1h-5v-1h-3v1h-10v1h-7v-1h-5v-1h-8v2h-7v-1h-5v-2h-3v1h-5v1h-12v-1h-5v-1h-3v4h-7v-2h-3v1h-17v-1h-8v1h-7v-1h-3v1h-5v1h-7v-3h-8v2h-7v-2h-5v-1h-3v2h-7v-1h-3v1h-7v-2h-8v1h-5v1h-12v-2h-3v1h-7v-1h-3v3h-12v-2h-5v-1h-3v1h-10v2h-7v-2h-3v1h-7v-1h-3v1h-12v-1h-3v1h-7v-1h-5v-1h-3v1h-5v2h-7v-2h-5v-1h-3v2h-5v1h-12v-2h-3v1h-7v-1h-5v-2h-3v2h-5v1h-5v1h-7v-1h-3v1h-7v-2h-3v1h-12v-1h-3v2h-7v-1h-8v2h-7v-3h-3v2h-7v-1h-5v-2h-3v2h-5v1h-5v2h-7v-1h-5v-1h-5v-1h-8v1h-17v-2h-3v4h-7v-4h-3v1h-5v1h-7v-2h-3v2h-7v-2h-8v2h-7v-2h-8v2h-7v-2h-3v2h-7v-1h-13v1h-7v-1h-8v1h-7v-1h-15v-1h-3v2h-7v-1h-25v-1h-8v1h-25v1h-7v-1h-18v1h-7v-1h-10v-2h-3v3h-12v-2h-3v3h-12v-1h-5v-1h-8v1h-5v1h-7v-3h-3v2h-7v-3h-3v3h-7v-1h-5v-1h-8v1h-5v2h-7v-3h-3v2h-5v1h-12v-1h-5v-2h-3v1h-7v-1h-13v1h-7v-1h-3v1h-12v-1h-8v1h-5v1h-5v1h-7v-2h-13v1h-5v2h-7v-4h-3v2h-12v-1h-3v1h-7v-3h-3v2h-7v-1h-3v1h-7v-1h-13v2h-7v-1h-10v-2h-3v2h-5v1h-7v-1h-3v1h-7v-2h-3v2h-7v-1h-3v1h-7v-1h-5v-1h-8v2h-12v-2h-3v1h-17v-1h-3v1h-7v-1h-3v1h-7v-2h-8v1h-5v3h-7v-3h-3v3h-7v-1h-5v-1h-5v-1h-3v2h-7v-3h-3v3h-7v-3h-3v2h-7v-2h-3v2h-5v2h-7v-2h-5v-2h-3v1h-7v-1h-3v1h-5v1h-7v-1h-8v3h-7v-1h-3v2h-7v-3h-20v-1h-3v4h-7v-4h-3v2h-7v-2h-3v1h-10v1h-7v-1h-5v-1h-3v2h-7v-2h-3v2h-7v-1h-8v2h-12v-2h-5v-1h-3v2h-22v-1h-5v-2h-3v1h-5v1h-10v1h-10v1h-7v-3h-3v2h-12v-1h-5v-2h-3v1h-5v1h-5v1h-12v-2h-13v1h-5v2h-7v-2h-10v-1h-3v2h-12v-3h-3v1h-5v2h-7v-1h-3v1h-7v-1h-3v1h-7v-1h-5v-1h-3v1h-12v-1h-8v2h-5v2h-7v-4h-3v2h-7v-2h-5v-1h-3v2h-5v1h-17v-1h-8v1h-7v-2h-3v2h-10v1h-7v-2h-5v-1h-3v1h-17v-1h-3v2h-12v-3h-3v2h-7v-1h-3v1h-10v3h-7v-4h-3v1h-7v-1h-8v2h-17v-1h-3v1h-7v-2h-8v2h-7v-2h-8v1h-7v-1h-8v2h-7v-1h-5v-2h-3v2h-12v-2h-8v3h-7v-3h-3v2h-12v-1h-3v1h-7v-1h-3v1h-5v1h-5v1h-7v-2h-3v2h-7v-2h-5v-1h-13v1h-5v1h-5v1h-7v-2h-8v1h-10v1h-7v-2h-3v1h-7v-1h-8v2h-7v-2h-8v1h-10v1h-7v-1h-5v-2h-3v2h-7v-2h-10v-1h-3v3h-7v-1h-10v-1h-5v-1h-3v1h-5v2h-7v-1h-3v1h-7v-2h-3v1h-7v-1h-3v1h-10v1h-7v-3h-8v5h-7v-1h-5v-2h-3v1h-7v-2h-3v2h-7v-1h-10v-2h-3v5h-7v-3h-10v-1h-8v1h-7v-1h-13v1h-5v1h-7v-2h-8v1h-12v-1h-3v1h-5v1h-7v-1h-18v1h-12v-1h-18v1h-7v-1h-10v-1h-5v-1h-3v3h-7v-2h-8v3h-7v-1h-5v-1h-10v-1h-8v1h-7v-1h-8v2h-7v-1h-15v-2h-8v1h-5v1h-20v1h-7v-2h-5v-1h-3v2h-5v1h-7v-1h-5v-1h-3v2h-12v-2h-3v3h-7v-2h-5v-1h-8v1h-5v1h-5v1h-7v-1h-5v-1h-3v1h-7v-2h-13v2h-17v-2h-3v1h-5v3h-7v-3h-20v-1h-5v-1h-3v1h-5v2h-7v-1h-15v-1h-3v2h-7v-1h-8v1h-7v-2h-3v5h-7v-5h-3v1h-5v1h-7v-2h-3v1h-7v-1h-3v1h-7v-1h-8v1h-10v1h-7v-2h-18v2h-7v-1h-3v1h-7v-1h-5v-1h-3v2h-5v3h-7v-5h-3v1h-7v-1h-3v1h-5v1h-5v1h-7v-1h-8v1h-7v-3h-3v1h-7v-1h-3v5h-7v-5h-5v-1h-3v2h-5v1h-7v-2h-5v-1h-3v3h-7v-3h-3v1h-5v1h-7v-1h-8v3h-7v-2h-8v2h-7v-1h-5v-2h-3v5h-7v-5h-3v1h-5v1h-7v-2h-8v1h-5v2h-7v-2h-10v-1h-13v1h-7v-1h-3v1h-5v2h-7v-3h-3v2h-12v-2h-5v-1h-8v1h-5v1h-10v1h-17v-1h-23v1h-7v-3h-3v3h-7v-1h-5v-1h-13v2h-7v-2h-3v2h-7v-1h-10v-1h-5v-1h-3v1h-5v3h-12v-2h-5v-1h-3v1h-15v2h-7v-3h-8v1h-10v1h-5v1h-7v-1h-10v-1h-3v1h-7v-2h-3v1h-5v1h-10v3h-7v-2h-5v-3h-8v2h-7v-1h-3v1h-12v-1h-3v2h-7v-1h-5v-1h-3v1h-7v-1h-10v-1h-3v1h-12v-1h-3v2h-7v-1h-3v1h-7v-1h-3v1h-7v-2h-3v1h-7v-1h-18v1h-10v1h-7v-1h-3v1h-5v1h-7v-1h-3v1h-7v-2h-10v-1h-8v1h-10v1h-12v-2h-5v-1h-3v1h-20v2h-7v-1h-5v-2h-3v1h-5v1h-10v1h-5v2h-7v-3h-20v-1h-3v1h-5v1h-7v-2h-8v1h-5v2h-7v-3h-3v1h-12v-2h-8v5h-7v-3h-5v-2h-3v2h-10v1h-7v-1h-8v1h-7v-2h-8v2h-7v-1h-5v-1h-3v1h-10v2h-7v-3h-13v1h-7v-1h-3v4h-7v-2h-5v-2h-3v1h-17v-1h-3v1h-5v2h-7v-1h-10v-2h-8v2h-17v-1h-3v3h-7v-3h-3v1h-7v-2h-8v2h-7v-1h-8v1h-7v-1h-3v1h-7v-2h-5v-1h-3v1h-5v2h-7v-1h-15v-1h-3v1h-12v-1h-3v1h-7v-2h-3v2h-7v-2h-3v1h-5v1h-12v-1h-3v3h-7v-1h-10v-1h-13v1h-7v-1h-5v-2h-3v2h-5v1h-7v-2h-3v1h-12v-1h-3v1h-10v1h-17v-1h-10v-1h-3v3h-7v-2h-3v1h-17v-1h-5v-1h-3v1h-5v1h-7v-3h-3v1h-5v2h-7v-1h-18v1h-5v1h-7v-3h-3v1h-5v2h-7v-2h-10v-2h-3v3h-7v-1h-5v-1h-3v1h-5v1h-7v-3h-3v3h-7v-2h-8v2h-12v-1h-5v-2h-3v1h-15v1h-5v1h-7v-2h-3v2h-7v-2h-3v4h-7v-3h-10v-1h-3v4h-7v-4h-13v1h-12v-1h-3v1h-10v1h-7v-1h-3v1h-7v-1h-5v-1h-10v-1h-3v1h-15v1h-5v1h-7v-1h-10v-1h-5v-1h-3v3h-12v-1h-3v1h-7v-1h-18v1h-7v-1h-3v1h-7v-2h-3v2h-7v-2h-3v2h-7v-2h-3v1h-7v-1h-3v1h-5v1h-12v-2h-3v1h-12v-1h-8v1h-7v-1h-3v1h-7v-1h-3v2h-7v-1h-10v-1h-3v1h-7v-1h-3v3h-7v-1h-8v1h-7v-2h-10v-1h-3v2h-7v-1h-5v-1h-8v1h-5v1h-7v-1h-3v1h-5v1h-12v-3h-3v1h-5v1h-7v-1h-10v-1h-3v2h-7v-1h-3v1h-5v1h-7v-2h-5v-1h-8v2h-7v-1h-3v1h-7v-1h-10v-2h-3v4h-7v-2h-10v-1h-3v1h-5v1h-7v-2h-3v2h-7v-1h-15v-1h-10v-1h-3v1h-10v2h-12v-2h-3v2h-5v1h-7v-1h-5v-2h-3v2h-7v-2h-3v2h-5v2h-7v-4h-3v1h-7v-1h-3v1h-12v-1h-3v4h-7v-4h-3v1h-12v-1h-23v2h-7v-2h-3v2h-5v1h-5v2h-7v-5h-8v1h-7v-1h-10v-1h-3v1h-10v2h-7v-1h-10v-1h-5v-1h-3v2h-7v-1h-5v-1h-3v1h-10v2h-7v-2h-3v2h-17v-2h-3v3h-7v-1h-5v-1h-5v-1h-10v-1h-3v2h-5v1h-7v-2h-5v-1h-3v2h-7v-1h-18v2h-5v1h-7v-1h-10v-2h-3v2h-12v-1h-5v-1h-3v2h-5v1h-7v-3h-3v1h-10v1h-7v-1h-3v2h-7v-2h-13v1h-12v-2h-13v2h-17v-2h-8v2h-7v-2h-3v2h-7v-2h-3v1h-10v1h-32v-2h-3v1h-12v-1h-3v1h-5v1h-5v2h-7v-2h-8v1h-7v-3h-5v-1h-3v1h-5v1h-12v-1h-3v2h-7v-2h-3v2h-12v-1h-5v-1h-8v2h-12v-1h-3v1h-7v-2h-5v-1h-3v3h-7v-1h-3v1h-7v-2h-3v1h-25v1h-7v-2h-3v1h-12v-2h-3v3h-5v1h-7v-3h-3v3h-7v-3h-3v1h-5v1h-12v-2h-3v2h-17v-1h-10v-1h-3v2h-12v-2h-3v1h-10v2h-12v-2h-5v-1h-13v3h-7v-3h-5v-1h-3v1h-5v2h-7v-1h-3v2h-7v-3h-3v1h-5v1h-7v-2h-3v1h-7v-1h-3v2h-5v1h-5v2h-7v-5h-13v1h-7v-1h-5v-1h-3v1h-7v-1h-3v3h-7v-1h-10v-1h-3v1h-5v2h-7v-2h-5v-1h-3v1h-7v-1h-3v2h-7v-1h-5v-1h-3v3h-7v-3h-3v2h-7v-1h-5v-1h-3v1h-5v1h-7v-2h-3v1h-17v-1h-8v2h-17v-2h-3v2h-5v4h-7v-5h-13v1h-12v-1h-5v-2h-3v3h-7v-2h-3v5h-7v-3h-5v-1h-5v-1h-38v1h-5v1h-27v-1h-8v3h-7v-2h-5v-1h-5v-1h-3v2h-7v-2h-3v1h-5v3h-7v-2h-5v-1h-5v-1h-13v1h-7v-1h-13v1h-22v-1h-3v2h-7v-1h-10v-1h-3v1h-7v-1h-3v3h-7v-3h-8v2h-7v-1h-3v1h-7v-2h-3v1h-5v1h-7v-1h-3v2h-7v-1h-5v-1h-5v-1h-13v2h-7v-2h-3v4h-7v-5h-3v2h-7v-2h-3v1h-5v1h-15v2h-7v-4h-3v3h-5v1h-7v-1h-5v-2h-3v1h-7v-2h-3v1h-10v1h-12v-3h-3v4h-7v-1h-5v-1h-8v2h-7v-1h-3v1h-7v-2h-3v1h-5v1h-7v-1h-15v-1h-3v1h-7v-1h-3v2h-7v-3h-3v4h-7v-2h-3v2h-7v-1h-5v-1h-10v-1h-3v1h-5v1h-7v-3h-3v4h-7v-1h-3v1h-7v-3h-8v3h-7v-2h-10v-1h-3v1h-5v3h-7v-4h-8v3h-7v-4h-3v2h-5v1h-7v-2h-3v1h-7v-1h-8v1h-7v-1h-3v1h-7v-1h-8v2h-5v3h-7v-4h-8v2h-7v-1h-10v-2h-3v2h-7v-1h-5v-1h-3v1h-5v1h-7v-2h-8v1h-5v3h-7v-3h-8v1h-7v-2h-3v1h-12v-1h-8v2h-7v-2h-4Z"/>
<path fill="#0000ff" d="M1152 1140h6v1h3v-1h5v-1h7v1h3v-3h7v2h3v-1h7v1h3v-1h7v1h15v1h3v-2h5v-1h7v3h3v-1h10v-3h7v4h3v-1h22v2h3v-2h7v1h8v-1h5v-1h12v1h3v-2h7v3h3v-2h7v2h3v-2h7v2h3v-1h12v1h3v-2h7v1h3v-1h7v2h3v-1h15v-2h7v3h5v1h8v-1h7v1h3v-2h5v-1h7v2h3v-2h7v1h8v-1h7v2h5v1h3v-4h7v2h15v1h8v-2h7v1h3v-1h5v-1h7v2h5v1h3v-1h15v-1h7v2h3v-1h7v1h3v-2h7v2h3v-1h7v1h3v-2h7v2h3v-1h5v-1h7v1h18v-1h7v1h13v-2h7v3h8v-5h7v3h5v2h18v-2h7v1h3v-1h12v2h3v-1h7v1h10v1h3v-2h7v2h3v-2h5v-1h7v1h3v-1h7v2h8v-2h7v1h10v1h3v-1h7v1h3v-1h7v1h3v-3h7v2h3v-2h7v3h5v1h3v-3h7v2h3v-1h7v1h8v-3h7v1h10v2h3v-1h5v-1h7v1h10v1h3v-1h7v1h3v-1h15v-1h7v3h3v-2h5v-1h7v1h3v-1h7v2h3v-2h7v1h8v-1h7v1h8v-2h7v2h3v-1h5v-1h7v2h15v1h3v-2h12v2h3v-2h7v1h5v1h3v-3h7v1h10v1h5v2h3v-1h10v-1h12v2h3v-4h7v3h3v-2h7v2h5v1h3v-1h5v-2h7v1h5v1h3v-1h12v1h8v-1h5v-1h7v1h13v-1h12v3h3v-2h17v1h3v-1h7v1h3v-2h12v2h3v-1h5v-1h7v2h3v-1h10v-2h7v2h8v-3h7v2h5v2h3v-2h7v2h13v-2h7v1h5v2h3v-1h5v-1h7v1h3v-1h7v1h3v-1h5v-1h12v1h15v2h3v-1h7v1h3v-1h12v1h3v-1h20v-2h7v3h3v-1h5v-1h12v1h3v-1h5v-1h7v1h10v1h3v-2h7v1h3v-2h7v2h3v-2h7v3h10v1h3v-2h5v-1h7v1h3v-1h7v2h3v-2h7v2h3v-3h12v2h3v-1h17v2h5v1h3v-2h7v1h3v-1h7v3h3v-3h5v-2h7v1h5v2h3v-2h7v2h5v1h3v-1h5v-3h7v3h3v-1h7v1h23v-2h5v-1h7v2h3v-1h12v1h5v1h8v-2h12v1h3v-1h7v1h5v1h13v-1h5v-2h12v1h10v2h5v1h3v-1h5v-2h7v1h5v1h3v-1h7v1h3v-1h5v-1h7v1h3v-2h7v3h3v-2h7v2h3v-1h5v-1h7v3h3v-3h7v1h8v-1h7v1h8v-3h7v3h3v-2h7v2h10v1h8v-2h7v2h8v-1h5v-1h17v2h3v-1h12v1h3v-2h7v2h5v1h3v-1h5v-1h10v-2h7v3h13v-2h7v2h8v-1h7v1h10v1h3v-3h7v1h20v1h13v-1h10v-1h7v1h5v1h3v-2h7v1h3v-1h17v2h8v-1h12v1h3v-1h12v1h3v-2h7v3h8v-3h5v-1h7v3h3v-2h7v2h3v-1h10v-1h17v2h8v-1h5v-1h7v2h5v1h8v-1h5v-2h7v1h8v-2h7v1h5v1h10v1h8v-3h7v3h3v-3h7v3h3v-1h12v1h3v-1h10v-1h7v2h3v-2h7v1h5v1h8v-2h7v2h8v-1h5v-1h12v2h3v-2h5v-2h7v2h3v-2h7v5h3v-2h10v-1h7v2h3v-1h10v-2h7v2h3v-2h7v3h3v-2h5v-1h7v1h5v2h3v-1h7v2h3v-2h22v1h3v-1h10v-2h7v2h15v2h3v-1h5v-2h7v1h3v-1h12v1h13v-1h7v1h5v1h3v-1h7v2h3v-1h5v-2h12v1h3v-1h7v1h5v1h3v-1h5v-3h7v3h5v1h3v-1h5v-1h7v1h5v1h3v-1h7v1h23v-2h7v2h8v-1h15v-1h12v1h3v-1h7v1h3v-3h7v2h15v1h5v1h3v-2h12v3h8v-1h5v-1h50v-1h7v1h13v-1h7v1h10v1h3v-3h7v3h8v-1h7v1h5v1h3v-1h5v-1h7v2h8v-1h5v-1h7v1h3v-1h12v2h8v-1h5v-1h7v2h3v-1h10v-2h7v3h8v-1h5v-2h12v1h5v1h3v-1h7v1h13v-1h22v1h3v-1h5v-1h5v-1h7v1h5v1h5v1h3v-1h5v-1h7v2h3v-1h15v-1h12v2h3v-1h7v2h3v-1h25v-1h5v-2h7v1h5v2h3v-1h15v-1h7v2h8v-1h10v-2h7v2h15v1h3v-1h7v1h3v-1h5v-1h7v2h3v-1h7v1h3v-1h15v-1h7v2h3v-2h17v2h3v-1h7v2h3v-2h7v1h8v-1h12v1h3v-1h7v1h3v-2h7v1h3v-1h7v2h3v-1h5v-3h7v1h5v2h15v1h8v-1h5v-1h12v1h5v1h3v-2h17v1h3v-1h7v1h10v1h3v-2h7v1h10v2h3v-1h20v-1h10v-2h12v1h10v2h3v-1h5v-1h7v2h3v-2h7v1h5v2h3v-4h7v3h3v-2h7v2h18v-2h7v2h3v-1h5v-1h12v2h3v-2h7v2h8v-1h5v-2h7v2h3v-2h7v2h15v1h23v-3h7v3h8v-1h7v1h3v-1h22v1h3v-1h7v1h3v-1h12v2h3v-1h10v-2h7v1h5v1h8v-1h15v-2h7v1h5v2h3v-1h10v-1h17v3h3v-1h10v-2h7v2h5v1h8v-3h7v1h3v-1h5v-1h17v2h5v1h3v-1h5v-1h12v3h3v-3h7v2h3v-1h5v-1h12v2h3v-2h10v-1h17v2h20v1h5v1h3v-1h10v-2h7v1h8v-1h12v3h3v-1h5v-2h7v2h5v1h3v-2h7v1h20v1h8v-2h7v1h3v-1h5v-2h7v3h3v-2h7v1h5v2h3v-2h5v-1h7v1h5v1h3v-1h5v-1h7v2h8v-1h5v-1h7v1h3v-1h7v1h10v1h23v-2h17v1h5v2h8v-2h10v-1h7v1h13v-1h7v1h5v1h5v1h3v-2h7v1h3v-2h7v1h3v-1h7v2h3v-1h5v-1h7v1h3v-1h12v1h10v1h18v-2h7v2h18v-1h15v-1h7v1h18v-1h7v3h3v-1h5v-1h7v2h8v-2h12v1h3v-1h7v1h3v-1h7v1h5v1h3v-4h7v1h5v2h3v-1h7v1h3v-3h7v2h20v1h13v-1h10v-1h7v1h5v2h3v-3h7v1h3v-1h7v1h5v1h13v-2h7v1h10v1h3v-2h7v2h3v-2h7v1h5v1h10v1h3v-1h5v-2h7v2h3v-4h7v1h5v2h15v2h3v-1h15v-1h5v-3h7v4h3v-1h5v-2h7v2h3v-1h5v-1h12v1h5v1h5v1h3v-1h7v1h3v-2h7v2h8v-1h7v1h5v2h3v-3h5v-1h17v1h5v1h5v1h3v-1h5v-3h7v3h3v-2h17v2h3v-1h7v1h8v-1h7v2h3v-2h7v2h3v-3h7v1h5v1h3v-1h12v1h3v-2h7v1h5v1h3v-1h12v1h13v-1h7v1h3v-1h10v-1h7v3h3v-1h5v-3h7v1h5v1h8v-1h7v1h3v-1h5v-1h7v1h5v1h3v-2h7v2h5v2h8v-3h7v3h3v-2h5v-3h7v3h3v-1h7v1h10v2h13v-1h5v-1h7v1h3v-1h12v1h8v-1h22v1h8v-1h7v1h3v-1h5v-1h7v1h5v1h10v1h8v-2h10v-1h7v1h5v1h18v-2h5v-2h7v2h10v2h13v-1h5v-1h7v1h5v1h3v-1h10v-2h7v3h3v-1h5v-1h5v-1h7v1h5v1h5v1h23v-3h7v3h3v-2h7v2h3v-3h12v2h5v1h15v1h3v-2h17v1h8v-4h7v3h10v1h3v-1h22v1h3v-1h10v-1h7v2h3v-1h7v1h3v-2h7v1h3v-2h7v1h10v2h3v-1h7v1h3v-3h7v2h3v-2h7v2h3v-2h7v2h5v1h3v-1h15v-2h12v1h5v2h3v-2h12v3h3v-2h7v1h3v-1h5v-1h12v2h3v-1h12v1h8v-2h10v-2h7v3h23v-1h17v2h8v-2h7v3h8v-2h7v1h8v-2h12v2h8v-3h7v2h5v1h3v-2h7v1h5v2h3v-2h7v1h13v-1h5v-1h7v2h8v-1h22v1h3v-2h7v3h3v-3h7v1h10v1h5v2h3v-3h5v-1h7v1h3v-1h7v1h5v1h13v-3h7v3h3v-1h22v1h3v-2h7v1h18v-2h7v3h18v-1h10v-2h7v2h5v1h8v-3h7v2h5v1h5v1h8v-1h10v-1h5v-1h7v1h15v1h3v-1h7v1h8v-1h5v-2h7v3h5v1h3v-3h12v1h13v-2h7v4h3v-1h5v-3h7v1h5v1h3v-1h7v2h8v-1h10v-1h7v1h5v1h3v-1h5v-1h7v2h8v-2h7v2h3v-2h7v1h3v-1h7v1h3v-1h12v1h5v1h8v-2h7v2h8v-2h7v1h10v1h8v-4h7v1h5v4h3v-1h5v-4h7v2h5v1h5v1h3v-2h5v-2h10v-14h7v3h5v3h5v4h10v4h10v1h25v2h3v-1h27v2h28v-1h7v1h3v-1h5v-2h7v3h5v1h3v-1h15v-1h7v1h3v-2h17v1h5v1h3v-2h5v-1h7v3h3v-1h10v-1h17v1h8v-2h7v2h5v1h3v-1h27v1h8v-2h7v2h3v-1h5v-1h7v1h8v-1h7v2h8v-2h5v-1h7v1h5v1h5v1h13v-4h7v4h8v-1h5v-1h12v3h3v-1h10v-1h10v-1h7v1h8v-1h7v3h8v-3h7v2h3v-1h10v-2h7v2h15v2h3v-2h7v1h8v-2h7v3h3v-1h5v-1h7v1h13v-1h5v-1h17v2h4V1153h-21v-1h-8v1h-12v-2h-3v2h-22v-1h-3v1h-5v1h-12v-1h-10v-1h-3v1h-37v-1h-10v-1h-3v1h-5v2h-7v-1h-3v1h-7v-1h-5v-1h-3v1h-7v-1h-3v1h-5v1h-7v-1h-3v1h-7v-1h-3v1h-7v-2h-5v-2h-3v3h-15v1h-7v-1h-5v-1h-3v2h-7v-3h-3v2h-5v1h-7v-1h-5v-1h-5v-1h-3v1h-15v1h-5v1h-7v-1h-3v1h-7v-1h-5v-1h-3v2h-7v-1h-5v-1h-13v3h-7v-2h-10v-1h-3v1h-7v-1h-8v2h-7v-1h-8v2h-7v-1h-10v-1h-3v2h-7v-3h-10v-1h-3v2h-12v-1h-3v4h-7v-3h-3v1h-7v-2h-3v1h-12v-1h-3v4h-7v-2h-5v-2h-3v3h-7v-3h-3v4h-5v1h-7v-2h-10v-2h-3v3h-7v-2h-3v6h-5v2h-5v7h-5v4h-7v-16h-5v-3h-3v1h-7v-1h-5v-2h-8v1h-5v1h-7v-1h-8v1h-7v-2h-3v1h-12v-1h-8v1h-5v1h-7v-2h-3v2h-7v-1h-5v-1h-23v1h-7v-1h-8v2h-12v-1h-5v-1h-8v2h-7v-1h-5v-1h-5v-1h-3v1h-5v2h-7v-1h-5v-1h-3v1h-7v-1h-3v1h-5v2h-7v-3h-8v2h-7v-2h-3v2h-12v-1h-5v-1h-13v2h-7v-1h-3v1h-10v1h-7v-2h-5v-2h-10v-1h-3v2h-5v1h-20v2h-7v-2h-5v-1h-3v2h-7v-1h-5v-1h-5v-2h-3v3h-20v1h-7v-3h-3v1h-5v1h-22v-1h-3v3h-7v-1h-5v-1h-5v-1h-8v1h-5v1h-7v-1h-8v2h-7v-3h-5v-1h-3v1h-5v1h-10v4h-7v-5h-13v3h-12v-1h-5v-1h-18v1h-7v-1h-3v2h-7v-1h-5v-1h-3v1h-7v-1h-15v-1h-13v2h-7v-1h-3v1h-12v-1h-13v1h-7v-1h-3v1h-7v-1h-5v-1h-8v2h-12v-3h-3v2h-7v-2h-3v1h-5v1h-7v-1h-15v-1h-18v2h-10v1h-12v-1h-5v-1h-5v-1h-3v3h-7v-2h-3v1h-5v1h-7v-1h-5v-1h-3v2h-7v-2h-8v1h-17v-2h-8v4h-7v-3h-5v-2h-3v3h-5v1h-7v-1h-3v1h-7v-1h-5v-2h-3v1h-5v1h-5v1h-7v-3h-3v2h-7v-1h-3v1h-7v-1h-3v2h-12v-1h-5v-1h-3v1h-7v-1h-3v1h-17v-1h-3v1h-7v-2h-3v1h-10v1h-7v-1h-3v2h-7v-1h-15v-1h-3v1h-7v-1h-8v1h-17v-1h-3v2h-7v-1h-15v-1h-3v1h-7v-1h-8v2h-7v-1h-15v-1h-3v1h-10v1h-7v-2h-3v1h-5v1h-7v-1h-10v-1h-3v1h-7v-1h-3v2h-5v3h-7v-5h-3v1h-7v-1h-13v1h-7v-1h-3v1h-5v1h-7v-2h-5v-1h-8v2h-17v-1h-3v4h-7v-5h-3v1h-15v1h-5v1h-7v-1h-23v2h-12v-1h-5v-1h-10v-1h-3v2h-7v-1h-5v-1h-3v1h-7v-1h-3v1h-5v2h-7v-1h-3v1h-7v-4h-3v3h-7v-3h-3v1h-15v1h-7v-1h-3v3h-7v-2h-8v1h-7v-2h-3v1h-5v1h-7v-1h-15v-2h-3v4h-7v-2h-3v2h-7v-2h-3v1h-12v-1h-3v1h-7v-2h-18v2h-7v-2h-3v2h-7v-3h-3v2h-10v1h-12v-1h-5v-1h-8v1h-5v1h-17v-2h-5v-1h-13v2h-15v1h-7v-2h-3v2h-7v-1h-8v1h-12v-1h-10v-1h-23v1h-12v-1h-3v2h-22v-1h-3v5h-7v-4h-5v-1h-10v-2h-3v4h-7v-4h-3v1h-10v1h-5v1h-7v-2h-3v1h-5v1h-5v1h-7v-2h-13v1h-7v-1h-5v-1h-3v2h-7v-1h-8v2h-7v-1h-10v-1h-5v-1h-10v-1h-3v1h-10v2h-7v-1h-5v-1h-8v1h-7v-1h-10v-1h-3v1h-5v4h-7v-3h-5v-1h-3v2h-7v-2h-15v-1h-3v2h-7v-1h-8v3h-7v-2h-3v1h-7v-2h-3v2h-7v-1h-5v-1h-3v1h-5v1h-7v-1h-8v2h-7v-2h-5v-2h-3v2h-5v1h-12v-2h-13v2h-17v-3h-3v1h-10v1h-17v-1h-3v2h-12v-2h-13v2h-7v-1h-10v-1h-8v1h-7v-1h-3v1h-17v-1h-3v2h-15v1h-7v-4h-8v2h-10v1h-7v-1h-8v1h-7v-1h-5v-1h-8v1h-5v1h-7v-2h-3v2h-7v-1h-5v-1h-3v1h-7v-2h-3v1h-15v3h-7v-2h-5v-1h-3v2h-7v-2h-3v2h-7v-3h-3v2h-10v2h-12v-3h-13v3h-12v-1h-5v-1h-3v4h-7v-5h-3v1h-7v-1h-3v1h-12v-1h-8v3h-7v-2h-10v-2h-3v2h-12v-2h-3v3h-7v-3h-8v2h-7v-1h-8v1h-15v1h-10v1h-7v-3h-3v2h-7v-1h-10v-1h-8v2h-12v-1h-8v1h-5v1h-12v-2h-10v-1h-5v-1h-8v2h-7v-2h-3v3h-12v-1h-3v1h-7v-1h-3v2h-7v-2h-5v-1h-3v2h-12v-2h-8v2h-5v2h-7v-2h-5v-1h-3v1h-7v-1h-13v2h-7v-3h-3v1h-17v-1h-3v1h-15v1h-22v-2h-8v1h-5v2h-7v-3h-3v2h-7v-1h-5v-2h-3v1h-5v1h-12v-1h-5v-1h-3v2h-20v2h-7v-2h-3v1h-5v1h-7v-3h-3v2h-12v-1h-10v-1h-8v3h-7v-4h-3v2h-12v-1h-5v-1h-3v1h-5v2h-7v-1h-5v-1h-3v2h-12v-2h-3v1h-17v-1h-3v3h-7v-2h-5v-1h-8v3h-7v-3h-5v-1h-3v1h-5v2h-12v-2h-8v3h-7v-1h-10v-1h-3v3h-7v-2h-5v-2h-13v1h-7v-1h-13v2h-7v-2h-3v1h-7v-1h-8v1h-15v1h-7v-2h-5v-1h-8v1h-10v1h-7v-1h-3v1h-5v1h-12v-1h-15v-1h-3v1h-5v1h-12v-1h-8v1h-7v-3h-3v2h-5v2h-7v-2h-5v-2h-3v3h-7v-1h-20v-2h-3v1h-7v-1h-3v3h-7v-2h-3v2h-5v1h-7v-3h-3v2h-7v-1h-13v2h-7v-3h-13v2h-12v-2h-3v1h-7v-1h-3v1h-5v1h-7v-2h-8v3h-7v-2h-3v1h-7v-1h-5v-2h-3v1h-10v3h-7v-2h-10v-1h-10v-1h-3v3h-7v-2h-8v2h-7v-1h-13v1h-7v-1h-5v-2h-3v3h-12v-2h-8v2h-7v-1h-15v-1h-3v2h-7v-1h-8v1h-7v-2h-3v1h-5v3h-7v-3h-5v-1h-3v1h-7v-1h-3v2h-7v-2h-8v1h-7v-1h-10v-1h-3v3h-7v-3h-3v1h-15v1h-7v-2h-3v3h-12v-1h-3v1h-7v-2h-5v-1h-3v1h-5v3h-7v-4h-3v1h-10v1h-5v1h-7v-1h-5v-1h-8v1h-10v1h-5v1h-7v-1h-15v-1h-5v-1h-5v-1h-8v1h-5v2h-7v-2h-13v1h-17v-2h-3v2h-5v1h-7v-1h-5v-1h-8v2h-7v-2h-8v1h-5v1h-7v-1h-10v-2h-3v2h-5v2h-7v-2h-3v1h-7v-2h-3v2h-7v-2h-8v2h-7v-1h-5v-1h-10v-1h-13v3h-5v3h-7v-4h-5v-1h-8v1h-5v2h-7v-2h-3v3h-7v-3h-5v-1h-3v2h-7v-3h-3v2h-7v-1h-13v3h-7v-4h-3v4h-7v-2h-8v1h-7v-3h-3v2h-10v2h-7v-1h-10v-1h-15v-1h-3v1h-5v4h-7v-4h-5v-1h-5v-1h-3v2h-7v-1h-3v2h-12v-2h-3v1h-7v-1h-3v1h-5v2h-7v-1h-5v-1h-3v1h-12v-3h-3v1h-5v1h-12v-1h-3v3h-7v-2h-13v1h-12v-2h-3v1h-12v-1h-5v-1h-3v2h-7v-1h-3v2h-7v-3h-3v1h-5v1h-7v-1h-5v-1h-3v3h-7v-2h-18v1h-10v1h-5v2h-7v-1h-5v-3h-20v-2h-3v2h-7v-1h-3v1h-5v1h-12v-2h-3v5h-7v-2h-5v-2h-3v1h-7v-2h-3v3h-7v-2h-3v1h-5v1h-5v1h-7v-2h-3v2h-7v-3h-13v2h-12v-1h-5v-1h-10v-1h-3v2h-5v2h-5v1h-7v-3h-5v-1h-8v1h-7v-1h-15v-1h-3v2h-12v-1h-8v1h-7v-2h-3v4h-7v-2h-5v-1h-13v1h-7v-2h-8v1h-10v1h-12v-2h-3v3h-7v-1h-20v-2h-8v2h-7v-1h-5v-1h-3v2h-5v1h-7v-1h-3v1h-7v-1h-15v-2h-3v2h-7v-1h-3v1h-10v1h-5v1h-7v-2h-3v1h-7v-2h-8v1h-5v1h-7v-1h-5v-1h-8v2h-7v-2h-18v3h-7v-1h-5v-3h-3v3h-7v-2h-10v-1h-3v2h-10v1h-12v-2h-10v-1h-3v1h-5v3h-12v-3h-13v1h-7v-1h-8v1h-12v-1h-38v2h-7v-1h-8v2h-7v-4h-3v1h-15v1h-10v1h-7v-2h-3v3h-7v-2h-5v-1h-13v1h-12v-3h-3v3h-5v1h-10v1h-7v-2h-5v-1h-3v1h-7v-2h-3v1h-5v3h-7v-1h-5v-1h-5v-1h-8v1h-7v-1h-8v1h-7v-1h-3v5h-7v-3h-3v1h-7v-2h-5v-1h-3v1h-10v2h-7v-2h-5v-1h-8v1h-7v-1h-3v2h-7v-2h-3v1h-7v-1h-3v3h-7v-3h-3v1h-12v-1h-10v-1h-3v3h-7v-1h-3v1h-7v-2h-8v1h-12v-2h-3v5h-7v-5h-8v3h-7v-2h-8v2h-12v-1h-3v1h-7v-2h-3v1h-7v-1h-3v2h-7v-1h-3v1h-7v-2h-3v1h-7v-1h-3v1h-10v3h-7v-2h-5v-2h-3v1h-7v-1h-8v1h-7v-1h-3v1h-7v-1h-3v2h-7v-1h-8v2h-12v-2h-5v-1h-8v1h-7v-1h-10v-1h-8v1h-5v1h-12v-1h-8v1h-10v1h-17v-2h-18v2h-7v-2h-3v1h-5v1h-7v-2h-3v1h-7v-2h-3v2h-7v-1h-13v1h-7v-1h-8v2h-7v-1h-3v2h-7v-2h-8v1h-12v-1h-5v-2h-3v1h-5v1h-7v-1h-8v2h-12v-1h-3v1h-7v-1h-5v-1h-8v1h-15v1h-7v-1h-3v1h-12v-2h-3v1h-12v-2h-8v2h-12v-1h-3v2h-7v-2h-23v3h-7v-2h-5v-2h-3v1h-5v1h-10v2h-7v-1h-10v-1h-5v-1h-3v1h-5v1h-12v-2h-3v2h-12v-1h-3v1h-5v1h-7v-3h-3v2h-7v-1h-5v-1h-18v2h-5v1h-7v-3h-3v2h-7v-1h-15v-1h-3v1h-5v1h-10v1h-7v-3h-13v2h-7v-2h-3v1h-10v1h-7v-2h-3v1h-5v1h-7v-2h-5v-1h-3v1h-5v1h-5v1h-7v-1h-5v-1h-3v2h-7v-2h-8v1h-7v-2h-8v1h-5v2h-7v-2h-8v1h-10v2h-7v-2h-18v1h-7v-2h-3v2h-7v-3h-13v1h-10v1h-5v2h-12v-2h-10v-1h-5v-1h-3v1h-5v1h-7v-2h-3v3h-7v-3h-3v1h-10v1h-5v1h-7v-2h-4Z"/>
<path fill="#008000" d="M1152 1208h4v-2h7v2h3v-1h7v2h3v-2h7v2h10v1h3v-2h5v-2h7v1h5v1h3v-2h7v2h10v2h3v-2h7v1h18v-3h7v2h8v-1h12v2h3v-2h7v1h20v1h3v-2h7v1h5v1h3v-2h7v2h3v-1h20v-1h12v1h3v-2h7v1h5v1h8v-1h5v-1h12v2h5v1h3v-1h15v-1h5v-3h7v4h5v1h3v-1h7v1h3v-3h7v4h3v-1h5v-1h7v1h13v-1h5v-2h7v1h5v1h5v1h3v-2h12v1h3v-1h12v1h3v-1h7v1h5v1h3v-1h7v1h3v-2h7v2h3v-2h7v1h5v2h3v-3h7v1h3v-1h7v2h3v-3h7v1h10v2h8v-1h10v-1h7v1h10v1h3v-1h5v-1h7v2h3v-2h7v1h3v-1h7v1h10v1h3v-1h10v-1h7v2h8v-2h7v2h13v-2h7v2h3v-3h7v2h5v1h3v-1h7v1h5v1h3v-2h7v1h3v-1h5v-2h7v1h10v2h3v-3h7v2h3v-2h7v2h10v1h3v-2h7v3h3v-2h10v-1h12v2h3v-2h5v-1h7v3h3v-1h12v1h3v-1h5v-1h7v1h3v-2h7v1h5v2h3v-1h7v3h3v-3h5v-1h12v2h3v-1h10v-3h7v2h8v-1h7v3h8v-2h7v1h3v-1h12v1h5v1h3v-1h10v-1h10v-1h7v2h5v1h3v-1h7v1h3v-2h7v2h3v-4h7v3h20v2h3v-4h7v2h3v-2h7v1h5v2h3v-6h7v4h10v3h3v-2h7v2h3v-2h10v-1h10v-1h7v1h5v2h3v-2h12v1h8v-1h7v1h3v-2h7v3h3v-1h7v1h3v-3h7v3h3v-1h17v2h3v-1h5v-2h7v3h3v-2h12v2h3v-2h7v1h3v-1h12v1h8v-2h7v2h8v-1h12v1h3v-1h5v-2h7v2h25v1h3v-1h5v-1h12v3h3v-1h15v-1h7v1h5v1h3v-1h5v-1h10v-1h7v2h5v1h3v-1h5v-2h7v1h15v2h3v-4h12v2h10v2h3v-5h7v3h18v-1h7v2h3v-1h12v1h3v-1h7v1h10v1h3v-2h5v-1h7v2h3v-1h7v1h3v-1h5v-1h7v1h5v1h3v-2h32v1h3v-1h7v2h3v-1h7v1h3v-1h32v1h13v-1h7v1h8v-1h15v-1h7v1h10v1h3v-2h7v1h8v-1h12v2h3v-1h10v-1h7v1h3v-1h7v3h3v-1h15v-2h12v1h10v1h8v-3h7v1h10v1h25v1h8v-2h7v1h5v1h3v-3h12v1h5v1h3v-1h7v1h8v-1h5v-2h7v4h8v-3h7v3h10v1h8v-1h5v-1h12v1h8v-3h7v2h3v-1h12v1h8v-1h7v2h3v-1h12v1h10v1h3v-3h7v1h13v-1h7v1h8v-1h7v2h3v-1h5v-1h7v1h13v-1h7v2h3v-1h7v1h5v1h3v-2h15v-1h7v2h3v-3h7v3h8v-3h7v1h5v1h10v1h3v-1h7v1h3v-3h7v4h3v-1h10v-4h7v2h5v2h3v-1h12v1h3v-3h7v3h5v1h3v-3h7v1h23v-1h7v1h3v-1h7v1h5v1h8v-1h7v1h3v-1h7v1h3v-3h12v3h3v-1h17v1h5v1h8v-1h5v-1h10v-1h7v1h15v1h3v-2h12v1h3v-1h7v1h3v-1h7v1h5v1h13v-1h5v-1h7v1h5v1h3v-1h15v-1h5v-1h7v3h3v-3h5v-1h7v2h10v1h5v1h3v-1h5v-1h5v-1h7v2h15v1h3v-2h7v2h8v-1h10v-1h12v2h3v-1h12v2h3v-3h7v1h13v-1h15v-1h7v2h18v-1h7v2h3v-2h12v1h5v1h5v2h3v-3h5v-2h7v2h3v-2h7v2h10v1h3v-3h7v2h10v1h3v-1h12v1h8v-1h7v1h3v-1h17v1h3v-2h7v2h3v-1h5v-1h7v1h18v-1h5v-2h7v4h3v-1h7v1h3v-3h7v4h3v-1h5v-1h10v-1h5v-2h7v2h10v2h3v-2h7v1h10v1h3v-1h27v1h8v-2h7v1h3v-1h12v1h5v1h3v-2h12v2h3v-3h7v2h5v2h3v-2h10v-3h7v2h5v1h5v1h8v-2h7v1h5v1h3v-1h5v-2h7v2h10v2h3v-2h10v-2h7v1h5v1h15v1h3v-2h7v1h3v-1h17v1h10v1h3v-1h15v-1h7v1h5v1h3v-1h25v-3h7v4h3v-1h12v1h3v-1h10v-1h12v2h5v1h3v-1h5v-3h7v1h8v-1h7v1h3v-2h7v4h3v-3h7v1h3v-1h7v2h10v2h3v-2h10v-1h7v1h3v-1h12v1h3v-1h7v1h5v1h5v1h3v-1h5v-1h5v-1h7v1h5v1h3v-1h5v-1h7v1h3v-1h7v2h3v-1h5v-2h7v3h8v-1h22v1h5v1h8v-1h5v-1h10v-2h7v1h5v2h3v-1h5v-1h7v2h3v-1h7v1h3v-1h5v-4h7v1h5v3h5v1h8v-2h7v2h3v-1h7v1h18v-2h7v2h3v-1h7v1h8v-1h5v-1h7v2h3v-2h7v2h3v-1h7v2h3v-1h7v1h3v-4h7v1h5v2h3v-3h7v3h3v-1h10v-3h7v4h3v-1h5v-2h7v2h3v-1h7v1h5v1h3v-2h7v1h3v-2h12v3h3v-1h5v-1h7v2h3v-1h7v1h13v-1h5v-2h7v4h3v-4h5v-1h7v3h5v1h3v-1h10v-1h5v-1h7v2h3v-2h7v1h3v-1h7v3h3v-1h10v-1h7v2h5v1h3v-3h7v1h10v1h3v-1h5v-2h7v2h35v1h3v-1h22v2h3v-1h5v-1h7v1h3v-11h7v10h3v-1h7v1h5v1h3v-1h5v-3h7v4h3v-1h10v-1h17v2h3v-1h7v1h3v-2h5v-1h7v1h20v1h15v1h8v-1h7v2h3v-2h5v-3h7v3h3v-1h5v-1h7v3h3v-3h7v3h3v-2h20v-1h7v2h5v1h3v-2h7v2h8v-3h7v1h10v2h8v-2h7v1h3v-1h7v2h3v-2h5v-2h7v4h3v-1h7v1h3v-1h7v1h3v-1h15v-1h7v2h3v-2h12v2h23v-1h15v-3h7v2h13v-1h7v1h5v1h3v-1h7v2h3v-1h12v1h3v-2h7v1h3v-3h7v4h8v-1h17v1h3v-1h12v1h3v-1h5v-1h7v1h10v1h3v-2h17v1h5v1h3v-2h7v1h15v1h3v-1h12v1h5v1h8v-1h5v-1h5v-1h7v2h3v-1h7v1h3v-3h7v1h3v-1h5v-1h7v1h5v3h5v1h8v-2h10v-1h7v1h5v1h8v-2h7v1h3v-1h7v3h3v-1h10v-1h7v2h3v-3h7v1h15v1h3v-5h7v4h10v2h3v-1h5v-1h5v-1h12v1h5v1h13v-2h12v1h3v-3h12v2h8v-1h12v2h20v1h3v-1h7v2h3v-1h5v-1h5v-2h7v1h5v1h30v1h10v1h8v-1h5v-1h12v1h5v1h3v-1h15v-1h5v-1h7v2h3v-1h5v-1h17v1h5v1h3v-3h7v3h3v-2h22v1h10v1h3v-2h7v1h3v-1h5v-3h7v4h8v-1h12v1h8v-2h7v1h15v2h3v-1h10v-1h12v1h5v1h3v-1h5v-1h7v1h10v1h3v-2h7v1h5v1h3v-2h7v1h3v-2h7v1h8v-3h7v6h3v-1h15v-1h5v-1h7v2h3v-2h7v1h8v-1h22v2h3v-1h12v2h3v-1h5v-1h5v-1h7v1h5v1h8v-3h7v1h3v-1h7v1h5v1h13v-1h7v1h3v-1h5v-2h7v2h5v1h15v1h3v-4h7v3h3v-1h7v1h8v-2h7v3h5v1h3v-1h5v-3h7v2h10v1h3v-1h17v1h3v-2h7v1h3v-3h7v2h10v3h3v-2h7v1h8v-3h7v4h3v-2h5v-2h5v-1h7v1h5v2h3v-2h7v3h3v-1h12v2h3v-3h7v1h3v-1h12v1h5v1h3v-2h7v1h10v1h3v-2h7v2h3v-1h12v1h3v-1h5v-1h7v2h8v-1h12v1h3v-2h5v-1h7v4h5v1h3v-2h5v-1h12v1h3v-3h7v3h8v-1h5v-1h7v1h5v1h3v-2h7v2h13v-1h7v1h18v-1h7v1h3v-2h7v1h8v-1h5v-1h7v2h5v2h3v-3h5v-1h7v1h5v2h3v-1h15v-2h7v2h8v-1h7v1h3v-2h7v3h3v-2h5v-1h7v4h3v-1h5v-2h7v1h8v-1h7v1h3v-3h7v4h3v-2h7v1h5v1h3v-1h7v1h3v-2h7v1h10v2h3v-2h12v1h3v-2h7v1h20v1h3v-2h10v-1h7v4h3v-1h5v-1h15v-1h7v2h5v1h3v-1h5v-2h12v1h10v2h3v-3h20v-1h7v3h8v-1h7v2h3v-2h5v-1h12v1h5v1h3v-2h7v1h3v-1h7v1h20v1h3v-3h7v2h8v-1h7v2h3v-3h7v3h13v-3h7v2h3v-2h7v1h10v1h3v-1h12v2h3v-1h10v-2h5v-1h7v2h5v1h3v-3h7v4h3v-1h7v1h8v-1h5v-2h7v3h10v1h3v-2h12v1h3v-2h7v3h3v-3h7v1h3v-2h7v2h5v1h5v1h3v-3h7v1h13v-1h7v1h5v2h3v-2h10v-1h7v1h5v1h3v-1h5v-4h7v4h3v-2h7v3h3v-1h7v1h13v-1h5v-1h7v1h3v-2h17v1h5v2h3v-1h12v1h3v-1h12v2h3v-1h17v1h3v-2h5v-2h7v1h5v1h8v-1h7v1h3v-2h12v2h5v1h3v-1h5v-1h7v1h3v-1h7v2h3v-1h7v1h3v-1h7v1h5v1h3v-1h5v-1h10v-1h7v1h10v1h3v-3h7v2h8v-1h5v-1h7v1h10v1h5v1h3v-2h5v-1h7v2h5v1h3v-1h5v-2h7v2h15v1h3v-2h7v2h13v-1h5v-1h7v1h3v-1h12v1h3v-2h7v1h5v1h3v-1h5v-1h7v2h3v-1h7v2h3v-1h5v-1h7v2h3v-2h7v2h3v-2h7v1h3v-1h7v2h3v-3h7v1h4V1221h-16v-1h-3v1h-5v1h-5v1h-7v-2h-18v1h-12v-1h-5v-1h-3v2h-12v-2h-3v2h-7v-1h-8v1h-10v1h-7v-2h-3v1h-7v-2h-3v4h-7v-2h-8v1h-7v-1h-5v-1h-8v1h-5v1h-7v-1h-5v-1h-3v1h-22v-1h-8v1h-7v-1h-8v2h-7v-2h-8v1h-7v-1h-3v2h-7v-2h-23v1h-5v2h-7v-2h-10v-1h-3v1h-12v-1h-8v1h-5v1h-12v-1h-8v1h-7v-2h-3v2h-12v-2h-3v3h-7v-3h-8v1h-5v1h-5v2h-7v-3h-5v-1h-3v1h-12v-1h-5v-1h-5v-1h-3v2h-20v2h-7v-1h-5v-1h-18v1h-7v-2h-3v1h-22v-1h-3v2h-5v1h-7v-2h-15v-1h-8v1h-5v1h-17v-1h-3v1h-5v2h-7v-1h-5v-3h-8v2h-10v2h-7v-3h-10v-1h-3v2h-7v-1h-3v1h-7v-2h-8v2h-5v2h-7v-1h-5v-3h-3v3h-7v-1h-5v-1h-8v1h-7v-2h-3v3h-7v-2h-10v-1h-3v3h-12v-1h-15v-1h-3v1h-5v1h-7v-2h-5v-1h-3v3h-7v-2h-3v2h-5v1h-7v-2h-3v1h-7v-1h-20v-2h-5v-1h-3v3h-5v1h-17v-1h-20v-1h-3v2h-7v-1h-8v2h-7v-1h-5v-1h-10v-2h-3v1h-5v2h-7v-1h-5v-1h-3v1h-5v1h-7v-2h-3v2h-5v1h-7v-4h-3v1h-15v1h-7v-1h-8v1h-7v-2h-3v2h-7v-1h-8v1h-7v-1h-8v1h-5v1h-5v1h-7v-3h-3v2h-5v1h-7v-3h-10v-1h-3v1h-15v1h-5v2h-7v-2h-5v-1h-8v1h-5v1h-7v-2h-10v-1h-13v1h-5v1h-5v1h-7v-4h-3v2h-7v-1h-8v2h-10v1h-7v-1h-13v2h-7v-4h-3v2h-5v1h-7v-1h-3v1h-7v-1h-8v3h-7v-5h-3v2h-5v2h-7v-1h-5v-1h-10v-1h-3v1h-7v-2h-3v2h-7v-1h-3v1h-10v1h-10v1h-7v-2h-3v1h-7v-2h-8v2h-12v-3h-3v1h-5v1h-10v1h-17v-2h-3v2h-12v-2h-3v2h-7v-1h-5v-1h-5v-1h-3v3h-7v-2h-3v4h-7v-3h-5v-1h-10v-1h-3v3h-7v-2h-8v2h-5v1h-7v-1h-5v-1h-5v-1h-3v1h-12v-1h-5v-1h-8v1h-5v1h-12v-1h-3v2h-7v-1h-8v1h-5v1h-7v-3h-8v1h-5v1h-7v-3h-3v1h-5v1h-7v-1h-3v4h-7v-1h-5v-4h-3v1h-17v-1h-3v1h-5v2h-7v-1h-10v-1h-3v2h-7v-1h-5v-1h-3v1h-7v-1h-18v1h-5v1h-7v-1h-5v-1h-8v2h-7v-2h-3v1h-7v-1h-8v1h-7v-2h-3v1h-10v2h-7v-1h-10v-1h-8v3h-7v-2h-3v2h-7v-2h-5v-3h-3v2h-5v1h-10v1h-7v-2h-18v2h-12v-1h-3v2h-7v-2h-5v-1h-8v1h-10v2h-7v-1h-5v-1h-5v-1h-5v-1h-8v2h-7v-1h-3v1h-7v-2h-3v2h-17v-2h-3v1h-5v1h-15v1h-12v-2h-3v2h-7v-2h-3v1h-7v-1h-3v1h-5v1h-7v-1h-15v-1h-3v1h-7v-1h-5v-1h-3v1h-10v1h-12v-1h-8v3h-7v-1h-3v1h-7v-1h-8v1h-7v-3h-3v1h-5v1h-7v-3h-3v4h-7v-1h-10v-3h-3v4h-7v-2h-13v1h-7v-3h-13v1h-22v-1h-3v2h-10v1h-7v-3h-3v1h-20v1h-10v1h-7v-2h-3v1h-5v1h-7v-2h-8v1h-5v2h-7v-1h-5v-2h-5v-1h-3v1h-5v1h-12v-1h-8v1h-10v1h-7v-2h-3v1h-7v-1h-3v1h-7v-1h-3v1h-7v-1h-3v1h-5v1h-5v1h-7v-2h-5v-1h-8v1h-12v-1h-3v1h-10v2h-7v-2h-8v1h-12v-2h-3v1h-5v1h-7v-1h-10v-1h-8v1h-10v1h-7v-2h-18v1h-10v1h-7v-1h-3v1h-7v-1h-5v-1h-5v-1h-8v2h-27v-1h-5v-1h-3v2h-7v-1h-3v1h-7v-1h-3v3h-7v-2h-5v-1h-13v1h-7v-3h-3v2h-7v-1h-3v1h-5v1h-7v-1h-3v1h-5v1h-7v-1h-10v-1h-3v1h-7v-1h-5v-1h-8v1h-10v2h-7v-1h-3v1h-7v-2h-8v1h-37v-1h-8v1h-7v-2h-8v1h-10v2h-7v-2h-3v1h-7v-1h-3v1h-5v2h-7v-3h-5v-1h-8v1h-5v2h-7v-1h-5v-1h-3v1h-7v-1h-3v1h-10v1h-12v-3h-3v1h-7v-1h-3v2h-10v1h-7v-2h-13v1h-7v-1h-8v1h-7v-1h-3v1h-7v-1h-5v-1h-8v1h-5v1h-10v2h-7v-3h-15v-1h-3v2h-12v-1h-3v1h-7v-1h-8v1h-5v1h-12v-1h-15v-1h-8v2h-7v-1h-10v-1h-8v1h-15v2h-7v-2h-3v1h-7v-1h-3v1h-12v-2h-20v-1h-3v2h-7v-2h-3v1h-5v1h-7v-2h-10v-1h-3v2h-15v1h-5v1h-7v-2h-8v2h-22v-2h-3v1h-7v-1h-5v-1h-3v3h-7v-3h-3v2h-5v1h-7v-3h-3v2h-7v-2h-3v2h-7v-1h-8v2h-7v-3h-3v2h-7v-1h-8v1h-5v1h-10v1h-7v-3h-3v2h-7v-2h-3v1h-10v2h-7v-3h-18v1h-5v2h-7v-2h-3v1h-7v-1h-5v-1h-3v3h-7v-2h-3v1h-7v-2h-10v-1h-3v2h-7v-1h-5v-1h-3v1h-5v2h-7v-2h-5v-1h-3v1h-7v-1h-3v2h-15v1h-12v-2h-3v1h-10v1h-7v-1h-3v1h-7v-1h-23v1h-7v-2h-3v1h-12v-1h-8v1h-7v-1h-3v3h-7v-4h-3v2h-5v2h-7v-3h-3v2h-12v-2h-3v2h-7v-1h-10v-1h-8v1h-7v-1h-3v2h-12v-3h-3v1h-7v-1h-3v2h-5v2h-7v-1h-5v-2h-3v2h-7v-1h-15v-1h-5v-1h-8v3h-7v-2h-3v1h-7v-1h-13v1h-7v-1h-3v1h-5v3h-7v-4h-10v-1h-3v1h-20v1h-5v2h-7v-4h-3v1h-5v1h-7v-1h-8v2h-7v-2h-3v1h-7v-2h-3v2h-7v-1h-8v3h-7v-2h-3v1h-7v-1h-5v-2h-3v2h-10v1h-7v-1h-10v-2h-3v4h-7v-3h-18v2h-7v-1h-10v-1h-13v1h-12v-1h-5v-2h-3v1h-5v1h-5v2h-7v-2h-3v1h-7v-1h-8v4h-7v-4h-8v1h-7v-2h-3v3h-12v-1h-5v-2h-3v3h-7v-1h-5v-1h-5v-1h-3v2h-5v1h-7v-3h-3v2h-12v-1h-3v2h-7v-3h-3v2h-20v1h-7v-1h-8v1h-7v-1h-5v-1h-3v1h-7v-1h-10v-1h-3v2h-15v2h-12v-3h-3v1h-7v-1h-3v1h-5v1h-12v-3h-3v1h-5v1h-5v1h-7v-1h-5v-1h-5v-1h-3v1h-5v1h-5v2h-7v-2h-10v-1h-3v1h-7v-2h-3v1h-5v1h-17v-1h-3v1h-7v-1h-3v1h-5v1h-7v-1h-5v-1h-15v-1h-3v3h-7v-1h-3v1h-7v-1h-3v1h-7v-2h-5v-1h-3v1h-5v1h-5v1h-7v-2h-5v-1h-3v1h-7v-1h-3v3h-7v-3h-8v1h-12v-1h-3v3h-7v-1h-5v-1h-18v1h-7v-1h-3v1h-15v1h-7v-4h-3v3h-5v1h-7v-1h-5v-2h-3v3h-7v-2h-18v1h-15v1h-7v-1h-5v-1h-13v1h-7v-1h-3v1h-7v-1h-3v2h-7v-2h-3v2h-12v-2h-8v1h-7v-1h-3v1h-7v-1h-8v1h-7v-1h-5v-1h-3v5h-7v-4h-8v1h-10v2h-7v-4h-3v2h-7v-2h-3v3h-7v-3h-3v1h-5v3h-7v-2h-5v-1h-3v1h-5v2h-7v-3h-3v3h-7v-2h-5v-1h-5v-1h-3v1h-10v1h-7v-1h-8v1h-10v1h-7v-3h-3v3h-7v-1h-5v-1h-3v1h-5v1h-7v-3h-3v3h-7v-2h-10v-1h-13v2h-5v1h-5v1h-7v-2h-5v-2h-3v3h-7v-1h-5v-1h-8v1h-5v1h-7v-2h-5v-1h-3v1h-5v1h-7v-2h-3v2h-5v4h-7v-4h-3v2h-12v-3h-10v-1h-8v4h-12v-3h-5v-1h-3v1h-5v1h-5v1h-7v-1h-5v-1h-8v1h-5v1h-7v-2h-23v1h-7v-1h-5v-1h-3v1h-10v1h-12v-1h-8v1h-5v1h-7v-1h-3v1h-7v-1h-3v1h-7v-2h-5v-1h-3v1h-5v1h-10v1h-7v-1h-5v-1h-3v1h-7v-1h-3v1h-7v-1h-3v1h-7v-2h-3v3h-5v1h-7v-3h-3v4h-7v-3h-3v1h-5v1h-7v-4h-3v2h-12v-1h-3v3h-7v-1h-3v1h-7v-2h-3v1h-17v-1h-10v-1h-3v1h-7v-1h-3v1h-12v-1h-5v-1h-3v1h-7v-1h-3v1h-10v1h-7v-1h-5v-1h-3v2h-12v-1h-3v2h-12v-1h-3v1h-12v-1h-15v-1h-15v-1h-3v1h-10v1h-12v-1h-3v3h-7v-3h-3v1h-7v-1h-5v-1h-3v1h-5v2h-7v-3h-3v2h-7v-1h-13v4h-7v-3h-5v-1h-3v2h-7v-1h-5v-1h-3v1h-10v2h-17v-4h-8v2h-12v-1h-3v2h-7v-1h-10v-1h-3v1h-7v-1h-3v1h-7v-1h-3v1h-5v2h-7v-4h-3v1h-5v1h-7v-1h-8v2h-7v-1h-10v-1h-3v4h-7v-2h-5v-1h-13v2h-5v1h-7v-2h-5v-1h-5v-1h-3v1h-12v-1h-35v-1h-3v1h-5v2h-7v-2h-3v1h-12v-2h-8v1h-5v1h-22v-1h-3v3h-5v1h-7v-3h-5v-3h-3v1h-5v2h-12v-2h-3v1h-5v2h-7v-2h-3v1h-17v-1h-5v-1h-3v3h-7v-1h-5v-1h-3v1h-5v1h-7v-2h-5v-1h-3v1h-5v1h-7v-1h-5v-1h-3v1h-5v2h-7v-3h-3v1h-15v1h-5v2h-7v-3h-8v3h-7v-4h-3v1h-17v-1h-3v1h-10v1h-17v-1h-5v-1h-8v3h-7v-2h-3v2h-12v-2h-5v-1h-3v3h-12v-1h-3v3h-7v-4h-5v-1h-3v2h-5v1h-7v-1h-5v-1h-3v1h-12v-1h-8v4h-7v-3h-5v-2h-3v1h-5v1h-20v1h-7v-1h-3v2h-7v-1h-5v-3h-3v2h-10v2h-7v-2h-5v-1h-8v1h-5v1h-7v-1h-10v-1h-3v2h-7v-2h-3v1h-7v-1h-13v1h-12v-2h-3v1h-5v1h-5v2h-7v-2h-5v-1h-3v1h-5v1h-5v1h-5v1h-7v-1h-5v-1h-5v-2h-8v1h-12v-1h-3v1h-7v-1h-3v2h-7v-2h-3v1h-12v-1h-8v1h-12v-1h-3v1h-7v-3h-3v2h-7v-1h-3v2h-5v1h-7v-2h-3v1h-7v-1h-3v1h-5v1h-7v-2h-3v3h-7v-2h-3v1h-7v-2h-3v1h-7v-1h-3v3h-7v-2h-3v2h-7v-3h-3v1h-12v-1h-3v1h-17v-1h-15v-1h-8v2h-7v-2h-3v2h-5v1h-7v-2h-3v1h-7v-1h-13v2h-7v-2h-10v-1h-3v1h-5v3h-7v-3h-8v1h-7v-2h-3v1h-10v1h-12v-1h-3v1h-5v2h-7v-3h-15v-1h-8v1h-12v-1h-3v3h-7v-1h-10v-1h-8v1h-7v-1h-3v1h-7v-2h-8v5h-7v-4h-14Z"/>
<path fill="#000000" d="M1152 1277h4v-1h7v1h10v1h3v-1h5v-1h7v1h3v-1h17v1h8v-1h7v1h3v-2h7v2h3v-2h7v2h5v1h3v-2h17v1h3v-1h12v1h3v-2h12v3h3v-2h7v2h3v-2h17v2h3v-1h10v-1h5v-1h7v1h3v-2h7v2h8v-1h5v-2h7v4h8v-1h5v-1h17v2h3v-1h12v1h13v-1h7v1h3v-2h5v-2h7v4h5v1h3v-1h5v-1h5v-1h7v1h3v-1h7v1h13v-1h7v2h5v1h3v-1h5v-1h5v-1h7v1h5v1h15v1h3v-2h7v1h3v-1h5v-1h7v1h3v-2h7v3h18v-1h7v1h3v-2h7v1h18v-1h7v2h8v-2h5v-1h7v2h8v-1h7v2h8v-1h5v-1h7v2h3v-1h7v1h10v1h3v-1h5v-2h7v3h3v-1h7v1h3v-1h5v-3h7v2h13v-1h7v2h8v-1h17v1h3v-1h10v-2h7v3h3v-1h10v-1h7v1h3v-2h7v3h3v-1h7v1h8v-2h7v1h10v2h3v-4h7v4h3v-4h7v3h13v-1h27v1h3v-2h7v3h3v-1h10v-2h12v1h5v1h13v-1h5v-1h17v1h10v1h8v-1h7v2h18v-1h5v-1h7v2h3v-2h7v1h3v-3h7v4h3v-2h10v-2h7v2h5v1h3v-1h5v-1h7v1h5v1h3v-1h5v-1h7v1h5v1h13v-2h7v2h8v-2h7v2h5v2h3v-2h12v1h3v-3h12v1h8v-2h7v4h3v-2h7v1h8v-2h7v2h8v-1h12v1h8v-1h7v1h3v-2h7v2h5v1h13v-1h5v-1h7v1h3v-1h5v-1h7v1h5v1h13v-1h5v-1h7v2h3v-1h5v-1h7v1h5v1h8v-2h7v2h5v1h3v-3h5v-1h7v1h5v1h3v-2h7v3h3v-1h7v1h5v1h3v-1h15v-2h7v2h3v-1h5v-2h7v2h5v1h8v-2h7v1h5v1h13v-2h12v1h15v1h3v-1h5v-1h7v1h10v1h3v-1h10v-1h7v2h3v-1h7v2h3v-1h5v-1h7v1h3v-1h7v2h3v-1h5v-1h5v-1h12v1h5v1h3v-1h7v1h3v-1h5v-1h17v1h5v1h3v-2h7v2h3v-2h7v2h3v-2h7v3h3v-2h7v1h8v-2h7v3h8v-2h7v1h3v-2h5v-2h7v3h15v1h3v-1h17v2h3v-1h5v-1h5v-1h12v2h3v-1h17v1h3v-1h17v1h3v-1h5v-2h7v2h5v1h3v-1h12v1h8v-1h7v1h3v-2h5v-3h7v6h3v-2h5v-3h7v3h3v-1h7v1h5v1h3v-1h12v1h8v-2h7v1h5v1h3v-2h7v1h13v-1h7v3h3v-1h5v-3h7v2h15v1h3v-2h17v2h3v-1h12v1h13v-1h10v-2h7v2h3v-2h7v2h3v-1h12v2h5v2h3v-3h7v2h8v-2h7v3h3v-2h10v-2h17v1h5v2h3v-2h12v1h5v1h3v-1h5v-2h7v2h8v-4h7v4h8v-2h12v1h5v1h3v-1h7v1h3v-1h7v1h8v-3h7v3h3v-3h7v2h10v2h8v-1h5v-1h10v-1h7v1h5v1h10v1h3v-2h7v3h3v-1h5v-1h5v-2h12v1h5v1h3v-3h7v2h3v-1h5v-5h7v6h3v-5h7v4h5v1h3v-3h7v3h3v-2h7v1h8v-3h7v2h5v1h3v-4h7v3h15v4h3v-1h5v-1h17v3h3v-2h5v-1h7v1h3v-1h7v2h3v-1h12v1h3v-2h17v1h5v1h3v-2h5v-2h7v2h5v1h13v-4h7v4h8v-2h7v2h3v-1h7v1h3v-2h5v-1h7v3h3v-1h7v1h8v-2h7v1h10v1h13v-2h7v1h10v1h10v1h3v-1h7v1h3v-1h7v1h3v-1h5v-1h7v1h3v-1h7v2h8v-2h5v-1h7v2h8v-1h12v1h3v-1h7v1h3v-1h12v2h13v-4h7v2h3v-2h7v2h5v1h13v-1h5v-1h7v3h3v-1h5v-2h7v1h10v1h18v-2h12v1h5v1h3v-2h5v-2h7v5h3v-2h7v1h3v-2h7v1h3v-2h7v3h18v-1h5v-4h7v4h10v1h5v1h3v-1h7v1h3v-1h5v-3h7v2h8v-1h7v1h15v1h5v1h3v-2h5v-2h7v3h8v-2h7v2h8v-1h7v1h3v-1h10v-3h7v4h3v-2h7v2h3v-1h12v1h8v-1h10v-2h7v3h3v-2h7v1h3v-2h7v2h5v1h8v-3h7v3h13v-1h12v1h8v-1h10v-2h7v2h8v-1h7v1h5v1h13v-1h10v-1h7v1h5v1h8v-2h7v1h10v1h3v-1h12v1h3v-1h5v-1h7v2h3v-2h7v1h3v-1h7v2h3v-1h5v-1h12v4h3v-3h5v-1h7v2h3v-1h5v-2h7v3h8v-1h12v2h3v-3h7v2h8v-2h7v2h8v-2h12v2h13v-1h5v-3h7v3h10v1h10v1h3v-2h7v2h3v-3h7v2h3v-1h10v-2h7v1h5v1h8v-4h7v6h3v-1h25v-1h12v1h3v-2h7v3h3v-1h5v-1h22v1h3v-1h7v2h8v-2h17v1h23v-2h7v1h3v-2h7v3h3v-1h7v2h3v-1h5v-1h12v1h8v-1h10v-2h7v3h5v1h3v-1h5v-2h7v1h3v-2h7v2h5v1h3v-1h5v-1h12v2h8v-1h12v1h3v-2h7v1h5v1h3v-1h20v-1h7v1h5v2h3v-2h7v1h5v1h3v-2h7v1h8v-1h10v-1h7v1h5v1h18v-1h15v-1h7v2h13v-1h5v-1h7v3h3v-2h15v-1h7v2h8v-1h5v-1h7v1h5v2h3v-1h10v-2h7v1h5v1h3v-1h10v-1h7v2h8v-3h7v2h5v1h5v1h8v-2h5v-1h7v2h8v-2h7v1h5v2h3v-2h7v1h3v-2h7v2h8v-1h7v1h3v-2h7v1h5v1h10v1h3v-1h15v-1h5v-2h7v3h3v-1h7v1h5v1h3v-2h12v3h3v-3h12v1h5v1h3v-1h5v-2h7v1h5v1h28v-2h7v3h3v-1h10v-1h7v1h3v-1h7v2h3v-3h7v2h5v1h3v-1h5v-1h5v-2h7v2h3v-3h7v4h3v-1h5v-1h7v1h3v-1h7v1h5v1h8v-1h17v1h13v-1h12v2h3v-1h5v-2h7v1h5v2h8v-3h7v2h8v-2h17v1h5v1h5v1h3v-1h5v-1h7v1h13v-2h7v1h5v1h3v-1h7v1h3v-1h7v3h3v-3h7v2h3v-1h5v-1h10v-1h7v1h3v-1h7v1h3v-2h7v3h8v-1h5v-1h7v2h3v-1h7v2h3v-1h5v-1h12v2h3v-1h5v-2h5v-1h7v4h3v-1h5v-1h7v1h10v1h3v-2h12v1h5v1h3v-1h10v-1h5v-1h7v1h5v2h8v-1h5v-1h7v1h3v-4h7v2h5v2h13v-1h12v1h3v-2h5v-1h7v3h3v-2h12v2h3v-2h7v1h5v1h23v-1h10v-1h5v-1h7v1h10v3h3v-1h10v-1h10v-1h7v2h3v-2h7v2h13v-2h7v2h8v-1h12v2h3v-1h5v-2h7v1h3v-1h5v-1h7v2h15v1h8v-1h7v1h28v-2h7v1h3v-1h7v1h10v1h3v-2h7v2h3v-1h5v-1h7v1h10v1h3v-2h12v1h5v1h3v-2h7v2h3v-2h5v-2h7v4h3v-1h7v2h3v-1h5v-3h7v1h5v1h8v-2h7v3h23v-1h5v-1h7v2h3v-3h7v3h8v-1h7v1h18v-1h12v1h13v-2h7v1h5v1h3v-1h10v-1h7v2h13v-1h10v-2h7v3h3v-2h7v2h5v1h3v-1h5v-1h12v2h3v-2h10v-1h7v2h3v-2h7v3h3v-2h5v-1h12v1h18v-3h7v2h10v1h10v1h10v1h10v1h3v-2h5v-2h7v2h3v-1h10v-1h7v2h3v-2h5v-2h7v3h10v1h3v-2h5v-50h7v4h5v24h5v20h5v2h5v3h3v-1h5v-2h7v2h3v-1h7v1h3v-4h7v2h3v-6h7v6h5v1h3v-19h7v3h5v17h3v-1h10v-1h5v-10h7v2h5v6h5v3h8v-1h7v3h8v-1h10v-1h7v1h3v-2h17v2h3v-2h12v2h23v-1h5v-1h17v1h3v-11h7v4h5v8h3v-1h10v-1h7v3h3v-2h7v1h8v-1h7v1h8v-1h5v-1h7v1h5v3h3v-1h5v-2h7v1h5v1h3v-1h15v-2h7v2h8v-1h7v1h3v-2h7v3h3v-2h12v1h3v-2h7v1h5v1h13v-1h5v-1h7v2h3v-2h7v1h3v-1h7v1h8v-1h7v1h10v1h10v2h3v-2h7v1h3v-1h5v-2h7v2h13v-1h10v-1h7v2h3v-1h10v-2h7v2h10v1h3v-1h7v1h3v-1h7v2h8v-2h7v2h3v-1h5v-2h12v2h5v1h3v-2h12v1h3v-1h7v1h10v1h3v-2h12v2h3v-1h5v-1h7v1h8v-2h7v1h5v2h3v-2h15v-1h7v1h5v2h3v-2h7v1h5v1h3v-2h7v1h3v-2h7v1h5v2h3v-2h7v1h18v-1h12v1h3v-3h7v3h3v-1h7v2h3v-2h7v1h5v1h3v-2h7v2h3v-3h7v1h10v1h3v-1h12v1h3v-1h7v1h8v-1h17v1h15v1h13v-1h10v-1h5v-2h7v2h3v-1h7v2h3v-1h15v-1h7v3h3v-1h12v2h8v-3h7v1h3v-1h5v-3h7v4h3v-17h7v4h5v12h5v1h10v1h13v-1h5v-1h10v-2h7v2h5v1h3v-1h7v1h3v-1h5v-1h10v-1h7v4h3v-2h7v1h13v-1h12v1h3v-3h22v2h8v-3h7v1h3v-17h7v6h5v12h3v-1h7v2h3v-3h7v1h5v4h3v-1h5v-3h7v1h3v-3h7v2h5v2h3v-4h7v1h5v3h10v1h10v1h3v-1h20v-2h7v2h3v-1h12v1h3v-4h7v3h3v-1h7v1h5v1h8v-1h7v3h3v-2h10v-1h7v1h13v-1h16V1288h-4v3h-7v-2h-3v2h-12v-2h-13v2h-5v1h-5v1h-7v-3h-3v2h-7v-1h-5v-2h-3v2h-7v-2h-3v1h-10v1h-7v-1h-3v1h-7v-1h-3v2h-7v-2h-3v1h-7v-1h-8v3h-7v-2h-30v-1h-8v3h-7v-1h-8v1h-7v-3h-3v2h-7v-1h-8v15h-5v6h-7v-21h-5v-1h-3v5h-7v-1h-5v-5h-3v2h-7v-1h-3v1h-7v-3h-3v2h-7v-1h-13v1h-12v-1h-10v-1h-3v2h-5v1h-17v-2h-3v1h-20v1h-17v-1h-3v1h-7v-1h-5v-1h-3v7h-5v3h-7v-10h-3v2h-5v1h-7v-3h-3v2h-5v1h-12v-2h-8v1h-5v1h-7v-1h-5v-2h-13v2h-7v-2h-8v1h-5v2h-7v-2h-5v-1h-3v2h-7v-1h-3v1h-12v-1h-3v2h-12v-1h-5v-2h-3v1h-10v2h-12v-1h-5v-1h-3v1h-7v-3h-3v2h-5v1h-7v-2h-3v1h-15v1h-22v-1h-5v-1h-18v1h-5v1h-5v2h-5v1h-7v-5h-3v1h-10v1h-5v1h-7v-1h-3v2h-7v-2h-3v1h-7v-3h-5v-1h-3v4h-5v1h-7v-1h-5v-1h-5v-1h-3v1h-17v-1h-18v2h-7v-2h-3v1h-7v-1h-3v2h-7v-2h-8v1h-5v1h-7v-3h-3v2h-7v-1h-3v3h-7v-3h-10v-2h-8v3h-12v-1h-10v-1h-3v3h-7v-2h-5v-1h-5v-1h-3v1h-20v3h-7v-3h-3v2h-5v4h-7v-4h-5v-1h-8v1h-7v-1h-5v-1h-8v3h-7v-3h-3v1h-5v1h-17v-1h-8v2h-7v-3h-3v4h-7v-3h-5v-1h-3v1h-22v-2h-8v2h-12v-1h-13v1h-7v-1h-3v1h-5v2h-7v-1h-8v1h-5v1h-7v-2h-5v-2h-3v2h-12v-1h-3v1h-7v-1h-20v-1h-3v1h-12v-1h-3v9h-5v3h-7v-12h-8v1h-5v8h-7v-9h-3v1h-10v3h-7v-4h-5v-1h-3v2h-12v-1h-3v1h-7v-2h-3v3h-7v-1h-3v2h-7v-2h-3v2h-5v1h-7v-3h-8v1h-7v-1h-5v-1h-3v24h-5v3h-7v-26h-3v2h-7v-1h-8v9h-5v2h-7v-11h-3v1h-5v13h-5v5h-5v2h-7v-22h-3v1h-15v1h-17v-2h-3v23h-5v23h-5v4h-7v-49h-13v11h-7v-1h-3v5h-5v2h-7v-8h-3v4h-7v-13h-20v-1h-3v2h-7v-2h-18v1h-5v1h-7v-4h-3v2h-7v-1h-5v-1h-3v4h-7v-2h-5v-1h-3v2h-7v-2h-3v1h-15v1h-7v-2h-3v1h-7v-1h-3v1h-20v1h-7v-1h-5v-1h-3v2h-12v-2h-18v1h-7v-1h-3v1h-5v1h-12v-1h-3v1h-7v-2h-13v2h-7v-2h-3v2h-7v-1h-5v-1h-3v1h-7v-1h-3v6h-7v-6h-3v1h-5v1h-7v-3h-3v2h-7v-1h-3v1h-5v1h-12v-1h-5v-1h-3v1h-7v-2h-3v2h-5v2h-7v-2h-3v1h-7v-1h-5v-2h-3v1h-5v1h-7v-1h-8v2h-12v-1h-10v-1h-3v2h-7v-1h-5v-1h-13v1h-12v-1h-3v1h-7v-1h-8v2h-7v-2h-5v-1h-3v1h-7v-1h-3v1h-10v1h-10v3h-7v-3h-8v1h-7v-3h-8v4h-12v-1h-15v-1h-3v2h-7v-2h-5v-1h-3v1h-7v-1h-23v1h-15v1h-12v-2h-3v1h-10v2h-7v-1h-15v-1h-3v1h-7v-1h-3v2h-7v-3h-3v1h-5v1h-7v-2h-3v1h-12v-1h-3v2h-7v-1h-8v1h-12v-1h-5v-1h-8v4h-7v-4h-3v1h-17v-1h-3v1h-10v2h-7v-1h-5v-1h-3v1h-15v1h-12v-1h-5v-1h-3v1h-7v-1h-3v1h-7v-3h-3v4h-7v-1h-5v-2h-3v1h-5v2h-7v-3h-3v1h-7v-2h-3v2h-12v-1h-23v1h-15v1h-7v-1h-3v2h-7v-3h-3v2h-12v-2h-8v2h-7v-2h-13v1h-7v-1h-5v-1h-3v1h-10v1h-12v-1h-5v-1h-3v2h-5v1h-7v-1h-3v1h-7v-1h-3v2h-7v-2h-5v-2h-3v2h-22v-1h-8v2h-7v-2h-8v2h-7v-1h-5v-1h-20v-1h-3v1h-35v2h-12v-2h-13v2h-7v-1h-8v2h-12v-2h-8v3h-7v-1h-5v-2h-3v1h-7v-1h-5v-1h-3v1h-5v1h-7v-1h-10v-1h-3v2h-5v1h-7v-1h-5v-2h-8v1h-10v1h-7v-1h-10v-1h-3v3h-7v-2h-8v1h-12v-2h-3v1h-12v-1h-3v1h-7v-1h-3v2h-7v-2h-3v1h-10v1h-7v-1h-3v1h-7v-1h-8v2h-7v-1h-5v-2h-3v1h-10v1h-7v-1h-3v2h-7v-2h-3v1h-7v-2h-3v1h-10v1h-5v1h-7v-1h-5v-1h-3v1h-7v-4h-3v3h-32v-1h-3v3h-7v-2h-10v-1h-3v2h-5v1h-7v-2h-3v1h-10v1h-7v-2h-3v2h-7v-2h-5v-1h-3v2h-7v-2h-5v-1h-3v1h-5v1h-10v2h-7v-2h-5v-1h-3v1h-5v3h-7v-3h-5v-2h-3v2h-12v-1h-3v1h-12v-2h-3v2h-32v-1h-5v-1h-3v2h-12v-1h-3v1h-7v-2h-3v1h-5v1h-5v1h-12v-2h-3v1h-5v1h-7v-1h-13v1h-7v-2h-3v1h-7v-1h-3v1h-5v1h-7v-1h-13v1h-7v-1h-3v1h-7v-1h-5v-1h-3v1h-10v1h-10v2h-7v-4h-3v1h-10v1h-7v-2h-3v1h-5v3h-7v-2h-5v-2h-3v3h-7v-3h-8v1h-7v-1h-3v2h-7v-1h-8v1h-7v-3h-3v1h-7v-2h-3v2h-15v1h-5v3h-7v-3h-3v2h-7v-2h-3v1h-7v-1h-8v2h-7v-4h-3v2h-5v1h-5v1h-12v-1h-5v-1h-3v1h-7v-3h-3v3h-12v-1h-3v1h-5v1h-7v-2h-3v1h-7v-2h-8v2h-7v-2h-3v2h-5v1h-7v-2h-8v1h-7v-2h-3v2h-5v1h-7v-3h-3v2h-5v1h-7v-1h-5v-2h-8v1h-17v-1h-8v3h-7v-1h-5v-1h-3v1h-7v-1h-10v-1h-3v2h-12v-1h-15v-1h-3v1h-5v1h-7v-1h-5v-1h-5v-1h-3v1h-15v3h-7v-2h-5v-1h-3v3h-7v-1h-10v-1h-13v1h-7v-2h-8v1h-15v1h-12v-1h-5v-1h-18v1h-15v1h-17v-1h-3v2h-7v-1h-10v-2h-8v3h-7v-2h-5v-1h-8v1h-7v-1h-8v2h-7v-1h-8v2h-7v-2h-3v1h-12v-3h-3v1h-15v1h-5v1h-5v1h-7v-2h-5v-1h-18v2h-12v-2h-8v3h-7v-2h-5v-1h-8v2h-7v-2h-3v2h-7v-2h-3v2h-7v-1h-3v1h-7v-1h-8v1h-17v-1h-5v-1h-3v3h-7v-2h-5v-2h-3v1h-5v2h-5v1h-7v-2h-3v1h-7v-2h-8v1h-7v-1h-3v2h-7v-2h-3v1h-20v1h-10v1h-7v-2h-10v-1h-3v3h-7v-2h-25v-1h-3v1h-7v-1h-13v1h-5v1h-17v-2h-3v1h-5v1h-12v-2h-8v1h-7v-1h-3v2h-12v-1h-3v1h-7v-1h-5v-1h-3v1h-5v1h-7v-1h-3v2h-7v-3h-3v1h-22v-1h-8v1h-5v1h-7v-1h-5v-1h-3v2h-7v-3h-3v3h-7v-2h-3v1h-5v1h-7v-1h-3v1h-5v2h-7v-3h-3v1h-7v-1h-3v3h-7v-1h-3v1h-7v-1h-3v2h-7v-1h-3v2h-5v4h-7v-3h-5v-1h-3v1h-7v-5h-8v5h-7v-2h-5v-4h-5v-1h-3v3h-7v-1h-3v1h-7v-2h-5v-1h-3v1h-7v-1h-3v3h-7v-1h-10v-1h-15v-1h-3v1h-5v2h-7v-2h-3v2h-5v2h-7v-4h-5v-1h-3v1h-7v-2h-3v1h-5v1h-5v1h-12v-1h-8v1h-7v-2h-3v1h-5v2h-7v-2h-8v1h-7v-2h-3v1h-5v1h-7v-1h-23v1h-12v-2h-3v2h-7v-2h-3v2h-7v-1h-3v2h-12v-1h-5v-1h-3v1h-7v-1h-3v1h-7v-1h-8v1h-7v-1h-5v-1h-3v1h-7v-2h-3v3h-5v1h-12v-1h-5v-1h-3v1h-7v-2h-3v1h-7v-1h-3v1h-5v2h-7v-1h-5v-2h-8v2h-7v-1h-3v1h-7v-1h-5v-1h-3v2h-7v-1h-3v2h-7v-1h-5v-1h-3v1h-7v-1h-3v2h-7v-2h-8v1h-7v-3h-3v2h-7v-2h-3v2h-10v2h-7v-1h-5v-2h-3v2h-5v2h-7v-3h-8v1h-7v-1h-5v-1h-3v1h-5v2h-7v-1h-5v-1h-13v1h-12v-1h-5v-1h-8v2h-5v1h-7v-2h-10v-1h-3v1h-17v-1h-3v1h-5v1h-7v-1h-5v-1h-3v1h-7v-2h-3v2h-12v-1h-3v2h-22v-2h-3v1h-7v-2h-3v1h-10v2h-7v-1h-3v1h-7v-3h-3v1h-7v-1h-3v1h-5v2h-7v-1h-3v4h-7v-2h-10v-2h-5v-2h-3v3h-5v2h-7v-2h-5v-1h-15v-1h-3v1h-7v-2h-3v1h-5v2h-12v-3h-3v2h-7v-1h-3v4h-7v-4h-5v-1h-3v4h-12v-3h-3v1h-7v-1h-8v3h-12v-2h-15v-1h-3v3h-7v-2h-8v2h-7v-2h-5v-1h-3v1h-10v1h-7v-2h-3v1h-5v2h-12v-2h-5v-2h-3v1h-10v1h-12v-1h-8v3h-7v-2h-10v-1h-3v1h-12v-1h-3v2h-7v-1h-3v1h-7v-1h-5v-1h-3v2h-10v1h-7v-1h-3v1h-7v-1h-5v-1h-3v1h-7v-2h-8v2h-12v-2h-5v-1h-3v3h-7v-2h-3v3h-12v-2h-5v-1h-3v1h-7v-1h-3v1h-5v1h-7v-1h-5v-2h-8v1h-5v1h-5v1h-7v-2h-3v2h-12v-2h-3v1h-15v1h-7v-1h-3v1h-7v-2h-8v2h-7v-1h-5v-1h-3v1h-7v-1h-8v3h-7v-2h-10v-1h-3v2h-12v-1h-5v-1h-8v1h-10v1h-12v-1h-20v-2h-3v1h-5v1h-12v-1h-3v1h-7v-2h-3v4h-7v-2h-3v1h-7v-1h-5v-1h-13v2h-7v-1h-5v-1h-3v1h-5v1h-7v-2h-18v1h-5v1h-5v2h-7v-3h-3v2h-7v-2h-3v1h-7v-3h-8v2h-5v2h-7v-3h-3v1h-10v1h-7v-1h-5v-2h-3v1h-5v1h-10v1h-7v-2h-3v4h-7v-4h-3v1h-32v-1h-3v1h-7v-1h-3v1h-15v3h-7v-1h-5v-2h-8v2h-7v-1h-5v-3h-3v2h-12v-1h-3v3h-7v-3h-3v1h-7v-1h-3v1h-7v-3h-3v3h-5v1h-7v-1h-8v4h-7v-1h-5v-3h-5v-1h-5v-1h-3v1h-10v2h-17v-1h-3v2h-7v-2h-23v1h-17v-1h-5v-1h-8v2h-7v-1h-10v-1h-3v1h-5v1h-7v-2h-3v1h-17v-1h-3v1h-5v2h-7v-2h-8v2h-7v-3h-8v2h-12v-2h-3v2h-7v-2h-8v1h-12v-1h-13v1h-7v-1h-5v-1h-3v1h-5v1h-7v-2h-3v2h-10v1h-7v-1h-8v1h-7v-1h-18v1h-10v1h-7v-3h-23v1h-7v-1h-3v1h-7v-2h-3v1h-5v2h-7v-2h-3v1h-12v-1h-15v-1h-3v2h-7v-1h-5v-1h-3v1h-5v2h-5v1h-7v-1h-5v-2h-3v3h-7v-1h-5v-1h-9Z"/>
<path fill="#ff0000" d="M1152 1346h14v-1h12v1h3v-1h5v-1h7v1h10v2h8v-1h17v2h3v-3h12v2h3v-2h5v-2h7v2h15v1h3v-2h7v3h3v-1h10v-1h5v-1h7v1h18v-1h12v1h3v-2h7v3h3v-1h7v1h5v1h3v-3h7v1h3v-1h12v1h15v1h3v-2h7v1h5v1h5v1h3v-3h7v2h3v-1h5v-2h5v-1h7v2h5v3h8v-2h5v-1h7v1h3v-1h7v2h3v-2h7v1h10v2h3v-2h5v-1h7v1h15v2h3v-1h20v-3h7v1h5v1h5v1h3v-1h10v-2h7v3h3v-4h5v-1h7v4h3v-1h10v-2h12v2h5v1h3v-4h7v4h3v-2h5v-2h7v2h3v-2h7v2h5v1h3v-4h7v3h3v-1h7v2h10v2h3v-2h5v-2h7v1h5v1h3v-2h7v3h8v-2h5v-1h7v1h5v1h3v-2h5v-1h7v5h3v-4h7v1h5v1h3v-1h12v1h3v-1h7v1h5v1h5v1h8v-2h7v1h3v-3h7v3h5v1h3v-2h7v1h8v-1h10v-2h5v-2h7v5h13v-3h12v2h3v-1h7v2h3v-1h5v-4h7v4h13v-1h7v1h3v-1h12v2h3v-4h5v-2h7v6h5v1h3v-1h15v-1h7v1h8v-1h7v2h13v-1h5v-1h7v1h10v1h3v-1h5v-2h7v1h5v2h3v-1h12v2h3v-2h7v1h5v1h3v-1h5v-2h5v-2h7v3h8v-1h22v2h10v2h3v-2h5v-1h5v-1h12v3h3v-1h10v-1h5v-1h7v1h3v-1h7v1h10v1h3v-2h7v3h3v-3h7v3h3v-1h5v-2h5v-1h7v1h10v2h8v-3h7v1h5v2h8v-2h12v1h5v1h8v-2h12v2h10v1h3v-3h5v-3h7v5h3v-1h15v-1h7v2h8v-2h12v2h3v-1h7v1h3v-3h12v2h5v1h5v2h3v-1h15v-2h5v-2h7v1h5v1h3v-1h12v1h18v-1h12v1h5v1h8v-1h5v-1h12v1h5v2h3v-2h10v-2h7v2h8v-1h12v2h5v1h3v-1h5v-1h10v-2h7v2h5v1h10v1h8v-3h7v1h5v1h3v-1h7v1h3v-1h7v2h3v-1h12v1h3v-1h10v-2h12v1h5v2h8v-2h5v-4h7v4h5v1h13v-3h7v1h5v2h8v-1h15v-1h7v1h10v1h3v-1h15v-1h7v2h3v-2h7v2h10v1h3v-2h7v1h3v-1h7v1h3v-1h17v2h13v-3h5v-1h7v4h3v-1h7v1h8v-3h7v1h10v2h3v-2h5v-1h12v1h23v-1h7v1h3v-1h5v-1h7v3h3v-1h7v2h5v1h3v-1h5v-2h7v1h3v-1h20v-1h12v2h8v-1h7v1h3v-1h7v1h13v-1h12v1h3v-1h5v-1h7v1h3v-2h7v3h3v-1h7v1h3v-1h12v2h3v-2h5v-1h7v2h3v-1h5v-1h5v-2h7v4h5v1h3v-3h5v-1h7v2h5v1h3v-3h7v3h3v-2h12v1h3v-1h7v1h5v2h3v-3h17v2h8v-1h7v2h3v-2h5v-2h7v1h5v1h3v-1h7v1h3v-1h5v-1h7v4h3v-1h5v-1h5v-2h7v1h5v1h5v1h3v-2h7v1h5v1h8v-1h20v-2h7v1h3v-1h7v1h5v1h3v-1h12v1h8v-1h7v2h18v-3h5v-1h7v2h5v1h8v-1h5v-4h7v3h3v-1h7v2h5v2h3v-2h5v-1h17v1h5v1h3v-3h7v1h5v2h3v-1h5v-1h17v1h3v-1h7v3h8v-2h10v-2h12v3h3v-1h5v-1h7v1h3v-3h7v2h13v-1h7v1h5v3h3v-2h5v-1h7v2h3v-4h7v4h3v-1h5v-1h7v1h13v-1h22v2h3v-2h5v-1h7v2h3v-1h5v-1h7v2h3v-3h7v4h5v1h3v-2h10v-2h7v1h15v1h3v-1h7v2h3v-4h12v2h10v2h5v1h3v-1h10v-2h12v2h3v-1h5v-1h12v4h3v-2h5v-1h5v-2h12v2h25v1h8v-4h7v1h10v3h3v-3h7v3h5v2h3v-2h10v-1h15v-1h5v-1h7v2h3v-1h7v1h3v-2h7v1h3v-1h10v-1h7v3h3v-2h7v1h5v3h3v-5h7v2h3v-1h7v1h5v1h3v-1h5v-1h7v3h3v-1h5v-2h5v-2h7v3h3v-1h7v1h5v1h3v-1h5v-3h7v4h3v-1h17v2h3v-1h10v-5h7v4h5v1h8v-1h5v-1h5v-1h7v1h5v3h5v1h8v-1h5v-3h7v2h5v2h3v-1h5v-1h5v-1h7v3h23v-1h10v-1h5v-1h7v3h13v-1h12v1h3v-1h5v-1h7v2h8v-1h5v-1h7v3h3v-1h5v-1h5v-2h7v2h3v-1h7v2h3v-1h7v1h10v1h3v-3h5v-1h7v3h3v-1h5v-2h7v2h3v-1h7v1h5v3h3v-2h5v-1h12v1h3v-2h12v1h5v1h3v-2h7v2h3v-2h12v1h5v1h3v-1h7v1h8v-1h7v1h8v-2h12v1h5v1h3v-1h10v-1h12v2h3v-1h7v1h10v1h3v-3h7v2h3v-1h7v1h8v-1h7v2h3v-4h7v1h5v3h3v-2h5v-1h7v1h3v-3h7v3h3v-1h7v1h5v1h3v-1h7v1h3v-1h5v-2h7v1h15v1h5v1h13v-1h12v2h3v-1h5v-2h7v1h5v2h3v-1h10v-1h7v1h8v-1h7v1h3v-2h7v1h8v-1h7v1h15v1h3v-2h12v2h3v-2h7v1h8v-2h7v4h3v-2h12v2h3v-3h12v2h3v-1h5v-1h7v1h5v1h5v1h3v-1h10v-1h5v-1h5v-1h5v-1h7v4h3v-2h12v4h3v-1h5v-2h7v1h3v-3h7v1h5v1h3v-2h7v1h5v1h3v-1h7v1h3v-1h7v1h8v-1h7v1h3v-1h7v1h8v-1h12v2h13v-3h7v2h10v1h3v-1h5v-2h7v1h5v1h3v-1h7v2h5v1h3v-1h7v1h3v-2h17v1h3v-1h12v1h3v-1h7v2h3v-1h10v-3h7v2h5v2h8v-2h7v2h8v-2h7v2h3v-2h7v1h8v-1h7v1h3v-1h12v3h3v-2h15v-2h12v2h15v1h3v-1h5v-1h7v1h10v1h3v-1h5v-2h17v2h3v-1h7v1h3v-1h7v1h8v-3h7v2h3v-1h7v1h5v3h3v-4h7v1h5v1h3v-2h7v1h3v-1h7v3h3v-2h10v-1h7v2h3v-2h7v1h3v-2h7v1h5v1h3v-1h7v1h3v-1h7v2h3v-1h12v1h8v-2h7v1h3v-1h7v1h5v3h3v-3h7v1h13v-2h7v1h5v1h3v-1h5v-1h12v2h5v1h3v-2h5v-1h7v2h3v-1h7v2h3v-1h5v-4h7v3h5v1h3v-3h7v2h3v-2h7v2h5v2h3v-1h5v-1h7v1h3v-3h7v2h5v1h8v-1h5v-1h7v1h10v1h3v-1h7v1h3v-3h7v3h3v-3h7v4h3v-2h7v2h3v-3h7v1h5v1h3v-1h7v1h3v-1h7v1h3v-1h5v-1h7v2h3v-1h12v2h3v-5h7v4h8v-1h5v-1h7v1h5v1h3v-3h7v2h10v1h3v-3h7v3h3v-3h7v1h3v-1h7v3h3v-1h7v1h8v-2h12v2h3v-2h12v2h3v-1h12v1h3v-1h5v-1h7v1h18v-2h7v1h5v2h3v-1h7v1h10v1h3v-1h7v1h5v1h3v-4h7v1h5v2h3v-1h5v-2h17v2h3v-2h7v2h13v-1h15v-3h7v2h5v1h8v-1h5v-3h7v4h5v2h3v-2h17v1h3v-2h7v2h3v-3h7v2h3v-3h7v3h5v1h8v-1h5v-1h7v1h13v-3h7v4h3v-1h7v1h3v-1h12v1h8v-1h7v2h3v-1h5v-1h5v-1h7v3h8v-1h7v2h3v-1h10v-1h5v-2h10v-1h7v2h3v-1h7v2h3v-2h7v2h3v-2h5v-1h7v2h8v-2h5v-1h7v5h3v-1h5v-1h17v1h3v-2h10v-1h17v2h5v1h8v-2h5v-2h12v3h15v1h3v-2h5v-1h7v3h3v-2h7v1h5v1h3v-2h7v1h3v-2h7v2h5v2h3v-2h10v-1h7v2h3v-2h7v1h5v2h3v-2h5v-1h12v1h3v-2h7v1h5v2h3v-1h5v-1h7v1h3v-2h5v-2h7v2h5v1h10v3h3v-1h5v-2h7v1h15v1h3v-1h5v-1h7v3h13v-3h12v2h3v-3h7v2h5v1h3v-1h5v-2h7v2h5v1h3v-4h7v4h5v1h3v-2h5v-1h7v1h5v1h20v1h8v-2h5v-2h7v4h3v-4h7v3h3v-2h7v2h3v-2h7v3h3v-1h7v1h5v1h3v-2h7v1h3v-1h5v-1h7v2h3v-3h5v-1h5v-2h7v2h5v1h5v1h5v1h3v-4h7v1h10v1h10v1h3v-1h7v1h3v-1h7v2h3v-2h7v2h10v1h3v-4h7v2h3v-2h7v2h3v-1h7v1h3v-1h7v1h10v1h3v-1h5v-2h7v3h3v-2h7v3h3v-3h7v2h5v1h3v-2h12v1h3v-5h7v4h3v-1h17v1h5v1h3v-1h42v1h3v-3h7v3h8v-2h12v3h3v-3h7v2h3v-1h17v1h3v-5h7v5h3v-2h5v-2h7v2h5v2h3v-2h7v2h3v-1h5v-1h7v1h5v1h10v1h13v-1h7v1h3v-4h7v2h3v-1h12v1h5v1h5v2h3v-1h5v-2h7v1h8v-1h5v-1h7v1h5v2h3v-2h12v1h3v-1h7v1h3v-1h5v-1h12v1h5v1h13v-1h5v-1h7v2h8v-2h10v-1h7v3h3v-2h7v3h3v-3h7v3h8v-2h10v-1h7v3h3v-4h7v2h3v-2h7v2h5v2h3v-4h7v4h3v-1h5v-3h7v1h5v1h3v-2h7v3h3v-3h7v4h3v-1h5v-1h15v-3h7v5h3v-1h5v-1h7v1h3v-1h20v-1h7v2h3v-2h7v2h3v-1h12v2h3v-3h12v1h5v1h5v2h3v-2h5v-2h5v-1h12v1h5v3h3v-2h17v2h3v-3h7v3h3v-3h7v1h3v-1h7v1h3v-1h7v2h5v1h8v-1h5v-1h12v1h5v1h3v-2h12v1h13v-1h7v2h3v-4h7v4h3v-2h7v1h13v-1h5v-1h7v1h3v-1h7v2h3v-2h7v1h5v1h8v-2h7v3h8v-2h7v1h3v-4h7v3h5v2h3v-3h10v-1h7v2h10v2h3v-1h5v-4h7v4h3v-1h5v-1h7v2h3v-1h10v-1h7v1h10v2h3v-2h21V1360h-6v-1h-3v2h-12v-2h-3v1h-5v1h-7v-2h-8v3h-7v-3h-8v2h-7v-1h-3v1h-7v-2h-3v1h-12v-1h-13v2h-7v-2h-8v2h-7v-1h-3v1h-7v-1h-3v1h-5v1h-7v-3h-8v2h-7v-2h-8v2h-7v-2h-13v1h-5v2h-7v-1h-5v-1h-10v-1h-3v1h-10v1h-5v1h-7v-1h-5v-1h-3v1h-5v1h-10v3h-7v-4h-3v1h-12v-1h-15v-2h-3v1h-7v-1h-8v2h-12v-1h-10v-1h-3v1h-5v2h-7v-1h-5v-1h-10v-1h-3v1h-5v3h-7v-2h-5v-1h-5v-1h-8v1h-17v-1h-3v1h-5v3h-7v-2h-5v-2h-3v1h-7v-1h-8v1h-7v-1h-3v1h-5v2h-7v-3h-3v1h-5v2h-7v-1h-5v-2h-3v5h-7v-3h-15v-1h-13v2h-12v-3h-13v3h-7v-2h-8v1h-5v1h-7v-2h-25v-1h-3v1h-5v1h-7v-4h-3v2h-5v2h-12v-2h-3v2h-5v1h-12v-2h-8v1h-7v-2h-3v1h-7v-1h-3v1h-7v-1h-3v1h-5v2h-7v-1h-5v-2h-3v3h-7v-2h-8v1h-5v1h-7v-1h-3v3h-7v-3h-10v-1h-5v-2h-8v1h-5v1h-10v1h-5v2h-7v-3h-5v-1h-3v3h-7v-1h-5v-2h-8v2h-5v1h-12v-3h-3v1h-7v-1h-3v1h-5v1h-7v-1h-13v1h-7v-2h-8v5h-7v-2h-5v-2h-3v1h-10v2h-7v-3h-8v1h-7v-1h-5v-1h-5v-1h-3v3h-12v-1h-10v-1h-3v3h-7v-1h-3v2h-7v-3h-5v-1h-3v1h-12v-1h-3v1h-5v1h-5v1h-7v-1h-5v-1h-3v1h-7v-1h-23v1h-7v-3h-8v2h-7v-1h-8v1h-7v-1h-8v2h-7v-1h-5v-1h-5v-1h-3v4h-7v-2h-5v-2h-3v1h-20v2h-7v-1h-5v-1h-3v2h-7v-2h-3v1h-7v-1h-10v-1h-3v2h-22v-1h-3v2h-12v-1h-8v1h-12v-2h-13v1h-7v-1h-3v3h-7v-1h-3v2h-7v-4h-3v2h-7v-2h-3v1h-5v2h-7v-2h-3v1h-12v-1h-3v1h-5v1h-12v-2h-5v-1h-3v2h-7v-1h-13v1h-7v-2h-3v1h-15v1h-7v-1h-5v-1h-3v1h-5v1h-7v-3h-3v3h-7v-1h-3v1h-7v-2h-10v-1h-3v1h-5v1h-7v-1h-3v1h-15v1h-7v-1h-3v1h-7v-1h-15v-1h-8v1h-5v1h-5v1h-7v-2h-3v2h-10v1h-7v-1h-5v-1h-5v-2h-3v1h-5v1h-7v-1h-5v-1h-3v2h-7v-2h-3v1h-5v1h-5v2h-7v-3h-8v1h-7v-1h-15v-1h-5v-1h-8v1h-5v1h-7v-1h-3v2h-5v2h-7v-1h-5v-1h-5v-1h-3v2h-12v-5h-3v2h-5v1h-5v1h-7v-2h-3v2h-7v-1h-5v-1h-3v4h-7v-4h-3v2h-7v-1h-28v2h-7v-1h-10v-3h-3v3h-10v2h-7v-1h-5v-4h-3v1h-5v2h-5v2h-7v-2h-3v1h-7v-2h-5v-2h-3v4h-7v-1h-5v-2h-3v1h-7v-1h-3v1h-5v1h-12v-1h-8v1h-7v-1h-3v1h-7v-2h-10v-1h-8v6h-7v-1h-5v-3h-5v-1h-3v4h-7v-3h-5v-1h-8v1h-5v1h-7v-1h-3v1h-5v2h-12v-3h-3v1h-7v-2h-5v-1h-3v1h-5v2h-7v-2h-5v-1h-3v2h-5v1h-7v-1h-3v3h-7v-3h-3v2h-7v-1h-5v-1h-3v2h-7v-3h-3v2h-7v-1h-5v-1h-3v1h-5v4h-7v-4h-8v2h-7v-3h-3v1h-12v-1h-3v1h-7v-1h-3v2h-12v-1h-10v-1h-8v1h-10v1h-7v-2h-8v1h-12v-1h-3v1h-17v-1h-3v1h-5v2h-7v-2h-3v1h-5v1h-7v-2h-3v1h-7v-1h-18v1h-5v1h-7v-1h-5v-3h-3v4h-7v-1h-3v1h-17v-2h-5v-1h-3v1h-10v1h-7v-1h-3v1h-5v1h-7v-1h-5v-2h-3v4h-7v-2h-10v-1h-3v1h-7v-1h-8v2h-7v-2h-10v-1h-3v1h-10v1h-5v1h-7v-2h-3v3h-7v-3h-10v-1h-3v2h-12v-1h-5v-1h-5v-1h-3v3h-7v-2h-3v2h-7v-1h-10v-1h-3v3h-7v-1h-10v-2h-18v2h-7v-1h-15v-1h-18v1h-7v-1h-8v2h-7v-2h-8v1h-7v-1h-3v2h-7v-1h-3v1h-7v-1h-13v2h-7v-2h-3v2h-12v-3h-13v1h-10v2h-7v-2h-20v-2h-3v2h-10v1h-5v2h-7v-2h-5v-2h-3v1h-5v1h-7v-1h-5v-1h-3v2h-7v-1h-3v3h-7v-3h-5v-1h-3v1h-7v-1h-3v2h-7v-2h-8v1h-12v-1h-8v2h-12v-1h-3v1h-5v1h-7v-1h-5v-1h-3v1h-12v-1h-3v2h-12v-2h-5v-1h-3v2h-7v-1h-3v1h-5v1h-7v-2h-5v-2h-3v1h-5v1h-5v1h-5v2h-7v-2h-5v-1h-3v1h-7v-3h-3v1h-5v1h-5v2h-12v-3h-3v1h-17v-1h-8v3h-7v-2h-3v1h-7v-2h-5v-1h-3v2h-7v-1h-3v1h-7v-2h-3v3h-7v-1h-20v-3h-3v3h-7v-1h-3v3h-7v-1h-3v2h-7v-3h-5v-1h-3v3h-12v-3h-13v1h-5v2h-7v-1h-15v-2h-8v1h-7v-1h-3v1h-5v2h-12v-2h-5v-1h-3v1h-7v-2h-3v1h-5v1h-10v12h-7v-11h-10v-2h-8v1h-5v1h-7v-1h-3v1h-7v-3h-3v3h-7v-2h-3v2h-12v-1h-8v1h-5v2h-7v-3h-10v-1h-3v4h-7v-4h-3v3h-7v-1h-5v-2h-3v1h-22v-2h-8v1h-10v3h-5v1h-7v-5h-3v2h-7v-1h-3v1h-5v1h-7v-1h-5v-1h-3v3h-5v1h-7v-4h-8v2h-7v-2h-8v1h-5v2h-7v-2h-5v-1h-3v2h-10v1h-12v-3h-3v1h-7v-1h-8v2h-7v-1h-5v-3h-3v3h-7v-1h-3v1h-5v2h-7v-1h-3v1h-7v-1h-13v1h-7v-2h-3v1h-5v1h-7v-2h-3v1h-7v-1h-5v-1h-3v1h-15v2h-7v-3h-3v4h-7v-4h-3v1h-7v-1h-5v-1h-3v1h-12v-1h-3v2h-10v1h-7v-1h-15v-1h-3v1h-10v2h-5v1h-7v-1h-5v-1h-15v-2h-23v3h-7v-2h-3v1h-12v-1h-3v1h-7v-2h-3v2h-5v1h-7v-1h-5v-1h-3v1h-10v1h-7v-3h-3v1h-12v-1h-8v1h-5v2h-12v-1h-3v1h-10v1h-7v-2h-3v4h-7v-2h-5v-2h-3v1h-7v-1h-13v1h-7v-1h-3v1h-10v1h-7v-1h-15v-2h-3v2h-7v-2h-3v3h-7v-1h-3v2h-7v-4h-3v1h-5v1h-5v1h-7v-2h-5v-1h-3v7h-7v-5h-15v-2h-3v2h-5v1h-7v-2h-3v5h-7v-2h-5v-3h-5v-1h-8v3h-7v-3h-3v3h-5v4h-7v-5h-3v1h-7v-2h-8v3h-5v1h-5v2h-7v-2h-10v-5h-3v2h-5v1h-7v-3h-3v1h-5v1h-5v2h-7v-3h-3v4h-7v-4h-3v1h-5v4h-7v-1h-5v-3h-10v-1h-3v9h-7v-9h-3v2h-5v1h-5v1h-7v-3h-3v1h-7v-4h-8v2h-5v3h-7v-3h-5v-3h-3v2h-5v5h-7v-3h-3v4h-7v-5h-3v1h-5v2h-7v-2h-5v-1h-3v1h-7v-2h-3v5h-7v-4h-13v3h-7v-2h-5v-1h-3v1h-7v-1h-3v2h-7v-1h-3v2h-7v-2h-5v-1h-3v1h-5v2h-7v-2h-5v-1h-5v-1h-3v2h-5v2h-7v-3h-3v2h-7v-1h-10v-1h-3v2h-7v-3h-3v2h-5v2h-7v-2h-5v-3h-3v2h-5v3h-5v1h-7v-3h-3v1h-17v-3h-3v2h-5v2h-12v-2h-3v1h-15v1h-7v-1h-5v-3h-13v3h-7v-2h-8v1h-27v-1h-10v-1h-5v-2h-3v4h-7v-3h-3v1h-5v1h-7v-1h-25v-1h-3v1h-10v1h-12v-1h-8v1h-7v-1h-3v2h-7v-2h-3v1h-5v1h-7v-2h-5v-1h-3v2h-7v-1h-3v2h-7v-2h-10v-2h-3v3h-7v-3h-3v2h-12v-1h-3v2h-5v1h-12v-1h-5v-1h-8v1h-17v-2h-3v1h-7v-1h-3v1h-15v1h-10v1h-7v-2h-3v2h-7v-2h-5v-1h-8v1h-5v3h-7v-1h-5v-2h-3v1h-12v-2h-3v2h-7v-1h-3v2h-7v-3h-3v1h-25v2h-7v-2h-18v1h-7v-1h-3v1h-7v-1h-3v2h-7v-2h-15v-1h-3v1h-12v-1h-3v2h-5v2h-5v1h-7v-3h-10v-1h-3v2h-7v-2h-5v-2h-8v2h-12v-1h-13v1h-10v2h-7v-2h-13v1h-7v-2h-3v1h-7v-1h-5v-1h-3v2h-5v1h-7v-1h-3v2h-10v1h-7v-4h-8v2h-7v-1h-3v1h-7v-1h-3v1h-12v-2h-8v1h-12v-2h-3v3h-12v-2h-3v2h-7v-2h-3v2h-7v-1h-3v2h-7v-1h-15v-1h-3v1h-10v2h-7v-2h-5v-1h-8v1h-7v-1h-10v-1h-8v1h-5v1h-12v-2h-3v2h-5v4h-7v-3h-5v-2h-18v1h-7v-1h-3v3h-7v-3h-5v-1h-3v1h-7v-1h-8v2h-7v-2h-3v1h-5v1h-12v-2h-23v3h-5v1h-7v-3h-3v1h-7v-1h-8v1h-7v-1h-5v-2h-3v2h-5v1h-7v-1h-5v-1h-8v1h-10v2h-7v-2h-5v-2h-3v1h-10v1h-5v1h-5v1h-7v-1h-5v-2h-3v3h-7v-1h-5v-1h-20v-1h-3v1h-10v1h-7v-1h-5v-2h-3v3h-12v-1h-5v-1h-3v1h-10v1h-7v-1h-5v-1h-3v3h-7v-1h-10v-1h-5v-2h-3v3h-7v-1h-3v1h-7v-1h-5v-1h-3v3h-7v-2h-5v-1h-3v1h-7v-1h-5v-1h-3v2h-17v-1h-3v1h-5v1h-7v-2h-3v2h-7v-1h-5v-1h-13v6h-7v-5h-3v2h-7v-2h-8v1h-22v-1h-5v-1h-3v1h-7v-1h-5v-1h-3v1h-12v-1h-8v3h-7v-2h-3v1h-7v-1h-8v1h-5v2h-7v-3h-3v4h-7v-4h-3v1h-5v2h-7v-2h-5v-1h-10v-1h-3v3h-17v-3h-3v1h-5v1h-7v-1h-3v1h-7v-1h-8v3h-7v-1h-3v1h-7v-1h-5v-1h-3v3h-5v1h-7v-2h-5v-2h-3v1h-5v2h-7v-1h-5v-2h-3v5h-7v-3h-5v-1h-5v-2h-3v3h-7v-2h-3v2h-5v1h-7v-1h-5v-2h-8v1h-5v2h-7v-1h-3v2h-7v-2h-5v-1h-5v-1h-3v4h-7v-2h-3v1h-7v-1h-3v2h-7v-3h-3v2h-7v-1h-3v1h-7v-2h-8v1h-7v-1h-3v2h-7v-2h-10v-1h-3v2h-5v2h-7v-3h-8v4h-7v-3h-5v-1h-8v1h-7v-2h-3v2h-7v-1h-3v2h-5v2h-7v-4h-23v1h-5v1h-7v-2h-3v1h-7v-1h-3v2h-12v-1h-5v-1h-3v2h-7v-2h-8v1h-7v-2h-3v1h-5v2h-7v-3h-3v1h-12v-1h-5v-1h-3v1h-7v-1h-8v1h-5v1h-7v-2h-3v2h-7v-1h-8v1h-7v-1h-3v1h-5v2h-7v-4h-8v2h-7v-1h-3v1h-12v-2h-8v1h-12v-1h-5v-1h-3v2h-20v3h-7v-3h-5v-1h-3v1h-5v1h-12v-2h-3v1h-7v-2h-3v1h-10v2h-12v-1h-10v-1h-10v-1h-3v1h-5v3h-7v-2h-8v1h-5v1h-7v-2h-5v-1h-8v2h-17v-2h-3v1h-7v-1h-3v1h-7v-1h-3v2h-5v1h-7v-2h-3v1h-17v-1h-13v1h-10v2h-7v-2h-5v-1h-3v3h-7v-4h-3v2h-5v1h-7v-1h-5v-2h-4Z"/>
<path fill="#0000ff" d="M1152 1408h6v4h25v1h3v-1h5v-1h7v1h3v-3h17v3h3v-1h7v2h3v-1h10v-3h7v3h3v-4h7v3h5v1h3v-1h17v1h3v-1h7v3h3v-1h5v-1h7v1h8v-3h7v3h8v-2h5v-3h7v4h3v-1h7v1h13v-1h5v-2h7v3h10v1h8v-1h5v-1h7v1h10v1h3v-2h7v1h8v-1h7v1h10v1h5v1h3v-2h10v-1h7v1h5v1h3v-4h7v2h3v-1h5v-1h7v5h3v-2h5v-2h7v2h3v-2h7v2h15v1h3v-1h7v1h5v1h3v-2h12v2h3v-1h5v-2h12v3h3v-1h5v-2h7v1h5v2h3v-2h5v-2h7v2h5v1h3v-5h7v1h5v1h5v2h15v1h3v-2h7v3h3v-3h7v2h3v-1h10v-2h7v2h18v-1h7v1h3v-1h5v-1h10v-1h7v3h5v1h13v-1h5v-5h7v4h3v-1h7v1h10v1h8v-1h17v1h5v1h3v-1h7v2h3v-4h7v2h3v-1h5v-1h7v3h3v-2h5v-1h7v2h3v-2h10v-1h7v3h8v-2h17v2h8v-3h7v3h5v1h3v-1h15v-2h7v1h10v1h5v1h3v-2h10v-2h7v3h3v-2h5v-1h7v3h5v1h13v-1h10v-1h10v-2h7v2h3v-2h7v4h8v-1h5v-1h7v1h5v1h3v-1h5v-1h12v1h5v3h3v-4h7v1h5v2h3v-2h7v1h3v-4h7v3h3v-8h7v9h3v-1h10v-1h5v-1h7v1h13v-2h12v3h3v-3h5v-1h12v4h13v-2h7v3h3v-3h12v4h3v-5h12v4h8v-3h7v2h3v-1h5v-2h7v2h3v-3h7v3h5v1h8v-2h7v3h3v-3h7v1h5v1h3v-2h7v2h3v-2h5v-1h7v5h3v-3h5v-2h7v1h5v2h3v-1h12v2h3v-7h7v4h5v2h8v-1h7v1h5v1h3v-3h7v1h10v1h3v-1h10v-1h12v2h8v-2h7v1h5v1h3v-2h12v1h3v-1h7v2h3v-2h7v2h3v-1h5v-2h7v3h3v-1h10v-4h7v3h5v3h3v-3h12v1h5v1h8v-1h7v2h3v-4h7v1h10v2h3v-2h7v1h8v-1h5v-1h7v4h8v-2h7v1h15v1h3v-2h7v2h8v-1h5v-2h12v3h3v-3h12v1h8v-3h7v2h5v3h3v-3h7v2h8v-3h7v3h3v-3h7v3h10v1h8v-2h7v1h5v2h3v-2h10v-1h5v-1h15v-1h7v2h3v-2h7v1h5v2h8v-2h10v-2h7v3h3v-1h7v1h5v1h3v-2h7v2h5v1h3v-1h10v-4h7v3h8v-1h12v2h3v-2h7v2h8v-2h7v2h5v1h5v1h3v-3h5v-5h7v5h5v2h3v-1h7v1h3v-4h7v1h5v5h3v-6h7v1h5v2h8v-2h7v1h5v1h8v-3h7v3h5v3h3v-4h12v1h5v2h3v-2h5v-2h5v-1h7v2h5v3h8v-2h10v-1h7v1h3v-1h5v-1h7v1h5v3h3v-1h10v-4h7v4h3v-3h7v1h3v-1h5v-1h7v1h5v2h3v-2h7v1h3v-4h7v5h3v-2h5v-5h7v2h5v5h5v1h13v-2h7v1h3v-1h7v3h3v-4h7v3h3v-2h10v-2h7v1h10v2h3v-1h7v2h3v-4h7v1h5v1h10v2h3v-1h7v1h8v-1h7v1h3v-1h10v-2h7v2h8v-3h7v1h10v5h3v-4h7v1h3v-2h7v1h5v1h5v1h3v-4h7v3h3v-1h5v-2h7v4h3v-1h5v-1h7v2h3v-2h5v-3h7v3h3v-1h7v2h5v1h3v-3h7v2h3v-1h10v-1h7v4h8v-2h7v2h3v-3h7v1h5v2h8v-3h7v1h5v1h3v-4h7v3h5v2h3v-2h12v1h3v-2h12v1h3v-1h12v1h5v2h3v-1h5v-1h7v1h3v-1h7v1h3v-1h7v2h3v-1h5v-1h5v-1h7v1h5v1h13v-6h7v4h10v1h3v-2h7v3h35v1h3v-2h12v3h3v-6h7v5h3v-3h7v2h3v-2h7v2h3v-4h7v2h10v1h3v-1h5v-1h7v2h10v3h3v-6h7v3h5v1h3v-3h12v2h8v-2h7v2h8v-2h7v2h8v-3h7v2h3v-3h7v3h5v1h3v-5h7v4h5v1h3v-1h7v1h13v-1h5v-1h7v1h5v1h8v-4h7v3h5v1h3v-1h7v1h3v-2h7v2h3v-2h12v2h3v-5h5v-1h7v1h5v3h3v-3h5v-1h7v3h3v-2h7v2h18v-3h7v4h5v2h15v1h3v-3h7v4h3v-2h15v-1h7v1h3v-1h5v-1h7v1h5v1h5v1h8v-2h5v-1h7v1h5v2h8v-2h7v2h3v-2h5v-1h7v3h3v-3h7v3h3v-1h20v-2h7v1h10v1h5v2h5v1h3v-4h7v1h8v-4h7v4h3v-2h5v-1h7v3h13v-2h7v3h3v-4h7v3h5v1h3v-2h7v1h5v1h8v-1h10v-1h7v2h3v-3h7v2h3v-3h7v4h3v-5h7v6h3v-2h5v-2h7v3h8v-2h5v-1h7v2h15v1h3v-1h5v-4h7v1h5v1h5v3h5v1h3v-5h7v2h5v2h3v-4h12v1h3v-2h7v3h5v3h3v-1h5v-1h10v-4h7v2h10v2h8v-5h7v6h3v-2h5v-1h7v1h10v1h3v-1h7v1h8v-1h15v-1h7v2h5v1h5v2h3v-2h12v1h3v-2h5v-1h7v1h15v1h3v-1h5v-1h5v-1h7v3h3v-1h7v1h13v-1h7v1h5v1h3v-2h10v-1h7v4h3v-4h7v2h3v-2h5v-1h7v1h5v2h8v-1h10v-1h20v-2h7v1h10v1h3v-2h7v3h8v-1h15v-3h7v2h5v2h3v-1h7v1h8v-1h5v-1h7v1h5v2h3v-3h7v2h3v-1h7v1h3v-1h12v2h3v-2h7v1h10v1h3v-3h7v3h3v-3h7v3h3v-1h10v-1h5v-2h7v3h3v-3h7v3h3v-1h12v1h3v-5h7v2h5v3h18v-1h7v2h3v-4h7v1h3v-2h7v1h15v2h3v-1h5v-1h7v3h8v-2h5v-1h12v2h5v1h3v-3h5v-1h12v2h5v1h3v-2h7v1h3v-1h7v2h3v-4h7v2h5v1h3v-3h7v5h3v-1h7v1h3v-5h7v1h5v1h5v2h3v-5h7v5h8v-3h7v2h8v-4h7v4h3v-2h7v2h3v-2h7v5h3v-7h7v3h3v-3h7v3h5v2h3v-1h7v1h13v-1h7v1h5v1h5v2h3v-5h7v1h3v-1h7v2h3v-1h7v2h8v-1h7v2h3v-3h7v1h3v-3h7v3h5v3h3v-5h7v2h8v-1h7v1h10v1h5v1h3v-2h7v3h3v-1h10v-1h7v1h3v-5h7v3h5v2h3v-3h12v1h3v-2h7v3h3v-1h5v-1h12v1h3v-1h17v2h3v-1h5v-2h7v2h3v-1h7v2h3v-1h5v-1h7v1h5v3h3v-2h7v1h3v-4h7v1h5v2h3v-1h12v1h8v-1h7v1h3v-1h5v-1h12v2h5v1h3v-1h7v1h3v-4h7v1h5v2h5v3h3v-6h7v3h3v-1h12v2h5v2h3v-4h5v-1h7v3h8v-1h5v-1h7v3h3v-2h7v2h3v-2h37v1h3v-1h5v-1h12v1h3v-3h7v2h5v3h3v-4h7v1h5v2h3v-3h7v2h5v1h3v-1h5v-2h7v1h3v-1h7v2h8v-1h7v2h3v-1h10v-2h5v-1h5v-1h7v4h3v-1h7v2h13v-2h12v1h8v-2h7v4h3v-2h10v-3h7v2h5v2h3v-1h5v-3h7v3h3v-2h12v1h5v1h3v-2h7v3h3v-1h10v-3h7v2h3v-2h7v4h3v-1h5v-1h10v-1h7v2h5v1h18v-3h5v-1h7v1h5v3h3v-3h5v-2h7v6h3v-4h5v-2h7v2h5v3h3v-3h7v2h10v1h8v-1h10v-1h7v2h8v-4h7v4h5v1h8v-2h5v-2h5v-1h5v-1h7v1h5v2h10v1h3v-1h5v-1h15v-3h7v3h8v-4h12v2h5v1h13v-3h7v7h3v-2h5v-2h5v-2h7v3h5v2h5v1h3v-3h7v3h3v-4h5v-1h7v2h15v1h3v-1h5v-1h10v-3h7v3h5v3h3v-5h7v3h3v-1h5v-1h7v1h8v-1h7v1h5v1h3v-1h5v-1h7v3h10v3h3v-5h12v2h10v3h3v-5h7v3h3v-2h12v3h3v-2h12v2h3v-2h7v1h5v1h8v-3h12v3h5v1h3v-1h7v1h3v-4h7v1h5v1h3v-2h7v2h5v1h3v-11h7v10h10v1h3v-4h7v2h5v1h3v-1h7v2h3v-4h7v2h5v2h3v-5h7v5h3v-4h7v1h5v3h3v-3h7v3h3v-4h7v2h10v1h3v-1h7v4h3v-2h5v-2h7v2h3v-1h5v-3h7v2h13v-1h12v2h3v-1h7v3h5v1h3v-3h12v1h3v-1h7v1h8v-1h7v1h3v-1h5v-1h7v2h3v-3h7v1h5v2h3v-2h7v2h5v1h3v-1h5v-1h10v-3h7v4h10v1h3v-1h5v-2h5v-1h12v3h3v-3h5v-2h7v2h5v2h20v1h3v-4h7v1h5v3h3v-5h7v5h3v-1h5v-2h10v-1h7v4h3v-1h5v-1h7v1h3v-1h5v-2h7v3h5v1h3v-1h30v-2h7v1h5v1h3v-1h7v1h3v-1h5v-3h7v4h3v-1h7v2h13v-3h7v2h8v-1h7v3h5v1h3v-4h15v-1h7v1h5v1h3v-3h7v5h3v-1h5v-2h20v-3h7v3h15v1h5v1h3v-2h7v3h3v-2h5v-3h7v3h20v1h3v-1h10v-2h7v4h3v-5h7v2h15v2h15v1h3v-1h5v-2h10v-4h7v2h10v1h3v-4h7v6h3v-6h12v4h5v2h3v-2h5v-1h5v-1h7v1h5v3h3v-3h10v-4h5v-5h7v7h5v2h5v2h3v-2h7v3h5v1h3v-6h7v3h5v2h3v-1h5v-2h10v-2h7v4h3v-1h7v1h3v-4h5v-3h7v9h3v-3h5v-2h7v3h3v-3h7v1h5v3h3v-1h5v-2h10v-3h7v4h3v-4h7v3h3v-2h7v4h5v2h3v-1h12v1h8v-3h5v-2h7v4h3v-1h7v2h8v-1h5v-2h5v-2h7v4h5v1h5v1h3v-2h5v-2h7v3h3v-1h15v-3h7v2h10v1h8v-2h7v3h3v-3h7v2h3v-4h7v2h10v1h5v2h13v-1h5v-2h7v1h3v-1h5v-1h7v3h13v-2h5v-1h7v2h5v1h3v-3h7v4h5v1h3v-4h7v2h3v-2h5v-4h7v5h3v-9h5v-1h7v6h5v3h3v-2h5v-4h7v3h10v3h5v1h3v-9h7v9h3v-3h7v2h3v-3h7v3h3v-6h7v3h13v-5h7v5h5v1h3v-1h6V1433h-6v-2h-3v7h-7v-3h-5v-3h-3v4h-7v-4h-3v7h-7v-6h-5v-1h-5v-3h-3v4h-10v4h-7v-3h-3v1h-7v-2h-5v-2h-3v3h-10v2h-7v-4h-3v7h-7v-6h-15v-4h-3v1h-7v-2h-3v3h-7v-2h-5v-1h-3v1h-12v-1h-8v2h-7v-1h-5v-1h-5v-2h-3v2h-5v1h-5v1h-12v-2h-3v2h-5v3h-7v-3h-5v-1h-5v-1h-3v3h-7v-2h-3v1h-5v1h-7v-1h-3v1h-7v-4h-3v1h-10v1h-5v2h-17v-4h-3v3h-7v-1h-5v-1h-8v1h-5v1h-7v-3h-3v1h-5v1h-10v2h-7v-2h-5v-1h-3v1h-5v3h-7v-3h-3v1h-7v-1h-3v1h-7v-3h-3v2h-10v1h-5v3h-7v-2h-5v-1h-3v4h-7v-2h-3v1h-7v-3h-3v3h-7v-2h-3v3h-7v-3h-3v3h-7v-2h-5v-1h-5v-2h-3v2h-7v-3h-3v2h-5v2h-5v2h-5v3h-7v-5h-3v2h-7v-1h-5v-1h-3v1h-7v-3h-3v3h-7v-4h-3v2h-7v-2h-5v-1h-3v2h-10v3h-7v-3h-3v2h-7v-3h-3v8h-7v-4h-3v4h-7v-8h-8v2h-5v1h-5v1h-7v-1h-5v-1h-3v2h-7v-4h-8v1h-17v-2h-3v5h-12v-3h-15v-1h-3v3h-22v-1h-5v-3h-3v2h-7v-2h-3v2h-7v-1h-3v1h-7v-3h-3v2h-7v-1h-8v1h-5v3h-7v-3h-3v1h-7v-1h-5v-1h-3v3h-7v-3h-3v1h-12v-1h-3v1h-5v1h-7v-3h-13v2h-5v2h-10v1h-7v-2h-8v2h-7v-4h-3v1h-17v-1h-5v-1h-3v2h-5v2h-7v-3h-8v1h-5v2h-7v-2h-5v-1h-8v1h-5v2h-7v-1h-5v-1h-3v2h-7v-1h-5v-1h-5v-2h-3v2h-12v-3h-3v2h-5v2h-7v-1h-8v1h-5v2h-7v-4h-5v-1h-3v1h-5v3h-5v2h-7v-4h-3v1h-7v-1h-3v2h-7v-1h-5v-2h-5v-1h-13v2h-5v1h-7v-1h-5v-2h-8v2h-7v-1h-3v1h-10v3h-7v-3h-3v3h-7v-1h-5v-2h-5v-1h-5v-1h-3v1h-7v-1h-3v1h-5v1h-7v-1h-3v3h-7v-2h-5v-1h-8v3h-7v-3h-3v5h-7v-6h-3v4h-7v-4h-8v1h-5v2h-7v-2h-8v1h-7v-1h-3v3h-7v-2h-13v2h-7v-1h-5v-2h-3v1h-7v-1h-3v2h-7v-2h-3v1h-5v1h-10v1h-7v-3h-5v-1h-3v1h-5v1h-7v-2h-3v1h-5v1h-17v-1h-3v4h-7v-3h-5v-1h-3v2h-7v-3h-3v1h-5v1h-7v-2h-3v2h-7v-1h-8v3h-7v-1h-5v-1h-3v1h-7v-1h-3v1h-7v-2h-8v2h-12v-2h-3v2h-10v1h-7v-2h-5v-2h-3v2h-5v1h-7v-1h-3v2h-7v-1h-3v2h-7v-3h-3v1h-5v5h-7v-4h-5v-2h-3v3h-5v3h-7v-5h-5v-1h-8v3h-12v-1h-3v2h-7v-3h-8v2h-5v1h-5v4h-7v-6h-5v-1h-3v2h-5v3h-12v-4h-3v1h-5v3h-7v-6h-3v2h-7v-2h-3v3h-7v-1h-5v-1h-3v2h-20v1h-7v-3h-8v4h-7v-4h-3v1h-5v1h-5v1h-5v3h-7v-3h-3v2h-7v-1h-5v-3h-13v1h-7v-3h-8v2h-7v-1h-5v-2h-8v3h-7v-1h-5v-3h-3v1h-7v-1h-3v2h-12v-1h-3v5h-12v-4h-10v-1h-3v2h-12v-2h-10v-2h-3v1h-10v4h-7v-3h-3v2h-7v-2h-3v2h-12v-2h-3v2h-7v-1h-5v-1h-3v1h-7v-1h-3v1h-7v-1h-8v3h-7v-2h-5v-1h-3v1h-7v-3h-3v2h-10v2h-7v-2h-3v1h-12v-2h-3v2h-7v-1h-3v2h-17v-1h-3v2h-7v-2h-5v-1h-3v2h-7v-2h-5v-2h-3v4h-7v-2h-8v2h-10v1h-7v-2h-5v-1h-3v3h-5v2h-7v-4h-5v-3h-3v3h-22v-1h-3v1h-5v1h-7v-1h-5v-1h-8v1h-12v-1h-3v3h-7v-1h-5v-1h-5v-1h-8v3h-7v-1h-10v-3h-3v3h-5v2h-7v-4h-3v2h-7v-1h-3v1h-5v1h-7v-1h-5v-1h-5v-1h-3v1h-5v1h-5v2h-7v-3h-5v-3h-3v4h-10v1h-7v-3h-3v2h-7v-2h-3v4h-7v-4h-3v3h-7v-2h-5v-2h-3v3h-10v1h-7v-1h-5v-2h-5v-3h-3v3h-5v1h-7v-1h-3v1h-5v1h-7v-2h-3v2h-10v1h-7v-1h-5v-2h-5v-2h-3v3h-7v-2h-3v2h-5v1h-7v-1h-5v-1h-3v1h-5v3h-7v-2h-5v-3h-3v4h-7v-3h-10v-1h-3v1h-20v1h-5v2h-7v-1h-10v-1h-3v1h-5v1h-7v-3h-3v1h-5v1h-7v-3h-3v2h-5v3h-7v-5h-3v4h-7v-2h-3v1h-7v-3h-3v1h-5v1h-5v1h-12v-4h-3v5h-7v-2h-5v-1h-3v1h-7v-2h-3v1h-5v1h-20v2h-7v-3h-3v1h-5v1h-7v-1h-3v3h-12v-1h-10v-1h-3v1h-22v-1h-3v1h-5v1h-7v-2h-5v-1h-3v1h-10v1h-7v-1h-13v2h-7v-1h-10v-5h-3v5h-7v-1h-3v7h-7v-7h-3v1h-5v1h-12v-1h-3v2h-7v-3h-5v-1h-3v3h-10v1h-7v-1h-5v-2h-5v-3h-3v7h-7v-4h-3v2h-7v-2h-3v4h-7v-4h-8v2h-5v2h-7v-1h-5v-6h-3v1h-5v2h-15v2h-7v-4h-8v1h-15v1h-7v-1h-3v1h-7v-2h-5v-1h-3v3h-22v-2h-8v1h-5v1h-7v-1h-13v3h-12v-1h-3v3h-7v-6h-3v2h-7v-3h-8v2h-15v1h-7v-1h-8v2h-7v-3h-3v1h-5v1h-7v-2h-8v2h-7v-2h-3v1h-5v1h-12v-1h-5v-1h-3v2h-7v-2h-8v1h-7v-2h-3v2h-12v-1h-3v2h-7v-1h-8v1h-7v-1h-3v2h-7v-1h-8v1h-7v-1h-3v1h-12v-3h-3v2h-7v-2h-3v2h-7v-2h-5v-1h-3v2h-5v2h-7v-1h-5v-3h-3v1h-10v3h-7v-2h-3v3h-7v-2h-8v4h-7v-1h-5v-5h-13v2h-5v1h-7v-3h-3v1h-12v-1h-3v3h-7v-2h-5v-1h-8v1h-10v1h-10v3h-7v-4h-5v-2h-3v8h-7v-6h-8v3h-7v-2h-5v-1h-5v-2h-8v1h-15v3h-7v-1h-5v-1h-10v-2h-3v1h-5v3h-7v-2h-8v2h-12v-4h-3v3h-17v-2h-3v4h-7v-2h-5v-1h-8v1h-7v-1h-8v4h-7v-3h-5v-1h-3v3h-7v-2h-5v-1h-5v-2h-3v2h-10v1h-7v-2h-8v1h-10v2h-7v-2h-8v1h-7v-4h-3v2h-5v2h-5v1h-5v1h-5v2h-7v-3h-3v1h-12v-2h-3v1h-7v-4h-3v3h-12v-3h-3v1h-5v1h-5v3h-5v2h-7v-4h-3v2h-7v-1h-5v-2h-5v-1h-3v2h-7v-3h-3v1h-5v2h-5v1h-12v-2h-3v2h-7v-2h-3v1h-12v-1h-13v1h-7v-2h-3v2h-17v-3h-3v4h-5v1h-7v-3h-3v1h-5v5h-5v2h-7v-4h-5v-3h-3v6h-7v-2h-5v-2h-5v-2h-5v-2h-3v5h-5v2h-7v-2h-5v-2h-5v-5h-3v2h-10v4h-7v-5h-3v2h-5v1h-7v-1h-5v-1h-8v1h-7v-2h-3v1h-10v2h-5v2h-17v-2h-5v-2h-3v1h-7v-2h-13v2h-7v-1h-5v-1h-3v5h-7v-4h-8v1h-5v1h-7v-1h-5v-1h-3v2h-12v-2h-3v7h-7v-5h-5v-2h-5v-1h-8v1h-10v4h-7v-2h-15v-1h-13v2h-7v-1h-8v1h-7v-1h-10v-1h-18v3h-7v-5h-3v2h-10v1h-5v2h-7v-4h-3v1h-5v1h-7v-1h-8v2h-7v-2h-3v2h-12v-2h-18v1h-7v-1h-3v1h-7v-1h-5v-1h-3v1h-12v-1h-8v3h-7v-2h-3v1h-5v2h-7v-1h-10v-2h-5v-1h-8v1h-15v3h-7v-2h-3v2h-12v-3h-3v2h-7v-1h-5v-2h-3v3h-7v-3h-3v1h-10v1h-7v-2h-5v-1h-8v1h-7v-1h-3v1h-7v-1h-3v1h-12v-1h-3v2h-12v-1h-5v-2h-3v3h-7v-1h-3v3h-7v-1h-5v-1h-8v2h-7v-3h-5v-2h-8v3h-5v2h-7v-3h-3v1h-5v1h-12v-1h-15v-2h-3v4h-7v-1h-5v-1h-3v1h-7v-1h-3v1h-7v-2h-3v2h-12v-3h-3v1h-5v4h-7v-2h-10v-1h-3v1h-7v-3h-8v1h-5v3h-5v13h-5v4h-7v-18h-5v-1h-5v-3h-3v3h-7v-2h-3v2h-5v2h-12v-4h-8v2h-5v2h-5v3h-7v-5h-8v1h-7v-3h-3v1h-5v1h-7v-1h-3v2h-7v-1h-3v2h-7v-1h-5v-1h-3v1h-7v-1h-10v-1h-3v3h-7v-3h-5v-1h-3v2h-17v-1h-5v-1h-3v3h-12v-2h-3v1h-5v1h-7v-4h-3v2h-5v2h-7v-1h-8v1h-17v-1h-5v-3h-3v2h-5v2h-22v-2h-3v1h-12v-1h-3v2h-7v-2h-5v-1h-3v2h-7v-2h-3v3h-10v1h-7v-3h-5v-1h-8v2h-7v-1h-8v2h-7v-2h-3v1h-12v-2h-3v3h-12v-1h-5v-2h-3v2h-7v-1h-3v3h-12v-2h-3v2h-7v-2h-10v-1h-3v4h-7v-4h-8v1h-7v-2h-3v3h-7v-1h-5v-1h-3v2h-5v1h-7v-5h-3v3h-7v-2h-3v1h-7v-2h-3v1h-10v1h-5v2h-7v-1h-13v1h-10v1h-7v-1h-10v-1h-20v-1h-3v1h-7v-1h-8v2h-7v-2h-3v2h-7v-1h-10v-1h-3v1h-10v1h-7v-1h-3v3h-7v-5h-3v8h-7v-6h-3v1h-5v1h-7v-2h-3v1h-5v2h-7v-3h-10v-1h-3v1h-7v-1h-3v1h-5v1h-7v-1h-8v2h-7v-1h-15v-2h-10v-1h-3v5h-7v-3h-13v1h-7v-1h-8v1h-7v-1h-3v3h-7v-4h-3v1h-5v1h-5v4h-7v-5h-10v-1h-8v1h-12v-2h-8v2h-12v-1h-8v2h-5v4h-7v-5h-3v1h-12v-1h-8v1h-7v-3h-3v3h-7v-3h-3v1h-12v-1h-3v1h-7v-1h-3v4h-7v-3h-3v2h-7v-2h-3v1h-5v2h-7v-2h-5v-1h-23v1h-7v-1h-5v-1h-3v1h-5v1h-5v3h-7v-3h-3v1h-12v-1h-3v1h-7v-3h-3v4h-7v-2h-3v3h-7v-1h-10v-2h-5v-1h-3v2h-12v-1h-5v-1h-8v1h-7v-2h-8v2h-15v1h-7v-2h-3v1h-7v-2h-3v2h-7v-1h-3v2h-7v-1h-3v1h-5v1h-12v-3h-3v2h-5v1h-7v-2h-3v2h-7v-2h-3v1h-7v-2h-3v2h-7v-1h-5v-1h-3v1h-5v2h-7v-4h-3v6h-7v-7h-8v2h-5v5h-7v-4h-8v2h-5v2h-7v-4h-10v-1h-18v1h-5v1h-7v-2h-8v1h-5v1h-7v-1h-3v1h-7v-3h-3v2h-5v2h-7v-3h-5v-1h-3v2h-5v2h-7v-2h-5v-1h-3v3h-7v-1h-5v-2h-3v3h-7v-3h-3v7h-7v-6h-5v-1h-3v1h-7v-2h-3v1h-5v2h-7v-2h-13v2h-7v-1h-3v1h-12v-1h-5v-2h-3v3h-7v-3h-3v3h-10v1h-7v-1h-5v-1h-10v-2h-3v1h-5v4h-7v-4h-3v2h-5v1h-7v-1h-5v-1h-3v1h-7v-3h-3v2h-7v-2h-3v1h-5v2h-7v-2h-3v1h-7v-1h-18v1h-10v2h-12v-1h-5v-2h-3v2h-7v-3h-3v1h-5v2h-7v-3h-3v3h-7v-2h-3v5h-7v-2h-5v-3h-3v3h-12v-1h-3v4h-7v-2h-5v-3h-3v1h-7v-1h-8v2h-7v-1h-10v-2h-3v1h-12v-1h-3v2h-5v2h-7v-4h-3v2h-7v-2h-8v1h-7v-1h-3v1h-5v1h-12v-1h-3v2h-7v-1h-5v-2h-8v1h-5v1h-5v1h-7v-2h-3v1h-5v1h-7v-3h-3v2h-7v-2h-3v2h-5v2h-7v-4h-3v1h-5v2h-5v3h-7v-6h-3v4h-7v-3h-3v1h-7v-1h-13v1h-7v-2h-3v2h-7v-1h-10v-2h-3v1h-5v1h-12v-2h-4Z"/>
<path fill="#008000" d="M1152 1478h6v3h8v-3h12v3h8v-2h12v1h3v-1h7v1h5v1h5v1h3v-1h5v-1h5v-1h5v-17h7v3h5v16h3v-2h5v-3h7v5h5v1h3v-2h7v3h3v-3h7v1h10v1h3v-1h7v1h5v1h3v-3h12v1h3v-2h7v3h3v-2h5v-1h7v3h3v-3h7v1h8v-2h7v2h5v2h3v-2h17v3h3v-2h5v-1h17v2h3v-3h7v4h8v-2h7v1h3v-1h5v-2h7v2h15v2h3v-1h10v-1h5v-1h7v2h5v1h3v-4h7v2h3v-2h7v1h3v-2h7v3h8v-1h12v3h3v-1h10v-4h7v3h3v-2h5v-1h7v3h3v-1h7v1h3v-1h7v1h8v-2h7v3h3v-1h5v-4h7v4h5v3h3v-2h5v-2h7v1h13v-2h7v3h3v-2h7v2h3v-4h7v3h8v-2h5v-1h7v1h3v-2h7v1h3v-5h7v7h3v-3h7v3h8v-4h7v3h5v3h8v-3h7v2h3v-3h7v1h3v-6h7v6h3v-1h5v-2h7v2h5v2h13v-1h7v2h3v-2h5v-4h7v3h5v3h5v1h3v-2h7v1h10v1h3v-4h12v1h5v1h3v-2h5v-2h7v3h3v-1h12v2h3v-3h7v1h5v1h10v1h3v-3h7v2h5v1h8v-7h7v9h3v-4h7v2h5v1h5v1h3v-6h5v-1h7v4h3v-3h7v2h5v2h3v-6h7v4h10v3h3v-2h12v1h3v-1h10v-6h7v8h8v-3h7v2h10v3h3v-7h7v2h5v3h3v-1h10v-6h7v3h5v2h3v-2h5v-1h7v5h3v-10h7v9h10v1h3v-1h17v1h3v-1h5v-2h7v2h3v-10h7v1h5v8h8v-3h7v2h5v1h3v-1h5v-1h7v5h3v-2h7v2h3v-4h7v4h8v-1h5v-2h7v3h3v-2h7v3h3v-8h12v5h8v-2h7v3h15v1h3v-1h10v-1h10v-1h7v1h5v1h3v-1h7v1h5v1h5v1h8v-6h7v4h5v1h3v-2h5v-1h7v2h3v-3h7v1h5v1h5v1h5v1h3v-1h7v1h3v-1h7v1h3v-1h12v1h3v-3h7v2h3v-2h5v-1h7v4h3v-1h15v-3h7v3h3v-2h12v1h3v-1h7v4h3v-4h7v3h5v1h3v-3h7v1h10v1h3v-6h7v3h10v3h3v-4h7v3h5v1h8v-2h12v2h8v-3h7v1h5v1h3v-2h7v2h3v-2h7v1h3v-2h7v2h3v-1h7v2h5v1h3v-3h7v1h3v-1h7v4h3v-2h7v3h3v-2h10v-1h5v-1h20v-1h7v2h3v-2h7v2h3v-2h7v3h8v-1h7v1h5v1h3v-4h7v2h8v-2h5v-1h7v3h3v-1h7v1h3v-1h10v-2h12v4h5v1h3v-2h5v-1h7v1h5v2h3v-3h7v1h3v-1h12v2h8v-4h7v2h3v-1h7v1h3v-1h12v5h3v-2h5v-1h5v-1h7v2h3v-3h7v2h8v-3h7v3h5v1h13v-2h7v2h3v-4h7v1h5v2h5v2h3v-4h5v-2h7v5h3v-1h5v-1h5v-3h7v7h3v-3h5v-1h7v1h3v-5h7v4h3v-2h7v3h3v-1h5v-5h7v5h5v2h3v-2h17v1h3v-1h7v2h5v1h3v-2h7v1h5v1h3v-4h7v1h3v-1h22v1h5v1h5v1h3v-3h7v1h5v2h3v-1h7v2h3v-4h7v1h3v-3h7v4h10v2h13v-2h10v-1h17v1h5v1h8v-1h12v1h3v-1h12v3h3v-4h7v2h3v-2h7v1h8v-1h7v1h3v-1h12v1h10v1h3v-3h7v3h3v-3h7v3h8v-2h7v1h3v-1h7v2h8v-4h7v4h8v-2h5v-1h7v2h5v1h3v-3h12v2h5v1h3v-1h5v-4h7v3h8v-2h7v4h8v-2h10v-2h7v2h15v1h10v2h3v-4h7v1h10v1h8v-1h7v1h8v-1h5v-1h7v3h3v-1h10v-1h12v1h3v-1h5v-1h7v1h10v1h3v-1h12v2h8v-3h5v-7h7v8h5v1h3v-1h10v-1h5v-1h7v3h3v-2h7v2h8v-1h7v1h3v-5h7v6h3v-2h7v3h8v-1h5v-3h12v3h3v-1h5v-2h7v3h3v-3h12v2h5v1h13v-1h12v1h5v2h3v-3h22v1h8v-1h10v-2h7v2h5v2h3v-2h7v1h3v-2h12v1h5v2h8v-3h7v1h5v1h3v-1h5v-1h17v2h3v-3h7v2h8v-1h10v-3h7v4h8v-4h7v1h5v4h3v-2h10v-1h5v-1h7v3h3v-6h7v3h5v1h3v-5h10v-2h7v8h5v1h3v-4h7v4h5v1h3v-3h12v1h3v-1h12v2h5v1h3v-1h5v-1h7v2h3v-1h7v1h3v-2h7v2h3v-4h7v3h3v-4h7v2h5v1h10v1h3v-3h7v3h8v-1h5v-1h12v1h3v-3h7v4h10v1h3v-2h12v2h3v-2h7v2h8v-3h7v2h3v-1h7v2h3v-2h7v2h13v-1h5v-2h7v2h3v-1h5v-2h7v1h5v1h15v2h3v-2h5v-1h7v1h5v2h3v-2h7v2h13v-4h7v3h8v-1h7v1h5v2h3v-4h12v3h8v-2h5v-2h7v3h3v-1h12v2h8v-2h7v1h3v-1h10v-1h7v1h3v-2h7v1h15v2h3v-1h7v1h3v-1h5v-4h7v6h8v-2h12v2h3v-1h12v2h3v-1h5v-1h10v-1h7v2h8v-1h5v-1h7v2h8v-3h7v1h15v2h3v-1h7v1h3v-2h7v2h3v-1h5v-2h7v2h10v1h8v-1h7v1h3v-3h7v4h8v-4h5v-1h7v3h10v3h3v-4h5v-1h7v3h3v-1h5v-1h7v1h5v1h3v-3h7v1h5v2h3v-2h5v-1h7v2h3v-1h7v1h3v-1h7v2h8v-1h5v-1h7v2h8v-2h7v1h10v2h3v-6h7v4h8v-2h7v2h3v-3h7v3h5v1h3v-4h7v3h3v-1h12v2h3v-3h7v3h8v-3h7v1h8v-1h7v3h10v2h3v-3h7v1h3v-4h7v4h8v-3h7v2h8v-2h7v2h5v1h3v-4h7v2h5v2h3v-1h7v1h3v-4h7v1h10v1h5v1h5v1h3v-1h7v1h3v-2h5v-2h7v4h3v-1h10v-5h7v4h10v2h3v-1h5v-3h7v1h3v-2h5v-6h7v9h3v-1h5v-4h7v4h8v-3h7v1h5v1h13v-2h7v4h3v-1h10v-1h7v2h3v-1h5v-2h7v5h3v-5h7v1h5v1h5v4h3v-3h5v-2h7v3h5v1h3v-2h22v3h8v-1h5v-2h15v-1h7v1h5v1h5v2h3v-2h7v1h8v-2h5v-2h7v2h3v-2h7v4h8v-3h7v2h10v2h3v-1h10v-1h10v-3h7v2h3v-3h7v5h3v-2h7v1h5v1h3v-3h7v1h10v1h3v-1h7v1h3v-3h5v-2h7v2h5v5h8v-3h7v1h5v1h3v-1h15v-3h7v1h5v3h3v-2h10v-1h7v2h5v1h3v-1h17v1h3v-2h7v1h3v-7h7v3h5v2h5v2h13v-4h7v5h8v-1h7v2h3v-4h7v1h3v-1h7v1h3v-6h7v7h3v-1h10v-1h5v-2h7v4h3v-2h5v-1h7v1h5v1h5v1h3v-1h17v1h3v-1h7v2h3v-1h10v-1h10v-1h7v2h3v-2h7v1h5v1h8v-4h7v4h3v-1h12v1h15v2h3v-1h10v-1h5v-2h7v1h3v-1h12v1h3v-1h12v2h3v-1h5v-6h7v6h5v1h3v-2h7v1h3v-2h7v3h8v-2h7v1h8v-1h7v1h13v-1h7v2h3v-1h12v2h3v-1h5v-2h7v2h15v1h8v-2h5v-1h7v2h10v2h8v-1h5v-1h5v-2h5v-1h7v2h5v2h3v-2h7v1h5v1h3v-2h12v2h3v-3h12v2h3v-3h7v2h5v1h3v-2h7v1h10v2h3v-1h10v-2h7v2h8v-1h17v2h3v-2h7v2h5v1h3v-3h12v2h3v-1h5v-1h7v1h5v1h3v-2h12v2h3v-3h7v2h8v-3h7v1h5v1h5v1h3v-3h12v2h5v1h3v-4h7v3h5v2h3v-3h7v2h3v-1h12v1h10v1h3v-4h7v4h8v-3h5v-1h12v1h5v2h5v1h8v-1h5v-6h7v6h5v1h3v-6h7v5h3v-1h7v2h3v-2h5v-2h7v2h5v3h8v-3h5v-3h7v3h5v1h8v-1h5v-1h7v2h5v1h3v-2h7v1h3v-8h7v8h8v-1h5v-2h12v5h3v-5h7v3h3v-1h5v-1h7v1h5v3h3v-5h7v4h3v-1h10v-1h7v1h5v2h3v-2h7v2h3v-1h5v-5h7v6h3v-1h20v-2h5v-3h7v5h3v-2h7v1h18v-1h17v1h5v1h8v-1h7v1h3v-1h7v1h3v-2h7v1h5v2h3v-5h7v3h3v-2h7v2h5v1h3v-4h7v3h5v1h3v-1h7v1h5v1h3v-1h5v-1h5v-1h5v-2h7v2h13v-7h7v8h3v-1h7v2h3v-2h5v-7h7v8h3v-4h7v3h3v-2h7v3h3v-2h7v4h3v-2h5v-2h5v-2h5v-2h7v2h8v-4h12v3h3v-2h7v6h5v2h3v-1h10v-1h7v1h3v-1h7v1h8v-1h5v-1h7v2h5v1h3v-2h5v-1h7v3h3v-2h7v2h3v-1h5v-3h7v1h15v3h5v2h3v-3h7v1h3v-6h7v5h3v-1h5v-1h5v-1h7v3h3v-1h10v-1h5v-1h7v2h3v-6h12v7h3v-1h5v-5h7v6h3v-1h12v1h3v-2h7v2h5v1h3v-1h5v-2h7v2h3v-3h7v3h3v-1h7v3h3v-3h5v-3h7v3h5v1h10v2h3v-1h7v2h3v-1h5v-3h5v-1h7v3h3v-3h7v3h3v-4h7v2h10v1h13v-2h5v-1h7v5h5v1h3v-3h7v1h15v1h3v-3h12v1h3v-1h15v-2h5v-1h12v2h5v2h5v1h3v-1h5v-1h7v1h8v-2h5v-1h7v3h5v1h3v-3h12v3h5v2h3v-1h5v-3h7v2h3v-2h7v2h8v-2h5v-1h5v-1h7v1h3v-2h7v1h13v-3h7v5h3v-1h15v-2h7v4h3v-1h7v2h8v-2h7v1h8v-2h5v-3h7v6h8v-7h7v4h3v-5h7v4h5v5h8v-1h5v-2h12v1h5v2h3v-3h12v1h5v1h8v-1h5v-1h7v2h3v-3h12v1h3v-2h7v2h13v-5h7v5h5v1h8v-1h7v1h5v3h3v-2h5v-3h12v2h8v-1h7v1h15v1h3v-1h5v-1h5v-1h7v1h10v2h23v-2h7v1h13v-1h7v2h3v-2h7v3h8v-4h12v3h3v-1h7v1h3v-2h7v2h3v-2h7v2h3v-2h12v3h3v-2h5v-1h7v2h8v-2h7v1h3v-3h7v3h3v-1h5v-1h5v-3h7v4h5v1h3v-1h6V1495h-4v2h-5v1h-12v-1h-3v2h-17v-2h-3v1h-12v-1h-3v1h-10v1h-7v-2h-3v4h-7v-2h-10v-3h-3v1h-10v1h-20v2h-5v6h-7v-8h-13v1h-17v-2h-3v1h-12v-2h-3v4h-7v-2h-5v-2h-3v1h-5v3h-12v-2h-8v1h-7v-1h-5v-1h-5v-1h-3v3h-12v-3h-5v-1h-3v1h-5v1h-5v3h-7v-1h-5v-2h-3v1h-12v-2h-8v4h-7v-1h-3v1h-7v-3h-3v1h-12v-1h-3v1h-15v5h-7v-3h-5v-4h-3v2h-7v-2h-3v3h-12v-3h-8v2h-17v-2h-3v3h-10v1h-7v-3h-8v2h-7v-1h-20v-2h-3v1h-5v1h-5v1h-7v-1h-3v4h-17v-3h-3v1h-7v-1h-5v-2h-3v2h-5v1h-7v-2h-13v1h-12v-2h-3v2h-7v-2h-3v2h-5v1h-12v-1h-5v-1h-3v1h-7v-2h-10v-1h-8v4h-7v-1h-5v-1h-10v-2h-3v1h-12v-3h-3v1h-5v4h-12v-1h-3v1h-7v-1h-3v2h-7v-2h-5v-1h-3v1h-5v1h-7v-1h-3v2h-7v-1h-10v-2h-8v2h-7v-4h-3v4h-12v-4h-3v3h-5v1h-7v-2h-5v-1h-3v3h-5v1h-7v-3h-3v2h-5v2h-7v-3h-3v2h-7v-6h-3v1h-5v4h-5v3h-7v-3h-5v-2h-3v1h-7v-2h-3v2h-7v-2h-3v1h-7v-2h-3v3h-10v1h-5v1h-7v-2h-3v1h-7v-1h-8v3h-5v4h-7v-6h-5v-1h-3v1h-7v-1h-5v-1h-3v2h-5v1h-7v-1h-5v-1h-10v-1h-8v2h-5v1h-7v-1h-5v-3h-5v-2h-3v1h-5v1h-5v2h-5v5h-7v-6h-10v-1h-3v4h-7v-4h-3v1h-10v2h-7v-1h-5v-2h-3v1h-7v-1h-5v-1h-3v4h-7v-1h-8v3h-5v4h-7v-6h-3v7h-7v-7h-3v1h-5v1h-7v-3h-5v-1h-8v1h-7v-1h-3v1h-5v1h-12v-1h-3v2h-12v-1h-5v-1h-3v2h-7v-3h-5v-1h-3v2h-17v-1h-3v2h-7v-1h-3v3h-7v-3h-3v1h-7v-2h-3v4h-7v-3h-5v-3h-3v3h-5v1h-7v-2h-5v-1h-3v3h-5v1h-7v-4h-3v3h-7v-1h-8v2h-5v3h-7v-6h-3v1h-7v-1h-8v3h-7v-3h-3v1h-7v-1h-3v1h-7v-1h-8v1h-12v-2h-3v2h-10v3h-7v-3h-13v2h-5v4h-7v-7h-3v1h-5v1h-7v-2h-13v3h-7v-2h-8v2h-7v-2h-5v-1h-3v1h-7v-1h-3v1h-5v1h-7v-2h-3v1h-7v-1h-5v-2h-3v3h-7v-1h-8v1h-5v1h-5v1h-7v-4h-8v3h-12v-2h-8v2h-5v1h-12v-3h-3v3h-7v-1h-5v-3h-3v1h-12v-1h-3v2h-7v-3h-3v3h-5v1h-7v-2h-3v1h-15v1h-7v-2h-23v7h-7v-5h-10v-2h-3v3h-7v-2h-5v-1h-3v3h-7v-1h-3v1h-12v-1h-3v1h-7v-1h-3v2h-7v-1h-10v-1h-5v-1h-3v1h-7v-1h-5v-2h-3v2h-7v-1h-3v1h-12v-1h-5v-1h-3v1h-10v1h-5v1h-5v1h-17v-3h-18v3h-7v-1h-5v-2h-3v1h-7v-2h-3v3h-12v-1h-10v-1h-3v1h-7v-2h-3v2h-5v1h-7v-2h-3v3h-7v-3h-8v2h-5v1h-7v-2h-3v1h-12v-2h-3v1h-15v3h-7v-3h-3v1h-15v1h-7v-3h-3v1h-12v-1h-8v3h-7v-3h-5v-1h-3v2h-7v-1h-10v-1h-3v2h-7v-3h-3v3h-12v-1h-8v1h-5v1h-7v-1h-5v-1h-3v1h-7v-1h-3v1h-17v-2h-5v-1h-13v1h-10v1h-5v2h-7v-3h-3v1h-5v1h-17v-1h-3v2h-7v-2h-5v-2h-3v2h-5v5h-7v-4h-10v-2h-3v2h-7v-2h-10v-2h-3v3h-7v-1h-8v2h-5v3h-7v-2h-5v-3h-3v4h-7v-2h-5v-2h-3v1h-10v1h-22v-2h-3v4h-7v-3h-3v1h-5v1h-7v-3h-3v2h-5v1h-7v-2h-8v2h-12v-1h-8v1h-22v-2h-3v1h-7v-1h-8v3h-7v-2h-8v8h-7v-9h-3v1h-5v1h-7v-2h-10v-1h-8v1h-10v1h-7v-2h-3v1h-10v3h-7v-3h-3v1h-7v-1h-5v-1h-3v4h-12v-3h-5v-1h-3v3h-7v-1h-5v-1h-8v1h-12v-1h-8v1h-5v2h-7v-3h-5v-1h-3v2h-7v-2h-3v1h-5v2h-7v-1h-3v1h-5v3h-7v-5h-8v1h-5v1h-7v-2h-3v1h-5v1h-7v-2h-3v4h-7v-1h-5v-2h-8v1h-7v-2h-5v-1h-3v1h-10v3h-7v-1h-5v-3h-3v1h-10v2h-7v-1h-3v3h-7v-2h-5v-2h-3v1h-15v3h-5v1h-7v-3h-10v-2h-3v3h-5v4h-7v-4h-5v-1h-8v4h-7v-4h-10v-3h-8v2h-5v6h-7v-3h-5v-3h-5v-1h-3v1h-5v3h-5v1h-7v-3h-3v1h-7v-3h-10v-2h-3v2h-5v2h-10v1h-7v-1h-3v1h-7v-2h-5v-1h-8v3h-7v-5h-3v3h-5v6h-7v-5h-10v-2h-8v2h-17v-1h-5v-1h-8v1h-7v-1h-3v4h-5v2h-7v-3h-5v-1h-15v-2h-8v1h-7v-1h-5v-1h-3v3h-7v-1h-10v-2h-3v1h-10v2h-12v-2h-3v1h-5v1h-7v-1h-5v-1h-3v1h-5v1h-7v-1h-3v2h-7v-3h-3v1h-5v1h-7v-1h-5v-1h-8v1h-12v-1h-13v2h-7v-2h-3v1h-7v-1h-5v-1h-3v2h-5v2h-17v-1h-5v-2h-8v1h-10v2h-7v-1h-3v1h-7v-4h-3v4h-7v-2h-3v4h-7v-4h-3v3h-7v-3h-3v2h-7v-3h-3v2h-12v-1h-5v-1h-8v2h-7v-2h-3v2h-12v-1h-23v1h-20v1h-7v-3h-3v1h-7v-1h-3v1h-5v1h-7v-1h-13v3h-7v-3h-3v1h-5v1h-7v-3h-3v1h-15v1h-12v-2h-5v-1h-3v2h-10v3h-7v-4h-10v-1h-3v3h-17v-2h-5v-1h-3v4h-7v-2h-3v1h-7v-2h-3v1h-5v1h-12v-2h-3v1h-7v-2h-3v2h-7v-2h-3v1h-5v2h-7v-2h-3v4h-7v-2h-5v-1h-5v-2h-13v1h-10v1h-7v-2h-3v4h-7v-4h-18v2h-10v2h-7v-3h-8v1h-7v-2h-3v1h-5v2h-17v-3h-3v1h-5v3h-7v-2h-3v2h-7v-3h-3v8h-7v-7h-10v-1h-10v-1h-5v-1h-3v5h-7v-2h-3v1h-7v-1h-8v1h-5v2h-7v-2h-5v-2h-3v1h-10v5h-7v-3h-5v-1h-10v-2h-15v-2h-3v4h-7v-2h-8v1h-7v-1h-3v3h-7v-1h-10v-2h-3v1h-7v-1h-3v3h-12v-2h-3v3h-12v-1h-3v4h-7v-2h-5v-2h-3v4h-7v-4h-5v-1h-5v-1h-3v1h-7v-1h-3v2h-7v-2h-5v-1h-3v1h-7v-2h-3v1h-5v3h-7v-3h-3v4h-7v-3h-8v1h-7v-3h-8v3h-7v-2h-5v-1h-3v2h-5v3h-7v-1h-5v-2h-5v-1h-5v-1h-3v1h-7v-2h-3v4h-7v-1h-5v-2h-3v1h-10v3h-12v-1h-5v-2h-8v1h-7v-1h-23v3h-7v-4h-3v6h-7v-5h-3v1h-7v-1h-3v1h-10v1h-7v-3h-8v3h-20v5h-7v-3h-5v-5h-3v1h-7v-2h-3v2h-7v-1h-3v4h-7v-3h-5v-1h-3v2h-5v3h-7v-2h-5v-1h-5v-1h-5v-1h-3v2h-12v-2h-3v1h-10v1h-7v-1h-15v-1h-3v3h-10v1h-7v-2h-40v-1h-5v-1h-3v1h-5v1h-7v-1h-3v2h-7v-3h-3v2h-5v5h-7v-7h-3v4h-7v-5h-5v-1h-3v4h-10v2h-7v-3h-3v2h-7v-2h-5v-1h-3v4h-7v-4h-8v1h-10v2h-7v-3h-3v2h-7v-1h-3v5h-7v-4h-3v2h-7v-2h-3v1h-7v-1h-10v-1h-5v-1h-3v4h-7v-4h-3v2h-12v-1h-3v1h-12v-1h-8v4h-12v-3h-5v-1h-3v2h-7v-1h-10v-1h-3v2h-7v-4h-3v6h-7v-6h-3v5h-7v-2h-8v1h-5v1h-7v-1h-5v-1h-15v-1h-3v1h-10v5h-7v-5h-5v-1h-8v1h-7v-2h-3v3h-12v-2h-5v-1h-5v-1h-3v2h-25v3h-7v-1h-5v-2h-5v-1h-3v1h-10v1h-7v-2h-3v2h-7v-2h-8v3h-7v-3h-3v2h-7v-1h-8v4h-12v-2h-5v-3h-3v8h-7v-5h-5v-1h-5v-2h-3v2h-5v1h-12v-2h-3v3h-7v-3h-3v3h-7v-2h-5v-1h-5v-1h-3v1h-5v1h-5v2h-10v1h-7v-1h-3v2h-7v-2h-5v-4h-23v1h-5v1h-5v1h-17v-3h-3v1h-5v4h-7v-2h-5v-2h-3v2h-7v-1h-3v2h-10v2h-7v-6h-3v1h-7v-2h-3v3h-5v2h-7v-2h-5v-1h-18v2h-7v-2h-8v3h-7v-2h-3v1h-7v-2h-10v-1h-8v2h-7v-1h-5v-1h-3v2h-7v-2h-3v3h-12v-2h-3v2h-7v-1h-3v1h-12v-3h-3v4h-7v-3h-10v-1h-8v2h-15v1h-7v-2h-8v1h-7v-1h-3v1h-7v-1h-10v-1h-8v3h-7v-1h-3v1h-5v5h-7v-5h-5v-2h-5v-1h-3v2h-10v1h-7v-2h-3v2h-7v-1h-3v1h-7v-2h-8v2h-12v-3h-3v1h-5v2h-7v-2h-13v2h-5v3h-7v-4h-10v-1h-3v1h-7v-2h-8v2h-7v-1h-3v1h-5v1h-7v-1h-8v2h-7v-3h-3v1h-7v-3h-3v1h-5v2h-10v1h-7v-1h-3v1h-5v3h-7v-2h-10v-3h-5v-2h-3v3h-7v-1h-5v-1h-3v2h-7v-1h-3v1h-12v-1h-8v1h-5v1h-5v3h-7v-1h-5v-1h-5v-4h-3v2h-5v2h-7v-3h-3v1h-7v-2h-3v1h-5v1h-15v2h-12v-3h-5v-2h-3v2h-5v1h-5v4h-7v-2h-3v1h-7v-3h-3v14h-5v3h-7v-13h-3v1h-7v-4h-10v-1h-5v-1h-3v3h-10v1h-7v-2h-5v-1h-3v2h-7v-3h-3v2h-5v1h-7v-1h-3v2h-7v-2h-3v1h-5v2h-5v1h-7v-2h-10v-2h-3v1h-27v-1h-3v1h-5v7h-5v3h-7v-13h-8v3h-15v1h-7v-1h-3v1h-7v-1h-5v-2h-5v-1h-3v3h-5v3h-7v-4h-8v2h-7v-2h-18v4h-12v-5h-5v-1h-3v3h-10v6h-7v-4h-5v-3h-5v-1h-3v1h-7v-1h-3v3h-7v-4h-13v2h-15v1h-17v-2h-5v-2h-3v2h-5v4h-7v-3h-3v2h-7v-2h-8v2h-7v-3h-3v1h-5v11h-7v-12h-3v1h-10v1h-5v1h-7v-1h-10v-1h-5v-3h-3v4h-5v1h-7v-3h-3v1h-5v1h-7v-2h-5v-1h-3v2h-7v-1h-8v1h-5v7h-7v-8h-3v2h-7v-2h-5v-1h-5v-1h-3v2h-7v-1h-5v-1h-3v2h-5v2h-7v-2h-10v-1h-8v1h-12v-1h-3v1h-10v1h-5v2h-7v-6h-8v2h-5v2h-7v-1h-3v2h-7v-3h-3v1h-7v-1h-8v2h-7v-1h-3v1h-12v-3h-3v2h-5v1h-7v-1h-10v-1h-3v3h-7v-4h-3v4h-5v3h-7v-4h-5v-3h-3v2h-10v3h-12v-5h-3v2h-22v-1h-3v2h-5v1h-7v-1h-5v-2h-3v1h-5v1h-10v1h-7v-2h-10v-1h-8v4h-7v-4h-5v-1h-8v3h-12v-1h-5v-1h-3v1h-5v2h-12v-3h-8v1h-5v3h-7v-4h-3v1h-7v-1h-10v-1h-8v2h-5v1h-5v3h-7v-3h-5v-2h-3v2h-7v-1h-5v-2h-3v2h-7v-1h-10v-2h-3v3h-5v1h-7v-2h-10v-1h-15v-1h-3v2h-6Z"/>
<path fill="#000000" d="M1152 1549h9v-2h7v2h8v-1h7v3h3v-1h7v1h3v-1h10v-4h7v3h10v1h3v-2h5v-1h7v2h3v-1h12v3h3v-3h12v2h3v-3h7v3h3v-1h5v-2h5v-1h7v3h5v2h3v-3h5v-1h7v1h3v-1h5v-1h7v1h10v2h15v2h3v-1h5v-7h7v4h5v2h3v-1h7v1h8v-1h7v1h5v1h3v-2h5v-1h7v3h3v-1h27v1h3v-1h7v1h3v-2h7v2h3v-3h12v2h3v-4h7v4h5v2h3v-1h5v-2h7v1h3v-1h7v1h8v-1h10v-6h7v4h5v1h5v1h3v-1h12v3h3v-1h5v-2h7v2h5v2h3v-2h5v-3h7v3h8v-2h7v1h3v-2h7v5h3v-1h5v-1h12v1h3v-1h10v-1h12v1h3v-2h7v1h3v-5h7v7h3v-1h7v1h8v-1h12v2h3v-2h7v1h3v-3h7v3h3v-1h7v1h5v1h3v-3h7v3h8v-1h5v-1h10v-3h7v2h3v-2h7v2h5v2h3v-1h17v1h8v-3h7v1h10v1h5v1h13v-1h5v-1h5v-6h7v1h5v1h10v1h5v2h3v-3h5v-2h7v2h5v2h3v-4h7v4h18v-1h5v-1h10v-1h7v4h3v-4h7v5h8v-4h7v2h5v1h3v-1h7v1h5v3h3v-1h7v1h3v-5h7v4h5v1h3v-2h7v1h3v-3h7v2h15v2h3v-1h5v-5h7v4h5v2h3v-3h17v2h10v2h3v-1h5v-1h20v-1h7v2h3v-3h7v1h8v-2h7v2h3v-1h7v2h3v-1h5v-1h7v4h3v-2h12v1h3v-2h5v-1h7v2h5v2h8v-3h7v2h3v-1h5v-4h7v3h5v1h5v2h8v-2h7v1h8v-1h10v-4h7v4h5v1h5v2h3v-2h5v-1h7v1h3v-2h7v1h18v-2h7v3h3v-2h7v1h5v1h8v-2h5v-1h12v2h3v-3h7v2h3v-1h7v2h5v1h3v-6h7v2h5v4h3v-2h5v-11h7v3h5v9h5v1h3v-1h12v2h3v-1h5v-5h7v2h5v2h5v1h3v-1h5v-2h7v1h5v3h3v-4h17v4h3v-6h7v4h5v1h3v-2h7v1h5v1h3v-1h5v-1h5v-2h7v3h8v-1h5v-2h7v4h8v-1h10v-1h12v1h15v2h3v-1h5v-9h7v7h5v2h3v-2h12v2h3v-2h5v-2h7v1h5v1h5v1h5v1h3v-2h7v3h3v-6h5v-1h7v4h3v-1h7v3h3v-2h5v-2h7v3h8v-1h5v-3h7v3h5v2h8v-3h7v4h3v-1h5v-1h5v-1h7v2h8v-3h7v1h3v-1h12v1h3v-1h7v1h10v2h3v-1h7v1h8v-4h7v4h5v3h3v-2h5v-1h5v-2h7v1h3v-2h12v3h8v-1h7v1h8v-2h7v1h5v1h3v-2h12v1h5v2h8v-3h7v2h3v-1h7v1h13v-2h12v2h3v-1h7v1h8v-1h22v2h3v-2h12v1h5v1h3v-2h15v-1h7v2h15v2h3v-2h5v-4h7v1h5v1h5v1h3v-1h5v-2h7v2h5v1h5v1h3v-2h7v1h8v-4h7v1h5v2h3v-5h7v3h5v4h3v-3h5v-6h7v6h3v-3h7v4h3v-2h5v-2h5v-2h7v1h5v2h3v-1h12v3h5v1h3v-3h7v1h3v-1h7v3h5v1h10v1h5v2h3v-2h5v-1h7v1h8v-3h7v1h5v1h10v1h3v-1h7v1h8v-2h12v1h8v-2h7v3h3v-2h5v-1h7v2h3v-1h12v1h5v1h3v-2h7v1h5v1h5v2h3v-1h5v-3h7v1h3v-2h7v2h3v-2h7v2h8v-2h7v2h3v-1h5v-2h7v3h5v1h3v-1h7v1h3v-1h5v-2h7v1h10v3h8v-4h7v2h5v1h3v-1h5v-3h7v2h5v1h5v2h3v-6h7v1h5v1h3v-2h7v3h5v1h3v-1h17v2h3v-1h7v2h3v-1h10v-1h27v2h3v-2h7v1h3v-13h7v4h5v9h3v-2h5v-3h7v3h5v1h8v-1h7v1h15v1h3v-2h7v1h5v1h3v-3h7v2h5v1h3v-1h5v-2h7v2h3v-1h7v1h8v-1h7v1h3v-1h17v1h3v-2h7v1h3v-1h7v1h5v2h3v-2h7v2h3v-1h5v-1h7v2h5v1h3v-2h7v2h3v-2h5v-1h7v1h5v1h3v-3h7v3h3v-3h7v2h10v1h10v2h3v-6h7v1h3v-1h7v4h3v-1h7v1h3v-2h12v3h3v-5h12v4h3v-3h12v2h3v-1h7v2h3v-1h17v1h3v-2h7v1h5v1h3v-1h5v-1h7v1h3v-1h7v1h5v1h3v-2h10v-2h7v3h13v-2h7v1h5v2h5v1h3v-1h5v-4h7v2h3v-1h5v-1h12v4h3v-1h10v-2h7v2h13v-3h7v1h5v3h3v-2h10v-1h7v3h3v-1h7v1h3v-2h22v2h5v2h3v-5h12v3h3v-2h7v2h3v-2h5v-1h5v-2h7v2h5v1h10v3h3v-1h5v-2h7v1h5v1h8v-1h5v-2h7v3h3v-1h7v1h8v-1h12v1h3v-5h7v2h5v5h3v-3h5v-3h7v4h5v1h3v-2h15v-1h7v1h8v-1h5v-1h5v-1h12v3h3v-4h10v-2h7v3h3v-6h7v4h5v2h13v-2h7v2h3v-1h5v-1h12v1h3v-1h7v2h13v-3h5v-10h7v10h5v1h5v2h8v-4h12v5h5v3h5v1h3v-3h17v2h3v-1h5v-6h7v7h5v1h3v-5h7v3h5v1h3v-4h12v4h8v-3h5v-1h7v2h5v1h8v-1h7v1h3v-2h5v-1h7v3h8v-2h7v2h15v1h3v-1h12v2h3v-2h5v-2h12v3h8v-2h7v2h3v-1h5v-2h5v-2h7v3h3v-1h7v1h3v-3h7v3h5v2h13v-2h7v1h3v-1h7v1h10v1h3v-1h10v-2h12v1h15v1h3v-1h5v-1h7v1h5v2h3v-3h7v1h5v2h3v-4h7v2h5v1h15v1h3v-1h20v-1h7v1h5v2h3v-1h5v-3h7v3h3v-1h7v1h5v1h3v-1h5v-2h7v1h8v-1h7v2h3v-2h12v2h3v-2h7v1h3v-1h10v-3h7v5h3v-2h10v-3h7v2h5v1h3v-4h7v5h5v1h3v-7h7v5h5v1h3v-2h7v2h5v2h3v-2h5v-2h7v1h10v1h3v-1h7v1h3v-2h7v1h5v2h3v-2h5v-1h7v2h3v-3h7v3h3v-1h12v1h3v-2h7v2h3v-2h17v1h10v1h5v1h3v-1h17v2h3v-5h7v5h3v-3h7v4h3v-3h7v1h3v-1h5v-2h7v1h8v-3h7v6h3v-2h5v-2h7v1h3v-2h7v2h5v2h5v1h3v-1h5v-3h7v2h13v-12h7v4h5v7h5v1h8v-3h7v3h5v1h3v-3h7v4h3v-2h7v1h5v1h3v-2h22v1h5v1h3v-2h5v-1h7v2h8v-3h7v1h3v-1h7v2h10v1h3v-1h5v-2h22v1h10v1h25v1h8v-4h7v3h13v-1h7v2h13v-1h12v2h8v-2h5v-2h5v-1h7v3h3v-1h7v1h3v-2h7v2h3v-1h5v-3h7v7h3v-3h5v-2h7v1h5v2h3v-2h7v1h3v-1h7v2h3v-5h7v4h5v1h3v-1h5v-1h5v-1h7v2h5v1h3v-2h5v-1h7v1h3v-1h7v3h3v-5h7v1h5v2h3v-1h7v2h8v-2h5v-14h7v6h5v7h5v1h3v-6h7v6h5v3h3v-2h5v-7h7v6h8v-2h7v4h3v-4h7v1h3v-3h7v5h10v3h3v-8h7v5h3v-3h7v2h3v-4h7v4h5v2h3v-1h5v-1h5v-3h7v1h3v-2h7v4h8v-1h7v1h5v2h5v1h3v-3h7v2h10v1h3v-2h7v1h8v-4h12v4h8v-1h7v1h3v-17h7v4h5v14h3v-9h7v7h3v-1h7v2h3v-1h5v-5h7v4h5v1h3v-4h7v6h3v-2h10v-1h12v2h3v-3h7v3h23v-1h5v-2h7v3h3v-1h7v1h13v-2h7v3h5v1h3v-2h10v-1h15v-2h12v2h18v-4h7v4h5v1h3v-2h7v2h5v1h3v-3h5v-1h7v5h8v-2h5v-1h5v-1h7v2h5v1h3v-1h15v-3h7v3h5v1h8v-2h7v2h3v-2h7v2h3v-2h7v3h3v-1h5v-4h7v2h5v1h3v-2h7v3h8v-2h7v1h5v1h3v-1h5v-1h12v1h5v1h3v-1h5v-1h7v4h8v-3h10v-2h12v2h5v1h8v-4h7v4h8v-1h5v-1h7v3h3v-2h5v-1h17v2h8v-2h12v1h3v-1h5v-2h7v4h3v-1h12v2h3v-2h5v-2h7v3h3v-2h7v3h3v-8h7v5h5v1h8v-2h5v-2h7v2h8v-2h7v5h3v-1h5v-2h7v2h5v1h8v-1h5v-3h7v3h5v3h3v-2h10v-3h12v2h3v-4h7v4h5v1h3v-1h5v-1h5v-1h7v2h3v-2h7v3h3v-2h7v2h3v-1h12v3h3v-3h10v-2h7v2h5v2h3v-2h15v-4h7v4h10v2h3v-3h7v1h3v-3h7v4h3v-2h5v-3h7v2h5v4h3v-3h5v-1h7v1h8v-1h7v2h3v-1h7v1h3v-2h7v2h8v-2h5v-1h7v3h3v-1h7v2h3v-2h7v1h15v2h3v-4h7v2h5v1h3v-1h5v-1h7v2h3v-2h5v-1h7v2h3v-3h7v1h15v3h8v-1h10v-4h7v2h10v3h3v-1h12v1h3v-2h10v-1h7v3h3v-1h5v-3h12v3h8v-1h5v-12h7v9h3v-1h7v1h5v1h3v-1h7v1h3v-4h5v-6h7v9h5v2h8v-1h5v-3h7v4h3v-7h7v4h3v-4h7v3h5v3h3v-2h5v-1h5v-2h12v3h5v2h3v-4h7v3h3v-4h5v-1h7v6h5v3h3v-1h5v-1h7v4h3v-2h5v-1h12v2h8v-2h5v-1h7v2h3v-1h7v1h5v2h3v-3h7v2h3v-3h7v1h3v-1h7v4h8v-3h7v3h3v-1h5v-5h7v2h5v2h3v-1h5v-2h7v3h10v1h3v-1h5v-3h7v3h5v1h8v-1h7v1h8v-1h22v1h3v-2h5v-1h7v2h15v1h3v-4h7v1h15v3h3v-1h7v1h13v-3h7v1h5v2h10v1h3v-4h7v3h3v-2h5v-3h7v2h3v-1h7v2h5v2h3v-4h7v4h3v-2h10v-1h5v-1h5v-1h7v5h8v-1h17v1h3v-2h7v1h3v-1h22v1h5v1h8v-2h7v1h5v1h3v-3h7v2h3v-3h5v-5h7v9h3v-2h5v-1h7v2h3v-1h7v1h3v-1h22v3h8v-3h7v1h5v1h3v-1h5v-2h7v1h5v1h5v2h5v1h3v-3h5v-2h10v-1h7v2h5v1h3v-1h7v1h5v2h3v-2h7v3h3v-4h12v2h8v-1h6V1567h-4v1h-7v-2h-3v2h-7v-1h-3v1h-10v1h-7v-3h-3v1h-12v-1h-5v-1h-5v-1h-3v2h-5v1h-7v-1h-3v2h-7v-1h-5v-3h-3v1h-10v2h-7v-2h-3v3h-7v-1h-5v-2h-3v2h-7v-2h-3v3h-7v-3h-3v2h-5v1h-7v-2h-5v-2h-8v4h-7v-4h-3v1h-12v-1h-3v2h-7v-1h-3v1h-5v1h-7v-2h-3v1h-12v-1h-5v-1h-3v4h-7v-2h-5v-2h-3v2h-15v1h-7v-2h-3v4h-7v-5h-3v2h-5v1h-7v-1h-5v-2h-8v1h-7v-1h-3v2h-5v3h-7v-4h-5v-1h-3v1h-15v1h-5v1h-7v-3h-3v1h-5v1h-12v-1h-3v2h-5v4h-7v-3h-5v-4h-3v1h-7v-1h-5v-1h-3v3h-10v1h-7v-2h-3v1h-5v1h-7v-3h-8v2h-7v-1h-3v1h-5v1h-7v-3h-3v1h-5v5h-7v-4h-5v-1h-5v-1h-3v1h-10v2h-12v-1h-5v-2h-3v1h-5v1h-7v-2h-8v3h-5v1h-7v-1h-15v-2h-8v1h-5v1h-7v-4h-3v3h-12v-1h-3v3h-7v-1h-5v-2h-8v1h-7v-2h-3v2h-5v2h-7v-3h-3v3h-7v-3h-3v7h-7v-5h-3v3h-5v2h-7v-1h-3v13h-7v-14h-3v1h-7v-3h-3v6h-7v-5h-3v1h-5v2h-5v1h-7v-4h-3v3h-7v-4h-3v2h-7v-2h-3v2h-7v-1h-3v2h-5v1h-12v-2h-3v2h-7v-4h-3v1h-5v6h-7v-3h-10v-6h-5v-1h-5v-1h-3v5h-7v-4h-3v1h-12v-1h-8v3h-7v-2h-10v-1h-3v1h-7v-2h-3v1h-12v-2h-3v3h-5v1h-5v1h-7v-2h-5v-1h-5v-2h-3v4h-7v-2h-3v1h-7v-1h-5v-1h-3v3h-7v-2h-3v1h-7v-2h-8v1h-12v-1h-3v1h-5v3h-7v-3h-3v1h-7v-1h-5v-1h-3v1h-5v1h-7v-2h-5v-1h-3v2h-7v-1h-3v1h-10v1h-5v1h-5v1h-7v-1h-3v1h-7v-1h-10v-2h-3v1h-7v-1h-5v-2h-3v4h-7v-2h-3v2h-10v2h-7v-3h-5v-1h-8v2h-12v-2h-8v1h-5v1h-7v-1h-5v-1h-3v3h-7v-3h-3v2h-17v-3h-8v3h-7v-2h-3v1h-5v1h-7v-1h-13v1h-17v-2h-3v2h-7v-3h-3v4h-7v-2h-3v2h-7v-1h-5v-2h-25v-1h-3v1h-5v2h-7v-1h-5v-1h-3v1h-5v1h-7v-2h-5v-1h-3v1h-10v1h-7v-3h-3v4h-5v1h-7v-3h-13v2h-7v-2h-3v2h-7v-1h-8v1h-12v-1h-8v1h-10v2h-7v-3h-5v-2h-3v1h-5v2h-5v3h-7v-5h-5v-1h-3v1h-5v1h-5v5h-7v-4h-5v-1h-10v-2h-3v2h-5v2h-7v-3h-8v2h-7v-1h-5v-1h-8v3h-5v1h-7v-2h-5v-2h-5v-1h-3v3h-7v-2h-5v-1h-3v1h-5v2h-7v-2h-3v2h-7v-2h-3v2h-7v-1h-5v-2h-3v1h-22v-2h-3v6h-7v-1h-5v-4h-3v2h-10v1h-7v-2h-3v3h-7v-2h-5v-1h-10v-2h-3v2h-5v2h-7v-3h-3v1h-17v-1h-3v3h-5v1h-7v-4h-3v4h-17v-1h-5v-1h-10v-2h-3v1h-5v1h-10v1h-7v-2h-13v1h-7v-1h-3v2h-7v-2h-3v4h-7v-3h-10v-2h-3v2h-5v1h-7v-1h-8v2h-5v2h-7v-4h-10v-1h-3v2h-5v7h-7v-6h-3v2h-5v3h-7v-7h-3v5h-7v-4h-3v1h-7v-1h-3v1h-15v1h-7v-3h-3v3h-7v-2h-3v1h-5v2h-7v-1h-5v-4h-8v1h-10v6h-7v-6h-3v1h-7v-2h-3v1h-5v2h-5v1h-5v1h-7v-2h-5v-3h-3v1h-5v2h-12v-1h-8v5h-7v-9h-3v4h-5v1h-7v-2h-5v-1h-5v-1h-3v6h-7v-4h-3v2h-7v-3h-3v3h-10v1h-7v-1h-5v-1h-18v1h-7v-1h-5v-2h-8v2h-7v-3h-8v2h-10v2h-7v-2h-5v-2h-8v1h-5v4h-7v-4h-8v1h-12v-1h-5v-1h-3v1h-10v1h-5v3h-7v-2h-5v-1h-3v1h-10v3h-7v-4h-5v-2h-3v3h-7v-1h-5v-1h-3v2h-7v-1h-3v1h-20v1h-7v-2h-3v2h-7v-2h-3v2h-12v-3h-3v2h-7v-1h-5v-2h-3v1h-12v-1h-3v1h-5v2h-7v-1h-5v-1h-20v-1h-3v2h-7v-1h-5v-1h-8v2h-7v-1h-3v1h-5v1h-5v2h-7v-4h-3v2h-12v-1h-3v1h-5v1h-7v-3h-3v2h-7v-1h-3v1h-5v1h-7v-3h-3v2h-7v-1h-10v-1h-3v2h-5v1h-5v5h-5v5h-7v-15h-3v2h-12v-1h-8v1h-5v1h-5v2h-7v-3h-8v2h-12v-1h-10v-1h-3v1h-15v1h-7v-1h-3v1h-12v-2h-3v2h-7v-2h-3v2h-7v-3h-3v1h-5v1h-5v4h-7v-5h-8v2h-5v1h-7v-2h-10v-2h-8v4h-7v-3h-10v-1h-8v2h-17v-1h-5v-1h-3v3h-7v-3h-3v1h-7v-1h-3v2h-7v-1h-3v2h-17v-2h-3v2h-12v-1h-5v-1h-3v8h-7v-8h-3v1h-7v-1h-8v2h-7v-1h-5v-2h-3v2h-7v-2h-3v2h-7v-1h-3v1h-7v-1h-3v4h-7v-4h-15v-2h-3v6h-7v-3h-5v-1h-8v2h-7v-3h-3v3h-7v-3h-3v2h-12v-1h-8v1h-7v-2h-5v-2h-3v2h-5v1h-7v-2h-3v2h-10v1h-7v-2h-3v2h-5v3h-7v-5h-3v2h-17v-2h-3v1h-12v-2h-3v2h-7v-2h-3v3h-7v-3h-3v3h-7v-1h-3v1h-5v2h-7v-1h-15v-3h-3v1h-5v4h-7v-4h-3v1h-5v1h-7v-2h-5v-2h-3v2h-10v1h-10v3h-7v-2h-5v-1h-5v-1h-5v-1h-3v2h-7v-1h-3v2h-7v-2h-3v2h-12v-2h-3v1h-12v-1h-8v2h-7v-2h-8v1h-5v2h-7v-2h-5v-2h-3v2h-7v-2h-3v2h-10v1h-7v-1h-5v-1h-8v1h-5v1h-7v-1h-8v1h-12v-2h-8v1h-5v1h-7v-1h-3v1h-12v-1h-8v1h-5v3h-7v-3h-5v-1h-3v3h-5v2h-7v-3h-10v-1h-8v1h-7v-2h-3v9h-7v-7h-3v1h-10v1h-5v1h-7v-2h-5v-2h-3v3h-10v5h-7v-4h-3v2h-7v-4h-5v-3h-8v3h-7v-3h-3v1h-7v-3h-8v3h-7v-1h-8v1h-7v-1h-3v1h-5v1h-5v7h-5v5h-7v-15h-18v3h-7v-2h-3v1h-5v1h-15v3h-7v-6h-3v1h-17v-1h-3v2h-7v-2h-3v1h-7v-1h-3v1h-5v1h-7v-2h-3v1h-7v-1h-5v-2h-3v4h-7v-1h-5v-2h-5v-1h-3v4h-7v-2h-3v2h-7v-3h-3v3h-7v-3h-8v1h-5v5h-7v-5h-3v2h-5v3h-7v-2h-10v-2h-5v-1h-8v1h-7v-3h-13v2h-10v2h-7v-1h-5v-1h-13v4h-7v-3h-3v2h-7v-2h-5v-1h-8v1h-15v1h-7v-2h-5v-1h-3v1h-5v2h-7v-2h-8v1h-12v-2h-5v-1h-3v6h-7v-3h-5v-2h-3v3h-7v-3h-3v2h-7v-2h-3v2h-5v3h-7v-4h-3v4h-7v-3h-10v-2h-3v1h-10v3h-7v-2h-5v-1h-3v2h-7v-2h-3v3h-12v-1h-3v1h-7v-3h-5v-2h-3v4h-12v-2h-8v1h-7v-1h-3v1h-27v-2h-5v-1h-3v1h-5v2h-7v-1h-8v3h-7v-1h-5v-3h-13v2h-7v-1h-8v1h-7v-1h-3v1h-12v-2h-8v3h-7v-1h-5v-1h-5v-1h-3v3h-7v-1h-3v4h-7v-3h-5v-1h-5v-1h-3v2h-5v1h-5v2h-7v-6h-3v1h-5v2h-12v-2h-5v-1h-3v2h-17v-1h-5v-1h-3v2h-12v-2h-3v1h-10v1h-17v-1h-3v1h-7v-2h-3v2h-15v2h-7v-4h-3v3h-12v-2h-5v-1h-3v2h-5v4h-7v-6h-8v3h-7v-3h-3v2h-12v-1h-5v-1h-3v8h-7v-8h-3v1h-12v-1h-8v2h-5v3h-7v-4h-8v2h-17v-2h-8v1h-5v2h-7v-1h-5v-1h-3v5h-7v-3h-5v-2h-3v1h-5v1h-7v-4h-3v1h-5v3h-7v-3h-3v1h-5v1h-12v-2h-3v1h-5v2h-7v-3h-3v1h-12v-1h-8v1h-5v1h-7v-1h-3v2h-7v-1h-5v-3h-3v2h-5v3h-7v-1h-3v1h-5v3h-5v5h-7v-8h-5v-2h-3v1h-7v-1h-3v1h-10v1h-7v-1h-3v4h-7v-3h-5v-2h-3v2h-5v2h-10v1h-7v-2h-5v-4h-3v2h-7v-2h-3v3h-7v-3h-3v2h-7v-1h-5v-3h-13v1h-10v2h-7v-2h-8v1h-7v-1h-5v-1h-3v1h-12v-1h-3v1h-5v3h-12v-3h-3v2h-5v2h-5v1h-7v-4h-15v-2h-3v2h-10v1h-17v-2h-3v1h-7v-1h-5v-2h-3v6h-7v-4h-3v2h-5v1h-7v-1h-3v1h-7v-2h-8v1h-7v-1h-3v1h-7v-3h-8v1h-12v-2h-3v4h-7v-3h-5v-1h-3v1h-5v6h-7v-1h-10v-1h-5v-2h-15v-1h-3v1h-7v-1h-3v2h-5v2h-7v-3h-3v1h-7v-4h-3v2h-12v-1h-3v2h-5v2h-7v-1h-8v2h-7v-3h-5v-2h-3v1h-5v2h-12v-1h-10v-1h-5v-1h-3v3h-7v-2h-5v-1h-10v-1h-3v2h-10v2h-7v-1h-5v-1h-3v1h-5v1h-7v-3h-3v1h-7v-1h-5v-1h-3v2h-5v2h-7v-2h-3v1h-5v1h-7v-2h-5v-2h-3v2h-12v-1h-3v1h-5v1h-5v1h-5v1h-7v-3h-3v1h-7v-1h-8v1h-7v-2h-8v3h-7v-1h-20v-2h-3v4h-7v-2h-10v-1h-10v-1h-3v2h-10v1h-7v-1h-3v1h-7v-2h-8v2h-7v-1h-5v-2h-3v1h-10v1h-5v8h-5v3h-7v-11h-10v-1h-5v-2h-3v3h-7v-1h-5v-2h-8v3h-5v6h-7v-7h-13v1h-20v2h-7v-2h-5v-2h-3v3h-7v-2h-8v1h-5v1h-5v1h-12v-2h-3v1h-7v-1h-8v2h-12v-1h-5v-2h-8v2h-5v2h-7v-2h-5v-2h-3v5h-5v3h-7v-8h-8v1h-5v2h-7v-1h-3v1h-7v-3h-3v3h-7v-4h-3v2h-15v1h-7v-3h-3v2h-12v-2h-8v4h-7v-4h-3v1h-5v3h-7v-1h-5v-3h-3v1h-15v3h-7v-1h-5v-1h-10v-3h-3v1h-5v2h-10v1h-12v-1h-3v2h-7v-4h-5v-1h-3v2h-7v-1h-3v1h-5v2h-7v-2h-3v2h-5v1h-7v-3h-8v3h-7v-1h-3v2h-7v-1h-3v2h-5v3h-7v-6h-3v4h-5v3h-7v-6h-3v2h-7v-3h-3v4h-5v2h-7v-4h-5v-2h-3v3h-10v2h-7v-4h-3v2h-5v1h-7v-2h-3v3h-7v-1h-5v-2h-5v-1h-3v2h-7v-3h-3v2h-12v-4h-8v1h-17v-2h-8v1h-5v3h-7v-1h-5v-1h-5v-1h-3v3h-7v-4h-3v1h-25v2h-5v1h-7v-3h-3v12h-7v-12h-3v1h-12v-1h-13v3h-7v-2h-8v2h-7v-2h-10v-1h-3v1h-7v-1h-5v-1h-5v-1h-3v2h-5v2h-7v-2h-3v5h-7v-7h-3v2h-5v1h-5v1h-12v-3h-5v-1h-3v3h-5v1h-12v-3h-3v4h-7v-2h-8v1h-12v-1h-10v-1h-8v2h-7v-2h-3v1h-12v-2h-3v2h-7v-2h-8v3h-7v-2h-8v1h-5v2h-7v-1h-15v-1h-8v3h-7v-4h-3v1h-25v1h-7v-1h-3v3h-7v-5h-3v1h-5v1h-5v2h-7v-3h-3v1h-17v-1h-8v1h-7v-1h-3v3h-7v-4h-3v1h-15v1h-10v1h-12v-3h-3v2h-7v-1h-8v2h-7v-2h-3v2h-5v1h-7v-3h-3v3h-7v-5h-3v2h-5v2h-7v-3h-3v2h-7v-2h-8v2h-7v-1h-3v1h-7v-2h-3v1h-5v1h-7v-1h-5v-1h-3v2h-7v-1h-3v1h-7v-1h-10v-2h-3v4h-5v1h-6Z"/>
<path fill="#ff0000" d="M1152 1620h4v-1h5v-1h7v1h5v1h3v-1h5v-1h7v1h3v-1h7v1h10v1h3v-1h5v-1h7v1h3v-3h7v3h3v-3h7v2h5v2h8v-2h5v-1h7v1h5v3h8v-1h5v-2h5v-2h7v2h10v1h5v1h3v-1h10v-3h7v2h3v-1h7v1h5v1h8v-2h12v1h3v-1h7v1h10v1h18v-1h10v-1h5v-1h7v5h3v-3h7v1h8v-3h7v3h3v-2h12v1h5v1h3v-1h12v1h3v-4h7v3h5v2h3v-2h17v2h3v-1h7v1h3v-1h7v1h3v-4h7v3h8v-3h7v3h3v-2h7v1h3v-1h7v2h3v-1h22v1h5v1h3v-1h5v-1h7v1h5v1h3v-1h5v-1h12v2h3v-1h5v-2h7v1h5v1h3v-1h7v1h3v-2h7v3h3v-2h27v1h5v1h3v-2h7v1h5v1h3v-5h7v2h5v2h3v-1h7v2h3v-1h5v-1h7v1h10v1h3v-1h15v-1h12v2h3v-1h5v-1h10v-2h5v-2h7v2h3v-2h7v1h3v-4h7v2h3v-1h7v4h3v-2h7v1h3v-1h12v1h5v1h3v-2h5v-2h7v5h8v-2h7v1h5v1h3v-3h7v1h18v-2h7v2h5v1h5v3h8v-2h7v1h3v-1h7v1h3v-1h7v2h5v1h3v-1h5v-1h5v-1h7v1h5v2h3v-1h12v1h8v-2h12v2h3v-2h12v1h3v-1h12v2h8v-2h5v-1h7v1h5v1h8v-3h7v2h8v-2h7v3h3v-1h7v2h3v-1h12v1h8v-1h10v-1h7v1h3v-1h17v1h13v-2h7v1h5v2h3v-1h10v-2h12v1h10v2h3v-4h7v4h3v-2h17v1h10v1h3v-2h7v2h3v-1h5v-3h7v1h10v2h3v-1h7v1h5v1h3v-3h12v1h8v-2h7v1h5v3h8v-1h5v-1h12v1h5v2h3v-2h7v1h8v-1h15v-1h10v-1h5v-1h7v2h5v2h18v-1h15v-1h7v2h3v-1h7v1h3v-1h7v1h3v-1h7v1h3v-2h5v-3h7v4h15v1h3v-2h12v2h3v-2h7v2h3v-1h5v-1h12v2h3v-1h5v-1h12v2h8v-2h12v1h3v-1h7v1h5v1h8v-1h7v1h8v-1h17v1h3v-2h7v2h3v-6h7v5h3v-1h27v1h3v-1h12v1h3v-1h7v1h3v-1h7v1h3v-2h7v2h10v1h3v-2h7v1h23v-4h7v3h3v-1h7v2h3v-1h12v2h3v-2h7v1h3v-2h7v2h10v1h3v-3h7v2h10v1h3v-2h7v1h5v2h3v-3h10v-2h12v3h8v-1h7v2h3v-1h5v-1h7v1h15v1h3v-3h7v2h13v-1h7v2h3v-1h17v1h8v-2h7v1h3v-1h7v2h3v-3h7v3h3v-1h15v-1h7v2h3v-1h15v-1h5v-2h5v-3h5v-1h5v-1h5v-2h5v-8h12v6h5v11h13v-1h7v1h15v2h3v-7h7v2h5v4h5v1h8v-2h17v1h28v-1h5v-1h7v2h3v-2h7v1h10v1h3v-1h5v-2h5v-2h5v-2h7v4h3v-2h7v2h3v-1h7v2h3v-1h10v-1h7v1h10v1h3v-4h7v5h3v-2h5v-4h7v3h5v1h3v-1h5v-2h7v1h5v3h3v-2h7v2h3v-1h10v-2h7v1h5v1h5v2h3v-4h7v3h3v-3h7v4h3v-2h5v-5h7v6h5v1h5v1h3v-1h7v2h3v-1h5v-1h5v-1h12v2h5v1h3v-3h7v2h3v-3h7v3h3v-1h12v1h5v1h3v-1h5v-1h7v1h3v-1h7v1h5v1h5v1h3v-1h5v-5h7v5h3v-1h5v-1h15v-1h7v1h5v1h3v-1h12v1h3v-2h7v2h3v-1h5v-1h7v3h3v-2h5v-3h7v2h3v-1h7v3h3v-3h7v4h8v-2h7v2h8v-3h7v3h3v-1h5v-1h17v1h3v-1h7v1h8v-1h7v1h3v-1h7v1h3v-1h10v-1h7v2h3v-3h7v3h5v2h3v-1h10v-1h15v-2h7v3h8v-1h12v1h8v-1h5v-1h5v-1h5v-1h7v1h5v2h8v-2h7v2h3v-1h7v1h3v-2h7v1h5v2h3v-1h12v1h3v-2h10v-1h7v1h5v2h3v-3h7v2h3v-3h7v3h13v-1h7v1h13v-1h7v2h3v-1h12v1h3v-1h7v1h3v-2h7v1h8v-2h7v2h3v-1h7v2h3v-3h5v-1h12v3h13v-2h7v2h8v-1h5v-1h17v2h10v1h3v-2h7v1h5v1h8v-2h12v1h3v-1h7v1h13v-1h12v2h3v-2h7v1h13v-2h7v2h3v-1h5v-1h7v1h5v3h3v-2h7v1h8v-2h5v-1h12v2h3v-2h7v2h3v-1h7v2h8v-1h5v-2h7v1h5v1h3v-1h7v2h3v-2h7v2h5v1h3v-3h12v1h3v-1h22v1h3v-1h7v1h3v-2h7v3h8v-1h5v-2h7v2h8v-2h12v2h10v1h3v-3h7v2h5v1h3v-3h5v-2h7v1h5v3h8v-1h7v1h13v-2h7v2h3v-4h7v3h5v1h8v-1h12v1h3v-1h7v1h8v-2h7v2h5v1h3v-3h7v2h5v1h3v-1h7v1h3v-1h5v-1h7v2h3v-1h5v-2h7v1h5v2h3v-1h7v2h3v-1h5v-1h5v-2h7v2h10v1h3v-1h7v1h3v-4h7v4h3v-1h5v-1h12v1h15v1h3v-1h10v-1h12v1h5v1h8v-2h7v3h3v-3h10v-2h7v1h3v-1h5v-6h7v4h5v2h3v-1h5v-1h10v-1h7v3h5v2h3v-6h12v5h8v-1h10v-1h5v-3h7v4h5v1h5v3h3v-5h12v1h5v2h10v1h5v1h3v-2h10v-1h12v1h5v2h3v-1h5v-1h22v2h10v1h3v-3h5v-1h22v3h3v-1h5v-1h12v2h3v-2h12v1h3v-2h7v3h3v-2h12v1h5v1h3v-3h7v2h10v1h3v-1h5v-1h7v1h3v-1h7v1h3v-1h5v-2h7v3h3v-3h7v2h5v1h3v-1h12v2h3v-1h5v-6h10v-2h5v-1h7v1h5v2h8v-2h7v8h3v-1h7v1h3v-1h5v-4h5v-1h5v-12h7v2h5v4h5v12h10v2h3v-2h5v-1h7v2h3v-2h7v1h3v-1h12v1h3v-2h7v1h5v1h3v-2h7v2h5v1h3v-3h7v3h3v-1h10v-6h5v-2h12v1h5v1h10v2h5v4h8v-1h7v2h3v-1h5v-4h7v4h3v-2h7v3h5v1h3v-1h5v-2h7v1h8v-1h5v-1h7v2h5v1h3v-1h10v-1h7v2h3v-2h7v2h3v-3h10v-1h7v3h8v-2h7v3h3v-1h5v-1h12v1h3v-1h12v2h13v-4h7v4h3v-1h5v-1h7v1h5v1h3v-4h7v1h5v2h3v-1h7v1h3v-1h17v1h3v-2h7v1h13v-2h7v2h5v2h3v-1h5v-1h7v2h3v-1h7v1h3v-2h12v1h8v-1h7v2h3v-1h5v-1h12v1h8v-1h17v1h8v-1h12v1h3v-1h17v1h3v-2h7v1h5v1h3v-2h12v1h20v1h5v1h3v-1h10v-2h7v2h5v1h3v-3h7v2h3v-1h17v1h10v2h3v-2h15v-1h7v1h10v2h3v-3h7v1h8v-1h5v-1h12v1h8v-1h7v1h3v-3h7v3h15v1h3v-1h7v1h3v-2h7v3h3v-1h5v-1h7v1h8v-1h10v-2h7v1h5v1h15v1h5v2h3v-3h7v1h3v-1h7v1h3v-3h7v2h10v1h3v-2h7v1h5v2h3v-2h17v1h8v-1h12v1h5v1h3v-2h12v1h15v1h3v-1h5v-2h7v2h20v1h3v-1h35v-2h7v3h3v-1h5v-2h7v1h10v1h8v-1h12v3h3v-5h7v2h10v1h3v-2h5v-1h7v1h8v-3h5v-2h7v3h3v-3h7v1h5v1h5v2h8v-4h7v3h5v2h3v-3h7v2h3v-1h7v2h5v2h3v-5h12v3h5v1h3v-2h5v-3h17v2h3v-2h7v1h5v2h5v2h5v2h3v-2h7v1h5v1h3v-1h5v-1h7v1h5v1h3v-1h15v-2h7v3h13v-1h7v1h3v-1h7v1h8v-1h20v-1h7v1h3v-1h7v1h3v-1h5v-2h7v2h5v2h3v-3h7v1h5v2h8v-2h5v-2h7v3h3v-1h5v-2h7v4h3v-2h7v1h10v1h8v-1h5v-1h10v-1h7v2h3v-1h10v-1h7v3h13v-1h5v-1h17v2h3v-2h7v2h3v-1h17v1h3v-1h5v-1h7v2h3v-1h5v-2h12v2h3v-1h12v1h3v-1h12v1h3v-1h7v3h5v1h3v-2h5v-4h7v1h5v3h3v-1h7v1h3v-2h12v1h8v-3h7v1h5v1h3v-1h7v3h3v-1h12v1h3v-3h7v1h5v2h3v-1h5v-1h12v1h3v-2h12v3h3v-2h5v-3h7v4h3v-1h12v1h5v1h3v-1h25v-10h7v8h5v1h3v-2h7v3h5v1h8v-2h7v2h3v-4h12v3h13v-2h12v2h10v1h3v-2h7v1h3v-2h7v3h3v-1h5v-2h7v1h5v1h13v-1h7v1h13v-1h7v1h5v1h8v-1h5v-1h7v1h3v-1h7v1h23v-1h12v1h5v1h3v-3h7v2h3v-1h12v1h5v1h3v-1h5v-1h7v2h3v-2h12v1h8v-1h12v1h5v1h8v-2h7v1h3v-1h5v-1h7v1h10v2h3v-1h5v-1h10v-2h12v3h3v-1h7v1h3v-3h7v3h3v-1h7v2h8v-2h7v1h3v-1h12v1h8v-1h12v1h5v1h8v-1h5v-1h12v1h3v-1h5v-1h7v1h10v1h3v-1h12v1h5v2h3v-1h5v-1h5v-1h7v1h15v1h3v-1h5v-1h7v1h3v-1h7v1h8v-3h7v4h3v-2h5v-1h7v1h3v-1h7v1h10v1h3v-1h12v3h3v-2h5v-1h12v2h8v-3h7v1h3v-2h7v3h3v-2h7v1h5v1h3v-1h7v1h3v-3h7v2h5v1h10v1h3v-1h7v1h3v-1h7v2h3v-1h15v-1h15v-2h7v1h3v-2h12v2h5v1h5v1h3v-1h7v2h3v-2h5v-1h5v-2h7v4h3v-1h5v-1h12v1h8v-2h7v3h3v-1h15v-1h7v1h3v-1h7v1h9V1632h-24v1h-7v-2h-3v1h-22v-2h-3v2h-10v6h-7v-6h-5v-1h-3v3h-7v-1h-3v1h-12v-1h-5v-1h-5v-1h-23v1h-7v-1h-3v1h-5v2h-12v-1h-5v-1h-3v1h-7v-1h-15v-1h-3v3h-7v-2h-3v1h-7v-1h-10v-1h-3v1h-7v-1h-3v2h-7v-1h-3v2h-7v-3h-3v1h-7v-1h-3v2h-17v-1h-3v1h-10v1h-7v-1h-5v-1h-5v-1h-3v1h-5v1h-7v-1h-3v1h-7v-1h-5v-1h-8v3h-7v-3h-8v2h-12v-1h-15v-1h-3v1h-5v1h-5v1h-12v-3h-8v2h-7v-1h-20v-1h-3v3h-7v-2h-3v1h-10v2h-7v-2h-15v-1h-10v-1h-5v-1h-3v3h-15v1h-7v-1h-3v3h-7v-4h-3v1h-7v-1h-3v2h-7v-1h-3v3h-7v-4h-5v-1h-3v1h-5v2h-7v-2h-3v1h-7v-2h-3v1h-5v1h-17v-1h-3v1h-12v-2h-3v1h-10v1h-7v-1h-3v2h-7v-2h-8v1h-7v-2h-8v2h-7v-2h-3v2h-7v-1h-10v-1h-3v1h-5v1h-12v-1h-3v1h-7v-1h-3v1h-7v-1h-3v1h-7v-1h-3v2h-12v-1h-5v-2h-3v1h-5v2h-7v-4h-8v1h-7v-1h-3v2h-7v-1h-3v2h-12v-2h-3v3h-12v-2h-18v2h-7v-3h-3v1h-7v-2h-3v2h-5v1h-7v-3h-3v2h-5v1h-7v-2h-3v2h-7v-1h-10v-1h-8v13h-7v-12h-10v-1h-3v3h-7v-1h-5v-1h-3v1h-7v-1h-3v2h-7v-2h-8v1h-22v-1h-3v2h-7v-1h-15v-1h-5v-1h-3v1h-10v1h-7v-1h-13v2h-7v-2h-10v-1h-3v3h-7v-1h-15v-1h-13v1h-10v4h-7v-5h-8v1h-5v1h-7v-2h-15v-1h-8v1h-12v-1h-13v1h-5v2h-7v-2h-23v1h-7v-1h-10v-1h-3v2h-10v2h-7v-3h-8v1h-7v-2h-8v1h-32v-1h-3v5h-7v-4h-5v-2h-3v1h-5v2h-12v-1h-3v2h-7v-1h-5v-2h-3v2h-12v-1h-5v-1h-3v1h-7v-1h-8v1h-5v2h-7v-2h-3v1h-5v1h-7v-1h-5v-1h-8v2h-7v-2h-3v1h-12v-1h-5v-1h-3v3h-7v-1h-5v-2h-3v2h-12v-3h-3v2h-12v-1h-3v2h-7v-2h-3v1h-5v1h-5v2h-7v-1h-3v2h-17v-1h-13v3h-7v-1h-5v-2h-3v2h-5v1h-5v1h-7v-5h-3v3h-5v2h-7v-2h-3v1h-7v-1h-5v-1h-10v-2h-3v2h-5v1h-7v-1h-5v-1h-5v-1h-3v4h-7v-3h-5v-1h-3v4h-7v-6h-3v2h-7v-3h-3v2h-7v-1h-3v1h-7v-2h-3v1h-12v-1h-3v1h-5v2h-7v-3h-8v2h-5v1h-22v-3h-3v1h-5v2h-7v-2h-3v1h-7v-1h-3v1h-12v-1h-3v1h-12v-2h-3v1h-7v-1h-3v3h-7v-3h-3v5h-7v-3h-5v-1h-8v1h-7v-1h-3v3h-7v-3h-3v1h-5v1h-5v1h-7v-2h-3v2h-7v-3h-8v1h-7v-1h-3v2h-7v-1h-3v1h-7v-2h-5v-1h-5v-1h-3v1h-10v2h-7v-1h-5v-1h-3v1h-5v1h-12v-2h-8v1h-15v1h-10v1h-7v-1h-10v-1h-5v-1h-3v1h-5v2h-7v-3h-3v1h-10v2h-7v-1h-3v1h-7v-1h-5v-1h-3v1h-7v-2h-3v2h-5v3h-7v-4h-3v1h-5v1h-7v-1h-8v2h-7v-3h-8v1h-5v1h-7v-2h-3v1h-5v1h-7v-2h-5v-1h-3v2h-12v-1h-3v1h-7v-2h-8v1h-17v-1h-3v1h-12v-2h-3v2h-5v1h-12v-1h-3v2h-7v-3h-3v1h-10v1h-7v-1h-3v1h-17v-1h-5v-1h-3v1h-5v1h-7v-1h-3v1h-7v-1h-8v1h-7v-1h-8v1h-5v1h-5v6h-7v-7h-5v-1h-5v-1h-5v-1h-3v3h-5v2h-7v-4h-8v2h-7v-2h-3v2h-12v-1h-3v3h-7v-4h-3v2h-12v-1h-3v3h-7v-1h-5v-2h-3v1h-5v1h-12v-1h-5v-1h-3v1h-12v-1h-8v3h-7v-2h-3v2h-12v-3h-18v1h-5v1h-7v-1h-5v-2h-3v1h-5v1h-7v-1h-3v1h-7v-1h-10v-1h-3v1h-7v-1h-3v2h-7v-1h-5v-1h-8v1h-7v-1h-3v1h-7v-1h-8v2h-5v8h-5v5h-12v-6h-8v4h-7v-2h-5v-10h-3v1h-12v-3h-8v2h-5v2h-7v-4h-3v2h-10v3h-7v-3h-18v2h-7v-3h-3v2h-5v1h-7v-1h-5v-1h-3v2h-5v3h-5v1h-12v-8h-3v2h-5v1h-7v-2h-8v5h-5v2h-5v4h-5v4h-5v2h-7v-6h-3v2h-5v3h-7v-15h-3v2h-7v-1h-3v1h-12v-1h-10v-2h-13v1h-5v2h-12v-3h-3v2h-12v-2h-3v3h-7v-2h-8v1h-12v-1h-8v1h-10v1h-7v-1h-5v-1h-8v1h-5v1h-17v-3h-8v1h-5v1h-7v-1h-3v2h-7v-1h-20v-1h-3v1h-7v-1h-5v-1h-5v-1h-3v3h-7v-1h-13v2h-5v2h-17v-1h-3v2h-7v-2h-3v2h-22v-2h-3v2h-7v-3h-3v4h-7v-1h-5v-3h-3v2h-5v1h-17v-2h-3v1h-7v-2h-3v6h-7v-8h-3v1h-17v-1h-8v1h-5v1h-12v-2h-3v1h-12v-1h-3v1h-7v-1h-3v1h-7v-2h-3v1h-12v-1h-3v1h-10v1h-7v-2h-8v2h-5v1h-7v-2h-5v-1h-3v1h-17v-1h-3v2h-5v1h-7v-2h-5v-1h-3v1h-5v1h-20v1h-17v-2h-3v1h-7v-1h-10v-1h-3v1h-5v1h-5v1h-7v-4h-3v3h-7v-1h-10v-1h-8v1h-12v-1h-3v2h-5v1h-7v-3h-3v3h-17v-2h-5v-1h-18v1h-12v-2h-3v3h-7v-2h-8v1h-5v1h-10v1h-7v-1h-13v2h-7v-3h-5v-1h-8v1h-5v1h-7v-2h-8v2h-12v-1h-3v2h-7v-2h-8v2h-12v-1h-8v1h-7v-1h-3v1h-7v-1h-5v-2h-3v1h-5v2h-7v-4h-3v4h-7v-1h-3v1h-12v-1h-5v-1h-5v-2h-3v1h-5v1h-5v1h-10v1h-7v-1h-3v2h-7v-4h-8v1h-10v1h-12v-1h-5v-1h-3v2h-7v-1h-5v-1h-3v2h-7v-1h-3v1h-12v-1h-5v-1h-3v1h-10v1h-7v-1h-8v1h-7v-2h-3v1h-5v1h-7v-1h-25v-1h-3v1h-5v5h-7v-3h-5v-1h-8v1h-7v-1h-5v-1h-3v3h-7v-4h-3v3h-7v-1h-3v1h-12v-1h-15v-1h-20v-1h-8v1h-5v1h-5v2h-7v-3h-3v2h-7v-3h-3v1h-5v2h-5v1h-7v-2h-5v-1h-3v5h-7v-6h-3v1h-10v3h-7v-3h-5v-3h-3v2h-5v1h-7v-1h-3v1h-5v2h-7v-2h-8v2h-7v-2h-3v1h-7v-1h-3v1h-5v2h-7v-2h-3v1h-12v-3h-3v2h-7v-1h-8v1h-7v-1h-5v-1h-3v1h-5v1h-5v1h-7v-2h-8v1h-7v-2h-8v2h-10v1h-7v-3h-3v2h-5v2h-7v-2h-3v1h-12v-1h-5v-1h-5v-1h-3v2h-12v-1h-3v1h-7v-1h-15v-1h-3v1h-5v1h-5v2h-7v-3h-10v-1h-3v1h-7v-1h-3v2h-7v-1h-8v1h-7v-3h-3v2h-5v2h-7v-2h-10v-1h-3v1h-25v1h-12v-2h-3v1h-10v2h-7v-1h-5v-1h-5v-1h-3v1h-17v-1h-3v2h-12v-1h-3v2h-5v2h-7v-3h-3v3h-5v1h-7v-2h-10v-1h-8v2h-7v-2h-3v3h-7v-1h-5v-1h-3v1h-10v2h-5v2h-7v-5h-3v2h-12v-3h-3v3h-7v-1h-3v2h-7v-1h-5v-3h-3v1h-5v1h-10v1h-7v-4h-3v2h-5v2h-7v-1h-5v-1h-5v-2h-3v3h-7v-2h-5v-2h-3v1h-5v1h-7v-1h-5v-1h-3v1h-7v-2h-8v2h-7v-1h-13v1h-12v-1h-3v1h-7v-2h-3v1h-15v4h-5v1h-7v-4h-10v-2h-3v1h-5v5h-7v-5h-3v1h-7v-1h-3v9h-5v5h-5v1h-12v-1h-5v-8h-5v-2h-5v-2h-5v-1h-5v-1h-8v3h-7v-1h-5v-1h-5v-1h-3v1h-12v-1h-5v-1h-3v2h-5v1h-7v-2h-3v1h-5v3h-7v-5h-3v2h-7v-1h-3v3h-7v-4h-3v2h-5v1h-7v-3h-3v3h-7v-1h-5v-1h-3v2h-7v-2h-8v2h-7v-2h-13v1h-7v-1h-10v-1h-8v1h-5v1h-5v1h-7v-2h-3v2h-7v-2h-3v1h-7v-1h-3v1h-7v-1h-3v1h-7v-2h-3v2h-10v1h-7v-2h-5v-1h-3v1h-5v1h-7v-1h-3v1h-7v-1h-3v2h-7v-1h-8v1h-12v-4h-3v4h-12v-1h-3v2h-7v-4h-3v2h-17v-2h-3v1h-5v1h-7v-2h-5v-1h-3v3h-7v-2h-8v1h-5v1h-5v2h-7v-3h-5v-1h-3v1h-5v4h-7v-4h-3v1h-17v-1h-3v2h-7v-1h-5v-1h-3v1h-32v-2h-3v1h-5v1h-12v-1h-3v3h-7v-3h-8v1h-7v-2h-3v2h-7v-2h-3v2h-5v2h-7v-4h-5v-1h-3v2h-10v1h-12v-1h-5v-1h-3v1h-10v1h-12v-1h-5v-1h-3v1h-5v1h-5v1h-12v-3h-3v2h-7v-1h-5v-1h-8v1h-7v-1h-3v2h-7v-1h-3v2h-7v-1h-5v-1h-3v1h-12v-1h-5v-1h-3v1h-17v-2h-8v1h-7v-1h-3v3h-5v1h-7v-1h-5v-2h-3v1h-7v-2h-3v1h-5v2h-10v1h-7v-2h-23v1h-7v-1h-3v2h-7v-3h-3v3h-7v-2h-5v-1h-3v2h-5v2h-7v-1h-5v-1h-10v-1h-5v-1h-8v2h-7v-2h-3v3h-5v2h-7v-3h-5v-2h-8v1h-10v2h-7v-2h-3v1h-15v3h-7v-1h-5v-2h-5v-1h-3v1h-12v-1h-5v-1h-13v1h-10v1h-7v-1h-5v-1h-3v1h-15v1h-7v-1h-8v3h-7v-4h-3v2h-7v-1h-3v1h-7v-2h-5v-1h-8v5h-7v-2h-5v-1h-10v-1h-3v2h-12v-1h-3v2h-7v-1h-3v1h-5v1h-5v2h-7v-2h-3v2h-7v-1h-5v-1h-3v5h-5v1h-5v3h-7v-9h-3v1h-5v5h-7v-4h-5v-1h-3v1h-5v1h-7v-2h-3v2h-7v-1h-3v2h-5v1h-7v-4h-10v-1h-5v-1h-3v2h-5v1h-7v-2h-5v-1h-5v-2h-10v-1h-3v3h-7v-2h-5v-1h-3v2h-5v1h-12v-1h-10v-1h-8v2h-7v-1h-3v1h-7v-2h-10v-1h-3v2h-7v-2h-3v1h-5v2h-7v-3h-5v-1h-3v2h-5v2h-7v-1h-3v1h-7v-2h-8v2h-12v-4h-3v1h-5v3h-7v-2h-5v-1h-3v1h-5v1h-7v-2h-3v2h-5v1h-7v-2h-3v2h-5v1h-7v-2h-5v-1h-3v1h-12v-1h-18v1h-10v1h-7v-1h-5v-2h-3v2h-7v-1h-8v1h-12v-2h-3v2h-7v-2h-3v2h-7v-1h-10v-1h-3v4h-7v-3h-3v2h-7v-2h-3v1h-7v-2h-3v2h-5v1h-7v-2h-8v2h-7v-1h-3v1h-7v-2h-3v1h-7v-2h-5v-1h-3v2h-10v1h-7v-2h-3v1h-10v2h-7v-4h-3v2h-7v-1h-3v3h-7v-2h-23v4h-7v-3h-5v-1h-3v1h-17v-1h-13v1h-5v1h-7v-1h-5v-2h-3v1h-10v1h-7v-2h-3v2h-20v1h-7v-1h-3v1h-5v1h-7v-3h-3v1h-7v-2h-23v2h-7v-1h-9Z"/>
<path fill="#0000ff" d="M1152 1686h6v2h3v-1h7v1h8v-3h7v2h13v-2h7v3h3v-1h17v1h13v-1h5v-2h7v3h13v-2h7v2h3v-2h17v1h15v1h3v-1h7v1h3v-3h7v1h10v2h8v-1h5v-1h7v2h5v1h3v-2h5v-1h7v3h3v-1h5v-2h17v2h3v-1h7v1h3v-1h5v-3h7v4h5v1h3v-1h7v1h3v-2h7v1h10v2h3v-2h17v1h3v-1h5v-1h15v-2h12v1h5v1h5v1h3v-1h7v1h5v1h3v-4h7v3h3v-2h7v2h3v-1h12v1h8v-2h7v1h3v-2h7v3h3v-2h7v1h5v1h3v-3h7v1h5v1h5v1h20v1h3v-3h7v1h5v1h3v-1h5v-1h7v2h8v-1h12v2h3v-1h5v-1h7v1h3v-1h7v2h13v-2h7v2h3v-2h5v-1h17v2h8v-1h5v-1h7v3h8v-2h5v-1h7v1h10v1h8v-2h7v4h3v-1h5v-1h5v-4h5v-1h7v5h20v1h3v-4h7v2h5v1h3v-1h20v-1h7v2h3v-4h7v5h3v-1h5v-1h7v2h3v-2h7v1h3v-1h12v1h3v-3h7v2h3v-1h7v2h3v-1h7v2h3v-2h7v2h3v-1h10v-2h7v1h30v2h3v-1h5v-1h12v2h8v-2h7v1h3v-1h5v-1h7v3h3v-1h5v-2h7v2h3v-11h7v10h10v1h3v-2h7v1h10v1h8v-2h7v2h3v-2h7v1h5v2h3v-1h15v-1h5v-1h7v1h3v-1h7v1h10v1h13v-1h5v-1h12v2h3v-1h7v1h3v-1h7v1h13v-2h7v3h8v-4h7v1h5v4h3v-3h7v1h8v-1h17v2h3v-3h12v1h5v1h3v-1h22v1h3v-2h7v3h3v-1h10v-2h7v3h3v-2h12v1h8v-1h17v1h5v1h3v-2h12v1h3v-1h5v-1h7v1h10v1h3v-4h7v3h8v-1h7v1h3v-1h7v1h13v-2h7v1h5v1h8v-2h7v2h3v-1h7v1h5v1h8v-1h10v-2h7v2h3v-1h7v3h3v-1h5v-20h7v5h5v15h3v-1h12v1h5v1h3v-3h7v2h3v-3h12v1h5v2h3v-2h7v2h3v-1h7v1h3v-3h7v3h3v-1h7v1h8v-3h7v2h3v-1h15v-1h7v1h15v2h8v-1h7v2h3v-1h5v-2h7v2h3v-1h15v-1h7v3h3v-2h7v1h3v-1h5v-1h17v2h3v-1h5v-1h7v1h3v-2h7v2h5v1h3v-1h5v-1h7v2h23v-1h7v1h3v-1h15v-2h7v1h5v1h5v1h3v-1h7v1h5v1h3v-2h12v1h3v-2h12v1h3v-1h12v1h3v-1h7v2h8v-1h10v-2h7v3h3v-1h7v1h3v-2h7v1h5v2h8v-1h5v-1h5v-1h7v1h5v1h3v-1h7v1h5v1h3v-1h10v-1h5v-2h7v1h8v-1h12v3h3v-3h7v3h3v-1h7v2h3v-2h32v1h3v-4h7v3h3v-2h7v2h3v-2h5v-7h7v1h5v9h13v-2h7v1h3v-1h7v2h5v1h3v-3h5v-1h7v1h5v1h3v-1h7v2h8v-1h7v1h8v-2h5v-1h7v2h3v-2h7v1h3v-4h7v6h3v-1h7v1h8v-1h7v1h3v-1h7v2h3v-3h7v2h5v1h3v-2h7v1h18v-1h10v-1h7v1h10v1h8v-2h12v2h3v-2h5v-1h7v1h8v-1h7v3h3v-1h12v1h8v-1h5v-2h7v4h3v-3h12v1h25v1h3v-1h7v1h3v-1h35v-2h12v2h5v1h3v-1h17v1h8v-1h5v-1h7v1h3v-1h7v3h3v-3h7v1h5v1h5v1h3v-1h7v2h3v-2h5v-1h15v-1h7v2h8v-1h5v-1h7v1h5v1h5v1h3v-1h7v1h3v-5h7v3h3v-1h5v-1h7v3h3v-2h7v1h8v-1h7v2h8v-1h7v2h3v-1h5v-1h10v-1h7v1h8v-1h5v-3h7v5h3v-1h7v1h3v-1h7v1h8v-2h7v1h5v1h8v-2h7v1h8v-2h7v1h5v1h5v1h5v1h3v-2h5v-1h7v1h5v2h8v-2h7v1h5v1h3v-3h7v1h5v1h3v-3h7v3h13v-1h17v1h3v-3h7v1h10v2h3v-1h7v2h8v-1h10v-1h12v1h13v-1h7v1h3v-1h5v-1h7v1h10v1h3v-1h12v2h3v-2h7v1h3v-1h17v1h3v-2h7v2h5v1h3v-2h12v2h3v-2h12v1h3v-1h7v1h8v-1h7v1h3v-1h7v1h3v-1h7v2h8v-1h5v-1h5v-1h5v-1h7v1h5v1h5v1h3v-1h15v-1h7v1h15v1h3v-2h7v1h8v-2h7v4h3v-2h12v3h3v-3h5v-1h12v1h3v-2h7v2h5v2h3v-2h10v-1h5v-2h12v5h3v-3h12v2h3v-1h10v-2h7v2h5v1h8v-1h5v-1h7v1h3v-1h5v-1h7v2h10v1h3v-1h5v-1h12v3h3v-1h5v-1h10v-1h7v2h3v-1h7v1h3v-1h5v-1h5v-1h7v3h18v-1h7v1h3v-1h7v1h8v-2h7v1h3v-1h7v2h5v1h8v-1h5v-1h7v1h8v-2h12v2h8v-1h7v1h13v-2h5v-1h7v2h5v2h3v-2h5v-2h12v2h18v-1h12v1h5v2h8v-1h5v-1h7v1h13v-1h12v1h8v-1h22v1h3v-2h7v2h3v-1h7v1h3v-2h5v-1h7v4h3v-3h12v1h3v-1h7v1h20v1h8v-2h7v2h3v-1h12v1h3v-1h12v1h5v2h3v-1h5v-2h5v-2h7v2h5v1h3v-1h5v-1h7v1h5v2h3v-1h10v-1h5v-1h7v2h5v1h3v-2h10v-2h7v2h5v2h3v-4h7v3h8v-1h5v-2h7v2h5v2h8v-1h5v-1h12v1h5v1h5v1h3v-1h5v-1h10v-1h5v-1h7v2h8v-2h7v2h8v-1h7v1h8v-1h7v1h3v-1h5v-1h7v2h3v-2h7v2h3v-1h7v2h3v-3h5v-1h7v2h5v1h3v-2h7v2h5v1h3v-2h7v2h3v-2h25v-1h5v-1h7v1h5v1h5v1h3v-3h7v2h10v1h13v-2h7v1h8v-1h7v2h5v1h3v-3h5v-1h7v1h10v1h10v1h3v-3h7v2h23v-2h7v1h5v2h8v-2h12v1h5v2h3v-3h7v1h8v-2h7v2h8v-1h5v-3h7v6h3v-1h10v-1h17v1h3v-1h7v1h5v1h3v-1h7v1h3v-1h5v-2h5v-1h7v1h5v2h3v-1h12v2h3v-2h7v1h3v-1h7v1h5v1h3v-2h12v1h3v-3h5v-1h7v3h3v-2h7v3h3v-2h7v2h3v-1h7v1h8v-1h7v1h8v-1h12v2h3v-3h5v-1h7v2h8v-1h7v3h3v-2h7v1h3v-1h17v1h5v1h3v-1h7v1h3v-2h7v1h3v-2h7v2h3v-2h7v3h13v-3h5v-1h7v1h5v1h5v1h13v-1h7v1h3v-1h12v2h3v-3h7v1h5v1h8v-2h7v1h3v-1h7v1h5v2h8v-3h7v1h5v1h8v-1h5v-3h7v4h3v-1h15v-1h7v2h3v-1h12v1h3v-2h7v2h3v-1h7v2h3v-2h25v-1h7v2h8v-2h7v2h3v-2h7v2h8v-1h7v1h8v-1h10v-1h12v2h20v1h3v-2h7v1h10v1h3v-1h5v-1h7v1h3v-1h12v1h8v-2h7v1h5v1h3v-1h12v2h3v-2h10v-1h7v2h8v-2h7v1h5v1h8v-1h7v2h3v-2h7v1h5v1h8v-2h7v1h8v-1h5v-1h7v1h10v1h8v-2h17v2h3v-1h7v2h8v-1h5v-1h7v2h3v-3h12v3h3v-4h12v3h8v-2h7v3h3v-3h12v1h13v-1h7v1h5v2h3v-1h5v-1h12v1h8v-1h7v1h8v-1h7v2h8v-1h10v-1h7v1h10v1h3v-3h17v1h10v1h8v-3h7v1h5v2h8v-1h12v1h3v-1h5v-1h12v3h3v-1h5v-1h7v1h5v1h3v-2h12v1h3v-1h5v-1h7v2h13v-1h7v1h3v-1h5v-1h12v1h3v-1h12v2h10v1h3v-1h10v-2h7v1h13v-1h7v3h3v-1h12v1h3v-2h5v-1h7v2h3v-2h7v1h5v1h3v-1h5v-1h7v2h3v-1h5v-1h7v2h5v1h3v-1h10v-1h5v-1h12v2h3v-1h7v1h3v-3h7v3h3v-1h7v1h3v-1h7v2h3v-3h12v1h10v1h18v-3h7v5h3v-2h5v-1h12v2h3v-3h12v2h3v-1h5v-1h7v2h3v-1h7v1h3v-2h7v1h3v-1h7v2h3v-1h5v-1h12v1h3v-1h7v2h3v-2h7v1h10v1h3v-1h7v1h5v1h3v-3h7v1h3v-1h12v1h5v1h13v-3h7v2h5v1h13v-1h5v-1h12v2h13v-3h7v3h3v-1h5v-1h7v1h10v1h5v1h3v-3h7v1h3v-1h7v1h3v-1h12v1h5v2h3v-2h7v1h10v1h3v-1h15v-1h32v1h13v-2h5v-1h7v1h5v2h3v-2h7v1h3v-1h7v1h10v1h3v-4h12v4h5v1h3v-3h17v1h3v-2h7v2h8v-1h7v2h3v-2h7v2h3v-1h7v1h13v-1h12v1h3v-2h12v1h5v2h3v-2h7v1h3v-2h10v-1h7v2h15v1h5v1h3v-4h7v2h5v1h10v1h3v-2h7v1h3v-1h17v2h8v-2h7v1h3v-1h7v1h5v1h8v-1h5v-1h5v-1h7v2h8v-2h7v2h3v-2h5v-1h7v2h5v1h8v-2h7v2h8v-2h7v1h10v2h8v-1h5v-2h17v2h3v-1h15v-1h17v1h3v-1h5v-2h12v2h5v3h3v-1h5v-3h7v2h10v1h5v2h3v-2h5v-1h7v1h3v-1h5v-1h7v1h3v-4h7v3h5v2h3v-3h7v1h5v1h5v1h3v-2h7v1h3v-1h7v2h3v-1h10v-1h5v-3h10v-1h7v4h3v-8h7v4h5v2h5v1h3v-2h12v1h5v3h3v-2h7v3h3v-1h27v1h3v-1h5v-2h7v2h4V1701h-4v1h-7v-1h-10v-2h-3v2h-7v-2h-3v2h-7v-1h-3v1h-10v5h-7v-1h-3v1h-7v-1h-5v-3h-3v7h-7v-4h-5v-1h-5v-1h-3v3h-7v-3h-5v-2h-3v1h-5v1h-7v-3h-3v1h-7v-2h-8v2h-5v1h-5v1h-7v-2h-15v-1h-3v2h-7v-1h-13v1h-7v-1h-8v1h-7v-1h-3v2h-7v-5h-3v5h-7v-2h-3v1h-12v-2h-20v-1h-3v2h-10v1h-7v-2h-3v2h-12v-1h-5v-1h-5v-1h-3v2h-7v-1h-3v1h-15v1h-10v1h-7v-2h-3v1h-7v-1h-5v-1h-3v1h-7v-1h-8v1h-7v-1h-3v1h-5v2h-7v-2h-13v1h-7v-1h-20v-1h-3v1h-7v-1h-5v-1h-8v3h-7v-1h-3v1h-7v-1h-3v1h-7v-2h-8v4h-7v-3h-3v1h-7v-2h-10v-1h-8v1h-5v3h-7v-2h-3v1h-12v-2h-13v1h-12v-1h-3v3h-12v-3h-5v-1h-8v3h-7v-1h-3v2h-7v-2h-5v-1h-13v1h-10v2h-7v-2h-8v1h-7v-2h-3v2h-12v-1h-10v-1h-10v-1h-3v2h-7v-1h-3v1h-10v2h-5v1h-7v-4h-8v3h-7v-4h-3v1h-5v1h-7v-2h-3v4h-7v-1h-8v1h-7v-2h-5v-1h-5v-1h-3v3h-7v-2h-8v2h-7v-2h-8v1h-27v-2h-3v4h-7v-1h-3v1h-5v1h-7v-3h-5v-1h-3v1h-5v1h-12v-1h-3v1h-7v-1h-5v-1h-3v2h-12v-2h-3v1h-7v-1h-3v1h-7v-2h-3v2h-10v2h-12v-3h-18v2h-7v-2h-3v1h-17v-1h-3v1h-5v1h-7v-2h-3v1h-15v2h-7v-3h-8v1h-22v-2h-3v2h-10v2h-7v-3h-3v1h-7v-1h-8v1h-5v2h-7v-2h-5v-1h-8v2h-12v-2h-5v-1h-3v3h-7v-1h-8v1h-7v-3h-3v1h-5v1h-10v1h-7v-1h-10v-1h-5v-2h-3v1h-5v1h-5v2h-7v-1h-3v1h-12v-2h-3v2h-7v-2h-8v1h-5v1h-5v2h-7v-2h-5v-2h-3v3h-7v-4h-3v1h-15v1h-22v-1h-5v-1h-3v3h-12v-1h-3v1h-7v-2h-8v1h-22v-1h-3v1h-10v1h-7v-1h-5v-2h-3v3h-7v-2h-8v3h-7v-1h-5v-2h-13v2h-7v-2h-8v2h-7v-2h-3v1h-5v1h-12v-1h-5v-1h-8v1h-10v2h-7v-3h-8v2h-7v-1h-3v2h-7v-1h-5v-1h-10v-1h-13v2h-5v2h-7v-2h-5v-1h-5v-1h-8v1h-7v-1h-3v2h-7v-2h-3v1h-7v-1h-5v-1h-3v3h-7v-2h-3v1h-7v-2h-3v1h-5v1h-7v-1h-5v-1h-3v2h-10v1h-7v-1h-10v-2h-3v1h-7v-1h-3v3h-7v-2h-5v-1h-3v2h-10v2h-12v-3h-3v2h-7v-2h-3v1h-15v1h-7v-1h-3v1h-12v-1h-5v-1h-3v3h-7v-2h-3v2h-7v-4h-3v2h-12v-1h-3v1h-22v-2h-3v1h-5v1h-12v-1h-3v1h-27v-1h-3v1h-5v2h-7v-1h-10v-1h-3v1h-7v-1h-5v-1h-3v1h-5v1h-7v-2h-3v1h-15v1h-7v-1h-3v1h-20v1h-7v-3h-3v2h-7v-1h-5v-1h-13v1h-17v-1h-3v3h-7v-2h-5v-1h-3v1h-12v-1h-3v2h-15v4h-7v-4h-5v-1h-18v1h-7v-1h-8v1h-7v-3h-3v4h-7v-2h-23v1h-10v2h-7v-2h-15v-1h-5v-1h-13v3h-7v-1h-15v-2h-3v2h-7v-1h-5v-2h-3v3h-7v-2h-3v4h-7v-3h-15v-1h-3v1h-7v-1h-3v1h-5v1h-7v-2h-5v-1h-3v1h-5v3h-7v-4h-3v3h-7v-1h-5v-1h-3v2h-5v1h-7v-2h-5v-1h-5v-1h-8v1h-5v3h-7v-1h-15v-1h-5v-1h-3v2h-12v-2h-3v2h-12v-2h-8v1h-7v-1h-3v1h-10v1h-7v-2h-8v3h-7v-4h-3v2h-10v3h-7v-3h-13v1h-7v-1h-3v1h-5v1h-7v-3h-3v1h-7v-1h-3v2h-7v-2h-8v1h-25v1h-7v-1h-35v-2h-3v2h-10v1h-7v-1h-5v-1h-3v1h-7v-1h-3v1h-12v-1h-13v1h-5v1h-7v-1h-3v1h-7v-1h-10v-1h-3v1h-5v2h-7v-3h-3v4h-7v-4h-3v3h-12v-3h-8v1h-5v1h-7v-2h-8v1h-35v1h-7v-1h-5v-1h-8v2h-7v-2h-3v1h-10v1h-7v-3h-3v2h-7v-1h-3v1h-7v-1h-3v3h-7v-2h-3v2h-7v-1h-5v-2h-8v2h-7v-1h-5v-1h-3v2h-10v1h-7v-2h-3v3h-7v-2h-5v-1h-3v1h-5v1h-7v-1h-10v-1h-3v1h-7v-3h-3v2h-10v1h-7v-1h-5v-1h-5v-1h-3v1h-10v3h-7v-3h-3v1h-25v2h-7v-3h-3v1h-7v-2h-3v1h-20v3h-7v-2h-20v-1h-18v1h-7v-1h-5v-1h-3v1h-12v-1h-3v1h-10v1h-17v-2h-3v2h-22v-1h-8v1h-7v-1h-3v1h-7v-1h-8v2h-7v-2h-3v2h-12v-1h-5v-1h-3v1h-10v1h-7v-1h-3v1h-7v-2h-5v-1h-3v1h-5v1h-7v-1h-3v1h-12v-1h-3v1h-7v-1h-5v-1h-3v1h-5v1h-5v1h-5v1h-7v-2h-13v1h-7v-1h-3v2h-7v-3h-3v1h-5v1h-7v-1h-5v-1h-10v-1h-8v1h-5v1h-7v-1h-18v2h-7v-2h-8v2h-12v-1h-3v2h-7v-3h-8v1h-7v-2h-3v2h-7v-1h-8v2h-7v-2h-8v1h-7v-2h-3v3h-5v2h-7v-4h-3v1h-5v1h-5v1h-7v-3h-8v2h-7v-1h-5v-2h-8v1h-5v1h-5v1h-7v-2h-8v1h-12v-2h-3v1h-10v1h-10v1h-7v-3h-3v2h-12v-2h-3v2h-5v1h-12v-1h-8v2h-7v-3h-3v2h-7v-1h-5v-1h-3v1h-7v-1h-3v2h-12v-2h-13v1h-7v-1h-3v2h-7v-2h-8v3h-7v-1h-8v1h-7v-2h-13v3h-12v-4h-3v2h-7v-1h-13v2h-7v-2h-3v1h-12v-2h-8v1h-5v1h-7v-1h-5v-1h-3v1h-5v3h-7v-4h-8v3h-7v-1h-5v-1h-5v-2h-3v2h-7v-2h-3v2h-10v1h-5v1h-7v-3h-3v3h-12v-1h-5v-1h-8v2h-7v-1h-5v-1h-10v-1h-8v2h-7v-2h-8v1h-7v-1h-3v1h-7v-1h-3v1h-5v2h-7v-3h-3v3h-7v-3h-8v1h-12v-1h-8v2h-17v-1h-5v-1h-3v1h-5v2h-7v-4h-3v2h-7v-1h-8v1h-7v-1h-8v2h-5v1h-7v-1h-5v-2h-8v1h-10v2h-7v-3h-3v1h-7v-1h-13v1h-5v2h-7v-1h-5v-1h-15v-1h-13v2h-7v-1h-5v-2h-3v1h-5v1h-20v1h-7v-1h-5v-1h-5v-1h-3v2h-7v-1h-3v1h-7v-1h-8v2h-7v-1h-8v2h-7v-1h-10v-1h-8v1h-12v-2h-18v1h-5v1h-7v-2h-3v3h-7v-3h-3v1h-7v-1h-13v1h-5v1h-7v-1h-5v-2h-3v2h-10v1h-7v-2h-8v1h-7v-1h-5v-1h-3v2h-7v-1h-8v1h-12v-1h-8v1h-5v1h-7v-1h-5v-1h-3v3h-7v-3h-5v-1h-8v1h-20v1h-32v-1h-3v2h-7v-1h-3v2h-12v-2h-3v3h-7v-2h-5v-1h-3v1h-5v2h-7v-4h-8v1h-17v-1h-5v-1h-3v1h-7v-1h-3v3h-7v-3h-3v1h-7v-1h-3v4h-7v-2h-3v1h-7v-1h-10v-1h-5v-2h-3v3h-10v1h-12v-1h-5v-2h-3v1h-5v2h-7v-2h-3v3h-7v-3h-3v17h-5v2h-7v-19h-8v2h-17v-3h-3v1h-10v3h-7v-3h-8v1h-5v1h-12v-1h-5v-2h-3v2h-7v-2h-3v1h-7v-1h-3v1h-5v4h-7v-3h-5v-1h-8v1h-5v1h-12v-2h-3v1h-7v-1h-3v1h-15v1h-12v-1h-5v-1h-3v2h-12v-3h-8v2h-5v1h-7v-2h-3v2h-7v-2h-10v-1h-3v2h-17v-1h-13v2h-7v-1h-3v1h-7v-1h-8v1h-10v1h-7v-3h-8v3h-7v-2h-3v2h-7v-1h-5v-1h-3v2h-7v-3h-3v1h-10v1h-12v-2h-3v1h-15v1h-7v-3h-3v1h-15v1h-17v-2h-3v2h-7v-1h-3v1h-5v2h-7v-2h-15v-1h-3v1h-5v1h-7v-2h-10v-1h-3v1h-15v2h-7v-3h-3v2h-12v-1h-5v-1h-3v2h-7v-1h-3v1h-12v-1h-3v2h-7v-1h-10v-1h-3v2h-7v-1h-5v-1h-3v2h-7v-2h-3v1h-15v1h-7v-1h-3v1h-7v-2h-13v1h-5v1h-7v-1h-5v-1h-3v1h-5v1h-7v-1h-8v1h-7v-2h-3v2h-7v-1h-5v-1h-8v1h-7v-1h-10v-1h-3v2h-5v1h-7v-1h-3v1h-7v-2h-3v2h-7v-1h-3v1h-5v7h-7v-9h-8v4h-7v-3h-3v1h-12v-1h-5v-1h-3v2h-7v-1h-15v-1h-3v1h-7v-1h-3v3h-7v-2h-5v-2h-3v2h-5v1h-17v-1h-5v-1h-3v3h-7v-3h-3v1h-7v-1h-3v2h-7v-2h-5v-1h-3v4h-7v-3h-3v1h-10v1h-5v1h-7v-1h-5v-1h-5v-1h-5v-1h-3v3h-5v1h-7v-2h-8v1h-5v1h-7v-2h-10v-1h-3v1h-5v1h-7v-2h-3v1h-7v-1h-8v2h-7v-1h-8v2h-5v1h-7v-3h-3v1h-7v-3h-3v3h-17v-1h-3v1h-5v2h-7v-4h-13v1h-10v1h-7v-1h-8v2h-7v-3h-8v1h-45v1h-7v-1h-10v-1h-8v1h-5v1h-7v-2h-3v1h-7v-1h-3v1h-20v1h-7v-1h-3v1h-7v-3h-3v5h-7v-3h-5v-2h-3v2h-12v-1h-3v2h-5v1h-7v-1h-5v-2h-3v1h-7v-1h-3v1h-15v1h-7v-2h-3v2h-15v2h-7v-3h-10v-2h-3v1h-10v3h-7v-2h-3v2h-7v-2h-5v-1h-10v-1h-3v2h-15v1h-5v2h-7v-4h-5v-1h-3v1h-10v2h-5v2h-7v-1h-5v-1h-10v-1h-8v2h-12v-2h-3v1h-7v-1h-15v-1h-5v-1h-3v1h-10v1h-7v-1h-3v1h-22v-1h-8v2h-7v-1h-10v-2h-3v1h-5v1h-7v-1h-3v2h-7v-1h-40v-1h-3v2h-5v1h-7v-2h-3v1h-12v-1h-5v-1h-10v-1h-8v1h-5v1h-12v-1h-3v2h-5v2h-7v-3h-3v1h-5v2h-7v-4h-8v2h-7v-1h-5v-1h-3v1h-5v1h-7v-1h-5v-1h-3v3h-12v-1h-10v-1h-3v1h-12v-2h-3v1h-7v-1h-3v2h-12v-1h-8v3h-7v-1h-10v-2h-18v1h-7v-1h-15v-1h-8v2h-7v-3h-3v3h-7v-2h-8v1h-5v1h-7v-2h-3v2h-7v-1h-3v3h-7v-3h-10v-1h-8v2h-7v-2h-8v1h-7v-1h-8v2h-7v-1h-5v-1h-3v2h-6Z"/>
<path fill="#008000" d="M1152 1758h4v-4h7v1h10v2h3v-3h7v1h10v2h3v-2h7v1h5v1h13v-1h5v-1h17v1h13v-1h7v2h5v1h8v-2h5v-1h12v1h5v2h3v-1h5v-3h7v1h5v4h3v-3h5v-4h7v4h3v-1h7v2h8v-1h12v2h3v-2h7v1h18v-3h7v3h3v-3h7v2h5v2h3v-3h7v1h10v1h13v-1h7v2h3v-3h27v2h8v-2h7v1h5v2h8v-1h12v1h3v-3h7v2h3v-1h7v2h3v-1h10v-1h15v-1h7v1h3v-2h7v3h5v1h3v-2h10v-2h7v3h5v1h3v-2h10v-1h7v1h8v-2h7v1h5v2h3v-1h5v-2h7v3h3v-1h7v1h13v-2h7v2h3v-3h7v3h3v-1h5v-1h7v1h3v-2h7v3h3v-1h5v-1h7v1h15v1h3v-2h12v2h3v-3h7v1h5v1h8v-1h12v2h3v-1h7v2h3v-1h5v-2h5v-1h7v3h3v-1h22v1h3v-1h5v-1h7v3h3v-3h5v-1h7v1h5v2h8v-2h7v1h13v-2h7v4h3v-3h7v1h5v1h8v-1h5v-1h5v-7h7v2h5v7h3v-2h7v1h8v-3h7v2h5v2h3v-1h7v1h3v-2h7v1h8v-1h10v-1h7v3h3v-1h5v-2h7v1h5v1h5v1h5v2h3v-3h5v-3h7v4h3v-2h7v1h3v-2h12v1h5v1h5v1h3v-1h5v-1h7v2h3v-1h5v-1h7v1h5v1h8v-1h12v1h8v-1h7v1h10v1h3v-3h7v3h8v-1h10v-1h7v1h3v-1h7v1h13v-1h7v2h3v-2h7v1h8v-3h7v4h3v-3h10v-2h7v2h5v1h5v1h5v1h8v-3h7v2h5v1h8v-1h5v-2h7v1h5v1h3v-2h7v2h3v-2h17v2h8v-2h7v1h18v-1h7v2h8v-2h7v1h3v-1h7v1h5v1h8v-2h7v1h3v-1h17v1h15v1h10v1h8v-3h7v2h5v1h3v-2h7v1h5v1h3v-2h12v2h8v-3h7v1h5v1h3v-1h7v1h8v-1h10v-1h7v1h5v2h3v-2h17v1h13v-2h10v-1h12v3h5v1h3v-2h7v1h8v-3h7v1h10v2h18v-2h7v2h3v-1h17v1h3v-1h5v-2h7v2h5v1h8v-2h7v1h15v1h8v-1h5v-1h7v1h5v2h3v-3h7v1h15v1h3v-1h10v-1h7v2h3v-1h7v2h3v-2h5v-1h7v1h3v-1h7v2h8v-2h7v1h3v-1h7v1h8v-1h7v1h5v1h20v2h8v-2h5v-1h12v1h3v-2h12v2h8v-1h7v1h3v-1h10v-2h7v2h5v1h3v-2h17v1h10v1h23v-2h7v1h5v1h3v-2h7v2h3v-2h12v1h3v-3h7v3h3v-1h7v1h8v-1h12v1h5v3h3v-1h5v-1h5v-1h5v-2h7v2h3v-3h7v3h15v2h3v-2h5v-1h7v2h5v1h3v-3h10v-4h7v6h13v-2h7v2h3v-1h5v-1h5v-1h7v1h5v1h5v2h3v-2h7v1h3v-3h7v3h3v-1h7v1h3v-2h7v1h5v1h5v1h13v-2h5v-2h7v2h5v1h3v-1h7v2h8v-2h15v-2h7v3h3v-2h5v-1h7v2h5v2h3v-1h7v1h13v-2h12v2h3v-2h7v2h3v-1h15v-2h7v1h5v1h3v-1h12v1h3v-1h5v-1h5v-2h7v3h3v-1h7v2h5v1h3v-1h20v-3h7v2h5v2h3v-2h12v2h3v-2h5v-1h7v3h3v-1h7v1h3v-2h7v2h3v-1h5v-1h10v-1h7v2h10v1h13v-1h5v-1h12v1h5v1h3v-2h5v-1h12v2h3v-2h7v2h5v2h3v-2h7v1h3v-3h15v-1h7v2h10v1h13v-2h7v2h3v-1h12v1h5v1h3v-2h5v-1h5v-1h7v2h15v1h3v-1h5v-1h7v2h5v1h3v-1h7v1h3v-3h7v3h3v-2h7v2h3v-3h7v1h3v-1h12v1h3v-7h7v8h3v-1h7v2h3v-2h7v1h5v1h3v-3h7v1h3v-1h5v-2h7v4h3v-2h7v1h8v-1h7v1h3v-1h7v2h3v-2h7v2h3v-1h5v-1h7v1h5v3h3v-1h5v-3h7v1h8v-1h7v2h3v-2h7v2h3v-1h5v-1h5v-2h7v4h3v-1h5v-2h7v2h5v1h13v-3h7v1h3v-1h7v2h8v-1h7v1h3v-1h7v2h3v-2h12v1h3v-1h17v3h3v-2h10v-1h7v2h8v-2h7v3h3v-5h7v3h5v2h3v-2h7v1h8v-1h7v2h3v-2h10v-2h5v-2h7v3h3v-1h7v2h3v-1h7v2h3v-2h12v1h10v1h5v1h3v-3h5v-1h7v1h5v2h3v-1h12v1h13v-2h7v1h10v1h3v-1h7v1h10v1h8v-2h12v1h3v-3h7v1h5v1h8v-2h12v3h8v-3h17v2h10v2h3v-1h15v-2h7v2h8v-2h7v1h10v1h8v-3h7v2h3v-1h7v1h5v1h8v-6h7v4h5v2h3v-2h5v-1h7v2h8v-1h5v-1h7v2h10v1h3v-3h7v1h3v-1h7v2h3v-1h7v2h5v1h3v-1h20v-2h7v1h5v1h3v-1h12v2h3v-1h7v1h8v-3h7v1h5v1h8v-3h12v1h5v2h3v-2h7v1h3v-2h7v3h3v-1h12v2h3v-3h7v3h3v-3h12v2h3v-2h12v2h3v-3h7v4h8v-1h5v-1h7v1h3v-1h12v2h3v-2h15v-1h7v1h3v-3h7v2h3v-4h7v5h5v1h3v-3h7v4h3v-2h7v2h3v-1h7v1h3v-1h5v-1h7v1h3v-1h7v1h3v-2h7v2h5v1h3v-2h7v1h3v-1h20v-1h7v1h5v2h3v-2h5v-1h7v2h3v-1h5v-1h7v1h5v2h3v-1h5v-2h7v1h5v1h8v-1h12v1h10v1h3v-2h5v-1h5v-1h7v3h3v-1h5v-2h12v2h5v1h3v-2h7v2h5v1h3v-3h7v1h5v1h3v-2h7v1h5v1h3v-1h7v2h3v-1h5v-2h7v1h20v2h3v-1h10v-1h5v-1h7v1h5v2h3v-2h20v-1h7v2h3v-1h7v1h3v-1h5v-2h7v3h8v-1h5v-1h7v3h13v-4h7v2h3v-1h7v1h8v-1h5v-1h7v1h15v1h5v1h3v-1h10v-2h7v2h5v1h3v-1h7v1h5v1h13v-3h7v1h5v1h8v-1h10v-1h12v1h5v1h8v-3h7v2h5v1h3v-2h12v1h10v1h3v-1h5v-1h7v2h3v-2h7v1h5v1h3v-1h7v1h3v-2h5v-1h7v2h3v-2h5v-1h7v2h5v2h5v1h3v-1h5v-1h5v-2h7v2h15v1h3v-4h7v2h5v1h3v-2h7v2h3v-1h12v1h3v-1h12v2h3v-1h10v-2h7v2h5v1h3v-2h12v2h3v-2h7v1h3v-2h12v2h10v2h8v-1h5v-2h7v1h5v1h3v-2h12v2h5v1h3v-1h5v-1h10v-1h7v2h3v-3h7v4h3v-4h7v1h5v2h3v-2h5v-1h7v1h5v2h3v-1h7v2h3v-2h10v-1h12v2h3v-1h7v1h3v-3h12v2h3v-2h7v3h3v-1h30v-1h12v2h8v-2h10v-1h7v3h5v1h3v-1h12v2h3v-3h5v-2h7v3h8v-1h5v-1h5v-2h7v3h8v-1h7v2h5v1h18v-2h5v-1h7v4h3v-2h10v-1h15v-1h7v1h8v-1h5v-1h7v3h8v-1h5v-2h12v2h3v-2h12v1h5v2h13v-1h15v-1h7v1h13v-1h7v1h5v1h8v-2h7v1h15v1h3v-7h7v6h3v-1h7v2h3v-2h7v3h3v-3h5v-1h7v2h3v-1h7v1h3v-1h7v1h5v1h5v1h3v-1h5v-1h5v-1h7v1h5v1h8v-2h12v1h3v-1h7v2h3v-1h10v-1h7v2h3v-1h5v-3h7v3h10v2h3v-3h7v2h3v-2h7v2h8v-2h22v2h3v-1h12v1h8v-1h7v1h3v-1h5v-4h7v4h3v-3h7v4h5v1h3v-3h7v2h8v-1h7v1h3v-1h5v-1h7v2h8v-1h12v1h13v-3h7v1h3v-1h7v2h3v-1h7v2h3v-1h7v2h3v-4h7v3h3v-1h12v2h3v-3h7v3h3v-2h7v2h5v1h3v-1h5v-1h5v-2h7v1h3v-2h7v2h10v1h3v-1h7v1h3v-2h12v1h8v-1h7v1h5v1h3v-2h7v1h5v1h3v-2h7v3h3v-2h7v3h3v-2h5v-1h5v-1h12v3h8v-2h15v-2h7v1h10v1h5v1h8v-2h7v1h5v1h3v-1h5v-1h12v1h5v2h3v-2h7v2h3v-1h7v1h8v-5h7v3h3v-1h22v1h3v-1h7v2h8v-1h7v2h3v-5h7v2h23v-3h7v3h5v1h3v-1h7v2h5v1h8v-1h15v-1h7v1h3v-1h7v1h3v-1h12v1h10v1h8v-2h7v1h13v-1h5v-1h12v1h10v1h8v-1h5v-1h5v-1h7v2h8v-1h7v2h3v-1h5v-1h7v2h18v-1h7v1h3v-1h7v2h3v-1h5v-1h5v-1h7v2h3v-1h5v-1h5v-1h12v2h15v1h5v1h3v-2h7v1h13v-2h7v1h5v1h3v-2h22v2h3v-1h12v1h3v-2h7v1h5v1h3v-3h7v1h5v2h3v-2h7v1h5v2h3v-2h7v1h3v-1h12v1h13v-1h5v-2h7v1h5v1h3v-1h12v3h3v-2h7v1h3v-2h7v2h5v1h8v-4h7v3h3v-1h17v1h8v-3h12v1h5v3h3v-2h5v-1h7v2h3v-1h5v-1h7v2h8v-9h7v9h3v-1h15v-2h12v1h15v2h3v-1h5v-1h7v1h3v-1h12v2h3v-1h5v-1h7v3h3v-2h7v2h3v-2h5v-1h10v-3h7v4h3v-3h7v2h3v-1h5v-1h7v2h5v1h3v-2h7v1h5v1h8v-1h12v1h3v-1h7v1h10v1h3v-1h7v1h5v1h3v-2h7v1h3v-1h7v1h3v-1h7v1h3v-2h7v1h5v1h3v-1h7v1h3v-2h7v2h3v-1h7v1h20v1h3v-2h7v1h5v1h8v-2h7v1h3v-2h12v1h3v-2h7v2h10v1h3v-2h5v-1h7v2h3v-1h12v1h20v1h3v-3h7v3h3v-1h5v-2h7v3h8v-1h6V1769h-4v2h-5v1h-7v-2h-8v1h-5v1h-7v-1h-5v-2h-3v5h-7v-3h-5v-1h-15v-1h-3v3h-7v-3h-3v1h-10v1h-7v-1h-13v1h-7v-1h-3v1h-5v2h-7v-2h-3v1h-7v-1h-5v-1h-3v2h-12v-1h-10v-1h-3v1h-7v-1h-3v2h-7v-2h-8v1h-7v-1h-3v2h-5v1h-7v-4h-3v2h-10v3h-7v-2h-5v-1h-10v-2h-3v4h-5v1h-7v-5h-3v1h-5v4h-7v-2h-5v-1h-5v-1h-15v-2h-8v2h-5v1h-7v-3h-3v2h-7v-1h-3v2h-20v2h-7v-3h-3v1h-7v-2h-3v3h-7v-3h-3v1h-12v-1h-3v1h-5v2h-12v-3h-3v2h-7v-2h-3v1h-5v3h-7v-2h-10v-1h-3v1h-5v8h-7v-7h-3v1h-7v-1h-5v-3h-3v1h-12v-1h-3v2h-5v1h-7v-2h-8v1h-7v-1h-3v1h-12v-2h-3v3h-7v-1h-8v1h-7v-2h-8v1h-17v-1h-5v-1h-8v3h-7v-1h-13v1h-7v-3h-3v5h-7v-2h-5v-1h-8v1h-12v-1h-5v-2h-3v1h-5v2h-5v1h-5v2h-7v-3h-5v-2h-8v1h-7v-2h-3v2h-15v1h-12v-3h-3v2h-22v-1h-3v1h-12v-1h-3v2h-7v-1h-5v-1h-5v-1h-3v1h-5v1h-12v-3h-3v3h-7v-1h-3v1h-7v-1h-3v1h-10v3h-7v-4h-13v1h-15v3h-5v2h-7v-5h-5v-1h-8v3h-7v-2h-5v-1h-3v1h-5v1h-7v-1h-5v-2h-3v1h-5v1h-5v2h-7v-1h-5v-1h-8v3h-7v-3h-10v-1h-3v1h-12v-2h-3v2h-7v-1h-5v-1h-3v2h-7v-1h-3v1h-10v1h-7v-1h-10v-1h-3v1h-7v-1h-3v2h-12v-1h-25v-1h-3v1h-7v-2h-3v1h-5v2h-7v-2h-18v2h-5v1h-7v-3h-3v3h-5v1h-7v-2h-5v-2h-3v3h-7v-1h-25v-3h-3v2h-7v-1h-3v1h-12v-1h-8v1h-12v-1h-3v2h-7v-1h-8v1h-7v-2h-3v1h-12v-1h-3v1h-7v-1h-13v1h-7v-1h-8v1h-5v1h-7v-1h-13v1h-7v-1h-8v1h-7v-2h-8v1h-5v1h-7v-2h-3v2h-22v-1h-5v-1h-3v2h-7v-1h-10v-1h-13v1h-12v-1h-3v2h-7v-1h-3v1h-7v-1h-3v1h-10v1h-7v-3h-3v1h-17v-2h-3v2h-5v2h-7v-3h-3v4h-7v-4h-5v-1h-3v1h-5v1h-7v-1h-5v-1h-5v-1h-3v3h-12v-1h-3v1h-7v-1h-3v1h-10v1h-7v-1h-5v-1h-8v3h-7v-1h-5v-2h-8v2h-5v1h-12v-1h-5v-2h-13v1h-5v1h-7v-2h-8v1h-7v-2h-3v1h-10v1h-5v2h-7v-4h-3v2h-7v-2h-3v1h-5v2h-7v-2h-3v2h-7v-2h-3v2h-7v-1h-3v1h-12v-3h-3v5h-7v-2h-3v1h-7v-2h-3v2h-7v-4h-3v12h-7v-10h-3v1h-17v-1h-3v1h-7v-1h-10v-1h-18v1h-5v1h-7v-1h-5v-1h-3v1h-12v-1h-3v2h-7v-2h-5v-1h-3v3h-7v-1h-10v-1h-8v4h-7v-2h-5v-1h-3v1h-10v1h-7v-2h-3v1h-5v1h-7v-4h-3v2h-5v1h-7v-1h-5v-2h-3v3h-12v-2h-3v1h-5v1h-12v-1h-20v-1h-3v3h-7v-2h-5v-1h-3v1h-7v-1h-8v3h-7v-2h-3v1h-7v-3h-3v1h-10v2h-7v-1h-10v-2h-8v1h-10v2h-5v1h-10v1h-7v-3h-5v-1h-5v-1h-3v1h-12v-1h-3v2h-22v-1h-3v2h-12v-3h-8v1h-5v2h-7v-2h-5v-1h-3v1h-5v1h-5v3h-7v-3h-3v1h-7v-2h-8v1h-10v1h-5v1h-7v-2h-23v1h-5v1h-7v-2h-5v-1h-5v-1h-3v4h-7v-2h-8v4h-7v-1h-5v-1h-5v-2h-10v-1h-5v-1h-3v2h-7v-2h-8v3h-7v-3h-3v1h-5v2h-7v-3h-8v2h-7v-2h-3v2h-15v1h-7v-1h-5v-1h-8v3h-12v-2h-5v-2h-5v-1h-3v1h-5v1h-5v1h-5v2h-12v-1h-5v-2h-3v2h-7v-3h-3v1h-5v1h-5v2h-7v-2h-10v-1h-3v4h-7v-4h-3v2h-7v-1h-5v-1h-3v1h-10v1h-7v-2h-3v1h-10v1h-7v-1h-5v-1h-3v1h-10v1h-7v-1h-3v1h-7v-1h-5v-1h-3v1h-7v-2h-3v1h-5v1h-10v1h-22v-3h-3v1h-5v1h-7v-2h-3v2h-7v-1h-5v-1h-3v2h-7v-1h-3v1h-5v1h-5v2h-7v-4h-8v1h-5v1h-7v-1h-3v1h-12v-2h-3v3h-7v-3h-3v2h-7v-1h-15v-1h-3v2h-15v1h-7v-2h-23v1h-10v3h-7v-2h-3v1h-7v-3h-10v-1h-3v1h-7v-1h-3v1h-17v-1h-3v3h-7v-3h-13v2h-7v-1h-5v-1h-13v2h-7v-2h-5v-1h-3v1h-10v1h-12v-2h-3v1h-5v1h-7v-1h-3v2h-5v2h-7v-2h-10v-2h-3v4h-7v-4h-10v-1h-3v1h-5v2h-7v-2h-3v1h-7v-2h-3v4h-12v-2h-5v-1h-3v2h-5v1h-7v-1h-5v-2h-3v1h-10v2h-7v-2h-3v2h-7v-2h-8v2h-7v-1h-5v-1h-5v-1h-5v-1h-3v3h-7v-2h-18v1h-7v-1h-8v4h-7v-2h-10v-1h-10v-1h-10v-2h-8v1h-5v1h-10v1h-12v-1h-8v2h-7v-2h-8v3h-7v-1h-5v-1h-10v-2h-3v4h-12v-1h-5v-1h-3v2h-7v-1h-15v-1h-10v-1h-3v2h-7v-1h-3v1h-5v1h-7v-1h-10v-3h-3v1h-5v1h-7v-2h-3v5h-7v-4h-3v1h-10v1h-7v-3h-3v1h-5v2h-7v-3h-3v1h-7v-1h-3v3h-7v-1h-10v-2h-3v1h-12v-1h-3v2h-7v-1h-8v1h-5v3h-7v-3h-5v-3h-3v2h-5v1h-12v-1h-5v-1h-3v1h-5v1h-5v1h-7v-1h-10v-2h-8v5h-7v-3h-10v-1h-5v-1h-3v2h-5v1h-7v-2h-8v2h-7v-1h-8v1h-5v3h-7v-3h-5v-1h-18v1h-12v-1h-15v-1h-3v1h-12v-1h-3v2h-7v-1h-18v1h-7v-2h-13v1h-7v-1h-5v-1h-3v1h-10v1h-15v1h-7v-3h-3v2h-7v-1h-3v3h-7v-4h-3v1h-10v2h-7v-1h-3v2h-7v-2h-3v1h-12v-1h-5v-1h-3v1h-7v-1h-5v-1h-3v2h-5v1h-12v-1h-3v1h-7v-2h-3v2h-7v-1h-8v3h-7v-5h-3v1h-10v1h-5v1h-7v-1h-5v-1h-23v2h-17v-1h-15v-1h-3v2h-7v-1h-10v-1h-5v-1h-3v5h-7v-2h-5v-1h-15v-2h-3v1h-5v2h-5v1h-7v-3h-10v-2h-3v3h-7v-1h-8v1h-5v1h-12v-2h-3v1h-7v-1h-3v2h-7v-1h-10v-1h-3v1h-10v1h-7v-3h-3v2h-5v2h-7v-3h-3v1h-7v-1h-3v1h-10v1h-7v-2h-3v3h-7v-2h-3v1h-7v-3h-8v2h-7v-1h-3v1h-17v-1h-13v2h-7v-1h-3v1h-7v-1h-3v1h-7v-2h-8v3h-7v-1h-5v-2h-3v2h-5v1h-7v-2h-5v-1h-3v1h-7v-1h-3v1h-5v1h-5v1h-7v-3h-3v1h-10v1h-5v1h-12v-1h-5v-2h-5v-1h-3v3h-7v-1h-8v3h-12v-2h-5v-2h-3v2h-7v-1h-3v1h-7v-1h-10v-1h-3v3h-7v-3h-3v2h-7v-1h-5v-1h-8v1h-7v-1h-3v2h-7v-2h-5v-1h-3v2h-7v-1h-3v1h-5v2h-7v-1h-8v1h-12v-2h-3v1h-17v-1h-3v1h-7v-1h-3v1h-12v-1h-3v1h-10v1h-7v-4h-3v3h-7v-2h-5v-1h-3v2h-5v2h-7v-3h-3v1h-5v1h-12v-1h-3v1h-7v-1h-5v-2h-8v2h-20v1h-5v1h-7v-4h-3v1h-5v1h-5v2h-7v-2h-8v2h-5v1h-7v-3h-5v-1h-13v2h-12v-1h-3v1h-5v1h-7v-2h-5v-1h-3v1h-7v-1h-3v2h-10v1h-7v-4h-3v3h-5v1h-7v-1h-5v-2h-10v-1h-3v1h-5v2h-7v-1h-3v2h-7v-3h-3v2h-12v-3h-3v1h-10v2h-17v-1h-3v1h-7v-1h-8v1h-7v-1h-3v1h-7v-1h-13v1h-7v-2h-3v1h-7v-1h-3v1h-7v-2h-8v2h-5v1h-7v-1h-5v-1h-8v2h-5v1h-7v-2h-5v-1h-5v-1h-8v1h-5v1h-5v1h-7v-1h-3v2h-7v-2h-3v3h-7v-3h-3v1h-5v1h-7v-1h-5v-3h-3v3h-7v-1h-15v-1h-20v-1h-8v2h-5v3h-7v-2h-10v-2h-18v2h-7v-2h-8v1h-5v1h-7v-1h-3v2h-7v-4h-3v1h-7v-1h-3v2h-5v1h-7v-1h-10v-2h-3v4h-7v-2h-5v-2h-3v2h-7v-2h-3v4h-5v1h-7v-4h-8v2h-12v-1h-8v2h-12v-3h-13v2h-7v-2h-3v2h-7v-2h-5v-1h-3v2h-7v-1h-8v2h-7v-1h-8v2h-7v-2h-5v-1h-3v1h-7v-1h-23v2h-7v-2h-8v2h-7v-2h-3v1h-12v-1h-8v3h-12v-2h-3v2h-7v-2h-3v1h-7v-1h-8v2h-7v-1h-3v2h-7v-4h-18v3h-7v-3h-3v1h-7v-1h-3v1h-15v2h-5v1h-7v-4h-5v-1h-3v2h-7v-2h-3v2h-12v-1h-3v1h-12v-1h-3v3h-7v-3h-3v1h-10v1h-7v-2h-3v6h-7v-4h-5v-3h-3v1h-5v2h-7v-2h-3v1h-7v-1h-8v2h-7v-1h-15v-1h-3v1h-5v3h-7v-3h-8v1h-12v-1h-8v2h-7v-1h-13v2h-7v-3h-5v-1h-3v1h-7v-1h-3v2h-5v1h-7v-2h-10v-2h-3v2h-5v2h-7v-3h-3v1h-7v-1h-3v1h-10v1h-7v-1h-10v-1h-3v1h-7v-1h-3v1h-5v2h-12v-2h-3v1h-7v-1h-3v1h-7v-1h-5v-2h-3v5h-7v-4h-3v2h-7v-1h-3v2h-7v-3h-3v1h-7v-2h-8v2h-7v-1h-8v1h-5v2h-7v-3h-3v1h-10v1h-7v-2h-8v1h-7v-1h-3v3h-7v-3h-3v12h-5v2h-7v-15h-3v1h-5v1h-7v-2h-8v2h-5v1h-7v-2h-3v1h-15v1h-7v-2h-3v1h-7v-1h-3v2h-7v-3h-3v3h-7v-2h-3v2h-7v-1h-5v-1h-8v1h-20v3h-7v-4h-13v1h-7v-2h-3v2h-12v-1h-5v-1h-3v5h-7v-2h-5v-2h-3v1h-12v-1h-10v-1h-13v1h-5v1h-7v-2h-3v5h-7v-3h-15v-1h-3v2h-7v-2h-3v1h-5v1h-7v-2h-13v2h-7v-2h-3v1h-5v1h-12v-2h-8v2h-5v1h-7v-1h-5v-1h-5v-1h-8v3h-7v-2h-5v-2h-3v2h-12v-3h-3v3h-17v-1h-3v2h-7v-2h-18v1h-5v1h-12v-1h-3v2h-7v-2h-5v-2h-3v1h-10v1h-7v-2h-3v2h-12v-1h-3v2h-7v-2h-3v1h-5v2h-7v-2h-30v-1h-8v1h-7v-2h-3v1h-5v2h-17v-1h-3v7h-7v-6h-5v-1h-3v4h-7v-5h-3v2h-7v-1h-3v1h-7v-1h-10v-1h-8v1h-5v1h-7v-3h-3v2h-15v1h-7v-1h-10v-1h-10v-1h-3v3h-7v-2h-13v2h-5v1h-7v-3h-3v1h-7v-2h-3v2h-12v-1h-3v1h-12v-1h-19Z"/>
<path fill="#000000" d="M1152 1824h6v1h5v1h8v-1h5v-2h12v3h8v-2h7v1h8v-1h7v2h3v-1h10v-1h12v2h5v1h3v-1h5v-1h7v1h18v-2h7v1h5v1h3v-3h12v2h25v1h3v-1h5v-1h7v1h13v-1h7v2h3v-2h7v1h10v1h3v-1h7v1h3v-1h7v1h3v-2h7v2h3v-1h5v-1h7v1h8v-2h7v1h5v2h3v-2h12v1h3v-1h7v2h3v-3h7v2h5v1h23v-3h7v2h13v-2h7v3h8v-1h5v-2h7v1h5v1h8v-1h7v1h10v2h3v-1h5v-1h7v1h5v1h3v-2h12v1h3v-3h7v3h3v-1h7v1h3v-1h5v-2h7v2h3v-2h5v-1h7v3h8v-1h7v3h3v-3h5v-1h12v2h10v1h10v1h3v-3h7v3h3v-3h7v2h3v-1h5v-1h7v1h5v2h3v-1h5v-7h7v4h5v1h5v1h3v-1h12v1h3v-1h7v2h3v-1h5v-1h5v-2h7v3h15v1h3v-1h10v-2h7v4h3v-3h10v-1h12v2h5v1h3v-1h5v-1h7v2h3v-2h7v1h13v-4h7v6h3v-2h7v2h3v-2h10v-1h7v2h3v-2h7v1h5v1h3v-1h5v-1h7v4h3v-2h5v-2h7v2h3v-3h7v3h18v-2h7v2h13v-1h5v-1h5v-1h7v2h5v1h3v-2h7v1h5v1h20v1h5v1h3v-3h7v1h5v1h3v-1h5v-1h7v1h3v-2h7v1h5v1h3v-1h7v2h3v-2h7v1h3v-1h5v-3h7v4h8v-2h12v3h3v-1h5v-1h5v-1h7v1h10v1h3v-2h7v1h8v-1h7v1h3v-1h7v1h8v-1h12v2h5v2h3v-2h5v-4h7v3h3v-1h7v1h3v-1h7v2h3v-1h12v1h3v-2h7v3h3v-1h5v-2h7v1h5v1h3v-2h7v1h3v-2h7v2h8v-1h7v2h3v-1h7v1h3v-2h7v1h5v1h10v1h3v-2h10v-2h7v3h3v-2h12v1h8v-1h7v2h5v1h3v-1h15v-1h7v2h3v-3h7v2h3v-2h17v3h3v-1h10v-3h7v3h10v1h3v-2h7v1h5v1h3v-2h5v-2h7v2h5v1h5v1h3v-2h5v-2h17v2h20v1h5v1h3v-3h7v2h5v1h3v-1h5v-5h7v3h13v-1h7v2h5v1h8v-2h7v1h3v-2h5v-1h7v2h3v-1h7v2h8v-1h5v-1h7v3h3v-1h5v-1h7v2h5v1h3v-5h7v3h3v-1h7v1h8v-1h7v1h8v-1h7v1h3v-1h7v1h10v1h3v-2h10v-1h7v2h3v-1h7v1h8v-1h7v1h10v1h3v-2h10v-1h7v3h3v-1h5v-2h7v3h15v1h3v-3h7v3h3v-5h7v5h3v-1h7v1h3v-1h5v-2h12v1h5v1h5v1h8v-1h10v-1h5v-1h7v1h8v-1h7v1h3v-1h7v1h5v1h3v-2h7v3h3v-1h5v-2h7v2h3v-1h7v1h3v-1h7v2h3v-2h7v1h3v-1h7v1h8v-1h5v-1h7v2h3v-1h15v-1h7v1h10v2h3v-3h7v2h3v-1h5v-2h7v2h20v2h3v-2h17v1h3v-1h7v1h3v-1h7v1h8v-1h5v-1h7v1h5v1h8v-2h5v-1h7v2h3v-1h7v3h3v-3h5v-1h7v3h3v-2h12v3h3v-2h7v1h8v-1h7v1h3v-3h7v1h5v2h10v1h8v-1h5v-4h7v3h5v1h5v2h3v-5h7v3h5v1h3v-1h5v-2h12v1h3v-1h7v3h3v-3h12v1h10v1h3v-2h7v2h3v-2h7v2h8v-2h7v1h3v-2h7v1h3v-38h7v4h5v34h5v2h5v1h3v-2h15v-1h7v1h3v-1h5v-3h7v4h3v-1h5v-1h5v-7h7v8h5v3h3v-1h7v1h3v-3h7v2h8v-3h7v2h3v-2h7v2h3v-2h7v1h10v3h3v-2h5v-1h7v1h13v-1h12v1h5v1h3v-1h7v1h8v-2h7v1h8v-2h7v2h10v1h5v1h3v-2h5v-1h7v1h3v-2h7v2h10v1h5v1h3v-2h12v2h3v-1h5v-1h25v-1h7v2h13v-1h7v1h5v1h3v-2h12v2h3v-3h7v1h13v-2h7v4h3v-4h7v2h5v1h10v1h3v-3h7v1h5v1h3v-1h5v-1h5v-1h7v1h3v-1h7v2h5v2h3v-1h5v-3h7v3h10v2h3v-2h5v-1h7v1h3v-1h7v1h5v1h8v-3h7v3h3v-1h10v-2h5v-1h7v2h10v2h3v-2h10v-3h7v5h3v-4h7v1h10v1h10v2h3v-1h5v-1h5v-1h7v2h3v-2h7v3h3v-1h15v-4h7v2h5v1h5v2h3v-3h7v2h3v-1h5v-2h7v3h3v-1h5v-2h7v2h3v-1h7v2h10v1h13v-2h10v-2h7v3h3v-3h7v1h10v1h5v1h8v-1h7v3h8v-2h7v1h3v-1h7v1h3v-3h7v2h10v2h3v-4h7v1h15v1h3v-1h5v-3h7v2h10v1h3v-1h17v1h8v-1h12v1h10v1h3v-1h7v2h8v-2h7v1h3v-1h7v2h3v-1h7v1h8v-3h5v-1h7v2h5v2h3v-2h5v-1h7v2h23v-1h10v-2h7v3h3v-2h12v3h3v-1h5v-2h7v1h5v2h3v-1h7v1h3v-2h7v1h8v-2h7v1h15v1h5v1h3v-4h7v1h10v1h10v1h3v-1h7v2h8v-1h20v-1h7v2h8v-1h7v1h3v-1h10v-1h5v-3h7v2h5v3h3v-2h7v1h3v-1h7v1h8v-2h17v1h5v1h3v-1h5v-1h7v2h10v1h3v-1h10v-3h7v1h5v1h5v1h10v2h3v-2h12v1h3v-2h12v1h5v1h3v-1h5v-1h7v1h10v1h3v-2h7v1h18v-2h7v1h8v-2h7v2h3v-2h7v3h3v-1h7v1h3v-4h7v4h5v1h3v-3h7v1h5v1h3v-1h5v-2h7v3h8v-4h7v4h3v-1h17v1h5v1h3v-1h5v-1h7v1h10v2h3v-2h5v-1h15v-1h12v1h3v-3h7v3h5v1h30v1h3v-2h10v-1h7v2h5v2h3v-4h7v3h3v-1h10v-4h7v4h3v-2h17v3h3v-1h5v-1h22v1h3v-2h22v2h3v-1h10v-1h5v-3h7v4h3v-1h7v2h8v-1h12v1h3v-1h7v1h3v-1h7v1h3v-1h5v-3h12v4h3v-2h7v1h15v1h3v-1h7v1h3v-1h7v1h8v-1h20v-1h12v1h5v2h3v-2h17v1h3v-1h20v-1h7v1h5v1h18v-3h5v-1h7v2h5v2h13v-1h12v1h18v-1h7v1h3v-4h5v-4h5v-2h15v-7h7v1h5v5h5v11h3v-2h7v1h3v-2h12v2h8v-1h5v-1h7v2h3v-1h5v-4h5v-2h12v1h3v-1h5v-7h7v1h5v3h5v6h5v6h3v-1h5v-1h7v2h3v-2h12v1h18v-2h5v-1h7v3h3v-2h7v2h3v-3h7v2h10v1h5v1h3v-1h12v1h3v-3h7v1h5v2h3v-1h10v-1h12v2h8v-1h5v-1h7v1h8v-1h7v1h3v-1h5v-1h7v1h10v1h3v-1h12v1h3v-3h7v3h3v-2h7v3h3v-1h5v-1h10v-3h12v3h10v2h3v-3h7v1h5v1h3v-1h20v-2h7v1h10v2h10v1h3v-4h7v3h8v-2h12v3h3v-1h5v-1h5v-2h7v3h3v-1h7v1h3v-1h7v1h3v-1h5v-1h7v2h5v1h3v-2h5v-2h7v3h15v1h3v-1h5v-1h5v-1h7v1h3v-1h5v-1h7v2h15v1h3v-1h10v-1h7v1h3v-1h12v1h10v1h5v1h3v-2h5v-1h7v1h3v-1h5v-1h7v1h5v1h5v1h3v-2h7v1h10v1h18v-1h7v2h3v-2h22v1h5v1h3v-1h5v-4h7v3h3v-1h7v1h8v-1h7v1h3v-2h7v3h3v-2h7v2h10v1h3v-2h10v-1h7v1h3v-1h7v1h3v-1h10v-1h7v4h3v-3h5v-1h7v2h3v-2h7v3h3v-1h5v-1h7v1h3v-1h7v2h3v-6h5v-2h5v-2h12v3h5v6h10v1h3v-2h7v1h3v-1h7v2h8v-4h7v3h3v-1h7v1h10v2h3v-2h7v1h3v-1h5v-1h7v3h3v-4h7v2h5v1h3v-2h7v2h3v-1h7v2h5v1h3v-2h5v-1h10v-1h7v1h10v1h3v-1h10v-2h12v1h5v1h5v1h3v-1h7v1h8v-3h7v3h8v-1h12v1h18v-1h7v2h3v-3h7v1h3v-1h7v2h3v-2h7v1h8v-2h7v2h3v-1h5v-1h7v2h3v-2h7v2h18v-2h5v-17h7v2h5v3h5v13h3v-6h7v10h3v-8h7v5h15v3h3v-4h5v-1h7v2h3v-4h7v5h3v-2h7v1h3v-1h7v2h8v-1h5v-1h7v1h3v-2h7v1h5v1h5v1h3v-1h7v1h8v-1h7v2h3v-2h7v1h3v-3h7v3h5v1h3v-1h5v-4h7v2h5v1h8v-2h7v2h8v-2h7v3h3v-1h17v1h15v1h3v-1h5v-4h7v3h15v2h3v-1h5v-1h5v-1h7v2h3v-1h5v-1h12v2h3v-2h10v-2h7v2h3v-3h7v3h5v1h3v-2h12v1h5v2h3v-2h7v1h20v1h3v-3h7v3h5v1h3v-1h5v-1h7v1h3v-1h5v-1h7v2h13v-2h7v2h3v-1h22v1h13v-1h5v-1h7v2h10v2h3v-2h5v-2h5v-6h7v6h5v2h3v-3h7v3h3v-1h7v1h3v-1h15v-1h7v2h13v-1h5v-2h7v2h10v1h8v-1h7v2h3v-4h7v1h5v2h5v1h13v-9h7v8h3v-2h7v1h5v1h8v-1h7v1h3v-1h5v-2h7v3h8v-1h5v-1h7v2h8v-1h7v2h3v-2h7v1h13v-1h7v2h3v-2h12v2h3v-2h5v-1h7v3h3v-2h12v1h3v-1h5v-2h7v2h5v1h3v-14h12v1h5v1h5v11h3v-15h7v2h5v3h5v10h8v-1h12v1h5v1h3v-1h12v2h3v-2h5v-2h7v1h5v2h3v-1h15v-1h7v2h5v1h3v-1h5v-1h5v-1h7v2h3v-1h12v1h3v-3h7v4h8v-1h12v2h3v-1h5v-1h10v-2h7v2h3v-1h5v-1h5v-1h10v-1h7v4h3v-1h17v1h3v-2h10v-1h7v1h5v2h3v-2h25v-1h6V1840h-6v-2h-3v3h-7v-2h-8v2h-7v-2h-8v2h-7v-2h-5v-1h-3v4h-12v-3h-3v1h-7v-1h-3v1h-7v-2h-3v1h-10v1h-5v2h-7v-2h-8v3h-7v-3h-3v1h-5v1h-7v-2h-5v-1h-3v2h-12v-1h-5v-1h-3v4h-7v-2h-5v-2h-8v1h-7v-1h-23v4h-7v-2h-5v-2h-8v2h-7v-2h-3v4h-7v-2h-5v-1h-10v-3h-3v4h-7v-1h-8v2h-5v2h-5v1h-7v-5h-3v5h-10v3h-7v-1h-5v-6h-5v-3h-3v2h-7v-1h-3v4h-7v-4h-13v1h-5v1h-7v-1h-3v2h-12v-1h-5v-1h-10v-1h-5v-1h-3v3h-7v-1h-8v3h-7v-2h-5v-1h-5v-1h-20v-1h-3v3h-7v-1h-5v-1h-3v2h-12v-2h-5v-1h-3v3h-7v-1h-13v2h-7v-2h-5v-2h-3v4h-7v-3h-3v2h-7v-1h-5v-1h-10v-1h-3v2h-12v-1h-3v1h-7v-3h-3v5h-7v-3h-3v1h-7v-1h-3v2h-7v-1h-5v-1h-3v1h-10v3h-7v-4h-8v2h-7v-2h-5v-1h-3v3h-7v-2h-3v1h-5v2h-7v-3h-8v1h-12v-1h-3v1h-7v-1h-3v2h-7v-2h-3v1h-5v1h-7v-2h-3v13h-7v-12h-5v-1h-3v3h-7v-2h-13v1h-7v-1h-3v2h-7v-3h-3v1h-7v-1h-15v-1h-8v1h-7v-2h-3v2h-10v2h-7v-1h-5v-1h-8v1h-12v-1h-3v1h-7v-1h-3v1h-15v1h-5v2h-7v-4h-3v1h-5v1h-5v2h-7v-4h-3v2h-7v-1h-5v-2h-8v1h-5v3h-7v-3h-8v2h-7v-2h-8v1h-7v-1h-3v1h-5v1h-7v-1h-5v-1h-8v2h-12v-1h-5v-1h-3v1h-5v1h-7v-1h-15v-2h-3v2h-7v-2h-3v2h-7v-1h-8v1h-5v1h-7v-1h-8v1h-7v-2h-8v1h-5v2h-7v-3h-13v6h-7v-5h-3v8h-7v-8h-3v7h-10v1h-7v-8h-8v2h-7v-2h-5v-2h-3v2h-5v2h-7v-2h-5v-1h-10v-1h-3v9h-7v-7h-13v1h-7v-2h-3v2h-5v2h-7v-2h-5v-1h-5v-2h-8v2h-7v-1h-8v4h-12v-2h-13v3h-7v-2h-5v-1h-5v-1h-5v-1h-8v1h-7v-2h-3v1h-5v1h-7v-1h-3v1h-7v-3h-3v3h-10v1h-7v-1h-10v-1h-3v1h-7v-1h-3v1h-5v2h-7v-2h-8v1h-7v-2h-3v1h-7v-1h-3v1h-7v-1h-3v1h-5v24h-5v3h-5v4h-7v-32h-3v2h-7v-2h-3v1h-20v12h-5v4h-7v-5h-5v-4h-5v-2h-5v-7h-3v1h-12v-1h-8v2h-12v-1h-5v-1h-3v2h-7v-1h-3v1h-7v-1h-3v1h-7v-1h-5v-2h-3v1h-5v1h-10v2h-7v-1h-3v1h-7v-1h-5v-2h-3v1h-5v1h-12v-2h-3v2h-7v-1h-3v2h-7v-1h-5v-1h-5v-1h-3v2h-15v1h-7v-1h-8v1h-12v-1h-3v1h-12v-2h-3v3h-7v-1h-15v-2h-3v1h-5v1h-7v-1h-5v-2h-3v3h-22v-1h-3v1h-12v-2h-3v1h-5v1h-7v-1h-5v-2h-3v3h-7v-1h-5v-1h-13v1h-7v-1h-3v3h-12v-3h-3v1h-20v1h-7v-1h-5v-2h-3v2h-5v3h-7v-2h-5v-2h-8v5h-7v-4h-5v-2h-3v1h-10v2h-7v-1h-8v2h-7v-1h-15v-2h-3v1h-5v1h-7v-1h-5v-1h-5v-1h-3v1h-10v1h-7v-1h-3v1h-7v-1h-3v1h-5v1h-7v-2h-3v1h-7v-2h-3v1h-10v3h-7v-2h-3v1h-7v-2h-8v1h-17v-1h-5v-1h-8v1h-10v2h-10v1h-7v-3h-5v-1h-3v4h-7v-1h-10v-1h-5v-1h-8v2h-7v-1h-3v3h-7v-1h-3v2h-7v-2h-5v-3h-3v1h-17v-2h-3v1h-5v2h-7v-1h-8v1h-7v-3h-3v1h-5v1h-7v-1h-3v1h-10v1h-7v-3h-3v3h-5v1h-7v-1h-5v-1h-5v-1h-3v5h-5v4h-5v1h-5v2h-5v3h-5v1h-5v1h-7v-5h-5v-9h-5v-4h-5v-1h-3v1h-5v2h-10v1h-7v-1h-10v-1h-3v1h-5v2h-5v3h-5v2h-5v6h-5v4h-12v-2h-5v-4h-5v-12h-3v1h-5v2h-7v-2h-5v-1h-13v2h-7v-2h-3v1h-5v1h-7v-2h-18v1h-10v1h-7v-1h-5v-1h-3v1h-7v-1h-3v1h-5v1h-7v-1h-5v-1h-5v-1h-3v3h-17v-1h-5v-1h-3v2h-7v-2h-3v1h-15v2h-7v-1h-5v-1h-10v-1h-8v2h-12v-2h-8v1h-7v-2h-3v4h-7v-3h-3v2h-7v-2h-3v1h-12v-1h-3v1h-10v3h-7v-2h-5v-1h-5v-1h-3v3h-7v-1h-5v-1h-10v-1h-3v1h-5v1h-17v-2h-8v1h-5v5h-7v-5h-5v-1h-10v-1h-8v1h-5v2h-12v-1h-8v1h-7v-1h-3v1h-7v-2h-3v1h-7v-1h-3v1h-7v-1h-3v3h-7v-2h-3v1h-7v-1h-8v1h-7v-1h-5v-2h-3v1h-10v1h-7v-1h-8v1h-5v2h-7v-2h-3v3h-7v-5h-3v1h-5v1h-7v-2h-3v2h-7v-2h-3v1h-5v1h-7v-1h-3v1h-7v-1h-3v1h-12v-1h-3v1h-7v-1h-3v1h-15v1h-7v-2h-3v2h-7v-2h-3v1h-7v-1h-3v1h-7v-1h-3v2h-7v-2h-3v1h-5v5h-7v-5h-8v1h-7v-1h-10v-1h-8v3h-7v-2h-5v-3h-3v4h-7v-1h-15v-1h-3v1h-5v2h-7v-1h-5v-1h-5v-1h-3v1h-5v1h-7v-1h-5v-1h-3v2h-7v-1h-15v-1h-3v1h-7v-2h-3v5h-7v-5h-3v2h-10v1h-12v-1h-5v-2h-3v1h-7v-1h-3v2h-7v-1h-3v1h-5v1h-12v-1h-8v2h-7v-1h-5v-2h-3v2h-10v2h-7v-4h-3v4h-7v-2h-5v-2h-18v2h-7v-1h-8v1h-7v-2h-13v1h-5v2h-12v-1h-3v1h-7v-1h-5v-2h-3v2h-7v-2h-3v2h-7v-2h-3v1h-5v2h-7v-3h-13v1h-5v1h-7v-1h-8v1h-7v-2h-3v1h-5v3h-7v-4h-3v2h-7v-1h-3v1h-5v1h-7v-1h-5v-1h-3v1h-22v-2h-8v1h-7v-1h-5v-1h-3v1h-10v2h-7v-2h-3v1h-7v-2h-3v1h-10v3h-7v-3h-8v2h-12v-1h-3v1h-7v-1h-15v-2h-3v1h-5v3h-7v-1h-5v-1h-5v-1h-3v1h-5v2h-7v-2h-13v2h-7v-4h-3v3h-7v-1h-3v1h-12v-2h-3v2h-10v2h-7v-3h-10v-2h-8v2h-22v-2h-3v1h-10v1h-7v-1h-8v1h-7v-2h-3v2h-7v-1h-3v2h-7v-2h-3v2h-5v2h-7v-3h-10v-1h-3v3h-7v-1h-5v-1h-5v-1h-5v-2h-3v1h-5v2h-7v-1h-5v-1h-3v6h-12v-2h-5v-3h-3v1h-5v1h-12v-2h-3v1h-7v-1h-3v1h-5v1h-7v-2h-3v1h-5v2h-12v-2h-3v2h-7v-1h-5v-3h-3v1h-10v2h-12v-1h-5v-1h-5v-1h-8v1h-5v1h-5v1h-12v-2h-3v1h-12v-1h-3v1h-7v-1h-5v-1h-8v3h-17v-1h-3v2h-7v-1h-5v-2h-3v2h-10v1h-7v-1h-5v-1h-5v-1h-3v1h-5v1h-7v-1h-3v1h-7v-3h-3v1h-12v-1h-3v1h-5v2h-7v-1h-5v-1h-3v2h-7v-1h-10v-1h-3v1h-7v-1h-3v2h-5v1h-7v-1h-10v-3h-8v2h-10v3h-7v-3h-15v-2h-3v3h-7v-2h-8v1h-20v3h-7v-3h-3v1h-7v-1h-8v12h-7v-12h-10v-1h-3v2h-7v-1h-8v1h-7v-1h-5v-1h-13v1h-5v1h-7v-1h-8v1h-7v-1h-5v-1h-8v3h-7v-3h-3v1h-17v-2h-3v1h-10v1h-7v-1h-3v3h-7v-3h-3v1h-7v-1h-3v1h-12v-1h-3v2h-7v-2h-13v1h-5v1h-12v-1h-13v1h-10v1h-7v-1h-5v-2h-13v4h-7v-2h-5v-1h-3v2h-7v-3h-3v1h-7v-2h-3v3h-7v-1h-10v-3h-3v3h-12v-2h-3v1h-15v1h-7v-2h-8v1h-5v1h-5v1h-7v-2h-8v1h-12v-1h-8v2h-12v-2h-10v-1h-3v1h-7v-1h-3v3h-7v-3h-3v1h-15v1h-10v1h-7v-2h-8v1h-7v-1h-3v1h-10v1h-7v-1h-15v-1h-3v2h-7v-2h-3v3h-7v-2h-5v-1h-3v2h-7v-1h-13v1h-17v-3h-3v2h-7v-1h-8v1h-12v-1h-3v2h-12v-2h-3v1h-7v-1h-3v1h-10v3h-7v-2h-5v-1h-5v-1h-3v1h-5v1h-5v1h-7v-2h-3v1h-12v-1h-5v-2h-3v2h-12v-1h-8v1h-12v-2h-3v2h-5v1h-7v-1h-10v-1h-3v1h-12v-1h-8v1h-7v-1h-5v-1h-3v4h-7v-2h-5v-2h-3v2h-5v1h-7v-2h-10v-2h-3v1h-5v2h-5v1h-7v-2h-3v3h-7v-4h-3v3h-7v-1h-8v1h-10v1h-7v-2h-18v2h-7v-2h-10v-1h-8v3h-7v-3h-8v1h-17v-1h-8v1h-7v-2h-3v2h-7v-1h-3v2h-7v-2h-3v3h-7v-1h-5v-1h-3v1h-7v-2h-3v2h-7v-1h-10v-1h-8v1h-5v1h-7v-3h-3v1h-5v4h-7v-3h-8v3h-7v-2h-5v-3h-3v1h-10v3h-7v-2h-3v1h-7v-1h-5v-1h-13v1h-5v2h-7v-3h-3v1h-10v1h-7v-2h-3v1h-7v-1h-3v1h-7v-1h-8v1h-15v2h-7v-2h-3v1h-7v-1h-8v2h-12v-3h-3v1h-12v-2h-3v3h-12v-1h-3v1h-7v-1h-5v-1h-3v1h-5v1h-7v-1h-3v2h-7v-5h-3v2h-5v3h-12v-1h-5v-1h-5v-1h-3v2h-10v1h-7v-1h-5v-2h-3v1h-5v1h-7v-2h-3v1h-12v-1h-3v1h-7v-2h-3v3h-17v-2h-3v1h-5v3h-7v-2h-3v1h-5v1h-7v-3h-13v1h-7v-1h-5v-1h-3v1h-5v1h-7v-1h-8v1h-10v1h-7v-1h-3v2h-7v-1h-5v-1h-5v-1h-3v1h-10v1h-7v-4h-3v3h-7v-1h-5v-1h-3v1h-10v2h-7v-1h-5v-1h-3v1h-7v-1h-10v-1h-3v2h-20v1h-7v-2h-15v-1h-3v1h-5v1h-7v-3h-13v1h-5v1h-7v-1h-8v1h-7v-1h-3v1h-7v-1h-8v3h-7v-4h-3v2h-7v-2h-8v2h-5v1h-10v2h-7v-4h-8v2h-7v-1h-5v-1h-8v2h-7v-2h-13v2h-7v-1h-3v1h-7v-4h-3v3h-7v-2h-3v2h-12v-2h-3v3h-12v-2h-8v1h-5v5h-7v-3h-5v-1h-3v1h-12v-1h-5v-1h-8v1h-7v-2h-3v4h-7v-3h-3v1h-27v-1h-3v7h-7v-5h-5v-4h-3v1h-12v-2h-3v3h-10v1h-7v-1h-15v-1h-8v2h-10v2h-7v-2h-3v1h-7v-2h-3v4h-7v-4h-5v-2h-8v1h-5v1h-7v-1h-10v-1h-3v2h-12v-1h-3v1h-7v-1h-3v3h-7v-2h-5v-2h-3v3h-5v2h-7v-3h-3v2h-7v-1h-15v-3h-8v1h-5v2h-7v-2h-13v2h-12v-3h-3v2h-15v1h-5v1h-7v-3h-8v1h-5v2h-7v-4h-3v1h-10v1h-7v-1h-8v1h-7v-2h-8v1h-5v2h-7v-1h-5v-1h-3v1h-5v1h-7v-2h-13v1h-12v-1h-3v5h-7v-3h-5v-1h-3v2h-7v-2h-3v1h-10v1h-7v-3h-5v-1h-3v1h-10v1h-12v-1h-3v2h-12v-1h-10v-1h-3v2h-5v2h-7v-2h-5v-2h-9Z"/>
<path fill="#ff0000" d="M1152 1896h4v-1h5v-1h7v1h8v-2h7v2h5v1h3v-1h10v-1h10v-1h7v2h10v2h3v-3h5v-7h7v1h5v8h3v-2h5v-1h7v1h3v-2h7v3h3v-2h7v1h5v1h3v-1h10v-1h7v3h3v-2h10v-2h7v3h3v-2h12v2h8v-1h7v1h3v-1h20v-1h7v2h3v-1h5v-1h7v1h3v-1h7v2h8v-6h7v5h3v-1h7v1h10v2h3v-1h5v-2h7v2h3v-1h37v1h5v1h8v-1h10v-3h7v4h8v-2h12v1h3v-1h12v1h8v-1h27v1h5v1h3v-1h7v1h8v-1h5v-1h17v1h3v-1h7v1h23v-1h7v2h8v-3h7v2h5v1h3v-2h5v-2h7v2h5v1h5v1h3v-1h5v-1h7v1h8v-1h12v1h5v1h3v-2h7v2h3v-2h7v1h3v-1h17v2h3v-1h5v-1h5v-1h5v-1h7v3h3v-1h7v1h3v-3h7v3h5v1h8v-1h7v1h13v-1h5v-4h7v2h5v1h18v-1h7v2h3v-1h7v2h3v-3h12v2h3v-1h7v1h3v-2h5v-1h7v4h3v-1h12v2h3v-2h5v-3h7v2h5v1h5v1h3v-2h7v1h3v-1h17v2h3v-1h15v-1h7v1h13v-1h5v-1h7v1h5v1h8v-1h7v1h3v-2h7v1h5v1h3v-2h7v3h3v-2h5v-1h7v3h3v-1h5v-2h12v2h3v-1h7v2h3v-1h5v-1h7v1h8v-2h12v1h5v1h3v-1h7v1h3v-3h7v2h3v-1h7v2h30v1h3v-2h12v2h3v-1h7v1h3v-2h7v1h15v1h3v-2h7v1h8v-3h7v2h5v1h13v-1h5v-1h7v1h3v-2h7v2h13v-1h7v2h5v1h3v-1h15v-1h5v-2h7v2h5v1h3v-1h5v-3h7v5h3v-2h5v-2h7v3h3v-1h7v1h13v-1h7v2h3v-2h7v1h3v-1h12v1h5v1h3v-2h10v-3h7v1h5v1h5v1h8v-2h5v-1h10v-2h7v2h3v-2h7v1h5v2h10v1h3v-1h7v1h10v1h5v1h3v-1h5v-2h7v2h5v1h3v-1h12v1h5v1h3v-1h15v-2h7v1h10v1h3v-1h7v1h10v2h3v-3h7v1h3v-1h7v1h18v-1h7v1h3v-1h20v-1h5v-2h7v1h3v-11h7v3h5v10h3v-1h5v-1h15v-1h7v2h10v2h3v-13h7v3h5v8h5v1h8v-1h5v-3h7v2h8v-1h5v-12h7v4h5v10h3v-1h10v-3h7v4h5v1h5v2h3v-1h12v1h3v-3h10v-3h5v-1h7v5h3v-5h5v-5h7v5h5v2h5v2h3v-8h7v4h5v3h3v-1h7v1h10v3h8v-1h7v1h5v1h3v-2h10v-1h7v1h5v1h3v-1h12v1h10v1h3v-1h10v-1h5v-1h7v3h3v-2h10v-1h7v1h5v1h10v1h3v-3h7v1h5v1h8v-2h7v2h3v-2h7v1h3v-1h7v1h3v-1h7v3h3v-3h7v2h3v-1h7v1h8v-3h7v3h8v-1h5v-1h7v1h3v-1h12v2h8v-1h7v1h8v-2h12v3h3v-1h12v1h3v-1h5v-1h12v2h8v-1h12v1h8v-2h5v-2h7v2h3v-1h7v2h3v-1h5v-2h7v1h5v1h5v1h8v-3h7v1h5v1h3v-1h7v2h5v1h10v1h3v-1h5v-2h15v-2h7v2h8v-1h7v2h3v-2h5v-1h7v2h8v-1h7v1h5v1h3v-2h7v2h3v-1h7v1h18v-1h7v2h3v-3h7v1h5v1h8v-2h7v3h3v-3h7v3h3v-1h12v1h3v-1h5v-1h5v-1h7v2h8v-1h12v2h3v-1h5v-1h5v-1h7v3h3v-2h7v1h8v-3h7v2h5v1h3v-1h7v1h3v-1h22v1h3v-3h7v3h13v-2h7v1h3v-1h5v-1h7v5h3v-2h5v-1h17v1h3v-4h7v3h23v-2h7v2h3v-1h7v1h5v2h3v-2h7v2h3v-2h12v1h3v-2h7v3h3v-1h7v1h3v-1h7v1h3v-2h7v1h5v1h3v-3h7v2h3v-1h7v1h5v1h3v-1h5v-2h7v3h3v-3h7v1h3v-1h12v1h10v1h3v-1h7v1h5v1h3v-1h5v-1h5v-1h5v-1h7v1h5v1h3v-2h7v1h5v2h3v-1h7v1h5v1h8v-2h7v1h3v-1h7v2h3v-3h7v1h10v1h8v-1h12v2h3v-1h10v-1h7v1h3v-1h7v1h10v1h3v-1h5v-1h12v1h8v-2h7v1h10v1h13v-1h7v3h3v-1h12v1h3v-2h10v-1h5v-5h7v6h13v-2h7v1h10v2h3v-1h5v-2h7v2h3v-1h7v2h3v-1h5v-2h5v-1h7v4h3v-2h12v2h5v1h3v-2h7v1h3v-2h12v1h8v-1h7v2h8v-1h5v-1h30v-1h7v3h3v-1h7v1h3v-1h5v-1h7v1h10v1h3v-1h5v-1h7v1h3v-2h7v2h3v-2h7v3h3v-1h5v-2h7v3h5v1h3v-3h7v1h5v1h3v-2h7v1h8v-1h12v1h3v-1h7v1h8v-1h5v-1h12v1h5v1h3v-1h17v1h8v-3h7v2h10v1h3v-1h5v-1h7v3h3v-1h10v-2h7v1h5v1h3v-1h7v2h3v-1h5v-2h7v1h8v-1h7v2h5v1h8v-1h7v1h3v-1h12v1h3v-1h15v-1h7v1h3v-2h7v1h3v-2h7v3h8v-1h5v-1h12v3h8v-2h12v1h10v1h3v-4h7v1h5v1h3v-4h7v2h5v3h5v1h3v-2h5v-1h7v1h15v1h3v-1h10v-1h7v2h3v-1h7v1h3v-1h5v-2h7v3h3v-1h7v2h3v-1h5v-2h7v1h5v1h3v-1h7v1h8v-1h10v-1h7v1h5v2h3v-3h7v3h3v-1h10v-2h7v1h5v1h3v-3h7v2h5v1h10v1h3v-1h10v-2h7v1h10v1h3v-1h7v1h33v-4h7v2h10v3h8v-1h10v-3h7v3h3v-2h7v1h5v1h3v-1h5v-1h7v3h3v-2h7v1h5v1h3v-3h7v2h5v1h8v-3h7v1h3v-1h7v2h3v-1h7v1h8v-2h7v1h15v1h8v-1h7v1h8v-1h12v1h3v-1h7v1h3v-2h7v1h3v-1h12v2h10v1h3v-2h5v-2h7v3h8v-3h12v2h5v1h8v-1h5v-2h7v3h3v-2h17v1h3v-1h5v-2h7v3h10v1h3v-1h5v-2h7v2h5v1h5v1h3v-1h10v-2h7v1h10v3h3v-2h5v-1h22v1h3v-1h7v1h5v1h3v-2h12v1h15v1h3v-1h10v-1h7v1h15v1h13v-2h7v2h3v-2h7v2h3v-3h7v2h3v-1h7v1h15v1h3v-1h22v1h3v-3h7v2h8v-1h7v1h5v1h3v-2h7v1h8v-3h7v2h5v2h3v-3h7v2h8v-1h7v1h15v1h8v-1h7v1h3v-1h5v-1h5v-1h7v2h18v-1h15v-1h7v1h5v2h5v1h3v-2h15v-1h17v2h8v-1h5v-1h5v-1h7v4h3v-3h5v-1h7v2h3v-1h5v-1h7v2h3v-2h7v1h10v1h3v-3h7v2h5v1h3v-1h7v1h3v-1h5v-3h7v3h5v1h3v-1h12v2h3v-1h17v1h3v-2h10v-1h7v1h10v1h3v-3h7v3h5v1h3v-1h7v1h3v-1h10v-3h7v3h8v-1h12v1h3v-2h7v2h3v-1h7v2h3v-1h7v1h3v-2h5v-2h7v2h3v-1h7v3h3v-2h22v2h3v-2h12v1h3v-1h7v1h8v-3h7v1h5v3h3v-2h7v2h3v-2h7v2h3v-1h10v-1h7v1h10v1h3v-1h12v1h3v-1h20v-1h7v1h3v-1h7v1h8v-2h7v2h5v1h8v-2h5v-2h7v1h15v3h3v-1h5v-3h7v3h5v1h3v-1h15v-2h7v1h5v1h8v-1h7v2h3v-2h7v3h3v-2h12v1h3v-2h7v2h5v1h3v-1h5v-2h7v2h3v-1h17v1h3v-2h10v-1h7v3h3v-4h7v1h10v2h5v1h3v-2h7v1h3v-1h7v1h8v-1h12v1h5v1h5v1h3v-2h15v-1h5v-2h7v2h3v-1h7v2h3v-1h5v-3h7v4h5v2h3v-2h5v-2h7v2h5v1h3v-1h5v-3h7v1h5v2h3v-1h7v2h3v-2h5v-1h7v2h3v-2h7v3h8v-2h12v1h5v1h3v-1h5v-1h7v3h3v-3h7v1h5v1h8v-1h5v-2h17v3h3v-2h7v2h3v-1h5v-2h7v2h3v-1h15v-1h7v3h3v-1h10v-1h7v2h3v-1h17v1h3v-2h5v-1h7v2h3v-2h12v1h10v1h10v1h3v-1h10v-2h7v1h5v1h18v-3h7v2h5v1h20v1h3v-1h5v-4h7v4h3v-1h5v-1h7v2h3v-1h5v-1h7v2h28v-2h22v1h5v1h8v-2h17v2h5v1h3v-2h7v1h5v1h3v-3h7v2h3v-1h7v2h5v1h3v-2h17v1h3v-1h7v1h8v-1h17v1h3v-1h12v1h3v-1h7v1h3v-2h7v1h5v1h3v-3h7v2h3v-1h7v2h3v-1h10v-1h5v-1h7v2h3v-1h12v1h3v-1h12v1h3v-2h12v1h3v-1h7v1h15v1h3v-1h7v1h3v-1h5v-1h7v1h5v1h18v-2h7v2h3v-1h7v2h3v-2h5v-1h7v3h3v-1h10v-1h7v1h3v-2h7v1h5v1h5v1h3v-1h5v-1h7v1h3v-1h5v-1h7v1h5v1h3v-1h12v1h8v-1h10v-2h7v4h3v-2h7v1h28v-1h7v3h3v-1h15v-1h5v-1h15v-2h7v1h10v1h10v1h3v-2h7v2h5v1h3v-1h12v1h3v-1h7v1h3v-3h7v2h3v-1h5v-1h7v2h5v1h10v1h3v-4h7v1h10v1h3v-1h7v1h3v-2h7v2h15v1h3v-2h7v1h3v-1h7v1h3v-1h5v-1h7v2h3v-1h12v1h3v-2h12v3h3v-3h7v1h3v-1h22v1h5v1h13v-2h7v1h5v1h15v1h3v-2h7v1h8v-1h7v1h10v1h3v-1h15v-2h7v1h5v2h3v-2h10v-1h7v4h3v-4h7v1h3v-2h7v4h3v-1h5v-1h6V1908h-4v2h-7v-1h-5v-1h-5v-1h-3v3h-7v-2h-5v-1h-3v1h-22v-1h-3v2h-7v-1h-10v-1h-3v3h-7v-3h-3v1h-5v1h-12v-1h-25v-1h-13v3h-7v-2h-5v-1h-3v3h-7v-3h-5v-1h-3v2h-7v-1h-3v1h-5v1h-27v-1h-5v-2h-3v2h-5v1h-7v-1h-5v-2h-3v2h-15v1h-5v1h-5v1h-12v-2h-5v-2h-3v3h-7v-1h-5v-2h-8v3h-7v-1h-5v-1h-13v1h-7v-1h-15v-1h-3v2h-15v1h-7v-1h-5v-1h-8v2h-7v-3h-8v1h-7v-1h-3v3h-12v-1h-5v-1h-3v2h-17v-1h-3v1h-7v-1h-3v2h-7v-2h-3v1h-7v-2h-3v1h-5v1h-7v-2h-8v1h-7v-3h-3v2h-5v1h-7v-1h-10v-1h-3v2h-7v-3h-3v1h-10v1h-10v1h-12v-2h-3v2h-12v-2h-3v7h-7v-6h-15v-1h-3v2h-12v-1h-8v1h-7v-2h-3v1h-10v1h-7v-2h-8v1h-15v1h-7v-2h-8v2h-7v-1h-5v-1h-5v-1h-3v2h-5v1h-12v-1h-5v-1h-3v1h-10v1h-12v-1h-8v1h-12v-1h-5v-1h-8v1h-17v-1h-3v2h-7v-1h-8v1h-10v1h-10v1h-7v-2h-5v-1h-8v1h-7v-1h-8v1h-7v-1h-5v-1h-3v1h-5v1h-7v-1h-5v-1h-3v1h-5v1h-17v-1h-8v1h-7v-1h-3v1h-7v-1h-5v-2h-8v1h-5v2h-12v-1h-5v-1h-3v4h-7v-4h-3v1h-17v-2h-3v1h-5v1h-5v1h-17v-1h-3v1h-7v-1h-5v-1h-3v1h-7v-1h-3v2h-7v-2h-3v1h-5v1h-7v-1h-15v-1h-3v2h-12v-1h-3v1h-12v-2h-8v1h-10v1h-7v-1h-3v2h-7v-2h-8v1h-7v-2h-3v1h-5v3h-7v-1h-5v-2h-15v-1h-3v1h-15v1h-7v-2h-3v2h-7v-2h-3v1h-5v1h-7v-1h-3v2h-12v-2h-8v2h-5v2h-7v-3h-10v-2h-3v1h-12v-1h-15v-1h-8v3h-10v2h-7v-2h-15v-1h-8v1h-7v-1h-13v1h-7v-2h-3v2h-12v-2h-10v-1h-3v1h-10v2h-10v1h-7v-2h-3v3h-7v-3h-10v-1h-8v2h-22v-1h-13v1h-10v1h-7v-1h-10v-1h-3v1h-7v-1h-8v2h-7v-1h-3v1h-7v-2h-13v2h-12v-1h-15v-1h-3v3h-7v-2h-3v1h-5v1h-7v-3h-5v-1h-3v1h-7v-1h-8v1h-5v3h-7v-2h-10v-1h-15v-1h-8v1h-5v2h-12v-1h-5v-2h-3v1h-10v1h-7v-1h-8v3h-7v-4h-3v1h-5v2h-5v1h-7v-4h-3v2h-7v-2h-8v2h-7v-1h-3v1h-5v1h-7v-1h-5v-2h-3v1h-5v1h-12v-1h-10v-1h-8v2h-7v-2h-8v1h-17v-2h-3v1h-5v2h-7v-1h-5v-1h-3v1h-10v1h-10v1h-7v-2h-18v1h-7v-1h-8v1h-7v-1h-3v1h-12v-1h-3v1h-7v-1h-5v-1h-3v1h-12v-1h-3v1h-10v1h-7v-3h-3v1h-5v1h-5v1h-12v-1h-8v2h-7v-2h-5v-2h-3v3h-7v-2h-8v3h-7v-2h-10v-1h-3v2h-7v-1h-5v-2h-8v2h-10v1h-5v1h-7v-2h-3v1h-5v2h-7v-2h-5v-1h-3v3h-7v-4h-3v4h-7v-3h-5v-1h-3v2h-5v1h-7v-1h-13v1h-12v-2h-10v-1h-3v3h-7v-1h-8v1h-7v-2h-5v-1h-13v2h-7v-1h-3v3h-7v-2h-15v-2h-3v2h-5v2h-7v-1h-5v-1h-10v-1h-5v-1h-3v1h-17v-1h-3v4h-7v-3h-13v1h-7v-1h-3v1h-7v-1h-3v3h-7v-2h-5v-1h-15v-1h-3v1h-10v1h-7v-1h-3v1h-5v1h-7v-3h-3v1h-5v2h-7v-1h-5v-1h-15v-1h-3v2h-12v-1h-3v1h-7v-1h-15v-1h-3v2h-7v-1h-13v1h-7v-1h-5v-2h-3v3h-5v1h-7v-1h-10v-2h-3v2h-7v-1h-10v-1h-3v2h-7v-2h-3v2h-7v-2h-3v3h-7v-2h-5v-1h-3v1h-7v-2h-3v1h-10v1h-5v2h-7v-3h-3v1h-15v1h-7v-2h-5v-1h-3v1h-5v3h-7v-1h-5v-3h-3v3h-7v-1h-5v-1h-3v1h-10v1h-12v-2h-3v1h-5v1h-22v-2h-3v1h-7v-1h-3v1h-10v1h-7v-1h-13v1h-7v-1h-3v2h-7v-2h-10v-1h-3v1h-10v2h-7v-1h-5v-1h-3v1h-7v-1h-8v1h-7v-1h-3v2h-7v-3h-18v2h-12v-1h-13v1h-7v-2h-3v1h-25v1h-7v-1h-10v-1h-8v2h-7v-1h-3v3h-5v1h-7v-3h-5v-1h-5v-2h-3v3h-7v-2h-10v-2h-3v3h-12v-1h-3v1h-7v-1h-3v2h-5v2h-7v-1h-5v-1h-5v-1h-13v2h-7v-1h-5v-1h-5v-2h-3v2h-15v1h-7v-1h-13v1h-7v-1h-5v-1h-3v1h-12v-1h-3v2h-5v2h-7v-2h-5v-2h-3v1h-22v-2h-8v2h-7v-2h-3v1h-5v1h-5v1h-7v-1h-5v-1h-3v2h-10v1h-7v-1h-5v-1h-13v3h-7v-1h-5v-2h-3v1h-7v-1h-3v1h-7v-1h-3v1h-5v1h-7v-2h-3v2h-7v-1h-5v-2h-3v1h-5v1h-5v1h-7v-1h-5v-1h-3v1h-12v-2h-3v2h-5v2h-7v-2h-5v-1h-3v3h-7v-2h-5v-1h-5v-1h-3v1h-5v1h-7v-1h-15v-1h-3v1h-10v1h-17v-1h-10v-1h-3v6h-7v-7h-3v3h-5v1h-7v-2h-5v-1h-18v2h-7v-2h-3v2h-15v2h-7v-3h-3v1h-5v2h-7v-3h-3v1h-7v-1h-5v-1h-3v5h-7v-4h-3v3h-7v-2h-3v1h-7v-1h-5v-2h-3v1h-17v-1h-3v2h-10v2h-7v-3h-13v1h-7v-1h-8v1h-17v-2h-3v2h-5v1h-7v-1h-5v-2h-3v1h-5v1h-7v-1h-3v1h-7v-1h-10v-1h-3v1h-10v1h-7v-1h-5v-1h-3v1h-12v-1h-3v3h-7v-3h-8v1h-12v-1h-3v1h-10v4h-7v-3h-13v3h-7v-2h-5v-2h-5v-1h-3v1h-10v1h-7v-1h-5v-1h-3v2h-12v-2h-3v2h-5v1h-7v-2h-18v2h-7v-2h-8v4h-7v-4h-3v2h-12v-2h-3v1h-7v-1h-5v-1h-13v2h-7v-1h-3v2h-7v-1h-5v-1h-3v2h-7v-2h-3v4h-7v-4h-8v3h-7v-3h-5v-1h-5v-1h-3v3h-10v1h-7v-2h-8v2h-7v-3h-3v1h-7v-1h-3v1h-7v-1h-3v3h-12v-2h-3v1h-7v-1h-3v1h-7v-1h-5v-1h-3v1h-5v1h-10v1h-7v-1h-8v1h-5v1h-7v-3h-3v2h-7v-1h-5v-2h-3v1h-10v1h-5v1h-7v-1h-10v-1h-10v-1h-8v3h-7v-3h-18v2h-7v-1h-5v-1h-3v1h-5v1h-7v-3h-8v5h-7v-5h-3v2h-12v-2h-3v1h-5v1h-22v-1h-3v1h-7v-1h-3v2h-5v1h-7v-2h-3v1h-5v1h-7v-3h-3v1h-10v1h-7v-1h-5v-1h-3v2h-7v-2h-8v1h-7v-1h-3v1h-7v-1h-3v3h-7v-2h-3v2h-5v1h-7v-2h-10v-1h-15v-1h-3v2h-7v-1h-5v-2h-3v4h-7v-1h-8v1h-7v-3h-18v2h-7v-1h-5v-1h-3v2h-12v-1h-3v1h-7v-2h-3v2h-7v-1h-13v1h-10v1h-12v-2h-8v1h-7v-1h-15v-1h-3v3h-7v-2h-10v-1h-5v-1h-3v1h-10v1h-5v1h-7v-1h-3v1h-7v-1h-8v1h-12v-1h-10v-1h-3v3h-7v-2h-3v2h-7v-3h-3v2h-7v-2h-3v1h-5v1h-12v-1h-3v3h-7v-3h-3v1h-7v-3h-8v1h-5v1h-5v2h-7v-2h-3v1h-7v-2h-3v1h-5v1h-7v-1h-3v2h-7v-1h-5v-1h-10v-1h-8v1h-7v-2h-3v2h-20v1h-7v-2h-3v2h-17v-2h-3v1h-12v-1h-8v1h-10v2h-7v-1h-15v-1h-10v-2h-3v2h-7v-1h-8v1h-10v1h-5v1h-7v-1h-3v1h-7v-2h-5v-1h-3v3h-5v2h-5v3h-7v-2h-3v3h-5v1h-7v-2h-3v1h-5v1h-7v-5h-5v-1h-3v1h-5v1h-7v-2h-10v-2h-15v-1h-3v1h-12v-1h-3v4h-7v-2h-3v3h-12v-1h-5v-1h-8v4h-7v-4h-5v-1h-3v2h-7v-1h-3v3h-5v9h-5v5h-7v-13h-5v-5h-8v2h-7v-2h-3v1h-5v2h-7v-2h-3v1h-7v-1h-3v1h-7v-3h-3v3h-7v-1h-5v-1h-5v-2h-8v1h-7v-2h-3v1h-7v-2h-3v1h-5v1h-5v3h-7v-3h-5v-1h-3v2h-12v-1h-3v1h-12v-2h-18v1h-15v1h-5v1h-7v-3h-3v2h-7v-2h-3v1h-5v2h-12v-1h-5v-2h-3v2h-10v2h-7v-1h-3v1h-7v-2h-8v2h-7v-1h-3v2h-7v-1h-3v5h-7v-6h-3v2h-17v-1h-5v-1h-5v-1h-10v-1h-8v1h-7v-2h-3v1h-10v2h-7v-2h-13v1h-7v-2h-3v1h-5v1h-7v-2h-3v2h-5v2h-7v-3h-15v-1h-3v2h-7v-1h-3v3h-7v-3h-3v1h-7v-2h-3v1h-5v1h-7v-1h-3v2h-7v-3h-5v-1h-3v1h-5v1h-22v-1h-8v2h-12v-2h-3v2h-7v-1h-3v1h-5v1h-7v-1h-5v-1h-3v1h-10v2h-7v-2h-5v-2h-13v1h-27v-2h-3v1h-10v2h-7v-2h-3v2h-10v1h-7v-2h-3v1h-7v-2h-3v1h-5v1h-5v1h-7v-2h-5v-1h-3v1h-5v1h-7v-1h-5v-1h-3v2h-7v-2h-3v1h-17v-1h-3v2h-7v-2h-3v1h-5v2h-7v-3h-18v1h-5v2h-7v-2h-15v-2h-3v4h-7v-2h-3v1h-5v1h-7v-2h-5v-1h-3v1h-12v-1h-8v2h-7v-1h-8v1h-10v2h-7v-4h-3v2h-12v-2h-3v1h-7v-1h-18v2h-7v-2h-3v1h-7v-2h-8v2h-10v1h-5v2h-17v-2h-3v1h-12v-1h-10v-2h-3v1h-5v1h-7v-1h-13v1h-12v-1h-13v1h-15v1h-7v-1h-5v-1h-10v-1h-3v2h-7v-1h-3v1h-7v-1h-5v-1h-3v3h-12v-2h-13v1h-7v-1h-3v1h-10v2h-7v-4h-18v2h-10v1h-7v-2h-10v-1h-3v2h-7v-1h-8v2h-7v-2h-10v-1h-3v1h-7v-1h-8v3h-7v-1h-10v-1h-10v-1h-13v1h-15v1h-7v-1h-3v1h-7v-1h-3v1h-5v1h-7v-1h-10v-2h-3v2h-12v-1h-5v-1h-13v3h-7v-2h-5v-2h-3v2h-5v2h-5v9h-7v-11h-5v-1h-3v1h-7v-1h-3v2h-7v-1h-10v-2h-3v1h-5v1h-7v-2h-3v1h-12v-1h-3v3h-7v-1h-8v2h-7v-1h-5v-2h-3v2h-7v-1h-3v1h-7v-2h-8v1h-5v1h-7v-1h-15v-1h-8v1h-15v12h-5v2h-7v-12h-5v-2h-5v-1h-3v1h-12v-1h-3v1h-7v-1h-13v2h-7v-1h-5v-1h-3v3h-7v-3h-3v2h-7v-1h-4Z"/>
<path fill="#0000ff" d="M1152 1963h6v1h5v2h3v-2h7v1h8v-1h7v2h3v-1h17v1h8v-3h5v-1h12v2h5v1h3v-1h7v2h3v-1h5v-1h7v1h3v-1h12v1h13v-1h17v2h3v-1h5v-2h7v1h10v1h15v1h3v-2h7v1h3v-1h7v1h23v-1h7v1h8v-2h7v2h3v-1h10v-4h7v4h5v2h3v-1h10v-1h5v-1h12v2h3v-1h7v2h3v-2h7v1h3v-2h12v2h25v1h3v-1h7v1h3v-2h5v-1h7v1h3v-1h7v1h5v1h18v-2h7v3h3v-2h7v1h8v-1h7v1h3v-3h7v3h8v-1h7v2h3v-3h7v2h3v-1h5v-1h5v-2h7v4h3v-1h12v1h3v-1h7v1h8v-2h7v2h3v-1h7v1h3v-3h7v3h8v-1h12v1h3v-1h12v1h3v-1h7v1h3v-3h7v1h5v1h8v-1h7v2h8v-2h7v2h3v-2h7v1h15v3h3v-1h5v-2h7v1h3v-1h12v2h3v-1h5v-1h27v1h8v-1h10v-1h7v2h8v-1h12v1h3v-2h7v2h5v1h3v-1h10v-2h7v1h10v1h13v-1h12v2h5v1h3v-3h7v2h3v-2h10v-1h7v2h3v-1h7v2h3v-2h5v-1h5v-1h7v2h8v-2h7v3h8v-3h7v3h3v-1h22v2h13v-3h7v2h5v1h3v-1h5v-1h7v1h8v-2h7v1h5v1h5v1h3v-1h5v-1h5v-1h5v-1h7v3h3v-1h12v1h15v2h3v-2h5v-2h7v1h5v2h3v-3h7v1h5v2h3v-1h5v-1h12v1h3v-1h7v1h5v1h3v-1h30v-1h7v2h3v-1h7v1h3v-1h5v-1h7v2h3v-3h5v-2h7v4h8v-3h12v2h8v-1h7v1h10v1h8v-2h7v1h10v2h3v-5h7v3h3v-1h7v1h13v-1h7v4h3v-3h7v2h8v-2h5v-1h7v1h10v1h8v-2h7v3h3v-1h5v-1h7v1h3v-1h7v1h18v-1h7v1h3v-1h7v1h3v-1h5v-1h7v2h8v-1h10v-1h7v1h5v1h5v1h3v-2h10v-1h7v2h8v-1h7v1h3v-1h7v1h5v1h3v-3h7v2h5v1h3v-1h15v-3h7v2h13v-2h7v1h5v2h8v-1h7v1h8v-1h17v1h13v-1h10v-1h7v2h3v-2h7v1h10v1h5v1h3v-1h5v-2h7v2h8v-2h7v1h5v1h3v-2h12v2h10v1h8v-1h5v-2h12v1h3v-1h7v2h8v-3h7v4h3v-2h7v3h3v-1h10v-2h5v-2h7v3h8v-1h12v1h8v-1h7v1h5v1h3v-3h12v2h5v1h3v-1h5v-1h17v1h8v-1h7v1h3v-1h5v-1h17v2h3v-2h7v2h13v-2h7v3h3v-2h7v2h5v1h3v-3h7v1h10v1h3v-2h12v2h3v-1h10v-1h7v1h3v-2h7v1h5v2h3v-2h12v1h3v-2h12v2h8v-3h5v-1h7v5h3v-3h7v1h15v1h13v-1h12v1h13v-1h7v1h3v-1h5v-2h7v1h5v1h23v-1h7v2h3v-3h7v3h3v-1h17v2h8v-1h15v-1h15v-1h12v1h5v1h3v-1h5v-1h7v3h3v-2h7v1h5v1h3v-1h7v1h3v-1h12v1h3v-2h7v1h3v-1h12v1h5v2h3v-2h7v1h3v-2h7v1h3v-1h12v1h3v-1h7v1h3v-1h5v-1h7v1h10v1h3v-1h10v-1h7v1h5v1h3v-1h12v1h5v1h3v-1h12v1h3v-2h7v1h8v-2h7v1h5v1h8v-2h7v2h3v-1h5v-2h7v2h5v1h18v-1h5v-1h7v1h5v2h3v-2h7v2h8v-1h15v-2h7v3h8v-3h12v3h3v-1h5v-1h12v2h8v-1h7v1h3v-1h7v1h3v-3h7v2h8v-1h22v1h3v-1h5v-1h10v-1h7v3h8v-2h7v1h5v2h3v-5h7v4h3v-1h7v2h3v-2h12v1h3v-1h12v1h3v-1h7v2h3v-3h7v1h5v1h3v-1h10v-1h12v1h10v1h3v-2h7v1h5v2h3v-2h17v1h3v-3h5v-1h7v1h3v-4h7v5h3v-1h10v-2h5v-1h7v1h3v-2h7v4h3v-3h7v1h3v-2h7v3h3v-1h5v-4h7v6h3v-2h5v-2h12v3h3v-1h5v-2h5v-1h7v1h3v-1h12v5h8v-3h5v-4h7v6h5v3h8v-1h17v1h5v2h3v-1h10v-1h7v2h8v-3h7v1h10v2h3v-1h10v-2h7v1h3v-1h7v1h15v1h10v1h3v-3h15v-1h7v2h13v-1h7v2h5v1h3v-3h7v3h3v-1h5v-1h10v-2h7v2h10v2h3v-2h7v1h3v-1h10v-3h7v3h20v1h5v1h3v-1h12v1h3v-1h5v-2h7v1h10v2h3v-1h10v-1h7v1h3v-1h7v1h8v-2h7v1h5v1h3v-1h7v1h3v-1h7v2h8v-2h7v1h5v1h3v-2h7v1h10v1h3v-4h7v2h5v1h3v-1h7v1h3v-1h5v-2h7v2h3v-1h7v1h5v1h18v-1h12v1h3v-1h7v1h3v-2h5v-1h7v1h5v1h3v-2h7v1h10v1h5v1h3v-1h7v1h3v-1h7v1h3v-1h5v-1h7v2h8v-1h12v1h3v-1h17v1h3v-2h7v2h5v1h3v-1h5v-1h5v-2h7v2h8v-2h7v1h10v2h3v-1h5v-2h7v4h13v-1h5v-2h7v1h3v-1h7v2h18v-4h7v4h5v1h3v-1h5v-1h5v-1h7v1h8v-1h7v2h3v-3h7v3h3v-1h12v1h3v-1h7v1h5v1h3v-3h7v1h3v-1h7v3h3v-1h5v-1h12v2h3v-1h10v-2h7v2h3v-4h7v4h5v1h3v-1h10v-1h5v-1h7v2h3v-3h7v2h5v1h8v-1h7v1h3v-3h7v2h5v3h3v-2h15v-1h7v1h8v-2h7v1h5v3h3v-3h12v1h3v-1h7v1h8v-1h5v-2h7v2h5v1h3v-1h12v1h8v-1h5v-1h7v1h8v-1h7v1h10v1h3v-3h7v2h5v1h13v-1h5v-2h7v1h5v1h10v1h3v-1h7v2h8v-3h12v1h8v-1h12v3h3v-1h7v1h3v-2h12v1h8v-1h7v1h3v-3h7v2h3v-1h12v1h5v1h8v-1h7v1h3v-2h7v1h5v2h3v-1h5v-3h12v1h5v3h3v-2h7v1h8v-1h7v1h3v-1h7v1h5v1h3v-2h7v1h15v1h3v-2h5v-2h7v2h5v2h3v-3h7v1h10v1h3v-1h7v1h8v-1h7v1h3v-2h7v2h8v-2h7v2h3v-1h12v1h13v-1h7v1h8v-1h5v-1h7v3h3v-3h12v1h5v2h3v-2h7v1h15v1h8v-2h7v1h8v-1h7v1h15v1h3v-2h12v1h13v-1h5v-1h7v1h3v-2h7v3h3v-1h10v-1h7v2h3v-2h5v-1h7v2h8v-1h5v-1h7v3h20v1h3v-2h7v3h3v-1h5v-1h10v-1h7v2h3v-3h5v-1h7v3h13v-1h10v-1h7v2h3v-2h7v2h3v-1h25v-1h7v2h5v2h3v-2h5v-1h7v1h3v-2h7v1h3v-2h7v2h10v2h3v-2h7v2h8v-2h7v1h28v-2h7v1h10v2h3v-3h7v1h3v-1h7v1h3v-1h7v1h3v-1h7v1h5v1h3v-3h7v3h3v-1h15v-1h7v2h3v-2h7v3h3v-1h7v1h3v-2h5v-1h10v-1h7v2h8v-1h7v1h10v1h3v-1h10v-1h7v2h33v-2h7v2h3v-1h7v1h3v-1h5v-1h5v-2h7v4h18v-2h7v1h10v1h8v-1h12v1h18v-2h7v1h5v1h3v-1h7v1h3v-1h7v1h3v-1h7v1h3v-1h7v1h3v-1h7v1h3v-1h12v1h3v-1h17v1h5v1h3v-3h7v2h13v-1h7v1h3v-1h7v1h3v-2h7v1h5v2h8v-2h12v1h3v-1h5v-1h7v2h20v1h3v-3h7v1h5v1h10v2h3v-3h5v-1h7v2h3v-4h7v5h3v-1h7v2h3v-2h5v-2h7v2h3v-3h7v1h5v3h3v-1h10v-1h5v-1h5v-1h7v2h15v2h3v-1h5v-3h7v3h13v-2h7v1h3v-1h7v1h3v-4h7v4h10v1h8v-2h10v-1h7v5h3v-3h5v-1h7v1h5v1h8v-2h7v1h15v1h5v1h3v-2h10v-1h7v1h5v1h13v-1h5v-2h7v3h5v1h3v-3h7v1h5v1h8v-1h5v-2h7v1h5v1h20v1h10v1h3v-1h10v-2h7v2h23v-1h5v-2h7v3h8v-1h22v2h3v-2h12v1h3v-1h7v1h3v-1h5v-1h7v1h5v1h8v-3h7v2h5v2h3v-1h7v1h3v-1h15v-1h17v1h5v1h3v-1h5v-1h17v2h3v-1h5v-2h12v1h30v1h5v1h8v-3h7v1h8v-2h7v3h8v-1h7v1h3v-1h7v1h8v-1h12v2h3v-2h7v2h3v-1h5v-2h7v2h3v-1h12v1h5v1h3v-1h5v-1h7v1h3v-2h7v1h15v1h28v-2h7v2h5v1h3v-2h7v1h3v-1h7v1h10v2h3v-3h7v1h3v-1h5v-1h12v1h8v-2h7v4h3v-1h5v-3h7v4h3v-1h5v-1h5v-1h7v1h10v1h3v-2h7v1h5v1h5v1h3v-2h12v2h3v-2h10v-1h7v2h23v-6h7v6h3v-1h7v2h3v-1h12v1h3v-3h7v2h3v-2h7v2h5v1h3v-1h12v1h3v-1h12v1h3v-2h7v1h3v-1h10v-2h7v2h5v1h8v-1h10v-1h7v1h5v1h15v1h3v-2h5v-1h7v2h5v1h3v-3h7v2h10v1h3v-2h7v1h3v-1h7v3h3v-1h5v-2h12v2h3v-4h7v2h5v1h8v-1h12v1h3v-1h7v1h5v1h3v-4h7v2h15v2h3v-1h25v-1h12v1h3v-1h7v2h3v-3h5v-1h7v3h3v-2h7v2h3v-1h7v1h3v-1h6V1980h-6v-2h-5v-1h-3v1h-5v1h-7v-2h-3v2h-7v-2h-8v3h-7v-2h-5v-1h-3v1h-5v1h-7v-2h-8v1h-5v1h-5v1h-7v-2h-13v1h-7v-1h-13v1h-5v1h-7v-1h-3v1h-7v-1h-10v-2h-3v1h-15v1h-5v2h-7v-1h-5v-2h-3v3h-7v-2h-3v1h-7v-2h-5v-1h-3v1h-20v1h-7v-1h-3v1h-7v-3h-3v2h-7v-1h-3v2h-17v-2h-5v-1h-3v2h-7v-1h-13v1h-5v1h-12v-1h-3v1h-7v-1h-15v-1h-3v2h-7v-1h-18v2h-7v-2h-13v2h-7v-1h-5v-2h-3v2h-12v-1h-3v2h-7v-4h-3v1h-5v1h-10v1h-5v1h-12v-2h-5v-1h-3v1h-5v1h-7v-1h-5v-1h-8v1h-5v3h-7v-3h-3v1h-15v1h-7v-1h-5v-1h-5v-1h-8v1h-10v1h-12v-1h-3v1h-12v-1h-3v1h-17v-2h-5v-1h-8v2h-5v1h-5v2h-7v-3h-10v-1h-13v2h-12v-1h-3v2h-7v-3h-3v3h-7v-2h-3v1h-7v-1h-5v-1h-3v1h-10v1h-22v-1h-5v-2h-8v1h-5v1h-5v4h-7v-2h-5v-2h-3v1h-7v-1h-3v1h-7v-1h-5v-1h-10v-1h-3v2h-5v1h-7v-1h-5v-1h-3v2h-7v-1h-5v-2h-3v3h-7v-1h-5v-1h-3v3h-7v-1h-10v-1h-18v2h-7v-2h-3v1h-5v1h-7v-1h-5v-2h-8v3h-7v-2h-5v-2h-3v1h-10v1h-22v-1h-3v1h-12v-1h-3v1h-10v1h-5v1h-7v-3h-5v-1h-3v3h-7v-1h-15v-1h-3v1h-5v2h-7v-1h-5v-1h-3v1h-7v-2h-10v-1h-3v3h-12v-1h-10v-1h-3v2h-7v-1h-5v-1h-8v2h-7v-1h-3v4h-7v-4h-5v-1h-3v2h-7v-1h-5v-1h-3v1h-20v1h-12v-2h-8v1h-10v1h-22v-1h-8v1h-7v-1h-8v2h-7v-4h-3v2h-7v-2h-13v2h-7v-2h-3v4h-17v-1h-3v2h-7v-2h-5v-1h-3v1h-7v-1h-5v-1h-8v1h-10v1h-12v-1h-5v-1h-3v1h-10v2h-12v-1h-10v-1h-3v1h-7v-1h-5v-1h-3v3h-7v-3h-3v2h-7v-2h-3v2h-12v-1h-15v-1h-10v-1h-3v3h-7v-2h-3v2h-5v1h-7v-1h-5v-2h-3v1h-7v-1h-3v1h-12v-1h-3v1h-17v-1h-3v2h-17v-1h-3v1h-7v-1h-10v-1h-3v2h-7v-2h-3v1h-15v3h-7v-2h-5v-1h-30v-1h-3v1h-15v1h-7v-1h-10v-1h-3v3h-7v-3h-3v1h-5v1h-7v-1h-15v-2h-13v2h-17v-1h-13v1h-5v1h-7v-2h-8v1h-5v1h-12v-1h-5v-1h-3v1h-5v1h-7v-1h-5v-1h-18v1h-5v1h-5v1h-12v-3h-3v1h-5v1h-7v-1h-5v-2h-3v2h-5v1h-5v1h-7v-3h-3v1h-5v1h-7v-1h-13v1h-7v-1h-5v-2h-3v3h-7v-1h-8v1h-7v-3h-3v4h-7v-1h-5v-1h-3v1h-10v1h-7v-2h-3v1h-22v-1h-5v-1h-3v1h-7v-2h-3v4h-7v-2h-10v-1h-3v2h-7v-1h-3v1h-7v-2h-3v1h-7v-1h-5v-1h-3v5h-7v-3h-3v1h-7v-1h-3v2h-7v-3h-3v1h-7v-1h-3v1h-27v-1h-3v2h-10v1h-7v-2h-3v1h-7v-1h-3v1h-17v-1h-5v-1h-10v-1h-3v4h-7v-3h-8v1h-12v-2h-3v2h-7v-1h-5v-1h-3v1h-10v1h-10v3h-7v-3h-8v3h-7v-3h-3v1h-12v-1h-3v1h-7v-2h-3v2h-17v-1h-3v1h-5v1h-7v-3h-3v1h-5v2h-7v-1h-3v1h-7v-2h-3v2h-12v-2h-3v1h-12v-2h-13v2h-7v-1h-5v-1h-3v3h-12v-2h-3v2h-7v-3h-8v1h-15v1h-17v-2h-18v1h-10v1h-5v1h-7v-3h-3v1h-7v-1h-3v1h-10v1h-7v-1h-18v1h-7v-1h-10v-1h-3v1h-5v1h-22v-2h-8v2h-12v-3h-3v3h-7v-1h-5v-1h-3v2h-7v-1h-5v-1h-3v3h-7v-3h-8v1h-10v1h-7v-2h-3v2h-7v-2h-3v1h-7v-2h-3v2h-10v1h-5v3h-7v-3h-5v-2h-3v1h-12v-1h-3v1h-7v-1h-8v1h-10v2h-7v-1h-5v-2h-3v1h-10v1h-7v-2h-13v2h-5v1h-7v-3h-8v2h-7v-1h-10v-2h-8v1h-5v3h-7v-3h-13v1h-5v2h-7v-2h-8v2h-7v-3h-18v1h-5v1h-10v1h-7v-1h-5v-1h-3v1h-7v-1h-8v1h-12v-1h-3v2h-7v-1h-5v-1h-3v1h-5v1h-7v-3h-3v1h-7v-1h-3v1h-5v1h-7v-1h-3v1h-7v-1h-10v-1h-8v1h-10v1h-7v-2h-3v1h-7v-1h-8v1h-10v2h-7v-2h-5v-1h-3v2h-7v-2h-3v1h-5v1h-5v1h-7v-2h-3v1h-5v1h-12v-2h-3v2h-7v-2h-3v1h-7v-2h-8v1h-5v1h-17v-2h-8v2h-7v-1h-8v1h-7v-2h-3v2h-7v-1h-3v1h-7v-1h-3v2h-7v-1h-5v-2h-3v2h-12v-1h-3v2h-7v-1h-5v-2h-3v2h-12v-1h-8v1h-5v3h-7v-3h-3v1h-7v-2h-5v-1h-10v-1h-5v-1h-3v2h-5v1h-5v1h-7v-2h-3v1h-5v2h-7v-1h-5v-1h-5v-1h-8v2h-17v-1h-3v1h-7v-1h-5v-1h-3v3h-7v-3h-3v1h-10v1h-7v-1h-13v2h-7v-3h-8v1h-5v2h-7v-2h-3v1h-7v-1h-5v-1h-3v4h-7v-2h-3v3h-7v-4h-3v1h-5v1h-7v-2h-13v1h-7v-2h-3v1h-5v1h-7v-1h-5v-1h-3v2h-5v1h-7v-2h-8v1h-7v-2h-3v3h-7v-1h-5v-1h-5v-1h-3v1h-10v2h-7v-2h-3v2h-7v-1h-5v-1h-10v-2h-8v1h-10v1h-5v2h-7v-1h-15v-2h-5v-1h-8v1h-5v2h-7v-1h-3v1h-7v-2h-3v3h-7v-2h-10v-1h-5v-1h-3v4h-7v-3h-3v2h-7v-1h-5v-1h-3v1h-30v2h-7v-3h-3v1h-15v2h-7v-2h-5v-1h-3v1h-10v3h-12v-2h-3v2h-5v6h-7v-1h-5v-2h-10v-1h-5v-1h-5v-1h-5v-1h-3v3h-5v2h-7v-6h-3v10h-7v-4h-5v-3h-3v3h-10v1h-7v-4h-8v1h-5v1h-10v2h-7v-3h-3v1h-5v1h-5v3h-7v-4h-5v-3h-5v-3h-13v1h-7v-2h-3v2h-20v1h-7v-2h-10v-2h-3v1h-10v2h-7v-2h-8v1h-5v1h-12v-1h-3v2h-7v-2h-10v-2h-8v3h-5v1h-7v-2h-5v-1h-18v1h-5v1h-12v-3h-3v1h-10v2h-7v-2h-13v2h-10v1h-7v-3h-3v1h-20v1h-7v-1h-3v1h-7v-1h-5v-1h-3v3h-12v-3h-3v3h-7v-3h-3v1h-5v1h-7v-2h-3v1h-5v1h-7v-1h-3v1h-7v-1h-3v2h-7v-3h-5v-1h-3v2h-5v3h-7v-2h-5v-2h-3v2h-7v-2h-3v2h-12v-1h-8v1h-5v2h-7v-3h-8v1h-7v-1h-15v-1h-3v1h-10v1h-12v-1h-8v2h-7v-1h-5v-1h-5v-1h-3v1h-12v-1h-3v2h-12v-1h-5v-1h-5v-1h-3v4h-7v-1h-15v-1h-3v2h-7v-2h-3v1h-12v-1h-3v1h-12v-2h-3v2h-7v-2h-3v4h-12v-4h-3v3h-12v-1h-5v-1h-18v1h-7v-1h-3v2h-7v-1h-5v-2h-3v1h-10v1h-7v-1h-13v1h-7v-1h-5v-2h-3v2h-7v-1h-3v1h-5v1h-7v-1h-5v-1h-25v-1h-3v3h-7v-2h-3v1h-5v1h-12v-1h-8v1h-7v-1h-5v-2h-3v2h-7v-1h-8v1h-5v1h-7v-1h-8v2h-7v-1h-5v-2h-3v1h-7v-1h-5v-1h-3v2h-10v1h-12v-2h-3v1h-7v-1h-3v1h-5v1h-7v-1h-8v1h-7v-1h-8v1h-5v1h-7v-2h-10v-1h-3v1h-10v2h-12v-1h-3v1h-7v-3h-10v-1h-3v1h-20v3h-7v-1h-5v-2h-3v2h-10v1h-7v-2h-15v-1h-3v2h-7v-2h-3v1h-5v2h-7v-1h-15v-1h-3v1h-7v-1h-3v1h-12v-2h-8v1h-5v1h-7v-3h-3v2h-7v-1h-13v1h-20v2h-7v-2h-20v-1h-3v3h-7v-4h-3v2h-7v-1h-3v1h-5v3h-7v-3h-20v-1h-8v2h-7v-1h-3v1h-12v-2h-8v3h-7v-1h-15v-1h-28v1h-12v-1h-3v1h-7v-1h-3v1h-12v-2h-8v1h-5v2h-7v-2h-8v1h-17v-1h-10v-1h-3v2h-7v-1h-10v-1h-3v1h-5v1h-5v1h-7v-2h-3v2h-7v-3h-3v1h-7v-1h-10v-1h-3v1h-5v2h-7v-2h-8v1h-7v-1h-3v2h-7v-1h-3v1h-7v-1h-13v1h-7v-3h-3v2h-10v2h-17v-2h-20v-1h-8v1h-5v1h-5v1h-7v-1h-5v-2h-13v2h-7v-1h-5v-1h-5v-1h-3v2h-5v2h-7v-4h-3v1h-12v-1h-3v2h-5v2h-7v-2h-8v1h-5v1h-7v-3h-8v2h-7v-2h-3v1h-12v-1h-3v1h-5v1h-7v-2h-8v1h-7v-1h-3v2h-10v1h-7v-2h-8v1h-7v-2h-3v1h-5v1h-22v-1h-20v-1h-3v1h-25v2h-7v-3h-3v2h-12v-1h-3v4h-7v-3h-5v-2h-3v1h-5v1h-5v3h-7v-4h-3v2h-7v-2h-13v1h-12v-2h-3v1h-5v1h-7v-3h-3v1h-25v1h-7v-1h-3v2h-7v-2h-3v1h-5v2h-12v-3h-3v1h-5v2h-7v-1h-3v1h-7v-1h-5v-2h-3v1h-7v-2h-8v1h-5v3h-12v-1h-5v-1h-15v-1h-8v1h-7v-2h-3v2h-7v-1h-3v1h-10v1h-7v-1h-15v-2h-3v5h-7v-3h-10v-2h-3v3h-7v-2h-3v3h-7v-2h-3v2h-7v-3h-13v2h-7v-1h-3v1h-7v-2h-3v1h-7v-1h-13v1h-7v-1h-8v1h-7v-1h-8v2h-12v-1h-10v-1h-18v1h-7v-1h-3v1h-20v1h-7v-1h-15v-1h-3v3h-7v-2h-10v-1h-3v1h-5v1h-7v-2h-3v2h-7v-2h-3v1h-37v-1h-3v1h-12v-1h-8v2h-7v-2h-3v2h-17v-2h-13v2h-12v-1h-13v1h-27v-2h-3v2h-7v-1h-5v-1h-3v1h-12v-1h-8v3h-7v-3h-8v2h-12v-2h-13v3h-7v-2h-5v-1h-3v2h-7v-2h-3v1h-7v-1h-3v1h-12v-1h-3v4h-7v-2h-5v-1h-5v-1h-3v2h-7v-1h-3v1h-7v-1h-10v-1h-8v3h-7v-2h-3v1h-7v-2h-8v1h-5v1h-7v-1h-5v-1h-3v1h-7v-1h-3v1h-10v2h-7v-2h-3v2h-7v-3h-8v1h-10v1h-7v-1h-3v1h-7v-1h-5v-1h-9Z"/>
<path fill="#008000" d="M1152 2033h6v2h3v-1h12v1h3v-2h12v1h3v-2h7v2h5v1h3v-1h5v-1h17v1h3v-1h5v-1h7v1h10v1h3v-1h5v-2h7v3h3v-1h7v1h3v-2h7v1h5v1h3v-2h7v1h5v2h18v-3h5v-1h7v2h13v-1h7v1h18v-2h5v-1h7v3h10v1h3v-2h7v3h3v-1h17v1h3v-3h5v-1h12v1h10v2h3v-2h17v1h3v-1h5v-1h7v2h10v2h8v-1h10v-2h7v2h3v-1h5v-1h12v1h3v-1h7v1h5v1h5v1h3v-1h10v-1h12v1h8v-1h12v1h3v-2h5v-2h7v3h3v-2h7v1h10v2h5v1h3v-2h17v1h20v1h3v-1h5v-1h10v-1h7v1h8v-2h7v1h15v1h3v-1h7v2h3v-2h5v-1h7v3h13v-2h7v1h8v-1h5v-1h17v3h3v-1h22v1h5v1h3v-3h7v1h3v-2h12v2h3v-1h7v1h15v1h8v-1h17v1h3v-1h7v1h3v-1h7v2h3v-2h5v-1h5v-1h7v2h3v-1h12v3h3v-2h12v1h3v-2h7v2h3v-1h10v-2h7v3h5v1h8v-2h5v-1h12v1h13v-2h7v2h5v1h8v-2h7v2h3v-1h5v-2h7v3h3v-2h7v2h3v-1h15v-2h7v3h3v-1h7v1h23v-2h7v1h3v-1h12v1h8v-2h7v3h3v-2h7v2h3v-3h7v1h5v1h3v-2h7v2h3v-1h7v2h3v-3h7v2h5v1h3v-2h5v-1h7v3h3v-3h7v1h5v2h3v-2h7v2h15v1h3v-1h5v-2h7v3h3v-3h17v1h8v-1h17v1h5v1h3v-1h5v-2h7v3h10v1h8v-1h5v-2h7v1h8v-2h7v3h3v-2h12v2h3v-1h7v1h3v-3h7v1h5v3h3v-5h7v3h3v-1h12v2h5v1h3v-1h7v1h3v-1h10v-2h7v2h3v-1h7v2h8v-3h7v2h18v-2h12v1h5v1h3v-4h7v4h3v-1h17v1h3v-2h12v2h3v-2h5v-2h7v4h3v-1h7v1h3v-3h7v3h13v-1h7v1h3v-1h12v1h3v-1h7v2h3v-2h5v-1h12v1h3v-2h7v1h5v1h3v-1h7v2h5v1h8v-2h7v1h5v1h3v-1h5v-2h7v2h5v1h3v-1h10v-1h7v1h3v-2h7v1h3v-1h7v1h8v-1h5v-3h7v5h3v-1h5v-1h7v2h3v-2h12v1h5v1h3v-1h7v1h3v-1h7v1h18v-1h12v1h3v-1h10v-1h7v2h3v-5h7v1h5v4h8v-2h12v3h3v-3h7v1h3v-1h5v-2h7v2h10v2h8v-1h17v1h3v-2h7v1h5v1h3v-1h7v1h3v-6h7v4h5v1h10v2h8v-1h5v-1h15v-1h7v2h3v-2h7v2h3v-4h7v1h5v4h3v-3h7v1h3v-1h7v3h5v1h3v-4h7v1h5v1h3v-1h7v1h3v-1h10v-2h12v1h5v1h23v-1h7v2h3v-2h7v1h10v1h3v-2h7v2h3v-2h7v2h8v-2h7v1h5v3h3v-2h5v-1h7v1h8v-1h12v1h3v-1h10v-4h7v2h5v1h10v1h10v2h3v-1h10v-2h7v1h10v1h5v1h3v-2h7v1h3v-1h10v-1h12v2h3v-1h12v1h5v1h3v-1h5v-1h7v1h3v-2h7v2h3v-1h7v2h3v-4h7v1h10v1h3v-1h7v1h8v-1h12v2h3v-1h12v3h3v-3h5v-1h7v2h8v-1h7v2h3v-3h7v2h8v-2h7v3h3v-2h7v1h5v1h3v-3h7v1h5v2h3v-3h7v1h5v2h3v-1h5v-1h7v2h3v-2h7v1h3v-1h7v1h3v-3h7v1h5v1h8v-1h7v2h8v-1h7v2h3v-2h12v1h5v1h3v-3h7v1h5v1h5v1h3v-2h5v-2h7v2h5v2h3v-3h7v1h3v-1h15v-1h7v2h5v2h3v-1h5v-2h7v2h3v-2h7v1h8v-1h7v2h3v-1h7v1h3v-2h5v-1h12v2h5v1h18v-2h7v1h5v1h3v-1h5v-1h7v1h5v1h5v1h3v-3h7v1h3v-1h7v1h5v2h3v-1h7v1h8v-2h5v-1h7v1h5v2h8v-2h5v-1h7v1h8v-2h7v2h3v-2h7v1h5v2h3v-1h12v1h3v-1h10v-3h7v4h3v-1h5v-1h7v2h3v-2h7v2h3v-2h12v2h5v1h3v-2h5v-1h7v2h3v-1h12v2h3v-1h5v-1h7v1h10v1h3v-1h5v-2h7v2h15v1h3v-1h5v-2h7v2h3v-1h10v-1h5v-2h5v-2h7v5h5v2h3v-1h5v-2h7v1h5v2h3v-4h5v-1h7v5h3v-1h15v-1h5v-2h7v4h8v-1h5v-1h22v1h3v-2h10v-4h10v-1h5v-122h7v14h5v1h3v-43h12v64h5v41h5v19h3v-17h5v-1h5v-1h7v23h3v-1h7v1h5v3h5v1h8v-1h7v9h5v1h8v-2h7v1h10v15h3v-17h7v1h10v13h5v2h5v1h3v-4h7v1h5v2h5v2h3v-2h5v-5h7v6h10v1h8v-2h5v-11h7v4h5v7h3v-9h7v5h5v3h5v1h10v2h3v-3h7v2h5v1h3v-5h7v5h3v-1h5v-4h7v6h8v-2h10v-4h7v4h8v-7h7v6h5v1h3v-1h5v-1h7v1h5v1h3v-2h5v-6h7v10h3v-3h7v2h3v-4h5v-2h7v4h5v2h5v2h3v-5h7v2h5v1h8v-1h10v-4h5v-5h7v8h8v-1h17v2h3v-2h5v-6h10v-1h7v8h5v1h3v-12h7v8h5v1h13v-1h7v3h3v-7h7v6h5v3h13v-1h5v-2h7v2h5v1h3v-3h7v3h3v-1h5v-1h7v1h18v-3h7v4h3v-4h7v2h8v-13h7v4h5v5h5v2h5v3h3v-3h5v-7h7v5h3v-2h7v5h10v1h3v-1h7v1h8v-4h7v3h3v-1h7v3h3v-1h5v-3h7v1h5v3h3v-4h7v1h5v2h5v2h3v-7h12v7h3v-7h7v4h5v3h3v-1h5v-1h5v-2h7v6h3v-3h20v-1h7v1h10v1h13v-3h7v3h3v-5h7v6h8v-2h5v-5h7v3h5v1h5v2h5v1h3v-1h5v-1h5v-1h5v-1h7v2h3v-4h7v5h3v-11h7v8h3v-4h7v8h3v-2h5v-1h5v-2h7v5h3v-1h7v2h3v-4h7v1h8v-6h7v1h5v6h3v-1h5v-2h7v2h5v2h8v-1h5v-2h5v-5h7v4h5v1h3v-1h7v1h10v2h5v2h3v-2h7v1h3v-1h5v-1h12v2h3v-1h5v-5h7v3h3v-1h7v2h3v-3h5v-2h7v2h3v-11h7v12h5v1h3v-1h7v2h5v2h3v-8h12v7h8v-1h5v-1h5v-2h7v3h5v2h3v-3h5v-7h7v7h10v3h3v-3h7v2h3v-1h5v-1h5v-1h7v3h3v-2h7v3h3v-4h7v2h5v1h3v-2h5v-3h7v5h8v-6h7v5h3v-7h7v6h5v5h3v-8h7v5h3v-2h12v1h3v-1h5v-6h7v6h5v2h3v-11h7v9h5v1h10v1h8v-1h7v1h3v-2h7v3h4V2053h-6v-4h-3v1h-7v-2h-3v1h-5v2h-7v-3h-25v-1h-8v4h-7v-1h-5v-2h-3v1h-5v2h-7v-4h-3v8h-7v-6h-3v1h-7v-2h-3v1h-15v2h-5v6h-5v1h-7v-10h-10v-2h-3v3h-5v10h-7v-10h-5v-3h-3v2h-5v2h-7v-1h-3v4h-7v-6h-3v8h-7v-5h-5v-1h-3v5h-7v-5h-5v-1h-3v7h-7v-8h-3v2h-10v4h-7v-3h-3v1h-7v-2h-3v1h-7v-2h-10v-2h-3v2h-5v2h-7v-1h-10v-1h-3v1h-10v4h-7v-3h-3v1h-10v3h-5v2h-7v-5h-10v-1h-5v-2h-10v-2h-3v3h-5v8h-7v-10h-3v3h-7v-1h-3v2h-7v-1h-3v6h-7v-8h-3v1h-5v2h-5v1h-7v-4h-3v1h-15v1h-7v-1h-3v2h-5v7h-7v-10h-3v6h-7v-6h-3v7h-7v-6h-3v3h-5v5h-7v-9h-3v2h-7v-2h-3v2h-5v1h-7v-1h-5v-1h-10v-1h-3v2h-7v-2h-3v7h-7v-4h-5v-1h-8v2h-7v-1h-10v-1h-5v-2h-3v7h-7v-7h-3v2h-7v-2h-3v3h-7v-3h-3v1h-17v-1h-5v-1h-3v3h-7v-2h-3v2h-7v-2h-3v2h-5v7h-7v-7h-13v1h-7v-2h-8v1h-7v-2h-3v9h-7v-6h-3v1h-5v2h-7v-3h-5v-3h-3v7h-7v-4h-8v3h-7v-5h-5v-1h-3v11h-7v-8h-3v6h-7v-7h-8v2h-7v-2h-5v-1h-3v5h-7v-3h-5v-2h-5v-1h-3v1h-10v4h-7v-3h-5v-1h-3v1h-7v-2h-8v2h-22v-1h-3v3h-12v-4h-3v4h-7v-1h-5v-1h-3v2h-7v-1h-3v3h-7v-6h-3v2h-5v1h-5v1h-7v-3h-3v3h-5v3h-7v-6h-3v5h-5v9h-7v-11h-3v1h-12v-1h-5v-3h-3v1h-12v-3h-3v4h-7v-3h-3v4h-7v-4h-3v1h-5v7h-7v-6h-5v-2h-3v1h-5v5h-7v-4h-3v6h-5v3h-7v-12h-13v2h-5v2h-7v-3h-5v-1h-3v3h-7v-2h-3v12h-7v-12h-3v1h-12v-1h-3v3h-7v-1h-3v1h-7v-3h-3v1h-5v6h-7v-8h-3v3h-7v-3h-3v1h-12v-1h-3v4h-17v-4h-3v1h-5v11h-7v-6h-5v-4h-3v11h-7v-10h-5v-2h-3v5h-7v-2h-3v9h-7v-11h-5v-2h-3v2h-7v-1h-8v18h-10v1h-7v-18h-3v11h-10v1h-7v-2h-8v1h-25v11h-5v1h-7v-1h-3v8h-7v-1h-5v-1h-3v12h-5v15h-5v21h-5v35h-27v-107h-15v-6h-3v1h-12v-1h-5v-1h-3v1h-5v1h-5v1h-22v-2h-8v2h-7v-3h-3v2h-5v3h-7v-3h-3v1h-12v-2h-3v1h-7v-1h-8v1h-7v-2h-3v1h-10v1h-10v1h-7v-1h-10v-1h-3v3h-7v-2h-5v-2h-3v2h-5v3h-12v-1h-5v-2h-3v1h-5v1h-17v-2h-5v-1h-3v1h-12v-1h-3v2h-5v1h-7v-3h-5v-1h-3v1h-7v-1h-3v2h-5v4h-7v-2h-5v-3h-3v2h-7v-3h-3v2h-7v-1h-3v1h-12v-1h-10v-1h-3v1h-5v1h-7v-2h-3v1h-5v4h-7v-1h-5v-1h-3v1h-7v-1h-5v-1h-8v3h-7v-2h-15v-3h-3v4h-7v-2h-5v-1h-8v2h-7v-2h-3v3h-7v-2h-5v-2h-8v3h-7v-2h-3v1h-7v-2h-3v1h-7v-2h-3v2h-5v1h-5v1h-7v-1h-5v-1h-3v2h-7v-2h-18v2h-5v1h-7v-2h-10v-1h-3v2h-7v-2h-3v1h-5v1h-12v-1h-3v1h-12v-1h-10v-1h-5v-1h-3v3h-7v-1h-3v2h-7v-1h-5v-1h-3v2h-7v-3h-3v1h-10v1h-7v-2h-5v-1h-3v1h-5v1h-17v-1h-3v3h-7v-2h-5v-1h-3v2h-7v-1h-5v-2h-3v2h-5v1h-7v-3h-3v3h-5v1h-12v-3h-3v2h-7v-1h-8v1h-7v-1h-10v-1h-3v2h-7v-3h-3v2h-17v-1h-3v1h-7v-2h-3v2h-12v-1h-15v-1h-5v-1h-3v5h-7v-3h-3v1h-22v-1h-3v2h-7v-2h-18v3h-7v-3h-8v1h-7v-1h-3v1h-7v-1h-3v1h-7v-2h-3v2h-10v1h-7v-2h-3v1h-5v1h-7v-2h-8v1h-7v-1h-13v1h-5v2h-7v-2h-25v-1h-8v2h-7v-2h-8v3h-7v-2h-3v3h-7v-3h-5v-1h-10v-1h-3v2h-7v-2h-3v3h-7v-2h-3v1h-17v-1h-10v-1h-8v3h-7v-2h-8v1h-10v1h-7v-2h-3v2h-7v-2h-8v1h-12v-1h-3v2h-7v-2h-8v3h-7v-3h-3v1h-7v-1h-8v1h-7v-1h-3v1h-27v-1h-3v1h-12v-1h-3v2h-7v-2h-3v1h-15v2h-7v-1h-5v-2h-3v1h-7v-1h-3v1h-12v-1h-3v3h-7v-2h-3v1h-7v-2h-8v1h-12v-2h-3v2h-5v3h-7v-2h-3v1h-7v-3h-3v3h-7v-3h-3v1h-10v1h-7v-1h-5v-1h-3v1h-7v-1h-5v-1h-3v2h-5v1h-7v-3h-3v1h-5v3h-7v-2h-5v-1h-5v-1h-3v1h-5v2h-12v-2h-3v1h-5v1h-7v-1h-5v-1h-8v1h-10v1h-7v-2h-3v4h-7v-3h-3v2h-7v-1h-5v-3h-3v4h-7v-3h-3v1h-7v-1h-3v1h-15v1h-7v-1h-3v1h-7v-1h-3v2h-7v-2h-3v2h-7v-2h-10v-1h-3v3h-7v-3h-13v3h-7v-3h-3v1h-5v1h-7v-2h-3v1h-5v1h-7v-2h-8v1h-7v-1h-5v-1h-3v2h-7v-1h-3v1h-12v-2h-3v1h-5v3h-7v-1h-5v-2h-13v2h-17v-1h-3v1h-7v-1h-5v-1h-3v2h-5v2h-7v-3h-3v2h-12v-3h-18v2h-17v-1h-5v-1h-15v-1h-3v4h-7v-2h-8v1h-7v-2h-3v2h-12v-2h-3v1h-7v-1h-3v1h-5v1h-17v-3h-3v1h-5v3h-7v-3h-3v2h-7v-3h-8v3h-7v-1h-5v-1h-3v2h-12v-2h-3v2h-7v-1h-5v-1h-3v2h-7v-1h-8v1h-12v-1h-5v-1h-10v-2h-3v2h-12v-1h-5v-1h-3v3h-7v-1h-8v2h-7v-2h-3v1h-5v3h-7v-3h-5v-1h-5v-1h-3v1h-5v2h-7v-1h-8v2h-7v-2h-3v1h-7v-2h-8v1h-10v1h-7v-2h-3v3h-7v-2h-3v3h-7v-4h-3v1h-7v-2h-3v4h-7v-4h-3v2h-10v1h-12v-3h-3v2h-5v2h-7v-1h-5v-2h-3v2h-7v-1h-3v2h-7v-3h-3v2h-7v-1h-8v1h-7v-3h-3v2h-10v1h-5v4h-7v-7h-3v2h-7v-2h-3v3h-7v-2h-3v2h-5v1h-7v-3h-3v2h-7v-1h-3v1h-12v-2h-8v1h-5v1h-7v-2h-3v1h-7v-1h-3v2h-5v1h-7v-2h-5v-1h-5v-1h-3v3h-7v-1h-5v-1h-13v1h-7v-1h-28v2h-5v1h-7v-3h-3v1h-10v1h-7v-2h-5v-1h-3v3h-7v-1h-5v-2h-3v1h-12v-1h-3v1h-10v1h-17v-1h-3v1h-5v2h-12v-2h-10v-2h-3v4h-7v-2h-5v-1h-3v1h-7v-1h-3v1h-10v1h-7v-1h-5v-1h-8v1h-10v1h-7v-1h-13v5h-7v-6h-3v2h-7v-1h-25v-1h-5v-1h-3v5h-7v-3h-8v1h-7v-1h-3v1h-5v1h-7v-2h-5v-1h-10v-1h-3v1h-7v-1h-3v2h-10v2h-7v-3h-8v1h-7v-2h-3v1h-5v2h-17v-1h-3v1h-7v-1h-5v-1h-8v2h-7v-2h-5v-1h-8v5h-7v-3h-13v1h-7v-1h-5v-2h-3v1h-5v1h-5v1h-12v-1h-3v2h-7v-2h-20v-2h-3v1h-5v2h-7v-2h-3v1h-15v2h-7v-2h-13v1h-5v1h-7v-3h-8v1h-7v-1h-28v2h-17v-2h-3v1h-6Z"/>
</g>
<path d="M608.50 321.28L606.63 327.04L600.58 327.04L605.47 330.59L603.60 336.35L608.50 332.79L613.40 336.35L611.53 330.59L616.42 327.04L610.37 327.04Z" fill="#ffff00" stroke="#ffff00" stroke-width="1.39" stroke-linejoin="bevel"/><path d="M1512.50 355.71L1510.63 361.47L1504.58 361.47L1509.47 365.02L1507.60 370.78L1512.50 367.22L1517.40 370.78L1515.53 365.02L1520.42 361.47L1514.37 361.47Z" fill="#ffff00" stroke="#ffff00" stroke-width="1.39" stroke-linejoin="bevel"/><path d="M834.50 975.45L832.63 981.21L826.58 981.21L831.47 984.76L829.60 990.52L834.50 986.96L839.40 990.52L837.53 984.76L842.42 981.21L836.37 981.21Z" fill="#ffff00" stroke="#ffff00" stroke-width="1.39" stroke-linejoin="bevel"/><path d="M857.20 1009.88L855.33 1015.64L849.28 1015.64L854.17 1019.19L852.30 1024.95L857.20 1021.39L862.10 1024.95L860.23 1019.19L865.12 1015.64L859.07 1015.64Z" fill="#ffff00" stroke="#ffff00" stroke-width="1.39" stroke-linejoin="bevel"/>
<path d="M747.6 371.1L746.0 371.3L744.4 371.4L742.8 371.5L741.3 371.6L739.7 371.7L738.1 371.7L736.6 371.8L735.0 371.8L733.5 371.9L731.9 371.9L730.4 371.9L728.8 371.9L727.3 371.9L725.8 371.9L724.2 371.9L722.7 371.8L721.2 371.8L719.7 371.7L718.1 371.6L716.6 371.6L715.1 371.5L713.6 371.3L712.1 371.2L710.6 371.1L709.1 370.9L707.6 370.8L706.1 370.6L704.6 370.4L703.1 370.3L701.7 370.1L700.2 369.8L698.7 369.6L697.2 369.4L695.8 369.1L694.3 368.9L692.8 368.6L691.4 368.3L689.9 368.0L688.5 367.7L687.0 367.4L685.6 367.1L684.1 366.8L682.7 366.4L681.3 366.1L679.8 365.7L678.4 365.3L677.0 364.9L675.6 364.5L674.1 364.1L672.7 363.7L671.3 363.2L669.9 362.8L668.5 362.3L667.1 361.8L665.7 361.3L664.3 360.8L662.9 360.3L661.5 359.8L660.1 359.3L658.7 358.8L657.4 358.2L656.0 357.6L654.6 357.1L653.2 356.5L651.9 355.9L650.5 355.3L649.2 354.6L647.8 354.0L646.5 353.4L645.1 352.7L643.8 352.0L642.4 351.4L641.1 350.7L639.7 350.0L638.4 349.3L637.1 348.5L635.7 347.8L634.4 347.1L633.1 346.3L631.8 345.5L630.5 344.7L629.2 344.0L627.9 343.1L626.6 342.3L625.3 341.5L624.0 340.7L622.7 339.8L621.4 339.0L620.1 338.1L618.8 337.2L617.5 336.3L616.2 335.4L615.1 334.6" fill="none" stroke="#000" stroke-width="1.39"/><rect x="750.33" y="359.87" width="118.30" height="22.00" rx="4.17" fill="#fff" fill-opacity="0.6" stroke="#000" stroke-opacity="0.6" stroke-width="1.39"/><text x="754.50" y="374.67" font-family="DejaVu Sans, Liberation Sans, sans-serif" font-size="13.89px">NEVADA, 3.2 ml</text><path d="M1373.4 405.6L1375.0 405.7L1376.6 405.8L1378.2 405.9L1379.7 406.0L1381.3 406.1L1382.9 406.2L1384.4 406.2L1386.0 406.3L1387.5 406.3L1389.1 406.3L1390.6 406.4L1392.2 406.4L1393.7 406.4L1395.2 406.3L1396.8 406.3L1398.3 406.3L1399.8 406.2L1401.3 406.1L1402.9 406.1L1404.4 406.0L1405.9 405.9L1407.4 405.8L1408.9 405.7L1410.4 405.5L1411.9 405.4L1413.4 405.2L1414.9 405.1L1416.4 404.9L1417.9 404.7L1419.3 404.5L1420.8 404.3L1422.3 404.1L1423.8 403.8L1425.2 403.6L1426.7 403.3L1428.2 403.0L1429.6 402.8L1431.1 402.5L1432.5 402.2L1434.0 401.9L1435.4 401.5L1436.9 401.2L1438.3 400.8L1439.7 400.5L1441.2 400.1L1442.6 399.7L1444.0 399.3L1445.4 398.9L1446.9 398.5L1448.3 398.1L1449.7 397.6L1451.1 397.2L1452.5 396.7L1453.9 396.3L1455.3 395.8L1456.7 395.3L1458.1 394.8L1459.5 394.3L1460.9 393.7L1462.3 393.2L1463.6 392.6L1465.0 392.1L1466.4 391.5L1467.8 390.9L1469.1 390.3L1470.5 389.7L1471.8 389.1L1473.2 388.4L1474.5 387.8L1475.9 387.1L1477.2 386.5L1478.6 385.8L1479.9 385.1L1481.3 384.4L1482.6 383.7L1483.9 383.0L1485.3 382.2L1486.6 381.5L1487.9 380.7L1489.2 380.0L1490.5 379.2L1491.8 378.4L1493.1 377.6L1494.4 376.8L1495.7 375.9L1497.0 375.1L1498.3 374.3L1499.6 373.4L1500.9 372.5L1502.2 371.6L1503.5 370.7L1504.8 369.8L1505.9 369.0" fill="none" stroke="#000" stroke-width="1.39"/><rect x="1057.68" y="394.30" width="312.99" height="22.00" rx="4.17" fill="#fff" fill-opacity="0.6" stroke="#000" stroke-opacity="0.6" stroke-width="1.39"/><text x="1061.85" y="409.10" font-family="DejaVu Sans, Liberation Sans, sans-serif" font-size="13.89px">RAT ISLANDS, ALEUTIAN ISLANDS, 5.9 mww</text><path d="M973.6 942.3L972.0 942.1L970.4 942.0L968.8 941.9L967.3 941.8L965.7 941.7L964.1 941.7L962.6 941.6L961.0 941.5L959.5 941.5L957.9 941.5L956.4 941.5L954.8 941.5L953.3 941.5L951.8 941.5L950.2 941.5L948.7 941.6L947.2 941.6L945.7 941.7L944.1 941.8L942.6 941.8L941.1 941.9L939.6 942.0L938.1 942.2L936.6 942.3L935.1 942.4L933.6 942.6L932.1 942.8L930.6 942.9L929.1 943.1L927.7 943.3L926.2 943.5L924.7 943.8L923.2 944.0L921.8 944.2L920.3 944.5L918.8 944.8L917.4 945.1L915.9 945.3L914.5 945.6L913.0 946.0L911.6 946.3L910.1 946.6L908.7 947.0L907.3 947.3L905.8 947.7L904.4 948.1L903.0 948.5L901.6 948.9L900.1 949.3L898.7 949.7L897.3 950.2L895.9 950.6L894.5 951.1L893.1 951.6L891.7 952.0L890.3 952.5L888.9 953.0L887.5 953.6L886.1 954.1L884.7 954.6L883.4 955.2L882.0 955.8L880.6 956.3L879.2 956.9L877.9 957.5L876.5 958.1L875.2 958.8L873.8 959.4L872.5 960.0L871.1 960.7L869.8 961.3L868.4 962.0L867.1 962.7L865.7 963.4L864.4 964.1L863.1 964.9L861.7 965.6L860.4 966.3L859.1 967.1L857.8 967.9L856.5 968.6L855.2 969.4L853.9 970.2L852.6 971.1L851.3 971.9L850.0 972.7L848.7 973.6L847.4 974.4L846.1 975.3L844.8 976.2L843.5 977.1L842.2 978.0L841.1 978.8" fill="none" stroke="#000" stroke-width="1.39"/><rect x="976.33" y="931.52" width="212.75" height="22.00" rx="4.17" fill="#fff" fill-opacity="0.6" stroke="#000" stroke-opacity="0.6" stroke-width="1.39"/><text x="980.50" y="946.32" font-family="DejaVu Sans, Liberation Sans, sans-serif" font-size="13.89px">CENTRAL CALIFORNIA, 3.5 ml</text><path d="M996.3 976.7L994.7 976.6L993.1 976.4L991.5 976.3L990.0 976.2L988.4 976.2L986.8 976.1L985.3 976.0L983.7 976.0L982.2 975.9L980.6 975.9L979.1 975.9L977.5 975.9L976.0 975.9L974.5 975.9L972.9 975.9L971.4 976.0L969.9 976.0L968.4 976.1L966.8 976.2L965.3 976.3L963.8 976.4L962.3 976.5L960.8 976.6L959.3 976.7L957.8 976.9L956.3 977.0L954.8 977.2L953.3 977.4L951.8 977.6L950.4 977.8L948.9 978.0L947.4 978.2L945.9 978.4L944.5 978.7L943.0 978.9L941.5 979.2L940.1 979.5L938.6 979.8L937.2 980.1L935.7 980.4L934.3 980.7L932.8 981.1L931.4 981.4L930.0 981.8L928.5 982.1L927.1 982.5L925.7 982.9L924.3 983.3L922.8 983.7L921.4 984.2L920.0 984.6L918.6 985.1L917.2 985.5L915.8 986.0L914.4 986.5L913.0 987.0L911.6 987.5L910.2 988.0L908.8 988.5L907.4 989.1L906.1 989.6L904.7 990.2L903.3 990.8L901.9 991.4L900.6 991.9L899.2 992.6L897.9 993.2L896.5 993.8L895.2 994.5L893.8 995.1L892.5 995.8L891.1 996.5L889.8 997.1L888.4 997.8L887.1 998.6L885.8 999.3L884.4 1000.0L883.1 1000.8L881.8 1001.5L880.5 1002.3L879.2 1003.1L877.9 1003.9L876.6 1004.7L875.3 1005.5L874.0 1006.3L872.7 1007.1L871.4 1008.0L870.1 1008.9L868.8 1009.7L867.5 1010.6L866.2 1011.5L864.9 1012.4L863.8 1013.2" fill="none" stroke="#000" stroke-width="1.39"/><rect x="999.03" y="965.95" width="247.64" height="22.00" rx="4.17" fill="#fff" fill-opacity="0.6" stroke="#000" stroke-opacity="0.6" stroke-width="1.39"/><text x="1003.20" y="980.75" font-family="DejaVu Sans, Liberation Sans, sans-serif" font-size="13.89px">OFF COAST OF OREGON, 6.0 mww</text>
<rect x="230.5" y="60.5" width="1460" height="1020" fill="none" stroke="#000" stroke-width="1.1"/>
<path d="M225.6 88.5H230.5M225.6 123.5H230.5M225.6 157.5H230.5M225.6 191.5H230.5M225.6 226.5H230.5M225.6 260.5H230.5M225.6 295.5H230.5M225.6 329.5H230.5M225.6 364.5H230.5M225.6 398.5H230.5M225.6 432.5H230.5M225.6 467.5H230.5M225.6 501.5H230.5M225.6 536.5H230.5M225.6 570.5H230.5M225.6 605.5H230.5M225.6 639.5H230.5M225.6 673.5H230.5M225.6 708.5H230.5M225.6 742.5H230.5M225.6 777.5H230.5M225.6 811.5H230.5M225.6 846.5H230.5M225.6 880.5H230.5M225.6 914.5H230.5M225.6 949.5H230.5M225.6 983.5H230.5M225.6 1018.5H230.5M225.6 1052.5H230.5M230.5 1080.5V1085.4M595.5 1080.5V1085.4M960.5 1080.5V1085.4M1325.5 1080.5V1085.4M1690.5 1080.5V1085.4" stroke="#000" stroke-width="1.1" fill="none"/>
<g font-family="DejaVu Sans, Liberation Sans, sans-serif" font-size="11.11px" fill="#000">
<text x="219.8" y="92" text-anchor="end">00:00:06</text>
<text x="219.8" y="127" text-anchor="end">01:00:06</text>
<text x="219.8" y="161" text-anchor="end">02:00:06</text>
<text x="219.8" y="195" text-anchor="end">03:00:06</text>
<text x="219.8" y="230" text-anchor="end">04:00:06</text>
<text x="219.8" y="264" text-anchor="end">05:00:06</text>
<text x="219.8" y="299" text-anchor="end">06:00:06</text>
<text x="219.8" y="333" text-anchor="end">07:00:06</text>
<text x="219.8" y="368" text-anchor="end">08:00:06</text>
<text x="219.8" y="402" text-anchor="end">09:00:06</text>
<text x="219.8" y="436" text-anchor="end">10:00:06</text>
<text x="219.8" y="471" text-anchor="end">11:00:06</text>
<text x="219.8" y="505" text-anchor="end">12:00:06</text>
<text x="219.8" y="540" text-anchor="end">13:00:06</text>
<text x="219.8" y="574" text-anchor="end">14:00:06</text>
<text x="219.8" y="609" text-anchor="end">15:00:06</text>
<text x="219.8" y="643" text-anchor="end">16:00:06</text>
<text x="219.8" y="677" text-anchor="end">17:00:06</text>
<text x="219.8" y="712" text-anchor="end">18:00:06</text>
<text x="219.8" y="746" text-anchor="end">19:00:06</text>
<text x="219.8" y="781" text-anchor="end">20:00:06</text>
<text x="219.8" y="815" text-anchor="end">21:00:06</text>
<text x="219.8" y="850" text-anchor="end">22:00:06</text>
<text x="219.8" y="884" text-anchor="end">23:00:06</text>
<text x="219.8" y="918" text-anchor="end">00:00:06</text>
<text x="219.8" y="953" text-anchor="end">01:00:06</text>
<text x="219.8" y="987" text-anchor="end">02:00:06</text>
<text x="219.8" y="1022" text-anchor="end">03:00:06</text>
<text x="219.8" y="1056" text-anchor="end">04:00:06</text>
<text x="230.4" y="1098" text-anchor="middle">0</text>
<text x="595.2" y="1098" text-anchor="middle">15</text>
<text x="960.0" y="1098" text-anchor="middle">30</text>
<text x="1324.8" y="1098" text-anchor="middle">45</text>
<text x="1689.6" y="1098" text-anchor="middle">60</text>
<text x="960" y="1113" text-anchor="middle">time in minutes</text>
</g>
<text x="960" y="35" text-anchor="middle" font-family="DejaVu Sans, Liberation Sans, sans-serif" font-size="13.89px">US.EDHPI.00.BHZ</text>
</svg>
</body></html>
